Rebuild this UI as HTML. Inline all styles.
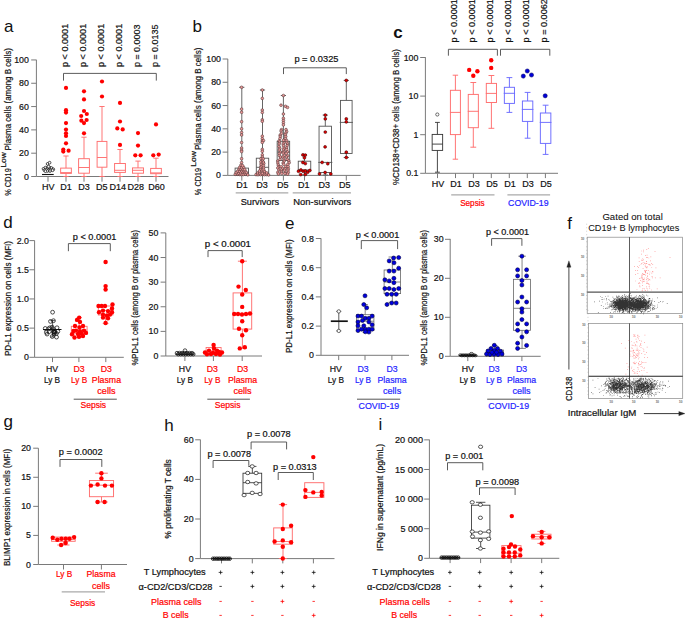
<!DOCTYPE html>
<html><head><meta charset="utf-8"><title>Figure</title>
<style>html,body{margin:0;padding:0;background:#fff;}svg{display:block;}</style></head>
<body><svg width="685" height="619" viewBox="0 0 685 619" font-family='"Liberation Sans", sans-serif' fill="#111">
<rect width="685" height="619" fill="#fff"/>
<text x="4" y="32.1" font-size="17">a</text>
<line x1="36.4" y1="59.8" x2="36.4" y2="176.5" stroke="#7a7a7a" stroke-width="1"/>
<line x1="31.2" y1="176.5" x2="36.4" y2="176.5" stroke="#7a7a7a" stroke-width="1"/>
<text x="28.9" y="179.54" font-size="8.8" stroke="#111" stroke-width="0.2" text-anchor="end">0</text>
<line x1="31.2" y1="153.19" x2="36.4" y2="153.19" stroke="#7a7a7a" stroke-width="1"/>
<text x="28.9" y="156.23" font-size="8.8" stroke="#111" stroke-width="0.2" text-anchor="end">20</text>
<line x1="31.2" y1="129.88" x2="36.4" y2="129.88" stroke="#7a7a7a" stroke-width="1"/>
<text x="28.9" y="132.92" font-size="8.8" stroke="#111" stroke-width="0.2" text-anchor="end">40</text>
<line x1="31.2" y1="106.57" x2="36.4" y2="106.57" stroke="#7a7a7a" stroke-width="1"/>
<text x="28.9" y="109.61" font-size="8.8" stroke="#111" stroke-width="0.2" text-anchor="end">60</text>
<line x1="31.2" y1="83.26" x2="36.4" y2="83.26" stroke="#7a7a7a" stroke-width="1"/>
<text x="28.9" y="86.3" font-size="8.8" stroke="#111" stroke-width="0.2" text-anchor="end">80</text>
<line x1="31.2" y1="59.95" x2="36.4" y2="59.95" stroke="#7a7a7a" stroke-width="1"/>
<text x="28.9" y="62.99" font-size="8.8" stroke="#111" stroke-width="0.2" text-anchor="end">100</text>
<line x1="36.4" y1="176.5" x2="168.5" y2="176.5" stroke="#7a7a7a" stroke-width="1"/>
<line x1="48" y1="176.5" x2="48" y2="181.7" stroke="#7a7a7a" stroke-width="1"/>
<line x1="66" y1="176.5" x2="66" y2="181.7" stroke="#7a7a7a" stroke-width="1"/>
<line x1="84" y1="176.5" x2="84" y2="181.7" stroke="#7a7a7a" stroke-width="1"/>
<line x1="102" y1="176.5" x2="102" y2="181.7" stroke="#7a7a7a" stroke-width="1"/>
<line x1="120" y1="176.5" x2="120" y2="181.7" stroke="#7a7a7a" stroke-width="1"/>
<line x1="138" y1="176.5" x2="138" y2="181.7" stroke="#7a7a7a" stroke-width="1"/>
<line x1="156" y1="176.5" x2="156" y2="181.7" stroke="#7a7a7a" stroke-width="1"/>
<text x="48.2" y="189.6" font-size="9" stroke="#111" stroke-width="0.2" text-anchor="middle">HV</text>
<text x="66" y="189.6" font-size="9" stroke="#111" stroke-width="0.2" text-anchor="middle">D1</text>
<text x="84" y="189.6" font-size="9" stroke="#111" stroke-width="0.2" text-anchor="middle">D3</text>
<text x="101.8" y="189.6" font-size="9" stroke="#111" stroke-width="0.2" text-anchor="middle">D5</text>
<text x="117.8" y="189.6" font-size="9" stroke="#111" stroke-width="0.2" text-anchor="middle">D14</text>
<text x="135.7" y="189.6" font-size="9" stroke="#111" stroke-width="0.2" text-anchor="middle">D28</text>
<text x="156.4" y="189.6" font-size="9" stroke="#111" stroke-width="0.2" text-anchor="middle">D60</text>
<text transform="translate(11.2,195.8) rotate(-90)" font-size="9" stroke="#111" stroke-width="0.2" textLength="27.6" lengthAdjust="spacingAndGlyphs">% CD19</text>
<text transform="translate(6.4,167.6) rotate(-90)" font-size="7.6" stroke="#111" stroke-width="0.2" textLength="15.3" lengthAdjust="spacingAndGlyphs">Low</text>
<text transform="translate(11.2,150.4) rotate(-90)" font-size="8.8" stroke="#111" stroke-width="0.2" textLength="102.2" lengthAdjust="spacingAndGlyphs">Plasma cells (among B cells)</text>
<text transform="translate(68.3,67) rotate(-90)" font-size="9" stroke="#111" stroke-width="0.2" textLength="43.2" lengthAdjust="spacingAndGlyphs">p &lt; 0.0001</text>
<text transform="translate(86.3,67) rotate(-90)" font-size="9" stroke="#111" stroke-width="0.2" textLength="43.2" lengthAdjust="spacingAndGlyphs">p &lt; 0.0001</text>
<text transform="translate(104.3,67) rotate(-90)" font-size="9" stroke="#111" stroke-width="0.2" textLength="43.2" lengthAdjust="spacingAndGlyphs">p &lt; 0.0001</text>
<text transform="translate(122.3,67) rotate(-90)" font-size="9" stroke="#111" stroke-width="0.2" textLength="43.2" lengthAdjust="spacingAndGlyphs">p &lt; 0.0001</text>
<text transform="translate(140.3,67) rotate(-90)" font-size="9" stroke="#111" stroke-width="0.2" textLength="42.4" lengthAdjust="spacingAndGlyphs">p = 0.0003</text>
<text transform="translate(158.3,67) rotate(-90)" font-size="9" stroke="#111" stroke-width="0.2" textLength="42.4" lengthAdjust="spacingAndGlyphs">p = 0.0135</text>
<path d="M63.5 80.6V73.4H156.3V80.6" stroke="#4a4a4a" stroke-width="0.9" fill="none"/>
<line x1="42" y1="174.5" x2="53.7" y2="174.5" stroke="#111" stroke-width="1.1"/>
<g fill="#fff" stroke="#111" stroke-width="0.75"><circle cx="47.6" cy="163.9" r="1.35"/><circle cx="49.6" cy="162.7" r="1.35"/><circle cx="43.5" cy="168.8" r="1.35"/><circle cx="45.5" cy="167.6" r="1.35"/><circle cx="47.5" cy="168" r="1.35"/><circle cx="49.5" cy="167.5" r="1.35"/><circle cx="51.5" cy="168" r="1.35"/><circle cx="53.3" cy="169.3" r="1.35"/><circle cx="44.5" cy="170.3" r="1.35"/><circle cx="46.5" cy="169.8" r="1.35"/><circle cx="48.5" cy="170.2" r="1.35"/><circle cx="50.5" cy="169.8" r="1.35"/><circle cx="52.5" cy="170.3" r="1.35"/><circle cx="47.5" cy="171" r="1.35"/><circle cx="50" cy="171" r="1.35"/><circle cx="45.5" cy="171.2" r="1.35"/><circle cx="48.5" cy="166.6" r="1.35"/></g>
<line x1="66" y1="156" x2="66" y2="168.1" stroke="#ff6e6e" stroke-width="0.95"/>
<line x1="63.4" y1="156" x2="68.6" y2="156" stroke="#ff6e6e" stroke-width="0.95"/>
<line x1="66" y1="173.4" x2="66" y2="176.5" stroke="#ff6e6e" stroke-width="0.95"/>
<line x1="63.4" y1="176.5" x2="68.6" y2="176.5" stroke="#ff6e6e" stroke-width="0.95"/>
<rect x="60.65" y="168.1" width="10.7" height="5.3" stroke="#ff6e6e" stroke-width="0.95" fill="none"/>
<line x1="60.65" y1="172.6" x2="71.35" y2="172.6" stroke="#ff6e6e" stroke-width="0.95"/>
<line x1="84" y1="137.2" x2="84" y2="158.7" stroke="#ff6e6e" stroke-width="0.95"/>
<line x1="81.4" y1="137.2" x2="86.6" y2="137.2" stroke="#ff6e6e" stroke-width="0.95"/>
<line x1="84" y1="173.2" x2="84" y2="176.5" stroke="#ff6e6e" stroke-width="0.95"/>
<line x1="81.4" y1="176.5" x2="86.6" y2="176.5" stroke="#ff6e6e" stroke-width="0.95"/>
<rect x="78.6" y="158.7" width="10.8" height="14.5" stroke="#ff6e6e" stroke-width="0.95" fill="none"/>
<line x1="78.6" y1="167.5" x2="89.4" y2="167.5" stroke="#ff6e6e" stroke-width="0.95"/>
<line x1="102" y1="106.5" x2="102" y2="141.4" stroke="#ff6e6e" stroke-width="0.95"/>
<line x1="99.4" y1="106.5" x2="104.6" y2="106.5" stroke="#ff6e6e" stroke-width="0.95"/>
<line x1="102" y1="167.2" x2="102" y2="176.5" stroke="#ff6e6e" stroke-width="0.95"/>
<line x1="99.4" y1="176.5" x2="104.6" y2="176.5" stroke="#ff6e6e" stroke-width="0.95"/>
<rect x="97.1" y="141.4" width="9.8" height="25.8" stroke="#ff6e6e" stroke-width="0.95" fill="none"/>
<line x1="97.1" y1="157.5" x2="106.9" y2="157.5" stroke="#ff6e6e" stroke-width="0.95"/>
<line x1="120" y1="149.5" x2="120" y2="163.5" stroke="#ff6e6e" stroke-width="0.95"/>
<line x1="117.4" y1="149.5" x2="122.6" y2="149.5" stroke="#ff6e6e" stroke-width="0.95"/>
<line x1="120" y1="172.4" x2="120" y2="176.5" stroke="#ff6e6e" stroke-width="0.95"/>
<line x1="117.4" y1="176.5" x2="122.6" y2="176.5" stroke="#ff6e6e" stroke-width="0.95"/>
<rect x="114.6" y="163.5" width="10.8" height="8.9" stroke="#ff6e6e" stroke-width="0.95" fill="none"/>
<line x1="114.6" y1="170.3" x2="125.4" y2="170.3" stroke="#ff6e6e" stroke-width="0.95"/>
<line x1="138" y1="161.1" x2="138" y2="167.9" stroke="#ff6e6e" stroke-width="0.95"/>
<line x1="135.4" y1="161.1" x2="140.6" y2="161.1" stroke="#ff6e6e" stroke-width="0.95"/>
<line x1="138" y1="173.2" x2="138" y2="176.5" stroke="#ff6e6e" stroke-width="0.95"/>
<line x1="135.4" y1="176.5" x2="140.6" y2="176.5" stroke="#ff6e6e" stroke-width="0.95"/>
<rect x="132.5" y="167.9" width="11" height="5.3" stroke="#ff6e6e" stroke-width="0.95" fill="none"/>
<line x1="132.5" y1="170.3" x2="143.5" y2="170.3" stroke="#ff6e6e" stroke-width="0.95"/>
<line x1="156" y1="158.2" x2="156" y2="168.4" stroke="#ff6e6e" stroke-width="0.95"/>
<line x1="153.4" y1="158.2" x2="158.6" y2="158.2" stroke="#ff6e6e" stroke-width="0.95"/>
<line x1="156" y1="173.7" x2="156" y2="176.5" stroke="#ff6e6e" stroke-width="0.95"/>
<line x1="153.4" y1="176.5" x2="158.6" y2="176.5" stroke="#ff6e6e" stroke-width="0.95"/>
<rect x="150.65" y="168.4" width="10.7" height="5.3" stroke="#ff6e6e" stroke-width="0.95" fill="none"/>
<line x1="150.65" y1="172.9" x2="161.35" y2="172.9" stroke="#ff6e6e" stroke-width="0.95"/>
<g fill="#ff0000"><circle cx="66" cy="87.9" r="2.1"/><circle cx="66" cy="110.2" r="2.1"/><circle cx="66" cy="112.6" r="2.1"/><circle cx="66" cy="123.1" r="2.1"/><circle cx="66" cy="129.6" r="2.1"/><circle cx="66" cy="133.3" r="2.1"/><circle cx="66" cy="136" r="2.1"/><circle cx="66" cy="143.3" r="2.1"/><circle cx="63.3" cy="149.5" r="2.1"/><circle cx="63.3" cy="151.6" r="2.1"/><circle cx="68.6" cy="150.7" r="2.1"/><circle cx="84" cy="91.3" r="2.1"/><circle cx="84" cy="99.4" r="2.1"/><circle cx="84" cy="111" r="2.1"/><circle cx="86.8" cy="114" r="2.1"/><circle cx="81.2" cy="116" r="2.1"/><circle cx="86.6" cy="120" r="2.1"/><circle cx="81.4" cy="120.7" r="2.1"/><circle cx="84" cy="123.1" r="2.1"/><circle cx="84" cy="133.3" r="2.1"/><circle cx="102" cy="81.5" r="2.1"/><circle cx="102" cy="96.5" r="2.1"/><circle cx="120" cy="102.9" r="2.1"/><circle cx="120" cy="121.5" r="2.1"/><circle cx="117.3" cy="128.4" r="2.1"/><circle cx="122.7" cy="129.4" r="2.1"/><circle cx="120" cy="144.9" r="2.1"/><circle cx="138" cy="133.1" r="2.1"/><circle cx="138" cy="145.6" r="2.1"/><circle cx="135.3" cy="155.3" r="2.1"/><circle cx="140.6" cy="155.3" r="2.1"/><circle cx="156" cy="124.4" r="2.1"/><circle cx="153.3" cy="155.3" r="2.1"/><circle cx="158.7" cy="154.6" r="2.1"/></g>
<text x="192.5" y="32.3" font-size="17">b</text>
<line x1="227.8" y1="58.9" x2="227.8" y2="175.4" stroke="#7a7a7a" stroke-width="1"/>
<line x1="222.6" y1="175.4" x2="227.8" y2="175.4" stroke="#7a7a7a" stroke-width="1"/>
<text x="221" y="178.44" font-size="8.8" stroke="#111" stroke-width="0.2" text-anchor="end">0</text>
<line x1="222.6" y1="152.12" x2="227.8" y2="152.12" stroke="#7a7a7a" stroke-width="1"/>
<text x="221" y="155.16" font-size="8.8" stroke="#111" stroke-width="0.2" text-anchor="end">20</text>
<line x1="222.6" y1="128.84" x2="227.8" y2="128.84" stroke="#7a7a7a" stroke-width="1"/>
<text x="221" y="131.88" font-size="8.8" stroke="#111" stroke-width="0.2" text-anchor="end">40</text>
<line x1="222.6" y1="105.56" x2="227.8" y2="105.56" stroke="#7a7a7a" stroke-width="1"/>
<text x="221" y="108.6" font-size="8.8" stroke="#111" stroke-width="0.2" text-anchor="end">60</text>
<line x1="222.6" y1="82.28" x2="227.8" y2="82.28" stroke="#7a7a7a" stroke-width="1"/>
<text x="221" y="85.32" font-size="8.8" stroke="#111" stroke-width="0.2" text-anchor="end">80</text>
<line x1="222.6" y1="59" x2="227.8" y2="59" stroke="#7a7a7a" stroke-width="1"/>
<text x="221" y="62.04" font-size="8.8" stroke="#111" stroke-width="0.2" text-anchor="end">100</text>
<line x1="227.8" y1="175.4" x2="360.6" y2="175.4" stroke="#7a7a7a" stroke-width="1"/>
<line x1="241.8" y1="175.4" x2="241.8" y2="180.6" stroke="#7a7a7a" stroke-width="1"/>
<line x1="262.5" y1="175.4" x2="262.5" y2="180.6" stroke="#7a7a7a" stroke-width="1"/>
<line x1="283.4" y1="175.4" x2="283.4" y2="180.6" stroke="#7a7a7a" stroke-width="1"/>
<line x1="304.5" y1="175.4" x2="304.5" y2="180.6" stroke="#7a7a7a" stroke-width="1"/>
<line x1="325.3" y1="175.4" x2="325.3" y2="180.6" stroke="#7a7a7a" stroke-width="1"/>
<line x1="346.3" y1="175.4" x2="346.3" y2="180.6" stroke="#7a7a7a" stroke-width="1"/>
<text x="242" y="188" font-size="9" stroke="#111" stroke-width="0.2" text-anchor="middle">D1</text>
<text x="262" y="188" font-size="9" stroke="#111" stroke-width="0.2" text-anchor="middle">D3</text>
<text x="282.7" y="188" font-size="9" stroke="#111" stroke-width="0.2" text-anchor="middle">D5</text>
<text x="303.8" y="188" font-size="9" stroke="#111" stroke-width="0.2" text-anchor="middle">D1</text>
<text x="324.3" y="188" font-size="9" stroke="#111" stroke-width="0.2" text-anchor="middle">D3</text>
<text x="344.7" y="188" font-size="9" stroke="#111" stroke-width="0.2" text-anchor="middle">D5</text>
<line x1="235.7" y1="192.9" x2="288.3" y2="192.9" stroke="#aaa" stroke-width="1.2"/>
<line x1="292.7" y1="192.9" x2="351" y2="192.9" stroke="#aaa" stroke-width="1.2"/>
<text x="240.7" y="204.9" font-size="8.8" stroke="#111" stroke-width="0.2" textLength="38.4" lengthAdjust="spacingAndGlyphs">Survivors</text>
<text x="293.3" y="204.9" font-size="8.8" stroke="#111" stroke-width="0.2" textLength="58" lengthAdjust="spacingAndGlyphs">Non-survivors</text>
<text transform="translate(201,195.2) rotate(-90)" font-size="9" stroke="#111" stroke-width="0.2" textLength="27.4" lengthAdjust="spacingAndGlyphs">% CD19</text>
<text transform="translate(196.4,166.8) rotate(-90)" font-size="7.6" stroke="#111" stroke-width="0.2" textLength="15.6" lengthAdjust="spacingAndGlyphs">Low</text>
<text transform="translate(201,150) rotate(-90)" font-size="8.8" stroke="#111" stroke-width="0.2" textLength="102.4" lengthAdjust="spacingAndGlyphs">Plasma cells (among B cells)</text>
<text x="294.4" y="62" font-size="9" stroke="#111" stroke-width="0.2" textLength="44.1" lengthAdjust="spacingAndGlyphs">p = 0.0325</text>
<path d="M283.5 74.1V67.8H346.3V74.1" stroke="#4a4a4a" stroke-width="0.9" fill="none"/>
<line x1="241.8" y1="87.3" x2="241.8" y2="168.1" stroke="#555" stroke-width="0.9"/>
<line x1="239.2" y1="87.3" x2="244.4" y2="87.3" stroke="#555" stroke-width="0.9"/>
<rect x="235.1" y="168.1" width="13.4" height="7.3" stroke="#555" stroke-width="0.9" fill="none"/>
<line x1="235.1" y1="172.5" x2="248.5" y2="172.5" stroke="#555" stroke-width="0.9"/>
<line x1="262.5" y1="90" x2="262.5" y2="158.2" stroke="#555" stroke-width="0.9"/>
<line x1="259.9" y1="90" x2="265.1" y2="90" stroke="#555" stroke-width="0.9"/>
<rect x="256.3" y="158.2" width="12.4" height="17.2" stroke="#555" stroke-width="0.9" fill="none"/>
<line x1="256.3" y1="167.3" x2="268.7" y2="167.3" stroke="#555" stroke-width="0.9"/>
<line x1="283.4" y1="95.5" x2="283.4" y2="141.3" stroke="#555" stroke-width="0.9"/>
<line x1="280.8" y1="95.5" x2="286" y2="95.5" stroke="#555" stroke-width="0.9"/>
<rect x="277.15" y="141.3" width="12.5" height="19.2" stroke="#555" stroke-width="0.9" fill="none"/>
<line x1="277.15" y1="152" x2="289.65" y2="152" stroke="#555" stroke-width="0.9"/>
<line x1="304.5" y1="154.9" x2="304.5" y2="161.2" stroke="#555" stroke-width="0.9"/>
<line x1="302.3" y1="154.9" x2="306.7" y2="154.9" stroke="#555" stroke-width="0.9"/>
<line x1="304.5" y1="170.8" x2="304.5" y2="175" stroke="#555" stroke-width="0.9"/>
<line x1="302.3" y1="175" x2="306.7" y2="175" stroke="#555" stroke-width="0.9"/>
<rect x="298.25" y="161.2" width="12.5" height="9.6" stroke="#555" stroke-width="0.9" fill="none"/>
<line x1="298.25" y1="170" x2="310.75" y2="170" stroke="#555" stroke-width="0.9"/>
<line x1="325.3" y1="115.1" x2="325.3" y2="126.2" stroke="#555" stroke-width="0.9"/>
<line x1="322.7" y1="115.1" x2="327.9" y2="115.1" stroke="#555" stroke-width="0.9"/>
<line x1="325.3" y1="172.5" x2="325.3" y2="175" stroke="#555" stroke-width="0.9"/>
<line x1="322.7" y1="175" x2="327.9" y2="175" stroke="#555" stroke-width="0.9"/>
<rect x="319.05" y="126.2" width="12.5" height="46.3" stroke="#555" stroke-width="0.9" fill="none"/>
<line x1="318.25" y1="162.4" x2="332.35" y2="162.4" stroke="#555" stroke-width="0.9"/>
<line x1="346.3" y1="80.4" x2="346.3" y2="100.4" stroke="#555" stroke-width="0.9"/>
<line x1="343.7" y1="80.4" x2="348.9" y2="80.4" stroke="#555" stroke-width="0.9"/>
<line x1="346.3" y1="153.5" x2="346.3" y2="157.5" stroke="#555" stroke-width="0.9"/>
<line x1="343.7" y1="157.5" x2="348.9" y2="157.5" stroke="#555" stroke-width="0.9"/>
<rect x="340.5" y="100.4" width="11.6" height="53.1" stroke="#555" stroke-width="0.9" fill="none"/>
<line x1="339.7" y1="122.4" x2="352.9" y2="122.4" stroke="#555" stroke-width="0.9"/>
<g fill="#ee9a9a" stroke="#4a3030" stroke-width="0.55"><circle cx="241.6" cy="87.3" r="1.35"/><circle cx="241.6" cy="109.1" r="1.35"/><circle cx="241.6" cy="112.3" r="1.35"/><circle cx="241.6" cy="121.7" r="1.35"/><circle cx="241.6" cy="128.8" r="1.35"/><circle cx="241.6" cy="132.5" r="1.35"/><circle cx="241.6" cy="135" r="1.35"/><circle cx="241.6" cy="142.5" r="1.35"/><circle cx="241.6" cy="148.1" r="1.35"/><circle cx="241.6" cy="150.3" r="1.35"/><circle cx="241.6" cy="151.6" r="1.35"/><circle cx="241.6" cy="158.7" r="1.35"/><circle cx="241.6" cy="162.6" r="1.35"/><circle cx="235.28" cy="174.32" r="1.35"/><circle cx="237.57" cy="174.26" r="1.35"/><circle cx="239.56" cy="174.49" r="1.35"/><circle cx="241.29" cy="174.61" r="1.35"/><circle cx="243.34" cy="174.55" r="1.35"/><circle cx="245.43" cy="174.27" r="1.35"/><circle cx="247.75" cy="174.86" r="1.35"/><circle cx="236.34" cy="172.58" r="1.35"/><circle cx="238.69" cy="173.16" r="1.35"/><circle cx="240.65" cy="172.72" r="1.35"/><circle cx="242.93" cy="172.44" r="1.35"/><circle cx="244.85" cy="172.63" r="1.35"/><circle cx="246.35" cy="172.49" r="1.35"/><circle cx="237.67" cy="171.25" r="1.35"/><circle cx="239.48" cy="171.07" r="1.35"/><circle cx="241.7" cy="170.9" r="1.35"/><circle cx="243.53" cy="170.65" r="1.35"/><circle cx="245.09" cy="170.76" r="1.35"/><circle cx="238.93" cy="169.14" r="1.35"/><circle cx="240.54" cy="169.27" r="1.35"/><circle cx="242.5" cy="169.04" r="1.35"/><circle cx="244.61" cy="169.36" r="1.35"/><circle cx="239.62" cy="167.46" r="1.35"/><circle cx="241.62" cy="167.7" r="1.35"/><circle cx="243.56" cy="167.23" r="1.35"/><circle cx="240.94" cy="165.19" r="1.35"/><circle cx="242.54" cy="165.71" r="1.35"/><circle cx="262.3" cy="90" r="1.35"/><circle cx="262.3" cy="98.4" r="1.35"/><circle cx="262.3" cy="110.1" r="1.35"/><circle cx="262.3" cy="112.5" r="1.35"/><circle cx="262.3" cy="119.8" r="1.35"/><circle cx="262.3" cy="121.3" r="1.35"/><circle cx="262.3" cy="136.2" r="1.35"/><circle cx="262.3" cy="138.7" r="1.35"/><circle cx="262.3" cy="140.9" r="1.35"/><circle cx="263.5" cy="140.6" r="1.35"/><circle cx="262.3" cy="142.5" r="1.35"/><circle cx="262.3" cy="149.4" r="1.35"/><circle cx="262.3" cy="151.3" r="1.35"/><circle cx="262.3" cy="154.9" r="1.35"/><circle cx="262.3" cy="157.1" r="1.35"/><circle cx="256.06" cy="174.59" r="1.35"/><circle cx="257.98" cy="174.73" r="1.35"/><circle cx="260.49" cy="174.66" r="1.35"/><circle cx="262.56" cy="174.45" r="1.35"/><circle cx="264.44" cy="174.68" r="1.35"/><circle cx="266.36" cy="174.56" r="1.35"/><circle cx="268.54" cy="174.96" r="1.35"/><circle cx="257.78" cy="172.93" r="1.35"/><circle cx="259.74" cy="172.96" r="1.35"/><circle cx="262.4" cy="173.19" r="1.35"/><circle cx="264.78" cy="172.63" r="1.35"/><circle cx="266.72" cy="172.93" r="1.35"/><circle cx="259.57" cy="170.97" r="1.35"/><circle cx="262.07" cy="170.69" r="1.35"/><circle cx="264.39" cy="171.21" r="1.35"/><circle cx="260.74" cy="169" r="1.35"/><circle cx="263.52" cy="169.5" r="1.35"/><circle cx="260.71" cy="167.36" r="1.35"/><circle cx="263.63" cy="167.71" r="1.35"/><circle cx="261.22" cy="165.89" r="1.35"/><circle cx="263.44" cy="165.53" r="1.35"/><circle cx="261" cy="164.11" r="1.35"/><circle cx="263.82" cy="163.52" r="1.35"/><circle cx="260.87" cy="161.79" r="1.35"/><circle cx="263.31" cy="161.99" r="1.35"/><circle cx="262.36" cy="160.01" r="1.35"/><circle cx="260.95" cy="158.74" r="1.35"/><circle cx="263.21" cy="158.85" r="1.35"/><circle cx="283.4" cy="95.5" r="1.35"/><circle cx="281" cy="105.2" r="1.35"/><circle cx="285.5" cy="106.3" r="1.35"/><circle cx="287.5" cy="107.4" r="1.35"/><circle cx="283.4" cy="114" r="1.35"/><circle cx="283.4" cy="118.3" r="1.35"/><circle cx="283.4" cy="120.5" r="1.35"/><circle cx="283.4" cy="122.7" r="1.35"/><circle cx="283.4" cy="124.9" r="1.35"/><circle cx="281.52" cy="129.65" r="1.35"/><circle cx="286.02" cy="129.59" r="1.35"/><circle cx="281.08" cy="130.99" r="1.35"/><circle cx="286.64" cy="131.57" r="1.35"/><circle cx="281.4" cy="133.44" r="1.35"/><circle cx="285.83" cy="133.12" r="1.35"/><circle cx="280.17" cy="135.16" r="1.35"/><circle cx="285.3" cy="134.7" r="1.35"/><circle cx="280.33" cy="136.63" r="1.35"/><circle cx="285.74" cy="136.54" r="1.35"/><circle cx="280" cy="138.47" r="1.35"/><circle cx="285.36" cy="138.64" r="1.35"/><circle cx="279.04" cy="140.9" r="1.35"/><circle cx="283.58" cy="140.32" r="1.35"/><circle cx="286.6" cy="140.48" r="1.35"/><circle cx="279.58" cy="142.15" r="1.35"/><circle cx="283.96" cy="142.84" r="1.35"/><circle cx="286.95" cy="142.44" r="1.35"/><circle cx="279.14" cy="143.98" r="1.35"/><circle cx="283.15" cy="144.11" r="1.35"/><circle cx="287.53" cy="144.03" r="1.35"/><circle cx="279.04" cy="146.51" r="1.35"/><circle cx="283.45" cy="145.87" r="1.35"/><circle cx="287.07" cy="145.77" r="1.35"/><circle cx="279.84" cy="148.38" r="1.35"/><circle cx="283.98" cy="148.16" r="1.35"/><circle cx="286.62" cy="147.89" r="1.35"/><circle cx="279.27" cy="150.07" r="1.35"/><circle cx="283.45" cy="150.07" r="1.35"/><circle cx="286.73" cy="149.63" r="1.35"/><circle cx="280.3" cy="152.09" r="1.35"/><circle cx="283.96" cy="151.94" r="1.35"/><circle cx="287.51" cy="151.89" r="1.35"/><circle cx="279.36" cy="153.56" r="1.35"/><circle cx="283.17" cy="153.17" r="1.35"/><circle cx="286.24" cy="153.37" r="1.35"/><circle cx="279.41" cy="155.55" r="1.35"/><circle cx="284.13" cy="155.36" r="1.35"/><circle cx="287.7" cy="155.79" r="1.35"/><circle cx="280.53" cy="157.14" r="1.35"/><circle cx="282.95" cy="157.03" r="1.35"/><circle cx="286.51" cy="157.01" r="1.35"/><circle cx="280" cy="159.42" r="1.35"/><circle cx="283.94" cy="159.08" r="1.35"/><circle cx="287.24" cy="159.34" r="1.35"/><circle cx="277.74" cy="161.08" r="1.35"/><circle cx="284.06" cy="161.18" r="1.35"/><circle cx="288.8" cy="160.93" r="1.35"/><circle cx="277.89" cy="163.03" r="1.35"/><circle cx="283.13" cy="163.04" r="1.35"/><circle cx="289.15" cy="162.72" r="1.35"/><circle cx="278.24" cy="165.01" r="1.35"/><circle cx="283.76" cy="164.39" r="1.35"/><circle cx="287.8" cy="164.37" r="1.35"/><circle cx="279.05" cy="166.75" r="1.35"/><circle cx="281.17" cy="166.76" r="1.35"/><circle cx="285.84" cy="166.63" r="1.35"/><circle cx="288.16" cy="166.54" r="1.35"/><circle cx="277.81" cy="167.96" r="1.35"/><circle cx="282.49" cy="168.47" r="1.35"/><circle cx="285.11" cy="168.7" r="1.35"/><circle cx="288.29" cy="168.65" r="1.35"/><circle cx="278.92" cy="169.97" r="1.35"/><circle cx="281.34" cy="170.03" r="1.35"/><circle cx="284.65" cy="170.27" r="1.35"/><circle cx="288.01" cy="170.14" r="1.35"/><circle cx="277.81" cy="172.38" r="1.35"/><circle cx="281.5" cy="172.02" r="1.35"/><circle cx="285.2" cy="172.37" r="1.35"/><circle cx="288.27" cy="172.38" r="1.35"/><circle cx="278.4" cy="173.93" r="1.35"/><circle cx="281.77" cy="173.51" r="1.35"/><circle cx="284.97" cy="173.65" r="1.35"/><circle cx="287.61" cy="174.14" r="1.35"/></g>
<g fill="#e00000" stroke="#3a0000" stroke-width="0.55"><circle cx="302.9" cy="154.9" r="1.45"/><circle cx="305.3" cy="155.1" r="1.45"/><circle cx="304.4" cy="157.8" r="1.45"/><circle cx="302.9" cy="162.5" r="1.45"/><circle cx="305.3" cy="163.6" r="1.45"/><circle cx="298.5" cy="171.3" r="1.45"/><circle cx="300.9" cy="170" r="1.45"/><circle cx="303.2" cy="171.3" r="1.45"/><circle cx="305.3" cy="170.9" r="1.45"/><circle cx="307.6" cy="172.3" r="1.45"/><circle cx="309.8" cy="170.5" r="1.45"/><circle cx="300.7" cy="174.6" r="1.45"/><circle cx="305.3" cy="174.4" r="1.45"/><circle cx="325.3" cy="115.1" r="1.45"/><circle cx="325.3" cy="118.9" r="1.45"/><circle cx="325.3" cy="132.1" r="1.45"/><circle cx="325.1" cy="146.9" r="1.45"/><circle cx="322.1" cy="162.4" r="1.45"/><circle cx="327.8" cy="163.7" r="1.45"/><circle cx="325.1" cy="172.5" r="1.45"/><circle cx="319.5" cy="173.9" r="1.45"/><circle cx="330.8" cy="173.9" r="1.45"/><circle cx="346.3" cy="80.4" r="1.45"/><circle cx="346.3" cy="118.9" r="1.45"/><circle cx="346.3" cy="121.9" r="1.45"/><circle cx="346.3" cy="152.2" r="1.45"/><circle cx="346.3" cy="157.5" r="1.45"/></g>
<text x="393.2" y="38.4" font-size="17" font-weight="bold">c</text>
<line x1="425.4" y1="57.2" x2="425.4" y2="173.3" stroke="#7a7a7a" stroke-width="1"/>
<line x1="420.2" y1="173.3" x2="425.4" y2="173.3" stroke="#7a7a7a" stroke-width="1"/>
<text x="418.4" y="176.34" font-size="8.8" stroke="#111" stroke-width="0.2" text-anchor="end">0.1</text>
<line x1="420.2" y1="134.7" x2="425.4" y2="134.7" stroke="#7a7a7a" stroke-width="1"/>
<text x="418.4" y="137.74" font-size="8.8" stroke="#111" stroke-width="0.2" text-anchor="end">1</text>
<line x1="420.2" y1="96.1" x2="425.4" y2="96.1" stroke="#7a7a7a" stroke-width="1"/>
<text x="418.4" y="99.14" font-size="8.8" stroke="#111" stroke-width="0.2" text-anchor="end">10</text>
<line x1="420.2" y1="57.5" x2="425.4" y2="57.5" stroke="#7a7a7a" stroke-width="1"/>
<text x="418.4" y="60.54" font-size="8.8" stroke="#111" stroke-width="0.2" text-anchor="end">100</text>
<line x1="425.4" y1="173.3" x2="558" y2="173.3" stroke="#7a7a7a" stroke-width="1"/>
<line x1="437.5" y1="173.3" x2="437.5" y2="178.1" stroke="#7a7a7a" stroke-width="1"/>
<line x1="455.5" y1="173.3" x2="455.5" y2="178.1" stroke="#7a7a7a" stroke-width="1"/>
<line x1="473.4" y1="173.3" x2="473.4" y2="178.1" stroke="#7a7a7a" stroke-width="1"/>
<line x1="491.3" y1="173.3" x2="491.3" y2="178.1" stroke="#7a7a7a" stroke-width="1"/>
<line x1="509.3" y1="173.3" x2="509.3" y2="178.1" stroke="#7a7a7a" stroke-width="1"/>
<line x1="527.3" y1="173.3" x2="527.3" y2="178.1" stroke="#7a7a7a" stroke-width="1"/>
<line x1="545.4" y1="173.3" x2="545.4" y2="178.1" stroke="#7a7a7a" stroke-width="1"/>
<text x="438.1" y="187.2" font-size="9" stroke="#111" stroke-width="0.2" text-anchor="middle">HV</text>
<text x="456.1" y="187.2" font-size="9" stroke="#111" stroke-width="0.2" text-anchor="middle">D1</text>
<text x="474" y="187.2" font-size="9" stroke="#111" stroke-width="0.2" text-anchor="middle">D3</text>
<text x="491.9" y="187.2" font-size="9" stroke="#111" stroke-width="0.2" text-anchor="middle">D5</text>
<text x="509.9" y="187.2" font-size="9" stroke="#111" stroke-width="0.2" text-anchor="middle">D1</text>
<text x="527.9" y="187.2" font-size="9" stroke="#111" stroke-width="0.2" text-anchor="middle">D3</text>
<text x="546" y="187.2" font-size="9" stroke="#111" stroke-width="0.2" text-anchor="middle">D5</text>
<line x1="451.2" y1="194.9" x2="494.5" y2="194.9" stroke="#aaa" stroke-width="1.3"/>
<line x1="507.4" y1="194.9" x2="550.1" y2="194.9" stroke="#aaa" stroke-width="1.3"/>
<text x="472.4" y="205.9" font-size="8.7" stroke="#ff0000" stroke-width="0.2" text-anchor="middle" fill="#ff0000" textLength="24.5" lengthAdjust="spacingAndGlyphs">Sepsis</text>
<text x="528.3" y="205.9" font-size="8.7" stroke="#1f1fff" stroke-width="0.2" text-anchor="middle" fill="#1f1fff" textLength="40.5" lengthAdjust="spacingAndGlyphs">COVID-19</text>
<text transform="translate(398.6,184.9) rotate(-90)" font-size="9" stroke="#111" stroke-width="0.2" textLength="135.8" lengthAdjust="spacingAndGlyphs">%CD138+CD38+ cells (among B cells)</text>
<text transform="translate(457,42.4) rotate(-90)" font-size="9" stroke="#111" stroke-width="0.2" textLength="43.2" lengthAdjust="spacingAndGlyphs">p &lt; 0.0001</text>
<text transform="translate(474.9,42.4) rotate(-90)" font-size="9" stroke="#111" stroke-width="0.2" textLength="43.2" lengthAdjust="spacingAndGlyphs">p &lt; 0.0001</text>
<text transform="translate(492.8,42.4) rotate(-90)" font-size="9" stroke="#111" stroke-width="0.2" textLength="43.2" lengthAdjust="spacingAndGlyphs">p &lt; 0.0001</text>
<text transform="translate(511.1,42.4) rotate(-90)" font-size="9" stroke="#111" stroke-width="0.2" textLength="43.2" lengthAdjust="spacingAndGlyphs">p &lt; 0.0001</text>
<text transform="translate(528.5,42.4) rotate(-90)" font-size="9" stroke="#111" stroke-width="0.2" textLength="43.2" lengthAdjust="spacingAndGlyphs">p &lt; 0.0001</text>
<text transform="translate(546.9,42.4) rotate(-90)" font-size="9" stroke="#111" stroke-width="0.2" textLength="43.2" lengthAdjust="spacingAndGlyphs">p = 0.0062</text>
<path d="M448.4 55.7V49.3H497.4V55.7" stroke="#4a4a4a" stroke-width="0.9" fill="none"/>
<path d="M500.5 55.7V49.3H549.8V55.7" stroke="#4a4a4a" stroke-width="0.9" fill="none"/>
<line x1="437.4" y1="122.4" x2="437.4" y2="134.4" stroke="#333" stroke-width="0.9"/>
<line x1="435" y1="122.4" x2="439.8" y2="122.4" stroke="#333" stroke-width="0.9"/>
<line x1="437.4" y1="150.4" x2="437.4" y2="172.2" stroke="#333" stroke-width="0.9"/>
<line x1="435" y1="172.2" x2="439.8" y2="172.2" stroke="#333" stroke-width="0.9"/>
<rect x="432.15" y="134.4" width="10.5" height="16" stroke="#333" stroke-width="0.9" fill="none"/>
<line x1="432.15" y1="144.1" x2="442.65" y2="144.1" stroke="#333" stroke-width="0.9"/>
<g fill="#fff" stroke="#333" stroke-width="0.7"><circle cx="437.3" cy="114.5" r="1.6"/></g>
<line x1="455.4" y1="75.2" x2="455.4" y2="90.3" stroke="#ff6e6e" stroke-width="0.95"/>
<line x1="452.7" y1="75.2" x2="458.1" y2="75.2" stroke="#ff6e6e" stroke-width="0.95"/>
<line x1="455.4" y1="134.6" x2="455.4" y2="159.2" stroke="#ff6e6e" stroke-width="0.95"/>
<line x1="452.7" y1="159.2" x2="458.1" y2="159.2" stroke="#ff6e6e" stroke-width="0.95"/>
<rect x="450.4" y="90.3" width="10" height="44.3" stroke="#ff6e6e" stroke-width="0.95" fill="none"/>
<line x1="449.9" y1="112.4" x2="460.9" y2="112.4" stroke="#ff6e6e" stroke-width="0.95"/>
<line x1="473.3" y1="82.5" x2="473.3" y2="94.4" stroke="#ff6e6e" stroke-width="0.95"/>
<line x1="470.4" y1="82.5" x2="476.2" y2="82.5" stroke="#ff6e6e" stroke-width="0.95"/>
<line x1="473.3" y1="127.7" x2="473.3" y2="147.2" stroke="#ff6e6e" stroke-width="0.95"/>
<line x1="470.4" y1="147.2" x2="476.2" y2="147.2" stroke="#ff6e6e" stroke-width="0.95"/>
<rect x="468.25" y="94.4" width="10.1" height="33.3" stroke="#ff6e6e" stroke-width="0.95" fill="none"/>
<line x1="467.75" y1="111.3" x2="478.85" y2="111.3" stroke="#ff6e6e" stroke-width="0.95"/>
<line x1="491.4" y1="75.5" x2="491.4" y2="83.4" stroke="#ff6e6e" stroke-width="0.95"/>
<line x1="488.5" y1="75.5" x2="494.3" y2="75.5" stroke="#ff6e6e" stroke-width="0.95"/>
<line x1="491.4" y1="102.5" x2="491.4" y2="128.3" stroke="#ff6e6e" stroke-width="0.95"/>
<line x1="488.5" y1="128.3" x2="494.3" y2="128.3" stroke="#ff6e6e" stroke-width="0.95"/>
<rect x="486.3" y="83.4" width="10.2" height="19.1" stroke="#ff6e6e" stroke-width="0.95" fill="none"/>
<line x1="485.8" y1="93.4" x2="497" y2="93.4" stroke="#ff6e6e" stroke-width="0.95"/>
<g fill="#ff0000"><circle cx="469.2" cy="69.9" r="2.2"/><circle cx="477.4" cy="71.3" r="2.2"/><circle cx="473.3" cy="75.7" r="2.2"/><circle cx="491.2" cy="60.3" r="2.2"/><circle cx="491.2" cy="67.9" r="2.2"/></g>
<line x1="509.4" y1="77.6" x2="509.4" y2="87.3" stroke="#6a6aff" stroke-width="0.95"/>
<line x1="506.5" y1="77.6" x2="512.3" y2="77.6" stroke="#6a6aff" stroke-width="0.95"/>
<line x1="509.4" y1="103.4" x2="509.4" y2="112.4" stroke="#6a6aff" stroke-width="0.95"/>
<line x1="506.5" y1="112.4" x2="512.3" y2="112.4" stroke="#6a6aff" stroke-width="0.95"/>
<rect x="504.35" y="87.3" width="10.1" height="16.1" stroke="#6a6aff" stroke-width="0.95" fill="none"/>
<line x1="503.75" y1="93.3" x2="515.05" y2="93.3" stroke="#6a6aff" stroke-width="0.95"/>
<line x1="527.6" y1="92.4" x2="527.6" y2="101" stroke="#6a6aff" stroke-width="0.95"/>
<line x1="524.7" y1="92.4" x2="530.5" y2="92.4" stroke="#6a6aff" stroke-width="0.95"/>
<line x1="527.6" y1="121.4" x2="527.6" y2="138.2" stroke="#6a6aff" stroke-width="0.95"/>
<line x1="524.7" y1="138.2" x2="530.5" y2="138.2" stroke="#6a6aff" stroke-width="0.95"/>
<rect x="522.4" y="101" width="10.4" height="20.4" stroke="#6a6aff" stroke-width="0.95" fill="none"/>
<line x1="521.8" y1="109.4" x2="533.4" y2="109.4" stroke="#6a6aff" stroke-width="0.95"/>
<line x1="545.6" y1="105.2" x2="545.6" y2="113" stroke="#6a6aff" stroke-width="0.95"/>
<line x1="542.7" y1="105.2" x2="548.5" y2="105.2" stroke="#6a6aff" stroke-width="0.95"/>
<line x1="545.6" y1="143.4" x2="545.6" y2="154.4" stroke="#6a6aff" stroke-width="0.95"/>
<line x1="542.7" y1="154.4" x2="548.5" y2="154.4" stroke="#6a6aff" stroke-width="0.95"/>
<rect x="540.35" y="113" width="10.5" height="30.4" stroke="#6a6aff" stroke-width="0.95" fill="none"/>
<line x1="539.75" y1="122.4" x2="551.45" y2="122.4" stroke="#6a6aff" stroke-width="0.95"/>
<g fill="#0000d8" stroke="#00005a" stroke-width="0.5"><circle cx="523.3" cy="76.1" r="2.1"/><circle cx="527.3" cy="71" r="2.1"/><circle cx="531.5" cy="75" r="2.1"/><circle cx="545.2" cy="95.8" r="2.1"/></g>
<text x="3.3" y="228.2" font-size="17">d</text>
<line x1="34.6" y1="240.5" x2="34.6" y2="357.3" stroke="#7a7a7a" stroke-width="1"/>
<line x1="29.4" y1="357.3" x2="34.6" y2="357.3" stroke="#7a7a7a" stroke-width="1"/>
<text x="28.9" y="360.34" font-size="8.8" stroke="#111" stroke-width="0.2" text-anchor="end">0</text>
<line x1="29.4" y1="328.12" x2="34.6" y2="328.12" stroke="#7a7a7a" stroke-width="1"/>
<text x="28.9" y="331.16" font-size="8.8" stroke="#111" stroke-width="0.2" text-anchor="end">0.5</text>
<line x1="29.4" y1="298.95" x2="34.6" y2="298.95" stroke="#7a7a7a" stroke-width="1"/>
<text x="28.9" y="301.99" font-size="8.8" stroke="#111" stroke-width="0.2" text-anchor="end">1.0</text>
<line x1="29.4" y1="269.77" x2="34.6" y2="269.77" stroke="#7a7a7a" stroke-width="1"/>
<text x="28.9" y="272.81" font-size="8.8" stroke="#111" stroke-width="0.2" text-anchor="end">1.5</text>
<line x1="29.4" y1="240.6" x2="34.6" y2="240.6" stroke="#7a7a7a" stroke-width="1"/>
<text x="28.9" y="243.64" font-size="8.8" stroke="#111" stroke-width="0.2" text-anchor="end">2.0</text>
<line x1="34.6" y1="357.3" x2="123.8" y2="357.3" stroke="#7a7a7a" stroke-width="1"/>
<line x1="52.5" y1="357.3" x2="52.5" y2="362.1" stroke="#7a7a7a" stroke-width="1"/>
<line x1="78.9" y1="357.3" x2="78.9" y2="362.1" stroke="#7a7a7a" stroke-width="1"/>
<line x1="105.8" y1="357.3" x2="105.8" y2="362.1" stroke="#7a7a7a" stroke-width="1"/>
<text x="52" y="371.8" font-size="8.7" stroke="#111" stroke-width="0.2" text-anchor="middle" textLength="12.1" lengthAdjust="spacingAndGlyphs">HV</text>
<text x="52" y="383" font-size="8.7" stroke="#111" stroke-width="0.2" text-anchor="middle" textLength="16.2" lengthAdjust="spacingAndGlyphs">Ly B</text>
<text x="79.1" y="371.8" font-size="8.7" stroke="#ff0000" stroke-width="0.2" text-anchor="middle" fill="#ff0000" textLength="11.2" lengthAdjust="spacingAndGlyphs">D3</text>
<text x="79.1" y="383" font-size="8.7" stroke="#ff0000" stroke-width="0.2" text-anchor="middle" fill="#ff0000" textLength="16.2" lengthAdjust="spacingAndGlyphs">Ly B</text>
<text x="106.4" y="371.8" font-size="8.7" stroke="#ff0000" stroke-width="0.2" text-anchor="middle" fill="#ff0000" textLength="11.2" lengthAdjust="spacingAndGlyphs">D3</text>
<text x="106.4" y="383" font-size="8.7" stroke="#ff0000" stroke-width="0.2" text-anchor="middle" fill="#ff0000" textLength="29.2" lengthAdjust="spacingAndGlyphs">Plasma</text>
<text x="106.4" y="394.2" font-size="8.7" stroke="#ff0000" stroke-width="0.2" text-anchor="middle" fill="#ff0000" textLength="18.2" lengthAdjust="spacingAndGlyphs">cells</text>
<line x1="73.7" y1="399.2" x2="116.8" y2="399.2" stroke="#555" stroke-width="1"/>
<text x="93.3" y="407.9" font-size="8.7" stroke="#ff0000" stroke-width="0.2" text-anchor="middle" fill="#ff0000" textLength="25.7" lengthAdjust="spacingAndGlyphs">Sepsis</text>
<text transform="translate(10.8,356) rotate(-90)" font-size="9" stroke="#111" stroke-width="0.2" textLength="115" lengthAdjust="spacingAndGlyphs">PD-L1 expression on cells (MFI)</text>
<text x="72.8" y="239.7" font-size="9" stroke="#111" stroke-width="0.2" textLength="43.6" lengthAdjust="spacingAndGlyphs">p &lt; 0.0001</text>
<path d="M68.4 251.2V243.6H110.3V251.2" stroke="#4a4a4a" stroke-width="0.9" fill="none"/>
<line x1="43" y1="329.5" x2="61.5" y2="329.5" stroke="#111" stroke-width="1"/>
<line x1="52.6" y1="320.6" x2="52.6" y2="336.9" stroke="#333" stroke-width="0.8"/>
<line x1="50.2" y1="320.6" x2="55" y2="320.6" stroke="#333" stroke-width="0.8"/>
<line x1="50.2" y1="336.9" x2="55" y2="336.9" stroke="#333" stroke-width="0.8"/>
<g fill="none" stroke="#111" stroke-width="0.75"><circle cx="52.6" cy="312.2" r="1.9"/><circle cx="50.5" cy="321.4" r="1.9"/><circle cx="53.5" cy="320.7" r="1.9"/><circle cx="53.5" cy="331.55" r="1.9"/><circle cx="52.28" cy="336.5" r="1.9"/><circle cx="53.86" cy="332.13" r="1.9"/><circle cx="52.78" cy="328.74" r="1.9"/><circle cx="56.38" cy="333.41" r="1.9"/><circle cx="49.78" cy="327.79" r="1.9"/><circle cx="57.03" cy="327.75" r="1.9"/><circle cx="47.06" cy="334.08" r="1.9"/><circle cx="56.53" cy="337.11" r="1.9"/><circle cx="54.06" cy="333.67" r="1.9"/><circle cx="45.25" cy="328.45" r="1.9"/><circle cx="46.35" cy="332.35" r="1.9"/><circle cx="48.59" cy="328.8" r="1.9"/><circle cx="52.11" cy="327.12" r="1.9"/><circle cx="57.84" cy="331.43" r="1.9"/><circle cx="54.61" cy="332.25" r="1.9"/><circle cx="54.96" cy="332.05" r="1.9"/><circle cx="49.26" cy="331.6" r="1.9"/></g>
<line x1="79.2" y1="317.6" x2="79.2" y2="326.3" stroke="#ff6e6e" stroke-width="0.9"/>
<line x1="76.6" y1="317.6" x2="81.8" y2="317.6" stroke="#ff6e6e" stroke-width="0.9"/>
<line x1="79.2" y1="333.7" x2="79.2" y2="337.5" stroke="#ff6e6e" stroke-width="0.9"/>
<line x1="76.6" y1="337.5" x2="81.8" y2="337.5" stroke="#ff6e6e" stroke-width="0.9"/>
<rect x="71.3" y="326.3" width="15.8" height="7.4" stroke="#ff6e6e" stroke-width="0.9" fill="none"/>
<line x1="71.3" y1="330" x2="87.1" y2="330" stroke="#ff6e6e" stroke-width="0.9"/>
<g fill="#ff0000"><circle cx="79.2" cy="317.6" r="2.2"/><circle cx="77" cy="319.9" r="2.2"/><circle cx="80" cy="321.9" r="2.2"/><circle cx="75" cy="326" r="2.2"/><circle cx="83" cy="326" r="2.2"/><circle cx="72" cy="334.2" r="2.2"/><circle cx="74.5" cy="337.5" r="2.2"/><circle cx="79" cy="336.8" r="2.2"/><circle cx="83" cy="336" r="2.2"/><circle cx="86" cy="332.9" r="2.2"/><circle cx="76" cy="330.6" r="2.2"/><circle cx="80" cy="331.4" r="2.2"/><circle cx="84" cy="330.6" r="2.2"/><circle cx="78" cy="334" r="2.2"/><circle cx="81.5" cy="333.5" r="2.2"/><circle cx="73.5" cy="331" r="2.2"/><circle cx="79.5" cy="327.5" r="2.2"/></g>
<line x1="105.6" y1="315" x2="105.6" y2="323.4" stroke="#ff6e6e" stroke-width="0.9"/>
<line x1="102.7" y1="323.4" x2="108.5" y2="323.4" stroke="#ff6e6e" stroke-width="0.9"/>
<rect x="98.3" y="306" width="14.6" height="9" stroke="#ff6e6e" stroke-width="0.9" fill="none"/>
<line x1="98.3" y1="310.6" x2="112.9" y2="310.6" stroke="#ff6e6e" stroke-width="0.9"/>
<g fill="#ff0000"><circle cx="105.6" cy="262" r="2.2"/><circle cx="105.6" cy="286.1" r="2.2"/><circle cx="105.6" cy="289.6" r="2.2"/><circle cx="98.5" cy="306" r="2.2"/><circle cx="101.7" cy="306" r="2.2"/><circle cx="105" cy="306" r="2.2"/><circle cx="112.5" cy="304.5" r="2.2"/><circle cx="112" cy="308.4" r="2.2"/><circle cx="99" cy="312.2" r="2.2"/><circle cx="103" cy="310.6" r="2.2"/><circle cx="108" cy="311.1" r="2.2"/><circle cx="112" cy="312.2" r="2.2"/><circle cx="103" cy="314.6" r="2.2"/><circle cx="107" cy="315.4" r="2.2"/><circle cx="110" cy="314.6" r="2.2"/><circle cx="103" cy="317.6" r="2.2"/><circle cx="108" cy="318.3" r="2.2"/><circle cx="105.6" cy="323" r="2.2"/></g>
<line x1="165.8" y1="232.9" x2="165.8" y2="356" stroke="#7a7a7a" stroke-width="1"/>
<line x1="160.6" y1="356" x2="165.8" y2="356" stroke="#7a7a7a" stroke-width="1"/>
<text x="158.3" y="359.04" font-size="8.8" stroke="#111" stroke-width="0.2" text-anchor="end">0</text>
<line x1="160.6" y1="331.38" x2="165.8" y2="331.38" stroke="#7a7a7a" stroke-width="1"/>
<text x="158.3" y="334.42" font-size="8.8" stroke="#111" stroke-width="0.2" text-anchor="end">10</text>
<line x1="160.6" y1="306.76" x2="165.8" y2="306.76" stroke="#7a7a7a" stroke-width="1"/>
<text x="158.3" y="309.8" font-size="8.8" stroke="#111" stroke-width="0.2" text-anchor="end">20</text>
<line x1="160.6" y1="282.14" x2="165.8" y2="282.14" stroke="#7a7a7a" stroke-width="1"/>
<text x="158.3" y="285.18" font-size="8.8" stroke="#111" stroke-width="0.2" text-anchor="end">30</text>
<line x1="160.6" y1="257.52" x2="165.8" y2="257.52" stroke="#7a7a7a" stroke-width="1"/>
<text x="158.3" y="260.56" font-size="8.8" stroke="#111" stroke-width="0.2" text-anchor="end">40</text>
<line x1="160.6" y1="232.9" x2="165.8" y2="232.9" stroke="#7a7a7a" stroke-width="1"/>
<text x="158.3" y="235.94" font-size="8.8" stroke="#111" stroke-width="0.2" text-anchor="end">50</text>
<line x1="165.8" y1="356" x2="262" y2="356" stroke="#7a7a7a" stroke-width="1"/>
<line x1="184.9" y1="356" x2="184.9" y2="361" stroke="#7a7a7a" stroke-width="1"/>
<line x1="213.4" y1="356" x2="213.4" y2="361" stroke="#7a7a7a" stroke-width="1"/>
<line x1="242.2" y1="356" x2="242.2" y2="361" stroke="#7a7a7a" stroke-width="1"/>
<text x="184.9" y="371.8" font-size="8.7" stroke="#111" stroke-width="0.2" text-anchor="middle" textLength="12.1" lengthAdjust="spacingAndGlyphs">HV</text>
<text x="184.9" y="383" font-size="8.7" stroke="#111" stroke-width="0.2" text-anchor="middle" textLength="16.2" lengthAdjust="spacingAndGlyphs">Ly B</text>
<text x="212.4" y="371.8" font-size="8.7" stroke="#ff0000" stroke-width="0.2" text-anchor="middle" fill="#ff0000" textLength="11.2" lengthAdjust="spacingAndGlyphs">D3</text>
<text x="212.4" y="383" font-size="8.7" stroke="#ff0000" stroke-width="0.2" text-anchor="middle" fill="#ff0000" textLength="16.2" lengthAdjust="spacingAndGlyphs">Ly B</text>
<text x="242.5" y="371.8" font-size="8.7" stroke="#ff0000" stroke-width="0.2" text-anchor="middle" fill="#ff0000" textLength="11.2" lengthAdjust="spacingAndGlyphs">D3</text>
<text x="242.5" y="383" font-size="8.7" stroke="#ff0000" stroke-width="0.2" text-anchor="middle" fill="#ff0000" textLength="29.2" lengthAdjust="spacingAndGlyphs">Plasma</text>
<text x="242.5" y="394.2" font-size="8.7" stroke="#ff0000" stroke-width="0.2" text-anchor="middle" fill="#ff0000" textLength="18.2" lengthAdjust="spacingAndGlyphs">cells</text>
<line x1="207.3" y1="399.2" x2="249.9" y2="399.2" stroke="#555" stroke-width="1"/>
<text x="227.6" y="407.9" font-size="8.7" stroke="#ff0000" stroke-width="0.2" text-anchor="middle" fill="#ff0000" textLength="25.7" lengthAdjust="spacingAndGlyphs">Sepsis</text>
<text transform="translate(138,365.4) rotate(-90)" font-size="9" stroke="#111" stroke-width="0.2" textLength="135.5" lengthAdjust="spacingAndGlyphs">%PD-L1 cells (among B or plasma cells)</text>
<text x="204.8" y="247" font-size="9" stroke="#111" stroke-width="0.2" textLength="46.2" lengthAdjust="spacingAndGlyphs">p &lt; 0.0001</text>
<path d="M208 257.1V250.6H242.2V257.1" stroke="#4a4a4a" stroke-width="0.9" fill="none"/>
<line x1="175.5" y1="354.2" x2="194.5" y2="354.2" stroke="#111" stroke-width="1"/>
<g fill="none" stroke="#111" stroke-width="0.75"><circle cx="185" cy="350.6" r="1.8"/><circle cx="177" cy="353.1" r="1.8"/><circle cx="178.25" cy="354.2" r="1.8"/><circle cx="179.5" cy="353.1" r="1.8"/><circle cx="180.75" cy="354.2" r="1.8"/><circle cx="182" cy="353.1" r="1.8"/><circle cx="183.25" cy="354.2" r="1.8"/><circle cx="184.5" cy="353.1" r="1.8"/><circle cx="185.75" cy="354.2" r="1.8"/><circle cx="187" cy="353.1" r="1.8"/><circle cx="188.25" cy="354.2" r="1.8"/><circle cx="189.5" cy="353.1" r="1.8"/><circle cx="190.75" cy="354.2" r="1.8"/><circle cx="192" cy="353.1" r="1.8"/><circle cx="193.25" cy="354.2" r="1.8"/></g>
<rect x="206.1" y="347.5" width="15" height="6.5" stroke="#ff6e6e" stroke-width="0.9" fill="none"/>
<line x1="206.1" y1="351" x2="221.1" y2="351" stroke="#ff6e6e" stroke-width="0.9"/>
<g fill="#ff0000"><circle cx="213.6" cy="345" r="2.2"/><circle cx="209" cy="350.6" r="2.2"/><circle cx="217" cy="350.6" r="2.2"/><circle cx="205" cy="352.5" r="2.2"/><circle cx="222" cy="352.5" r="2.2"/><circle cx="211" cy="354" r="2.2"/><circle cx="216" cy="354" r="2.2"/><circle cx="219" cy="352" r="2.2"/><circle cx="207" cy="354.2" r="2.2"/><circle cx="213" cy="352.8" r="2.2"/><circle cx="220" cy="354.5" r="2.2"/><circle cx="214" cy="348.5" r="2.2"/></g>
<line x1="242.4" y1="261.2" x2="242.4" y2="292.9" stroke="#ff6e6e" stroke-width="0.95"/>
<line x1="237.9" y1="261.2" x2="246.9" y2="261.2" stroke="#ff6e6e" stroke-width="0.95"/>
<line x1="242.4" y1="329.1" x2="242.4" y2="348.4" stroke="#ff6e6e" stroke-width="0.95"/>
<line x1="237.9" y1="348.4" x2="246.9" y2="348.4" stroke="#ff6e6e" stroke-width="0.95"/>
<rect x="233.1" y="292.9" width="18.6" height="36.2" stroke="#ff6e6e" stroke-width="0.95" fill="none"/>
<line x1="232.5" y1="314" x2="252.3" y2="314" stroke="#ff6e6e" stroke-width="0.95"/>
<g fill="#ff0000"><circle cx="242.2" cy="261.2" r="2.2"/><circle cx="238.5" cy="286.6" r="2.2"/><circle cx="245.8" cy="290" r="2.2"/><circle cx="242.2" cy="294.5" r="2.2"/><circle cx="242.2" cy="306.9" r="2.2"/><circle cx="234.2" cy="314" r="2.2"/><circle cx="238" cy="314" r="2.2"/><circle cx="242" cy="314.5" r="2.2"/><circle cx="246" cy="314" r="2.2"/><circle cx="250" cy="313.5" r="2.2"/><circle cx="242.2" cy="321.2" r="2.2"/><circle cx="239" cy="328.7" r="2.2"/><circle cx="246" cy="330.3" r="2.2"/><circle cx="242.2" cy="335.2" r="2.2"/><circle cx="239.8" cy="348.4" r="2.2"/><circle cx="244.8" cy="347.2" r="2.2"/></g>
<text x="284.9" y="228.7" font-size="17">e</text>
<line x1="321" y1="238.3" x2="321" y2="355.3" stroke="#7a7a7a" stroke-width="1"/>
<line x1="315.8" y1="355.3" x2="321" y2="355.3" stroke="#7a7a7a" stroke-width="1"/>
<text x="313.8" y="358.34" font-size="8.8" stroke="#111" stroke-width="0.2" text-anchor="end">0</text>
<line x1="315.8" y1="326.1" x2="321" y2="326.1" stroke="#7a7a7a" stroke-width="1"/>
<text x="313.8" y="329.14" font-size="8.8" stroke="#111" stroke-width="0.2" text-anchor="end">0.2</text>
<line x1="315.8" y1="296.9" x2="321" y2="296.9" stroke="#7a7a7a" stroke-width="1"/>
<text x="313.8" y="299.94" font-size="8.8" stroke="#111" stroke-width="0.2" text-anchor="end">0.4</text>
<line x1="315.8" y1="267.7" x2="321" y2="267.7" stroke="#7a7a7a" stroke-width="1"/>
<text x="313.8" y="270.74" font-size="8.8" stroke="#111" stroke-width="0.2" text-anchor="end">0.6</text>
<line x1="315.8" y1="238.5" x2="321" y2="238.5" stroke="#7a7a7a" stroke-width="1"/>
<text x="313.8" y="241.54" font-size="8.8" stroke="#111" stroke-width="0.2" text-anchor="end">0.8</text>
<line x1="321" y1="355.3" x2="409" y2="355.3" stroke="#7a7a7a" stroke-width="1"/>
<line x1="338.7" y1="355.3" x2="338.7" y2="360.1" stroke="#7a7a7a" stroke-width="1"/>
<line x1="365" y1="355.3" x2="365" y2="360.1" stroke="#7a7a7a" stroke-width="1"/>
<line x1="391.9" y1="355.3" x2="391.9" y2="360.1" stroke="#7a7a7a" stroke-width="1"/>
<text x="335.8" y="371.8" font-size="8.7" stroke="#111" stroke-width="0.2" text-anchor="middle" textLength="12.1" lengthAdjust="spacingAndGlyphs">HV</text>
<text x="335.8" y="383" font-size="8.7" stroke="#111" stroke-width="0.2" text-anchor="middle" textLength="16.2" lengthAdjust="spacingAndGlyphs">Ly B</text>
<text x="363" y="371.8" font-size="8.7" stroke="#1f1fff" stroke-width="0.2" text-anchor="middle" fill="#1f1fff" textLength="11.2" lengthAdjust="spacingAndGlyphs">D3</text>
<text x="363" y="383" font-size="8.7" stroke="#1f1fff" stroke-width="0.2" text-anchor="middle" fill="#1f1fff" textLength="16.2" lengthAdjust="spacingAndGlyphs">Ly B</text>
<text x="392.1" y="371.8" font-size="8.7" stroke="#1f1fff" stroke-width="0.2" text-anchor="middle" fill="#1f1fff" textLength="11.2" lengthAdjust="spacingAndGlyphs">D3</text>
<text x="392.1" y="383" font-size="8.7" stroke="#1f1fff" stroke-width="0.2" text-anchor="middle" fill="#1f1fff" textLength="29.2" lengthAdjust="spacingAndGlyphs">Plasma</text>
<text x="392.1" y="394.2" font-size="8.7" stroke="#1f1fff" stroke-width="0.2" text-anchor="middle" fill="#1f1fff" textLength="18.2" lengthAdjust="spacingAndGlyphs">cells</text>
<line x1="357" y1="399.2" x2="400.1" y2="399.2" stroke="#555" stroke-width="1"/>
<text x="378.9" y="409.4" font-size="8.7" stroke="#1f1fff" stroke-width="0.2" text-anchor="middle" fill="#1f1fff" textLength="40.7" lengthAdjust="spacingAndGlyphs">COVID-19</text>
<text transform="translate(292.4,353) rotate(-90)" font-size="9" stroke="#111" stroke-width="0.2" textLength="113.7" lengthAdjust="spacingAndGlyphs">PD-L1 expression on cells (MFI)</text>
<text x="355.8" y="237.8" font-size="9" stroke="#111" stroke-width="0.2" textLength="43.5" lengthAdjust="spacingAndGlyphs">p &lt; 0.0001</text>
<path d="M361.3 249.1V240.6H397.6V249.1" stroke="#4a4a4a" stroke-width="0.9" fill="none"/>
<line x1="338.8" y1="311.4" x2="338.8" y2="330.9" stroke="#333" stroke-width="0.8"/>
<line x1="336.3" y1="311.4" x2="341.3" y2="311.4" stroke="#333" stroke-width="0.8"/>
<line x1="336.3" y1="330.9" x2="341.3" y2="330.9" stroke="#333" stroke-width="0.8"/>
<line x1="330.8" y1="321.2" x2="347.8" y2="321.2" stroke="#111" stroke-width="1.7"/>
<g fill="#fff" stroke="#333" stroke-width="0.7"><circle cx="338.8" cy="311.4" r="1.7"/><circle cx="338.8" cy="330.9" r="1.7"/></g>
<line x1="365.2" y1="304.5" x2="365.2" y2="314.7" stroke="#666" stroke-width="0.8"/>
<line x1="362.6" y1="304.5" x2="367.8" y2="304.5" stroke="#666" stroke-width="0.8"/>
<line x1="365.2" y1="330.6" x2="365.2" y2="332.5" stroke="#666" stroke-width="0.8"/>
<line x1="362.6" y1="332.5" x2="367.8" y2="332.5" stroke="#666" stroke-width="0.8"/>
<rect x="356.5" y="314.7" width="17.4" height="15.9" stroke="#666" stroke-width="0.8" fill="none"/>
<line x1="356.5" y1="321.2" x2="373.9" y2="321.2" stroke="#666" stroke-width="0.8"/>
<line x1="392.35" y1="257" x2="392.35" y2="270" stroke="#666" stroke-width="0.8"/>
<line x1="388.55" y1="257" x2="396.15" y2="257" stroke="#666" stroke-width="0.8"/>
<line x1="392.35" y1="293.6" x2="392.35" y2="302.3" stroke="#666" stroke-width="0.8"/>
<line x1="388.55" y1="302.3" x2="396.15" y2="302.3" stroke="#666" stroke-width="0.8"/>
<rect x="384.1" y="270" width="16.5" height="23.6" stroke="#666" stroke-width="0.8" fill="none"/>
<line x1="384.1" y1="282" x2="400.6" y2="282" stroke="#666" stroke-width="0.8"/>
<g fill="#0000e0" stroke="#000040" stroke-width="0.6"><circle cx="365" cy="295.8" r="2"/><circle cx="363.8" cy="304.5" r="2"/><circle cx="366.7" cy="307.8" r="2"/><circle cx="358" cy="316.1" r="2"/><circle cx="361.6" cy="316.1" r="2"/><circle cx="365.3" cy="318.3" r="2"/><circle cx="368.9" cy="318.3" r="2"/><circle cx="372.1" cy="316.1" r="2"/><circle cx="358" cy="321.9" r="2"/><circle cx="368.9" cy="321.9" r="2"/><circle cx="362.5" cy="320.5" r="2"/><circle cx="358" cy="325.8" r="2"/><circle cx="363.8" cy="325.8" r="2"/><circle cx="372.1" cy="324.8" r="2"/><circle cx="358" cy="330.6" r="2"/><circle cx="361.6" cy="329.2" r="2"/><circle cx="365.3" cy="329.2" r="2"/><circle cx="368.9" cy="329.2" r="2"/><circle cx="372.1" cy="329.2" r="2"/><circle cx="368.9" cy="332.1" r="2"/><circle cx="365.3" cy="331.8" r="2"/><circle cx="389.2" cy="260.9" r="2"/><circle cx="393.6" cy="258" r="2"/><circle cx="398.7" cy="257.6" r="2"/><circle cx="394" cy="262.8" r="2"/><circle cx="398.7" cy="268.2" r="2"/><circle cx="389.2" cy="271.1" r="2"/><circle cx="393.9" cy="271.1" r="2"/><circle cx="393.9" cy="278.3" r="2"/><circle cx="384.9" cy="279.8" r="2"/><circle cx="389.2" cy="280.9" r="2"/><circle cx="393.9" cy="282.7" r="2"/><circle cx="384.9" cy="288.5" r="2"/><circle cx="389.2" cy="288.5" r="2"/><circle cx="393.9" cy="289.5" r="2"/><circle cx="398.7" cy="288.5" r="2"/><circle cx="387" cy="294.3" r="2"/><circle cx="391.7" cy="294.3" r="2"/><circle cx="396.2" cy="294.3" r="2"/><circle cx="387" cy="304.5" r="2"/><circle cx="391.7" cy="303" r="2"/><circle cx="396.2" cy="303" r="2"/></g>
<line x1="450.2" y1="238.9" x2="450.2" y2="356.3" stroke="#7a7a7a" stroke-width="1"/>
<line x1="445" y1="356.3" x2="450.2" y2="356.3" stroke="#7a7a7a" stroke-width="1"/>
<text x="443.6" y="359.34" font-size="8.8" stroke="#111" stroke-width="0.2" text-anchor="end">0</text>
<line x1="445" y1="317.3" x2="450.2" y2="317.3" stroke="#7a7a7a" stroke-width="1"/>
<text x="443.6" y="320.34" font-size="8.8" stroke="#111" stroke-width="0.2" text-anchor="end">10</text>
<line x1="445" y1="278.3" x2="450.2" y2="278.3" stroke="#7a7a7a" stroke-width="1"/>
<text x="443.6" y="281.34" font-size="8.8" stroke="#111" stroke-width="0.2" text-anchor="end">20</text>
<line x1="445" y1="239.3" x2="450.2" y2="239.3" stroke="#7a7a7a" stroke-width="1"/>
<text x="443.6" y="242.34" font-size="8.8" stroke="#111" stroke-width="0.2" text-anchor="end">30</text>
<line x1="450.2" y1="356.3" x2="540.7" y2="356.3" stroke="#7a7a7a" stroke-width="1"/>
<line x1="467.8" y1="356.3" x2="467.8" y2="361.1" stroke="#7a7a7a" stroke-width="1"/>
<line x1="494.3" y1="356.3" x2="494.3" y2="361.1" stroke="#7a7a7a" stroke-width="1"/>
<line x1="521.9" y1="356.3" x2="521.9" y2="361.1" stroke="#7a7a7a" stroke-width="1"/>
<text x="467.7" y="371.8" font-size="8.7" stroke="#111" stroke-width="0.2" text-anchor="middle" textLength="12.1" lengthAdjust="spacingAndGlyphs">HV</text>
<text x="467.7" y="383" font-size="8.7" stroke="#111" stroke-width="0.2" text-anchor="middle" textLength="16.2" lengthAdjust="spacingAndGlyphs">Ly B</text>
<text x="494" y="371.8" font-size="8.7" stroke="#1f1fff" stroke-width="0.2" text-anchor="middle" fill="#1f1fff" textLength="11.2" lengthAdjust="spacingAndGlyphs">D3</text>
<text x="494" y="383" font-size="8.7" stroke="#1f1fff" stroke-width="0.2" text-anchor="middle" fill="#1f1fff" textLength="16.2" lengthAdjust="spacingAndGlyphs">Ly B</text>
<text x="521.5" y="371.8" font-size="8.7" stroke="#1f1fff" stroke-width="0.2" text-anchor="middle" fill="#1f1fff" textLength="11.2" lengthAdjust="spacingAndGlyphs">D3</text>
<text x="521.5" y="383" font-size="8.7" stroke="#1f1fff" stroke-width="0.2" text-anchor="middle" fill="#1f1fff" textLength="29.2" lengthAdjust="spacingAndGlyphs">Plasma</text>
<text x="521.5" y="394.2" font-size="8.7" stroke="#1f1fff" stroke-width="0.2" text-anchor="middle" fill="#1f1fff" textLength="18.2" lengthAdjust="spacingAndGlyphs">cells</text>
<line x1="487.2" y1="399.2" x2="530.9" y2="399.2" stroke="#555" stroke-width="1"/>
<text x="508.7" y="409.4" font-size="8.7" stroke="#1f1fff" stroke-width="0.2" text-anchor="middle" fill="#1f1fff" textLength="40.7" lengthAdjust="spacingAndGlyphs">COVID-19</text>
<text transform="translate(426.8,365.4) rotate(-90)" font-size="9" stroke="#111" stroke-width="0.2" textLength="135.5" lengthAdjust="spacingAndGlyphs">%PD-L1 cells (among B or plasma cells)</text>
<text x="486" y="234.5" font-size="9" stroke="#111" stroke-width="0.2" textLength="43" lengthAdjust="spacingAndGlyphs">p &lt; 0.0001</text>
<path d="M491.6 245.8V238.6H521.9V245.8" stroke="#4a4a4a" stroke-width="0.9" fill="none"/>
<line x1="459" y1="355.4" x2="476.7" y2="355.4" stroke="#111" stroke-width="1"/>
<g fill="none" stroke="#111" stroke-width="0.7"><ellipse cx="471.5" cy="353.6" rx="1.9" ry="1.2"/><ellipse cx="460.5" cy="355" rx="1.9" ry="1.2"/><ellipse cx="461.85" cy="355.6" rx="1.9" ry="1.2"/><ellipse cx="463.2" cy="355" rx="1.9" ry="1.2"/><ellipse cx="464.55" cy="355.6" rx="1.9" ry="1.2"/><ellipse cx="465.9" cy="355" rx="1.9" ry="1.2"/><ellipse cx="467.25" cy="355.6" rx="1.9" ry="1.2"/><ellipse cx="468.6" cy="355" rx="1.9" ry="1.2"/><ellipse cx="469.95" cy="355.6" rx="1.9" ry="1.2"/><ellipse cx="471.3" cy="355" rx="1.9" ry="1.2"/><ellipse cx="472.65" cy="355.6" rx="1.9" ry="1.2"/><ellipse cx="474" cy="355" rx="1.9" ry="1.2"/><ellipse cx="475.35" cy="355.6" rx="1.9" ry="1.2"/></g>
<line x1="494.9" y1="345.5" x2="494.9" y2="350" stroke="#666" stroke-width="0.8"/>
<line x1="492.3" y1="345.5" x2="497.5" y2="345.5" stroke="#666" stroke-width="0.8"/>
<rect x="486.4" y="350" width="17" height="6" stroke="#666" stroke-width="0.8" fill="none"/>
<line x1="486.4" y1="352.5" x2="503.4" y2="352.5" stroke="#666" stroke-width="0.8"/>
<line x1="522.05" y1="256.2" x2="522.05" y2="279.3" stroke="#666" stroke-width="0.8"/>
<line x1="518.25" y1="256.2" x2="525.85" y2="256.2" stroke="#666" stroke-width="0.8"/>
<line x1="522.05" y1="330.3" x2="522.05" y2="348.4" stroke="#666" stroke-width="0.8"/>
<line x1="518.25" y1="348.4" x2="525.85" y2="348.4" stroke="#666" stroke-width="0.8"/>
<rect x="513.6" y="279.3" width="16.9" height="51" stroke="#666" stroke-width="0.8" fill="none"/>
<line x1="513.6" y1="308.3" x2="530.5" y2="308.3" stroke="#666" stroke-width="0.8"/>
<g fill="#0000e0" stroke="#000040" stroke-width="0.6"><circle cx="494.3" cy="345.3" r="2"/><circle cx="491" cy="348.5" r="2"/><circle cx="497.5" cy="348.5" r="2"/><circle cx="488" cy="351" r="2"/><circle cx="494.3" cy="350.5" r="2"/><circle cx="500.5" cy="351.3" r="2"/><circle cx="486.5" cy="354" r="2"/><circle cx="490" cy="354.5" r="2"/><circle cx="494" cy="354.3" r="2"/><circle cx="498" cy="354.5" r="2"/><circle cx="502" cy="354" r="2"/><circle cx="492" cy="352.3" r="2"/><circle cx="496.5" cy="352.3" r="2"/><circle cx="521.9" cy="256.2" r="2"/><circle cx="517.6" cy="269.8" r="2"/><circle cx="526.6" cy="269.8" r="2"/><circle cx="517.6" cy="275.9" r="2"/><circle cx="526.6" cy="275.9" r="2"/><circle cx="521.9" cy="280.5" r="2"/><circle cx="521.9" cy="285" r="2"/><circle cx="521.9" cy="297" r="2"/><circle cx="517.6" cy="302" r="2"/><circle cx="526.6" cy="302" r="2"/><circle cx="521.9" cy="308.7" r="2"/><circle cx="521.9" cy="312.1" r="2"/><circle cx="521.9" cy="319.6" r="2"/><circle cx="517.6" cy="323.9" r="2"/><circle cx="526.6" cy="323.9" r="2"/><circle cx="517.6" cy="330.3" r="2"/><circle cx="526.6" cy="331.8" r="2"/><circle cx="521.9" cy="337" r="2"/><circle cx="517.6" cy="343.2" r="2"/><circle cx="526.6" cy="345.4" r="2"/><circle cx="517.6" cy="348.4" r="2"/></g>
<text x="567.3" y="228.5" font-size="17">f</text>
<text x="602.4" y="219.5" font-size="8.8" stroke="#111" stroke-width="0.05" textLength="60.4" lengthAdjust="spacingAndGlyphs">Gated on total</text>
<text x="588.2" y="230.7" font-size="8.8" stroke="#111" stroke-width="0.05" textLength="91.1" lengthAdjust="spacingAndGlyphs">CD19+ B lymphocytes</text>
<line x1="568.9" y1="369.5" x2="568.9" y2="265.5" stroke="#333" stroke-width="0.9"/>
<path d="M566.8 267.2L568.9 260.8L571 267.2Z" stroke="#222" stroke-width="0.3" fill="#222"/>
<line x1="643.9" y1="413.6" x2="680" y2="413.6" stroke="#222" stroke-width="0.9"/>
<path d="M678.8 411.5L685 413.6L678.8 415.7Z" stroke="#222" stroke-width="0.3" fill="#222"/>
<text transform="translate(572.4,401) rotate(-90)" font-size="9" stroke="#111" stroke-width="0.2" textLength="24.2" lengthAdjust="spacingAndGlyphs">CD138</text>
<text x="567.8" y="416" font-size="9.2" stroke="#111" stroke-width="0.2" textLength="68.6" lengthAdjust="spacingAndGlyphs">Intracellular IgM</text>
<path d="M643.73 288.19h0.7v0.7h-0.7zM646.71 254.73h0.7v0.7h-0.7zM651.08 263.27h0.7v0.7h-0.7zM649.25 273.77h0.7v0.7h-0.7zM641.07 253.71h0.7v0.7h-0.7zM642.08 274.76h0.7v0.7h-0.7zM647.14 276.07h0.7v0.7h-0.7zM648.13 279.76h0.7v0.7h-0.7zM649.39 287.68h0.7v0.7h-0.7zM648 283.91h0.7v0.7h-0.7zM644.04 280.91h0.7v0.7h-0.7zM646.4 282.76h0.7v0.7h-0.7zM645.97 260.93h0.7v0.7h-0.7zM642.48 273.56h0.7v0.7h-0.7zM642.19 290.54h0.7v0.7h-0.7zM649.63 279.63h0.7v0.7h-0.7zM646.25 261.06h0.7v0.7h-0.7zM643.65 279.2h0.7v0.7h-0.7zM643.04 259.58h0.7v0.7h-0.7zM646.65 280.69h0.7v0.7h-0.7zM645.45 270.01h0.7v0.7h-0.7zM648.83 264.24h0.7v0.7h-0.7zM642.27 285.11h0.7v0.7h-0.7zM643.09 274.03h0.7v0.7h-0.7zM643.84 277.68h0.7v0.7h-0.7zM643.1 249.76h0.7v0.7h-0.7zM647.25 275.42h0.7v0.7h-0.7zM640.64 277.77h0.7v0.7h-0.7zM640.29 280.21h0.7v0.7h-0.7zM646.87 272.7h0.7v0.7h-0.7zM647.16 282.78h0.7v0.7h-0.7zM641.28 259.75h0.7v0.7h-0.7zM637.54 273.05h0.7v0.7h-0.7zM652.61 271.48h0.7v0.7h-0.7zM639.32 264.89h0.7v0.7h-0.7zM645.28 271.24h0.7v0.7h-0.7zM651.48 272.8h0.7v0.7h-0.7zM641.93 260.09h0.7v0.7h-0.7zM641.96 282.52h0.7v0.7h-0.7zM642.98 279.19h0.7v0.7h-0.7zM641.88 278.2h0.7v0.7h-0.7zM646.46 263.07h0.7v0.7h-0.7zM648.82 286.21h0.7v0.7h-0.7zM642.93 251.6h0.7v0.7h-0.7zM644.88 272.46h0.7v0.7h-0.7zM651.19 289.65h0.7v0.7h-0.7zM643.07 263.91h0.7v0.7h-0.7zM646.13 270.24h0.7v0.7h-0.7zM646.12 266.82h0.7v0.7h-0.7zM651.78 276.12h0.7v0.7h-0.7zM645.27 271.99h0.7v0.7h-0.7zM641.26 250.66h0.7v0.7h-0.7zM648.3 263.92h0.7v0.7h-0.7zM648.47 257.64h0.7v0.7h-0.7zM637.24 269.97h0.7v0.7h-0.7zM646.05 278.97h0.7v0.7h-0.7zM639.6 286.44h0.7v0.7h-0.7zM647.46 278.23h0.7v0.7h-0.7zM635.03 274.11h0.7v0.7h-0.7zM634.96 270.3h0.7v0.7h-0.7zM647.84 278.46h0.7v0.7h-0.7zM646.47 277.61h0.7v0.7h-0.7zM647.32 266.54h0.7v0.7h-0.7zM641.05 276.59h0.7v0.7h-0.7zM654.9 277.58h0.7v0.7h-0.7zM638.72 257.57h0.7v0.7h-0.7zM648.35 283.27h0.7v0.7h-0.7zM646.23 257.03h0.7v0.7h-0.7zM639.5 282.99h0.7v0.7h-0.7zM649.56 264.54h0.7v0.7h-0.7zM645.02 266.54h0.7v0.7h-0.7zM640.62 264.38h0.7v0.7h-0.7zM646.65 288.05h0.7v0.7h-0.7zM649.4 284.46h0.7v0.7h-0.7zM644.53 274.09h0.7v0.7h-0.7zM642.35 288.5h0.7v0.7h-0.7zM641.73 280.84h0.7v0.7h-0.7zM643.76 273.93h0.7v0.7h-0.7zM641.13 274.75h0.7v0.7h-0.7zM644.82 265.59h0.7v0.7h-0.7zM651.62 275.88h0.7v0.7h-0.7zM644.86 271h0.7v0.7h-0.7zM647.39 289.83h0.7v0.7h-0.7zM643.63 280.67h0.7v0.7h-0.7zM638.83 260.94h0.7v0.7h-0.7zM644.57 270.92h0.7v0.7h-0.7zM636.6 289.16h0.7v0.7h-0.7zM641.9 262.66h0.7v0.7h-0.7zM642.39 258.49h0.7v0.7h-0.7zM651.94 277.54h0.7v0.7h-0.7zM646.57 283.18h0.7v0.7h-0.7zM645.07 275.17h0.7v0.7h-0.7zM647.21 282.63h0.7v0.7h-0.7zM644.35 263.11h0.7v0.7h-0.7zM638.88 282.1h0.7v0.7h-0.7zM640.97 263.37h0.7v0.7h-0.7zM642.7 268.34h0.7v0.7h-0.7zM647.88 270.23h0.7v0.7h-0.7zM639.32 278.19h0.7v0.7h-0.7zM642.44 273.06h0.7v0.7h-0.7zM642.51 279.23h0.7v0.7h-0.7zM641.64 277.08h0.7v0.7h-0.7zM647.39 273.39h0.7v0.7h-0.7zM643.59 262h0.7v0.7h-0.7zM645.19 290.11h0.7v0.7h-0.7zM649.59 271.64h0.7v0.7h-0.7zM638.31 282.96h0.7v0.7h-0.7zM644.18 270.24h0.7v0.7h-0.7zM638.31 267.37h0.7v0.7h-0.7zM645.13 255.37h0.7v0.7h-0.7zM645.18 263.51h0.7v0.7h-0.7zM646.06 262.99h0.7v0.7h-0.7zM646 286.43h0.7v0.7h-0.7zM647.19 257.05h0.7v0.7h-0.7zM647.94 247.97h0.7v0.7h-0.7zM646.42 248.99h0.7v0.7h-0.7zM642.24 276.64h0.7v0.7h-0.7zM643.23 281.03h0.7v0.7h-0.7zM642.02 280.79h0.7v0.7h-0.7zM648.99 279.36h0.7v0.7h-0.7zM637.12 266.08h0.7v0.7h-0.7zM654.66 251.08h0.7v0.7h-0.7zM646.46 267.45h0.7v0.7h-0.7zM641.7 290.46h0.7v0.7h-0.7zM649.81 264.81h0.7v0.7h-0.7zM651.39 266.92h0.7v0.7h-0.7zM650.5 256.49h0.7v0.7h-0.7zM652.21 271.01h0.7v0.7h-0.7zM652.4 264.04h0.7v0.7h-0.7zM634.13 266.11h0.7v0.7h-0.7zM635.33 280.66h0.7v0.7h-0.7zM659.78 277.58h0.7v0.7h-0.7zM669.66 256.95h0.7v0.7h-0.7zM656.82 288.47h0.7v0.7h-0.7zM655.59 267.43h0.7v0.7h-0.7zM639.4 285.45h0.7v0.7h-0.7zM644.41 289.66h0.7v0.7h-0.7zM650 260.43h0.7v0.7h-0.7z" fill="#ff7a7a"/>
<path d="M622.44 307.63h0.65v0.65h-0.65zM617.72 306.88h0.65v0.65h-0.65zM620.81 303.24h0.65v0.65h-0.65zM630.74 304.46h0.65v0.65h-0.65zM621.8 306.12h0.65v0.65h-0.65zM627.18 303.91h0.65v0.65h-0.65zM624.7 301.18h0.65v0.65h-0.65zM620.31 302.73h0.65v0.65h-0.65zM615.87 299.63h0.65v0.65h-0.65zM614.52 303.31h0.65v0.65h-0.65zM621.21 303.07h0.65v0.65h-0.65zM622.32 300.13h0.65v0.65h-0.65zM621.63 304.69h0.65v0.65h-0.65zM625.45 301.55h0.65v0.65h-0.65zM620.16 298.16h0.65v0.65h-0.65zM619.68 297.63h0.65v0.65h-0.65zM615.47 307.19h0.65v0.65h-0.65zM611.87 306.32h0.65v0.65h-0.65zM623.51 303.09h0.65v0.65h-0.65zM624.11 305.53h0.65v0.65h-0.65zM626.81 303.33h0.65v0.65h-0.65zM619.28 302.25h0.65v0.65h-0.65zM617.46 303.87h0.65v0.65h-0.65zM618.39 307.1h0.65v0.65h-0.65zM613.4 300.83h0.65v0.65h-0.65zM617.62 297.93h0.65v0.65h-0.65zM630.75 297.02h0.65v0.65h-0.65zM620.7 302.48h0.65v0.65h-0.65zM629.62 298.24h0.65v0.65h-0.65zM626.93 301.88h0.65v0.65h-0.65zM621.29 302.05h0.65v0.65h-0.65zM624.95 300.7h0.65v0.65h-0.65zM621.64 305.02h0.65v0.65h-0.65zM630.47 297.02h0.65v0.65h-0.65zM629.02 306.75h0.65v0.65h-0.65zM619.78 304.88h0.65v0.65h-0.65zM619.86 308.78h0.65v0.65h-0.65zM622.96 303.37h0.65v0.65h-0.65zM620.95 303.42h0.65v0.65h-0.65zM621.19 301.45h0.65v0.65h-0.65zM631.47 298.46h0.65v0.65h-0.65zM605.41 303.64h0.65v0.65h-0.65zM621.33 305.08h0.65v0.65h-0.65zM621.06 303.57h0.65v0.65h-0.65zM623.53 306.81h0.65v0.65h-0.65zM619.94 302.92h0.65v0.65h-0.65zM630.93 305.54h0.65v0.65h-0.65zM617.47 310.74h0.65v0.65h-0.65zM625.57 302.29h0.65v0.65h-0.65zM616.6 304.87h0.65v0.65h-0.65zM618.17 300.93h0.65v0.65h-0.65zM616.04 302.53h0.65v0.65h-0.65zM627.09 302.74h0.65v0.65h-0.65zM615.33 305.94h0.65v0.65h-0.65zM622.3 306.45h0.65v0.65h-0.65zM627.53 303.51h0.65v0.65h-0.65zM621.33 303.87h0.65v0.65h-0.65zM616.78 305.94h0.65v0.65h-0.65zM628.31 304.5h0.65v0.65h-0.65zM620.91 303.25h0.65v0.65h-0.65zM618.41 301.67h0.65v0.65h-0.65zM620.16 301.56h0.65v0.65h-0.65zM619.99 299.43h0.65v0.65h-0.65zM623.61 304.14h0.65v0.65h-0.65zM616.7 297.34h0.65v0.65h-0.65zM621.96 307.2h0.65v0.65h-0.65zM618.63 302.6h0.65v0.65h-0.65zM619.39 305.89h0.65v0.65h-0.65zM617.79 306.86h0.65v0.65h-0.65zM620.61 306.68h0.65v0.65h-0.65zM622.15 303.33h0.65v0.65h-0.65zM615.2 302.01h0.65v0.65h-0.65zM620.8 305.91h0.65v0.65h-0.65zM623.13 301.98h0.65v0.65h-0.65zM623.88 306.86h0.65v0.65h-0.65zM621.32 302.73h0.65v0.65h-0.65zM620.19 306.35h0.65v0.65h-0.65zM624.48 301.3h0.65v0.65h-0.65zM623.72 302.61h0.65v0.65h-0.65zM618.54 307.59h0.65v0.65h-0.65zM625.78 301.9h0.65v0.65h-0.65zM622.36 305.45h0.65v0.65h-0.65zM619.06 303.65h0.65v0.65h-0.65zM625.07 298.81h0.65v0.65h-0.65zM623.51 306.14h0.65v0.65h-0.65zM624.32 300.11h0.65v0.65h-0.65zM623.47 301.5h0.65v0.65h-0.65zM624.62 305.75h0.65v0.65h-0.65zM623 301.78h0.65v0.65h-0.65zM619.28 306.48h0.65v0.65h-0.65zM617.87 305.44h0.65v0.65h-0.65zM624.35 303.19h0.65v0.65h-0.65zM633.01 304.2h0.65v0.65h-0.65zM631.87 298.15h0.65v0.65h-0.65zM611.68 306.85h0.65v0.65h-0.65zM624.93 303.09h0.65v0.65h-0.65zM621.75 298.48h0.65v0.65h-0.65zM619.11 301h0.65v0.65h-0.65zM620.98 306.57h0.65v0.65h-0.65zM622.24 305.08h0.65v0.65h-0.65zM618.79 302.74h0.65v0.65h-0.65zM622.52 303.18h0.65v0.65h-0.65zM627.82 301.46h0.65v0.65h-0.65zM630.7 301.16h0.65v0.65h-0.65zM626.87 301.76h0.65v0.65h-0.65zM629.58 304.4h0.65v0.65h-0.65zM623.83 306.16h0.65v0.65h-0.65zM619.08 300.98h0.65v0.65h-0.65zM612.68 307.54h0.65v0.65h-0.65zM618.8 302.28h0.65v0.65h-0.65zM621.86 309.77h0.65v0.65h-0.65zM614.05 304.72h0.65v0.65h-0.65zM620.18 305.54h0.65v0.65h-0.65zM613.72 302.85h0.65v0.65h-0.65zM625.87 308.52h0.65v0.65h-0.65zM629.34 301.52h0.65v0.65h-0.65zM622.25 303.68h0.65v0.65h-0.65zM615.67 299.82h0.65v0.65h-0.65zM625.48 304.71h0.65v0.65h-0.65zM621.34 307.53h0.65v0.65h-0.65zM617.39 305.53h0.65v0.65h-0.65zM622.05 303.83h0.65v0.65h-0.65zM624.26 304.51h0.65v0.65h-0.65zM623.23 304.77h0.65v0.65h-0.65zM630.92 303.1h0.65v0.65h-0.65zM626.66 305.76h0.65v0.65h-0.65zM620.39 306.31h0.65v0.65h-0.65zM618.06 307.37h0.65v0.65h-0.65zM618.28 302.58h0.65v0.65h-0.65zM623.49 306.41h0.65v0.65h-0.65zM626.17 306.59h0.65v0.65h-0.65zM621.05 301.23h0.65v0.65h-0.65zM624.53 304.88h0.65v0.65h-0.65zM617.62 306.82h0.65v0.65h-0.65zM622.92 301.22h0.65v0.65h-0.65zM624.03 300.16h0.65v0.65h-0.65zM617.96 305.17h0.65v0.65h-0.65zM614.84 304.11h0.65v0.65h-0.65zM615.78 306.14h0.65v0.65h-0.65zM618.65 304.53h0.65v0.65h-0.65zM615.09 303h0.65v0.65h-0.65zM626.36 305.33h0.65v0.65h-0.65zM613.54 306.68h0.65v0.65h-0.65zM626.1 302.91h0.65v0.65h-0.65zM628.52 300.93h0.65v0.65h-0.65zM621.61 307.23h0.65v0.65h-0.65zM628.03 307.71h0.65v0.65h-0.65zM616.97 298.84h0.65v0.65h-0.65zM623.8 299.85h0.65v0.65h-0.65zM621.4 300.28h0.65v0.65h-0.65zM626.88 306.33h0.65v0.65h-0.65zM624.56 304.05h0.65v0.65h-0.65zM622.21 303.14h0.65v0.65h-0.65zM623.76 304.72h0.65v0.65h-0.65zM624.11 302.76h0.65v0.65h-0.65zM630.73 304.82h0.65v0.65h-0.65zM628.41 307.86h0.65v0.65h-0.65zM617.96 299.11h0.65v0.65h-0.65zM627.78 302.88h0.65v0.65h-0.65zM622.38 303.25h0.65v0.65h-0.65zM622.6 300.55h0.65v0.65h-0.65zM621.53 302.65h0.65v0.65h-0.65zM621.93 297.23h0.65v0.65h-0.65zM625.78 304.96h0.65v0.65h-0.65zM614.06 301.87h0.65v0.65h-0.65zM622.14 305.82h0.65v0.65h-0.65zM622 308.01h0.65v0.65h-0.65zM622.1 301.1h0.65v0.65h-0.65zM618.89 306.16h0.65v0.65h-0.65zM619.18 306.44h0.65v0.65h-0.65zM626.69 305.71h0.65v0.65h-0.65zM626.68 303.5h0.65v0.65h-0.65zM621.96 302.28h0.65v0.65h-0.65zM619.19 299.46h0.65v0.65h-0.65zM619.44 300.89h0.65v0.65h-0.65zM615.43 304.42h0.65v0.65h-0.65zM624.09 303.01h0.65v0.65h-0.65zM628.29 306.73h0.65v0.65h-0.65zM626.81 302.25h0.65v0.65h-0.65zM615.14 305.62h0.65v0.65h-0.65zM623.42 306.11h0.65v0.65h-0.65zM623.92 307.65h0.65v0.65h-0.65zM620.67 305.94h0.65v0.65h-0.65zM617.88 297.3h0.65v0.65h-0.65zM619.96 308.35h0.65v0.65h-0.65zM614.29 306.95h0.65v0.65h-0.65zM618.87 302.84h0.65v0.65h-0.65zM622.2 304.61h0.65v0.65h-0.65zM617.52 304.37h0.65v0.65h-0.65zM624.04 306.42h0.65v0.65h-0.65zM618.53 308.5h0.65v0.65h-0.65zM630.77 311h0.65v0.65h-0.65zM615.83 304.5h0.65v0.65h-0.65zM613.45 305.1h0.65v0.65h-0.65zM624.55 300.67h0.65v0.65h-0.65zM614.7 304.54h0.65v0.65h-0.65zM624.89 301.7h0.65v0.65h-0.65zM620.8 296.67h0.65v0.65h-0.65zM618.75 304.43h0.65v0.65h-0.65zM622.7 308.59h0.65v0.65h-0.65zM616.75 297.47h0.65v0.65h-0.65zM624.08 302.28h0.65v0.65h-0.65zM623.32 306.08h0.65v0.65h-0.65zM624.76 308.18h0.65v0.65h-0.65zM628.22 299.17h0.65v0.65h-0.65zM621.71 309.8h0.65v0.65h-0.65zM620.13 306.8h0.65v0.65h-0.65zM621.74 302.78h0.65v0.65h-0.65zM629.28 307.02h0.65v0.65h-0.65zM620.88 306.63h0.65v0.65h-0.65zM615.96 301.9h0.65v0.65h-0.65zM626.15 304.11h0.65v0.65h-0.65zM617.11 305.3h0.65v0.65h-0.65zM623.51 307.73h0.65v0.65h-0.65zM626.4 303.2h0.65v0.65h-0.65zM619.77 303.6h0.65v0.65h-0.65zM620.95 308.24h0.65v0.65h-0.65zM629.31 307.94h0.65v0.65h-0.65zM623.74 303.29h0.65v0.65h-0.65zM626.15 302.99h0.65v0.65h-0.65zM623.09 299.17h0.65v0.65h-0.65zM620.05 308.18h0.65v0.65h-0.65zM617.28 299.67h0.65v0.65h-0.65zM621.25 308.83h0.65v0.65h-0.65zM628.67 302.96h0.65v0.65h-0.65zM619.8 303.68h0.65v0.65h-0.65zM617.72 304.1h0.65v0.65h-0.65zM620.62 299.72h0.65v0.65h-0.65zM619.33 303.26h0.65v0.65h-0.65zM618.04 300.75h0.65v0.65h-0.65zM626.16 309.5h0.65v0.65h-0.65zM620.68 302.77h0.65v0.65h-0.65zM624.31 303.34h0.65v0.65h-0.65zM618.4 308.04h0.65v0.65h-0.65zM617.21 301.88h0.65v0.65h-0.65zM618.94 301.43h0.65v0.65h-0.65zM620.9 305.67h0.65v0.65h-0.65zM628.63 305.92h0.65v0.65h-0.65zM622.16 300.37h0.65v0.65h-0.65zM621.72 301.27h0.65v0.65h-0.65zM621.55 306.84h0.65v0.65h-0.65zM622.94 303.39h0.65v0.65h-0.65zM618.53 303.94h0.65v0.65h-0.65zM622.51 301.31h0.65v0.65h-0.65zM619.67 306.56h0.65v0.65h-0.65zM614.36 302.72h0.65v0.65h-0.65zM616.63 308.48h0.65v0.65h-0.65zM624.78 305.49h0.65v0.65h-0.65zM623.82 304.83h0.65v0.65h-0.65zM623.34 299.4h0.65v0.65h-0.65zM623.19 305.72h0.65v0.65h-0.65zM615.43 306.39h0.65v0.65h-0.65zM625.07 299.59h0.65v0.65h-0.65zM619.83 303.11h0.65v0.65h-0.65zM619.58 305.13h0.65v0.65h-0.65zM616.13 303.35h0.65v0.65h-0.65zM623.04 306.1h0.65v0.65h-0.65zM622.22 303.3h0.65v0.65h-0.65zM625.18 298.23h0.65v0.65h-0.65zM626.29 303.11h0.65v0.65h-0.65zM616.24 302.76h0.65v0.65h-0.65zM613.56 298.07h0.65v0.65h-0.65zM620.5 301.74h0.65v0.65h-0.65zM625.37 301.43h0.65v0.65h-0.65zM616.04 301.22h0.65v0.65h-0.65zM629.89 304.07h0.65v0.65h-0.65zM619.19 301.13h0.65v0.65h-0.65zM616.95 303.52h0.65v0.65h-0.65zM623.97 307.34h0.65v0.65h-0.65zM627.27 304.79h0.65v0.65h-0.65zM618.97 301.5h0.65v0.65h-0.65zM611.36 301.05h0.65v0.65h-0.65zM623.93 303.02h0.65v0.65h-0.65zM623.69 300.09h0.65v0.65h-0.65zM626.13 304.86h0.65v0.65h-0.65zM622.19 305.16h0.65v0.65h-0.65zM611.71 302.38h0.65v0.65h-0.65zM617.88 309.26h0.65v0.65h-0.65zM621.16 302.54h0.65v0.65h-0.65zM625.92 300.94h0.65v0.65h-0.65zM628.54 301.96h0.65v0.65h-0.65zM621.73 301.34h0.65v0.65h-0.65zM625.72 297.7h0.65v0.65h-0.65zM625.18 301.62h0.65v0.65h-0.65zM622.23 300.66h0.65v0.65h-0.65zM623.05 304.54h0.65v0.65h-0.65zM624.71 304.91h0.65v0.65h-0.65zM624.87 306.88h0.65v0.65h-0.65zM620.21 300.58h0.65v0.65h-0.65zM616.12 305.97h0.65v0.65h-0.65zM620.27 307.05h0.65v0.65h-0.65zM622.21 301.06h0.65v0.65h-0.65zM626.16 309.63h0.65v0.65h-0.65zM621.17 301.28h0.65v0.65h-0.65zM618.11 306.58h0.65v0.65h-0.65zM619.31 302.82h0.65v0.65h-0.65zM625.15 304.03h0.65v0.65h-0.65zM622.53 302.42h0.65v0.65h-0.65zM619.06 304.48h0.65v0.65h-0.65zM622.71 305.72h0.65v0.65h-0.65zM619.7 305h0.65v0.65h-0.65zM624.19 304.24h0.65v0.65h-0.65zM624.62 306.93h0.65v0.65h-0.65zM622.91 304.23h0.65v0.65h-0.65zM617.54 304.95h0.65v0.65h-0.65zM621.57 303.1h0.65v0.65h-0.65zM618.2 305.66h0.65v0.65h-0.65zM633.77 305.25h0.65v0.65h-0.65zM622.4 305.27h0.65v0.65h-0.65zM619.27 304.28h0.65v0.65h-0.65zM618.95 302.14h0.65v0.65h-0.65zM623.07 304.66h0.65v0.65h-0.65zM621.48 301.7h0.65v0.65h-0.65zM623.21 300.85h0.65v0.65h-0.65zM625.55 303h0.65v0.65h-0.65zM622 306.28h0.65v0.65h-0.65zM624.56 300.25h0.65v0.65h-0.65zM620.86 305.07h0.65v0.65h-0.65zM617 297.03h0.65v0.65h-0.65zM621.67 303.86h0.65v0.65h-0.65zM623.97 304.24h0.65v0.65h-0.65zM622.6 304.69h0.65v0.65h-0.65zM628.32 305.41h0.65v0.65h-0.65zM624.49 302.86h0.65v0.65h-0.65zM627.17 303.46h0.65v0.65h-0.65zM625.39 297.89h0.65v0.65h-0.65zM623.13 303.72h0.65v0.65h-0.65zM619.88 307.73h0.65v0.65h-0.65zM623.86 303.59h0.65v0.65h-0.65zM619.59 309.44h0.65v0.65h-0.65zM625.44 305.9h0.65v0.65h-0.65zM618.5 307.78h0.65v0.65h-0.65zM624.57 303.22h0.65v0.65h-0.65zM621.52 299.29h0.65v0.65h-0.65zM624.99 300.84h0.65v0.65h-0.65zM625.87 302.73h0.65v0.65h-0.65zM619.14 305.07h0.65v0.65h-0.65zM622.97 300.74h0.65v0.65h-0.65zM621.66 305.76h0.65v0.65h-0.65zM620.85 300.11h0.65v0.65h-0.65zM620.89 301.22h0.65v0.65h-0.65zM619.35 304.14h0.65v0.65h-0.65zM621.76 303.39h0.65v0.65h-0.65zM614.41 305.01h0.65v0.65h-0.65zM621.08 302.82h0.65v0.65h-0.65zM622.71 309.57h0.65v0.65h-0.65zM616.09 299.36h0.65v0.65h-0.65zM625.49 301.72h0.65v0.65h-0.65zM627.96 301.16h0.65v0.65h-0.65zM619.78 306.41h0.65v0.65h-0.65zM626.18 305.28h0.65v0.65h-0.65zM624.08 303.62h0.65v0.65h-0.65zM619.98 303.41h0.65v0.65h-0.65zM627.82 306.04h0.65v0.65h-0.65zM622.09 304.92h0.65v0.65h-0.65zM625.8 307.42h0.65v0.65h-0.65zM621.39 303.77h0.65v0.65h-0.65zM623.51 311.52h0.65v0.65h-0.65zM623.11 307.66h0.65v0.65h-0.65zM614.98 306.45h0.65v0.65h-0.65zM615.57 300.88h0.65v0.65h-0.65zM619.1 303.59h0.65v0.65h-0.65zM622.82 305.06h0.65v0.65h-0.65zM623.03 302.74h0.65v0.65h-0.65zM633.85 305.13h0.65v0.65h-0.65zM625.05 309.83h0.65v0.65h-0.65zM626.42 305.67h0.65v0.65h-0.65zM623.47 309.37h0.65v0.65h-0.65zM617.07 301.24h0.65v0.65h-0.65zM622.67 298.14h0.65v0.65h-0.65zM618.45 307.25h0.65v0.65h-0.65zM619.9 304.47h0.65v0.65h-0.65zM625.16 300.65h0.65v0.65h-0.65zM623.24 302.19h0.65v0.65h-0.65zM617.02 303.21h0.65v0.65h-0.65zM621.75 302.85h0.65v0.65h-0.65zM618.99 306.75h0.65v0.65h-0.65zM627.26 305.6h0.65v0.65h-0.65zM621.56 300.97h0.65v0.65h-0.65zM618.26 300.82h0.65v0.65h-0.65zM622.95 306.63h0.65v0.65h-0.65zM626.16 303.93h0.65v0.65h-0.65zM620.25 304.51h0.65v0.65h-0.65zM622.55 305.71h0.65v0.65h-0.65zM628.72 302.04h0.65v0.65h-0.65zM631.53 297.97h0.65v0.65h-0.65zM613.89 299.65h0.65v0.65h-0.65zM617.33 303.33h0.65v0.65h-0.65zM631.41 301.99h0.65v0.65h-0.65zM627.03 302.96h0.65v0.65h-0.65zM622.69 301.07h0.65v0.65h-0.65zM632.35 303.89h0.65v0.65h-0.65zM619.2 310.53h0.65v0.65h-0.65zM622.83 305.19h0.65v0.65h-0.65zM621.34 301.62h0.65v0.65h-0.65zM615.48 303.5h0.65v0.65h-0.65zM629.36 305.21h0.65v0.65h-0.65zM621.2 307.05h0.65v0.65h-0.65zM617.75 307.95h0.65v0.65h-0.65zM621.92 301.61h0.65v0.65h-0.65zM625.09 305.48h0.65v0.65h-0.65zM620.43 304.62h0.65v0.65h-0.65zM626.46 308.04h0.65v0.65h-0.65zM618.14 296.44h0.65v0.65h-0.65zM631.32 303.24h0.65v0.65h-0.65zM620.1 305.23h0.65v0.65h-0.65zM620.05 306.99h0.65v0.65h-0.65zM616.33 303.41h0.65v0.65h-0.65zM616.27 308.38h0.65v0.65h-0.65zM620.87 307.16h0.65v0.65h-0.65zM628.32 300.57h0.65v0.65h-0.65zM620.99 306.07h0.65v0.65h-0.65zM622.23 303.61h0.65v0.65h-0.65zM625.84 306.62h0.65v0.65h-0.65zM619.3 303.61h0.65v0.65h-0.65zM624.95 304.61h0.65v0.65h-0.65zM622.65 300.78h0.65v0.65h-0.65zM630 303.34h0.65v0.65h-0.65zM623.22 303.9h0.65v0.65h-0.65zM622.3 304.43h0.65v0.65h-0.65zM618.19 305.09h0.65v0.65h-0.65zM627.48 305.15h0.65v0.65h-0.65zM625.3 305.39h0.65v0.65h-0.65zM622.14 309.22h0.65v0.65h-0.65zM618.89 305.11h0.65v0.65h-0.65zM626.69 304.84h0.65v0.65h-0.65zM617.2 300.88h0.65v0.65h-0.65zM629.13 301.25h0.65v0.65h-0.65zM622.04 305.57h0.65v0.65h-0.65zM622.42 298.89h0.65v0.65h-0.65zM613.34 303.7h0.65v0.65h-0.65zM618.47 303.25h0.65v0.65h-0.65zM622.42 304.47h0.65v0.65h-0.65zM615.9 299.16h0.65v0.65h-0.65zM626.29 302.19h0.65v0.65h-0.65zM616.65 298.25h0.65v0.65h-0.65zM624.45 300.37h0.65v0.65h-0.65zM617.22 305.8h0.65v0.65h-0.65zM623.4 305.62h0.65v0.65h-0.65zM616.21 295.74h0.65v0.65h-0.65zM617.49 303.13h0.65v0.65h-0.65zM618.97 306.56h0.65v0.65h-0.65zM623.65 300.99h0.65v0.65h-0.65zM624.59 303.57h0.65v0.65h-0.65zM619.78 307.23h0.65v0.65h-0.65zM614.36 306.98h0.65v0.65h-0.65zM626.99 298.07h0.65v0.65h-0.65zM621.13 303.53h0.65v0.65h-0.65zM616.81 302.35h0.65v0.65h-0.65zM618.28 304.18h0.65v0.65h-0.65zM619.44 297.82h0.65v0.65h-0.65zM627.47 306.59h0.65v0.65h-0.65zM618.18 306.52h0.65v0.65h-0.65zM631.27 299.51h0.65v0.65h-0.65zM620.12 302.5h0.65v0.65h-0.65zM624.55 303.12h0.65v0.65h-0.65zM615.59 307.64h0.65v0.65h-0.65zM620.52 306.11h0.65v0.65h-0.65zM632.5 301.85h0.65v0.65h-0.65zM620.11 306.64h0.65v0.65h-0.65zM621.51 305.51h0.65v0.65h-0.65zM621.98 312.12h0.65v0.65h-0.65zM624.92 305h0.65v0.65h-0.65zM622.58 305.12h0.65v0.65h-0.65zM614.52 303.22h0.65v0.65h-0.65zM625.42 300.52h0.65v0.65h-0.65zM622.2 303.73h0.65v0.65h-0.65zM619.64 311.24h0.65v0.65h-0.65zM625.29 304.97h0.65v0.65h-0.65zM618.39 304.25h0.65v0.65h-0.65zM620.63 303.74h0.65v0.65h-0.65zM623.02 311.26h0.65v0.65h-0.65zM628.16 308.96h0.65v0.65h-0.65zM628.32 312.19h0.65v0.65h-0.65zM618.97 300.28h0.65v0.65h-0.65zM622.97 304.76h0.65v0.65h-0.65zM622.17 302.2h0.65v0.65h-0.65zM625.17 309.01h0.65v0.65h-0.65zM623.03 303.35h0.65v0.65h-0.65zM627.52 303.12h0.65v0.65h-0.65zM620.38 304.93h0.65v0.65h-0.65zM611.51 309.48h0.65v0.65h-0.65zM621.53 305.51h0.65v0.65h-0.65zM623.47 305.2h0.65v0.65h-0.65zM615.87 309.15h0.65v0.65h-0.65zM624.66 304.88h0.65v0.65h-0.65zM636.51 300.33h0.65v0.65h-0.65zM625.43 303.73h0.65v0.65h-0.65zM615.11 309.64h0.65v0.65h-0.65zM614.86 304.42h0.65v0.65h-0.65zM621.63 304.56h0.65v0.65h-0.65zM617.69 307.98h0.65v0.65h-0.65zM623.19 300.31h0.65v0.65h-0.65zM616.43 304.81h0.65v0.65h-0.65zM616.68 305.27h0.65v0.65h-0.65zM623.53 302.32h0.65v0.65h-0.65zM613.13 300.24h0.65v0.65h-0.65zM623.68 302.51h0.65v0.65h-0.65zM630.58 302.74h0.65v0.65h-0.65zM623.78 305.98h0.65v0.65h-0.65zM622.45 304.92h0.65v0.65h-0.65zM626.68 303.6h0.65v0.65h-0.65zM623.58 302.97h0.65v0.65h-0.65zM631.25 304.51h0.65v0.65h-0.65zM625.88 295.38h0.65v0.65h-0.65zM619.79 300.75h0.65v0.65h-0.65zM622.2 302.73h0.65v0.65h-0.65zM617.2 303.21h0.65v0.65h-0.65zM625.78 307.12h0.65v0.65h-0.65zM619.57 307.09h0.65v0.65h-0.65zM619.18 305.81h0.65v0.65h-0.65zM618.07 307.05h0.65v0.65h-0.65zM632.71 303.17h0.65v0.65h-0.65zM627.66 299.81h0.65v0.65h-0.65zM619.11 311.74h0.65v0.65h-0.65zM621.71 305.48h0.65v0.65h-0.65zM614.53 303.98h0.65v0.65h-0.65zM618.42 307.51h0.65v0.65h-0.65zM619.57 311.42h0.65v0.65h-0.65zM616.98 304.96h0.65v0.65h-0.65zM612.8 302.84h0.65v0.65h-0.65zM627.62 303.7h0.65v0.65h-0.65zM616.05 305.44h0.65v0.65h-0.65zM626.39 305.29h0.65v0.65h-0.65zM626.58 299.89h0.65v0.65h-0.65zM630.41 306.07h0.65v0.65h-0.65zM612.32 309.45h0.65v0.65h-0.65zM619.86 305.5h0.65v0.65h-0.65zM612.9 302.19h0.65v0.65h-0.65zM613.61 306.45h0.65v0.65h-0.65zM620.95 301.33h0.65v0.65h-0.65zM620.29 307.27h0.65v0.65h-0.65zM618.42 305.66h0.65v0.65h-0.65zM616.57 299.18h0.65v0.65h-0.65zM619.77 303.18h0.65v0.65h-0.65zM622.83 306.74h0.65v0.65h-0.65zM620.11 302.95h0.65v0.65h-0.65zM625.53 305.25h0.65v0.65h-0.65zM621.77 304.69h0.65v0.65h-0.65zM611.93 302.42h0.65v0.65h-0.65zM614.65 302.98h0.65v0.65h-0.65zM626.15 299.13h0.65v0.65h-0.65zM626.24 302.37h0.65v0.65h-0.65zM621.04 302.66h0.65v0.65h-0.65zM625.27 302.06h0.65v0.65h-0.65zM612.44 304.94h0.65v0.65h-0.65zM621.32 305.83h0.65v0.65h-0.65zM624.77 300.49h0.65v0.65h-0.65zM622.95 304.35h0.65v0.65h-0.65zM621.66 304.29h0.65v0.65h-0.65zM623.45 302.39h0.65v0.65h-0.65zM621.31 306.84h0.65v0.65h-0.65zM617.12 303.77h0.65v0.65h-0.65zM617.33 300.92h0.65v0.65h-0.65zM620.09 304.51h0.65v0.65h-0.65zM628.99 303.42h0.65v0.65h-0.65zM626.3 305.57h0.65v0.65h-0.65zM622.32 295.02h0.65v0.65h-0.65zM622.58 304.16h0.65v0.65h-0.65zM617.22 304.38h0.65v0.65h-0.65zM628.78 300.66h0.65v0.65h-0.65zM619.65 306.63h0.65v0.65h-0.65zM613.71 301h0.65v0.65h-0.65zM623.36 306.76h0.65v0.65h-0.65zM627.6 306.19h0.65v0.65h-0.65zM632.61 305.13h0.65v0.65h-0.65zM616.06 303.44h0.65v0.65h-0.65zM624.88 305.08h0.65v0.65h-0.65zM613.1 305.12h0.65v0.65h-0.65zM618.35 303.42h0.65v0.65h-0.65zM628.73 303.52h0.65v0.65h-0.65zM618.96 303.65h0.65v0.65h-0.65zM619.04 309.93h0.65v0.65h-0.65zM625.8 306.65h0.65v0.65h-0.65zM618.86 302.14h0.65v0.65h-0.65zM623.18 297.68h0.65v0.65h-0.65zM626.71 300.3h0.65v0.65h-0.65zM622.46 304.98h0.65v0.65h-0.65zM618.37 305.03h0.65v0.65h-0.65zM625.22 309.51h0.65v0.65h-0.65zM623.81 309.27h0.65v0.65h-0.65zM624.15 303.44h0.65v0.65h-0.65zM625.96 302.49h0.65v0.65h-0.65zM622.7 305.81h0.65v0.65h-0.65zM627.26 304.8h0.65v0.65h-0.65zM615.29 307.76h0.65v0.65h-0.65zM622.79 303.14h0.65v0.65h-0.65zM618.28 305.67h0.65v0.65h-0.65zM623.53 305.98h0.65v0.65h-0.65zM621.41 308.45h0.65v0.65h-0.65zM620.8 305.19h0.65v0.65h-0.65zM622.92 307.08h0.65v0.65h-0.65zM618.83 303.14h0.65v0.65h-0.65zM621 302.08h0.65v0.65h-0.65zM618.99 300.51h0.65v0.65h-0.65zM625.45 308.32h0.65v0.65h-0.65zM617.49 306.23h0.65v0.65h-0.65zM616.71 301.65h0.65v0.65h-0.65zM620.54 304.35h0.65v0.65h-0.65zM624.08 298.41h0.65v0.65h-0.65zM615.96 304.24h0.65v0.65h-0.65zM620.86 310.16h0.65v0.65h-0.65zM620.72 302.11h0.65v0.65h-0.65zM627.53 296.27h0.65v0.65h-0.65zM613.42 311.86h0.65v0.65h-0.65zM619.13 304.19h0.65v0.65h-0.65zM621.14 301.42h0.65v0.65h-0.65zM621.33 300.19h0.65v0.65h-0.65zM626.4 306.22h0.65v0.65h-0.65zM625.1 301.34h0.65v0.65h-0.65zM613.1 302.59h0.65v0.65h-0.65zM616.94 305.11h0.65v0.65h-0.65zM614.56 301.31h0.65v0.65h-0.65zM622.59 305.23h0.65v0.65h-0.65zM622.41 300.33h0.65v0.65h-0.65zM618.84 309.79h0.65v0.65h-0.65zM626.3 301.6h0.65v0.65h-0.65zM630.72 303.6h0.65v0.65h-0.65zM621.95 301.59h0.65v0.65h-0.65zM628.91 304.3h0.65v0.65h-0.65zM621.6 301.32h0.65v0.65h-0.65zM616.1 304.5h0.65v0.65h-0.65zM622.01 308.49h0.65v0.65h-0.65zM617.81 302.9h0.65v0.65h-0.65zM626.51 306.34h0.65v0.65h-0.65zM618.87 308.22h0.65v0.65h-0.65zM624.15 306.57h0.65v0.65h-0.65zM623.56 306.8h0.65v0.65h-0.65zM620.06 303.36h0.65v0.65h-0.65zM626.97 305.12h0.65v0.65h-0.65zM623.64 307.28h0.65v0.65h-0.65zM623.05 305.16h0.65v0.65h-0.65zM611.87 302.47h0.65v0.65h-0.65zM625.75 301.43h0.65v0.65h-0.65zM620.64 304.64h0.65v0.65h-0.65zM621.34 306.48h0.65v0.65h-0.65zM624.14 303.48h0.65v0.65h-0.65zM626.96 302.94h0.65v0.65h-0.65zM618.72 304.91h0.65v0.65h-0.65zM624.87 303.57h0.65v0.65h-0.65zM617.04 302.5h0.65v0.65h-0.65zM623.02 305.96h0.65v0.65h-0.65zM630.1 303.53h0.65v0.65h-0.65zM620.97 297.77h0.65v0.65h-0.65zM627.84 306.62h0.65v0.65h-0.65zM622.01 301.93h0.65v0.65h-0.65zM610 306.09h0.65v0.65h-0.65zM618.38 308.36h0.65v0.65h-0.65zM625.46 307.71h0.65v0.65h-0.65zM621.33 307.43h0.65v0.65h-0.65zM615.53 308.21h0.65v0.65h-0.65zM621.82 300.57h0.65v0.65h-0.65zM620.13 301.17h0.65v0.65h-0.65zM623.19 301.89h0.65v0.65h-0.65zM616.13 302.95h0.65v0.65h-0.65zM620.92 304.58h0.65v0.65h-0.65zM625.17 307.63h0.65v0.65h-0.65zM623.86 308.74h0.65v0.65h-0.65zM610.62 303.78h0.65v0.65h-0.65zM626.28 300.18h0.65v0.65h-0.65zM621.05 304.62h0.65v0.65h-0.65zM614.87 302.33h0.65v0.65h-0.65zM624.72 303.07h0.65v0.65h-0.65zM629.02 310.83h0.65v0.65h-0.65zM621.65 300.67h0.65v0.65h-0.65zM621.81 302.35h0.65v0.65h-0.65zM615.42 302.82h0.65v0.65h-0.65zM619.83 302.96h0.65v0.65h-0.65zM626.21 307.08h0.65v0.65h-0.65zM623.87 302.95h0.65v0.65h-0.65zM623.91 304.05h0.65v0.65h-0.65zM623 301.18h0.65v0.65h-0.65zM607.84 306.55h0.65v0.65h-0.65zM619.25 302.54h0.65v0.65h-0.65zM621.91 303.83h0.65v0.65h-0.65zM620.6 308.4h0.65v0.65h-0.65zM622.57 304.66h0.65v0.65h-0.65zM617.93 303.7h0.65v0.65h-0.65zM624.09 303.76h0.65v0.65h-0.65zM623.47 301.28h0.65v0.65h-0.65zM623.7 301.04h0.65v0.65h-0.65zM619.97 301.76h0.65v0.65h-0.65zM622.8 307.14h0.65v0.65h-0.65zM623.31 301.46h0.65v0.65h-0.65zM622.6 306.98h0.65v0.65h-0.65zM625.3 305.43h0.65v0.65h-0.65zM616.82 302.39h0.65v0.65h-0.65zM618.88 302.62h0.65v0.65h-0.65zM623.05 304.1h0.65v0.65h-0.65zM620.39 305.63h0.65v0.65h-0.65zM618.72 303.04h0.65v0.65h-0.65zM622.47 300.08h0.65v0.65h-0.65zM618.07 299.97h0.65v0.65h-0.65zM617.19 303.59h0.65v0.65h-0.65zM621.4 304.98h0.65v0.65h-0.65zM623.49 300.72h0.65v0.65h-0.65zM630.52 307.89h0.65v0.65h-0.65zM616.4 302h0.65v0.65h-0.65zM619.79 304.57h0.65v0.65h-0.65zM624.79 303.99h0.65v0.65h-0.65zM610.26 312.26h0.65v0.65h-0.65zM625.9 306.37h0.65v0.65h-0.65zM618.56 304.28h0.65v0.65h-0.65zM626.23 302.63h0.65v0.65h-0.65zM627.2 304.24h0.65v0.65h-0.65zM629.22 304.13h0.65v0.65h-0.65zM628.8 299.38h0.65v0.65h-0.65zM628.59 305.29h0.65v0.65h-0.65zM620.25 307.09h0.65v0.65h-0.65zM620.78 306.35h0.65v0.65h-0.65zM626.33 307.01h0.65v0.65h-0.65zM632.08 307.95h0.65v0.65h-0.65zM633.42 306.03h0.65v0.65h-0.65zM622.69 305.13h0.65v0.65h-0.65zM621.82 300.43h0.65v0.65h-0.65zM622.65 300.57h0.65v0.65h-0.65zM620.7 303.12h0.65v0.65h-0.65zM619.46 300.91h0.65v0.65h-0.65zM622.5 303.92h0.65v0.65h-0.65zM628.28 305.81h0.65v0.65h-0.65zM626.31 302.64h0.65v0.65h-0.65zM620.57 300.39h0.65v0.65h-0.65zM618.01 306.05h0.65v0.65h-0.65zM621.11 303.58h0.65v0.65h-0.65zM619.42 308.46h0.65v0.65h-0.65zM621.73 307.28h0.65v0.65h-0.65zM621.82 306.73h0.65v0.65h-0.65zM617.56 300.12h0.65v0.65h-0.65zM627.04 303.12h0.65v0.65h-0.65zM623.22 306.51h0.65v0.65h-0.65zM625.18 304.77h0.65v0.65h-0.65zM616.55 301.98h0.65v0.65h-0.65zM622.16 305.83h0.65v0.65h-0.65zM624.36 305.05h0.65v0.65h-0.65zM618.47 303.98h0.65v0.65h-0.65zM626.42 301.5h0.65v0.65h-0.65zM619.38 306.6h0.65v0.65h-0.65zM629.24 305.17h0.65v0.65h-0.65zM622.03 301.24h0.65v0.65h-0.65zM621.44 301.71h0.65v0.65h-0.65zM622.63 306.05h0.65v0.65h-0.65zM624.06 307.74h0.65v0.65h-0.65zM617.35 300.36h0.65v0.65h-0.65zM628.23 307h0.65v0.65h-0.65zM617.56 304.38h0.65v0.65h-0.65zM617.1 303.94h0.65v0.65h-0.65zM623.42 306.77h0.65v0.65h-0.65zM617.57 300.35h0.65v0.65h-0.65zM624.6 303.03h0.65v0.65h-0.65zM628.4 300.71h0.65v0.65h-0.65zM619.04 296.13h0.65v0.65h-0.65zM627.16 307.83h0.65v0.65h-0.65zM623.89 303.13h0.65v0.65h-0.65zM612.77 300.06h0.65v0.65h-0.65zM619.59 309.49h0.65v0.65h-0.65zM626.09 302.28h0.65v0.65h-0.65zM623.96 305.6h0.65v0.65h-0.65zM624.32 301.34h0.65v0.65h-0.65zM620 306.87h0.65v0.65h-0.65zM625.17 303.03h0.65v0.65h-0.65zM633.16 304.81h0.65v0.65h-0.65zM620.15 306.61h0.65v0.65h-0.65zM625.7 303.64h0.65v0.65h-0.65zM630.26 307.11h0.65v0.65h-0.65zM622.13 306.05h0.65v0.65h-0.65zM625.07 303.2h0.65v0.65h-0.65zM625.37 302.48h0.65v0.65h-0.65zM620.95 305.91h0.65v0.65h-0.65zM616.31 303.02h0.65v0.65h-0.65zM617.6 306.06h0.65v0.65h-0.65zM619.39 309.28h0.65v0.65h-0.65zM629.04 302.04h0.65v0.65h-0.65zM622.75 302.99h0.65v0.65h-0.65zM621.99 305.96h0.65v0.65h-0.65zM628.81 310.3h0.65v0.65h-0.65zM630.44 300.4h0.65v0.65h-0.65zM619.86 303.49h0.65v0.65h-0.65zM620.6 304.44h0.65v0.65h-0.65zM624.98 302.72h0.65v0.65h-0.65zM619.36 310.8h0.65v0.65h-0.65zM625.18 310.25h0.65v0.65h-0.65zM619.45 307.98h0.65v0.65h-0.65zM629.71 307.85h0.65v0.65h-0.65zM618.6 305.59h0.65v0.65h-0.65zM618.51 300.79h0.65v0.65h-0.65zM621.99 305.49h0.65v0.65h-0.65zM621.09 303.7h0.65v0.65h-0.65zM624.92 302.08h0.65v0.65h-0.65zM623.98 306.26h0.65v0.65h-0.65zM625.03 305.66h0.65v0.65h-0.65zM617.47 303.2h0.65v0.65h-0.65zM620.08 306.08h0.65v0.65h-0.65zM614.04 304.43h0.65v0.65h-0.65zM614.73 305.89h0.65v0.65h-0.65zM619.68 304.16h0.65v0.65h-0.65zM626.29 308.93h0.65v0.65h-0.65zM617.52 304.37h0.65v0.65h-0.65zM613.14 303.45h0.65v0.65h-0.65zM618.91 305.94h0.65v0.65h-0.65zM621.55 304.32h0.65v0.65h-0.65zM616.95 303.08h0.65v0.65h-0.65zM616.96 304.08h0.65v0.65h-0.65zM614.82 304.79h0.65v0.65h-0.65zM627.07 311.54h0.65v0.65h-0.65zM628.94 307.84h0.65v0.65h-0.65zM625.72 308.6h0.65v0.65h-0.65zM621.88 305.17h0.65v0.65h-0.65zM613.49 302.6h0.65v0.65h-0.65zM627.32 299.1h0.65v0.65h-0.65zM623.51 303.88h0.65v0.65h-0.65zM620.41 304.95h0.65v0.65h-0.65zM622.16 300.82h0.65v0.65h-0.65zM621.69 298.83h0.65v0.65h-0.65zM628.91 303.97h0.65v0.65h-0.65zM626.11 301.42h0.65v0.65h-0.65zM630.47 306.96h0.65v0.65h-0.65zM623.64 304.66h0.65v0.65h-0.65zM623.81 301.94h0.65v0.65h-0.65zM621.42 303.4h0.65v0.65h-0.65zM623.78 308.46h0.65v0.65h-0.65zM627.35 304.81h0.65v0.65h-0.65zM624.95 303.23h0.65v0.65h-0.65zM619.87 299.41h0.65v0.65h-0.65zM616.28 300.62h0.65v0.65h-0.65zM621.75 303.53h0.65v0.65h-0.65zM624.04 307.36h0.65v0.65h-0.65zM625.16 303.62h0.65v0.65h-0.65zM619.94 303.21h0.65v0.65h-0.65zM624.85 301.42h0.65v0.65h-0.65zM615.22 303.41h0.65v0.65h-0.65zM626.86 307.54h0.65v0.65h-0.65zM624.81 298.53h0.65v0.65h-0.65zM621.34 306.08h0.65v0.65h-0.65zM627.02 309.35h0.65v0.65h-0.65zM617.77 305.09h0.65v0.65h-0.65zM614.94 303.42h0.65v0.65h-0.65zM620.27 306.39h0.65v0.65h-0.65zM622.81 299h0.65v0.65h-0.65zM621.49 305.09h0.65v0.65h-0.65zM628.69 301.95h0.65v0.65h-0.65zM618.11 302.35h0.65v0.65h-0.65zM626.72 303.21h0.65v0.65h-0.65zM622.44 305.3h0.65v0.65h-0.65zM618.3 307.16h0.65v0.65h-0.65zM614.65 309.29h0.65v0.65h-0.65zM619 301.4h0.65v0.65h-0.65zM618.67 300.67h0.65v0.65h-0.65zM618.02 301.72h0.65v0.65h-0.65zM616.71 303.51h0.65v0.65h-0.65zM623.47 302.35h0.65v0.65h-0.65zM622.86 301.62h0.65v0.65h-0.65zM623.04 303.08h0.65v0.65h-0.65zM617.05 304.3h0.65v0.65h-0.65zM621.26 302.11h0.65v0.65h-0.65zM621.81 305.54h0.65v0.65h-0.65zM616.41 302.57h0.65v0.65h-0.65zM624.88 304.01h0.65v0.65h-0.65zM625.59 310.92h0.65v0.65h-0.65zM616.3 305.04h0.65v0.65h-0.65zM620.33 308.13h0.65v0.65h-0.65zM624.64 300.01h0.65v0.65h-0.65zM626.95 304.03h0.65v0.65h-0.65zM620.61 304.06h0.65v0.65h-0.65zM623 301.54h0.65v0.65h-0.65zM620.27 307.91h0.65v0.65h-0.65zM617.36 302.27h0.65v0.65h-0.65zM625.53 301.29h0.65v0.65h-0.65zM621.07 304.88h0.65v0.65h-0.65zM617.87 303.1h0.65v0.65h-0.65zM617.86 303.39h0.65v0.65h-0.65zM623.28 304.03h0.65v0.65h-0.65zM623.12 305.08h0.65v0.65h-0.65zM625.61 300.93h0.65v0.65h-0.65zM622.52 308.56h0.65v0.65h-0.65zM620.91 303.22h0.65v0.65h-0.65zM622.03 301.91h0.65v0.65h-0.65zM624.54 303.97h0.65v0.65h-0.65zM621.22 306.14h0.65v0.65h-0.65zM627.51 299.92h0.65v0.65h-0.65zM619.71 303.21h0.65v0.65h-0.65zM615.55 305.96h0.65v0.65h-0.65zM631.68 306.32h0.65v0.65h-0.65zM627.79 298.36h0.65v0.65h-0.65zM619.98 300.19h0.65v0.65h-0.65zM625.58 303.64h0.65v0.65h-0.65zM621.19 305.4h0.65v0.65h-0.65zM625.49 308.7h0.65v0.65h-0.65zM628.28 306.7h0.65v0.65h-0.65zM614.5 307.61h0.65v0.65h-0.65zM622.42 299.59h0.65v0.65h-0.65zM622.76 303.29h0.65v0.65h-0.65zM621.57 306.77h0.65v0.65h-0.65zM615.81 305.86h0.65v0.65h-0.65zM627.48 300.72h0.65v0.65h-0.65zM628.4 302.06h0.65v0.65h-0.65zM618.6 306.71h0.65v0.65h-0.65zM621.92 298.67h0.65v0.65h-0.65zM619.05 305.98h0.65v0.65h-0.65zM619.51 302.62h0.65v0.65h-0.65zM622.04 303.98h0.65v0.65h-0.65zM618.85 301.31h0.65v0.65h-0.65zM624.02 307.55h0.65v0.65h-0.65zM610.39 305.2h0.65v0.65h-0.65zM626.58 301.44h0.65v0.65h-0.65zM628.59 299.65h0.65v0.65h-0.65zM626.38 308.68h0.65v0.65h-0.65zM629.05 296.31h0.65v0.65h-0.65zM622.28 301.11h0.65v0.65h-0.65zM623.81 308.06h0.65v0.65h-0.65zM623.89 308.73h0.65v0.65h-0.65zM614.32 301.56h0.65v0.65h-0.65zM619.58 305.93h0.65v0.65h-0.65zM627.59 301.58h0.65v0.65h-0.65zM617.74 306.58h0.65v0.65h-0.65zM615.93 305.64h0.65v0.65h-0.65zM618.25 303.75h0.65v0.65h-0.65zM631.49 303.23h0.65v0.65h-0.65zM622.2 301.66h0.65v0.65h-0.65zM624.56 308.41h0.65v0.65h-0.65zM624.94 300.21h0.65v0.65h-0.65zM623.67 308.51h0.65v0.65h-0.65zM617.6 303.59h0.65v0.65h-0.65zM617.74 302.32h0.65v0.65h-0.65zM617.44 300.11h0.65v0.65h-0.65zM624.22 303.85h0.65v0.65h-0.65zM612 300.98h0.65v0.65h-0.65zM618.66 300.82h0.65v0.65h-0.65zM622.7 303.42h0.65v0.65h-0.65zM623.7 300.09h0.65v0.65h-0.65zM618.57 302.74h0.65v0.65h-0.65zM620.26 302.98h0.65v0.65h-0.65zM618.49 303.64h0.65v0.65h-0.65zM629.56 301.82h0.65v0.65h-0.65zM614.4 304.83h0.65v0.65h-0.65zM617.8 306.34h0.65v0.65h-0.65zM626.8 308.87h0.65v0.65h-0.65zM622.69 299.12h0.65v0.65h-0.65zM629.37 306.68h0.65v0.65h-0.65zM627.92 304.28h0.65v0.65h-0.65zM620.4 304.08h0.65v0.65h-0.65zM613.53 306.86h0.65v0.65h-0.65zM619.16 302.23h0.65v0.65h-0.65zM623.7 301.5h0.65v0.65h-0.65zM625.72 302.23h0.65v0.65h-0.65zM632.85 307.63h0.65v0.65h-0.65zM625.17 304.96h0.65v0.65h-0.65zM622.3 302.58h0.65v0.65h-0.65zM613.24 302.43h0.65v0.65h-0.65zM618.41 302.56h0.65v0.65h-0.65zM622.43 298.59h0.65v0.65h-0.65zM616.33 302.05h0.65v0.65h-0.65zM619.93 306.67h0.65v0.65h-0.65zM634.27 303.6h0.65v0.65h-0.65zM625.04 304.02h0.65v0.65h-0.65zM623.26 309.08h0.65v0.65h-0.65zM622.86 305.68h0.65v0.65h-0.65zM622.28 302.24h0.65v0.65h-0.65zM627.02 303.55h0.65v0.65h-0.65zM628.84 300.81h0.65v0.65h-0.65zM624.15 308.91h0.65v0.65h-0.65zM619.19 305.05h0.65v0.65h-0.65zM628.87 305.29h0.65v0.65h-0.65zM618.37 303.08h0.65v0.65h-0.65zM623.51 302.33h0.65v0.65h-0.65zM620.15 304.42h0.65v0.65h-0.65zM616.36 308.87h0.65v0.65h-0.65zM619.34 304h0.65v0.65h-0.65zM622.56 308.16h0.65v0.65h-0.65zM620.33 309.97h0.65v0.65h-0.65zM630.61 306.17h0.65v0.65h-0.65zM615.84 300.26h0.65v0.65h-0.65zM620.94 304.87h0.65v0.65h-0.65zM625.03 307.59h0.65v0.65h-0.65zM624.19 304.23h0.65v0.65h-0.65zM623.9 298.17h0.65v0.65h-0.65zM627.42 299.66h0.65v0.65h-0.65zM613.17 301.99h0.65v0.65h-0.65zM620.1 300.5h0.65v0.65h-0.65zM621.09 304.29h0.65v0.65h-0.65zM624.95 305.17h0.65v0.65h-0.65zM619.73 304.36h0.65v0.65h-0.65zM627.93 303.3h0.65v0.65h-0.65zM621.41 297.88h0.65v0.65h-0.65zM623.43 309.98h0.65v0.65h-0.65zM625.5 303.4h0.65v0.65h-0.65zM627.82 307.69h0.65v0.65h-0.65zM628.34 300.69h0.65v0.65h-0.65zM616.76 306.14h0.65v0.65h-0.65zM624.54 305.39h0.65v0.65h-0.65zM615.36 306.34h0.65v0.65h-0.65zM630.96 307.52h0.65v0.65h-0.65zM633.95 305.43h0.65v0.65h-0.65zM622.7 309.34h0.65v0.65h-0.65zM626.74 297.44h0.65v0.65h-0.65zM615 304.84h0.65v0.65h-0.65zM619.73 309.3h0.65v0.65h-0.65zM629.4 307.8h0.65v0.65h-0.65zM620.62 303.43h0.65v0.65h-0.65zM625.74 303.09h0.65v0.65h-0.65zM625.24 304.93h0.65v0.65h-0.65zM625.68 304.4h0.65v0.65h-0.65zM618.58 295.61h0.65v0.65h-0.65zM615.88 299.82h0.65v0.65h-0.65zM625.2 299.87h0.65v0.65h-0.65zM619.38 305.47h0.65v0.65h-0.65zM625.22 307.03h0.65v0.65h-0.65zM624.14 308.56h0.65v0.65h-0.65zM619.41 307.45h0.65v0.65h-0.65zM615.81 302.83h0.65v0.65h-0.65zM623.98 305.85h0.65v0.65h-0.65zM620.8 302.14h0.65v0.65h-0.65zM616.36 297.38h0.65v0.65h-0.65zM612.99 308.75h0.65v0.65h-0.65zM613.67 299.41h0.65v0.65h-0.65zM614.41 303.2h0.65v0.65h-0.65zM620.75 302.26h0.65v0.65h-0.65zM615.97 303.57h0.65v0.65h-0.65zM615.42 304.96h0.65v0.65h-0.65zM628.89 301.21h0.65v0.65h-0.65zM622.98 302.51h0.65v0.65h-0.65zM620.12 300.1h0.65v0.65h-0.65zM622.3 303.92h0.65v0.65h-0.65zM627.87 310.98h0.65v0.65h-0.65zM616.99 307.26h0.65v0.65h-0.65zM618.11 302.41h0.65v0.65h-0.65zM616.52 305.4h0.65v0.65h-0.65zM627.66 303.67h0.65v0.65h-0.65zM622.98 301.61h0.65v0.65h-0.65zM620.51 300.16h0.65v0.65h-0.65zM621.61 298.04h0.65v0.65h-0.65zM632.54 307.64h0.65v0.65h-0.65zM619.25 302.56h0.65v0.65h-0.65zM619.98 304.29h0.65v0.65h-0.65zM623.04 309.49h0.65v0.65h-0.65zM619.77 298.35h0.65v0.65h-0.65zM623.15 305.18h0.65v0.65h-0.65zM618.09 306.33h0.65v0.65h-0.65zM621.06 301.63h0.65v0.65h-0.65zM621.51 300.17h0.65v0.65h-0.65zM620.05 308.96h0.65v0.65h-0.65zM627.51 305.73h0.65v0.65h-0.65zM622.52 304.79h0.65v0.65h-0.65zM616.48 304.48h0.65v0.65h-0.65zM618.61 302.17h0.65v0.65h-0.65zM629.28 301.82h0.65v0.65h-0.65zM622.26 304.23h0.65v0.65h-0.65zM626.59 303.27h0.65v0.65h-0.65zM624.27 305.11h0.65v0.65h-0.65zM621.12 302.28h0.65v0.65h-0.65zM617.17 307.12h0.65v0.65h-0.65zM617.99 307.38h0.65v0.65h-0.65zM629.74 302.36h0.65v0.65h-0.65zM617.53 301.07h0.65v0.65h-0.65zM619.59 307.86h0.65v0.65h-0.65zM618.38 300.89h0.65v0.65h-0.65zM614.34 304.28h0.65v0.65h-0.65zM624.05 308.4h0.65v0.65h-0.65zM623.23 303.89h0.65v0.65h-0.65zM621.82 312.46h0.65v0.65h-0.65zM629.37 306.65h0.65v0.65h-0.65zM620.47 303.46h0.65v0.65h-0.65zM621.61 303.74h0.65v0.65h-0.65zM624.28 302h0.65v0.65h-0.65zM630.72 301.15h0.65v0.65h-0.65zM625.06 306.23h0.65v0.65h-0.65zM626.45 308h0.65v0.65h-0.65zM623.49 304.64h0.65v0.65h-0.65zM628.78 307.82h0.65v0.65h-0.65zM622.07 306.56h0.65v0.65h-0.65zM616.5 305.22h0.65v0.65h-0.65zM612.46 307.65h0.65v0.65h-0.65zM619.18 306.78h0.65v0.65h-0.65zM624.23 302.35h0.65v0.65h-0.65zM626.02 308.9h0.65v0.65h-0.65zM618.09 309.6h0.65v0.65h-0.65zM623.95 301.48h0.65v0.65h-0.65zM620.94 305.16h0.65v0.65h-0.65zM625.48 301.76h0.65v0.65h-0.65zM620.43 305.51h0.65v0.65h-0.65zM623.41 309.83h0.65v0.65h-0.65zM625.99 306.7h0.65v0.65h-0.65zM618.05 301.52h0.65v0.65h-0.65zM617.37 303.96h0.65v0.65h-0.65zM625.06 309.02h0.65v0.65h-0.65zM626.72 301.74h0.65v0.65h-0.65zM621.89 310.4h0.65v0.65h-0.65zM622.84 305.69h0.65v0.65h-0.65zM615.9 300.11h0.65v0.65h-0.65zM620.01 303.39h0.65v0.65h-0.65zM624.66 303.78h0.65v0.65h-0.65zM614.39 311.19h0.65v0.65h-0.65zM624.02 299.3h0.65v0.65h-0.65zM629.99 306.6h0.65v0.65h-0.65zM621.45 304.25h0.65v0.65h-0.65zM624.58 297.51h0.65v0.65h-0.65zM626.84 304.94h0.65v0.65h-0.65zM625.37 302.49h0.65v0.65h-0.65zM619.39 308.76h0.65v0.65h-0.65zM606.83 307.7h0.65v0.65h-0.65zM627.62 299.49h0.65v0.65h-0.65zM621.19 302.16h0.65v0.65h-0.65zM619.67 300.48h0.65v0.65h-0.65zM616.09 304.4h0.65v0.65h-0.65zM620.96 305.81h0.65v0.65h-0.65zM625.75 302.55h0.65v0.65h-0.65zM631.91 308.9h0.65v0.65h-0.65zM615.11 303.71h0.65v0.65h-0.65zM620.61 305.39h0.65v0.65h-0.65zM617.69 308.77h0.65v0.65h-0.65zM620.48 310.33h0.65v0.65h-0.65zM618.71 309.83h0.65v0.65h-0.65zM624.15 306.83h0.65v0.65h-0.65zM623.8 305.19h0.65v0.65h-0.65zM617.66 303.61h0.65v0.65h-0.65zM618.88 303.53h0.65v0.65h-0.65zM620.5 306.37h0.65v0.65h-0.65zM623.52 303.29h0.65v0.65h-0.65zM614.19 306.86h0.65v0.65h-0.65zM618.82 303.02h0.65v0.65h-0.65zM624.2 303.98h0.65v0.65h-0.65zM622.56 304.41h0.65v0.65h-0.65zM613.56 306.14h0.65v0.65h-0.65zM621.24 306.33h0.65v0.65h-0.65zM622.55 302.89h0.65v0.65h-0.65zM628.75 304.47h0.65v0.65h-0.65zM626.79 305.87h0.65v0.65h-0.65zM625.83 307.11h0.65v0.65h-0.65zM625 301.44h0.65v0.65h-0.65zM621.06 308.01h0.65v0.65h-0.65zM621.51 303.06h0.65v0.65h-0.65zM622.28 306.81h0.65v0.65h-0.65zM618.32 303.92h0.65v0.65h-0.65zM620.07 302.13h0.65v0.65h-0.65zM625.54 302.48h0.65v0.65h-0.65zM622.33 305.15h0.65v0.65h-0.65zM624.24 305.44h0.65v0.65h-0.65zM625.54 301.98h0.65v0.65h-0.65zM611.08 306.58h0.65v0.65h-0.65zM629.66 302.97h0.65v0.65h-0.65zM622.25 306.58h0.65v0.65h-0.65zM618.45 303.93h0.65v0.65h-0.65zM620.18 305.64h0.65v0.65h-0.65zM622.42 308.82h0.65v0.65h-0.65zM618.02 302.1h0.65v0.65h-0.65zM615.76 304.71h0.65v0.65h-0.65zM621.61 303.43h0.65v0.65h-0.65zM624.84 301.31h0.65v0.65h-0.65zM615.66 310.13h0.65v0.65h-0.65zM622.18 301.31h0.65v0.65h-0.65zM626.87 304.48h0.65v0.65h-0.65zM617.86 305.04h0.65v0.65h-0.65zM626.93 306.19h0.65v0.65h-0.65zM621.77 308.91h0.65v0.65h-0.65zM618.23 303.57h0.65v0.65h-0.65zM624.31 301.19h0.65v0.65h-0.65zM625.22 305.19h0.65v0.65h-0.65zM626.61 305h0.65v0.65h-0.65zM631.18 300.26h0.65v0.65h-0.65zM620.46 302.63h0.65v0.65h-0.65zM622.2 305.95h0.65v0.65h-0.65zM617.43 306.96h0.65v0.65h-0.65zM627.28 304.47h0.65v0.65h-0.65zM615.96 305.92h0.65v0.65h-0.65zM624.14 301.41h0.65v0.65h-0.65zM619.07 302.61h0.65v0.65h-0.65zM615.74 305.16h0.65v0.65h-0.65zM627.23 305.12h0.65v0.65h-0.65zM619.07 303.97h0.65v0.65h-0.65zM622.07 309.41h0.65v0.65h-0.65zM620.24 305.54h0.65v0.65h-0.65zM620.8 307.44h0.65v0.65h-0.65zM618.56 305.6h0.65v0.65h-0.65zM620.58 305.82h0.65v0.65h-0.65zM615.78 303.89h0.65v0.65h-0.65zM627.21 306.06h0.65v0.65h-0.65zM617.48 311.52h0.65v0.65h-0.65zM624.26 303.42h0.65v0.65h-0.65zM620.6 301.48h0.65v0.65h-0.65zM629.19 307.81h0.65v0.65h-0.65zM628.78 301.22h0.65v0.65h-0.65zM613.69 297.94h0.65v0.65h-0.65zM615.51 302.51h0.65v0.65h-0.65zM616.77 299.3h0.65v0.65h-0.65zM624.42 302.06h0.65v0.65h-0.65zM623.51 307.52h0.65v0.65h-0.65zM618.37 302.55h0.65v0.65h-0.65zM627.73 299.67h0.65v0.65h-0.65zM619.8 300.69h0.65v0.65h-0.65zM620.98 302.2h0.65v0.65h-0.65zM622.85 302.59h0.65v0.65h-0.65zM627.3 301.68h0.65v0.65h-0.65zM621.49 305.86h0.65v0.65h-0.65zM617.84 302.1h0.65v0.65h-0.65zM621.31 302.76h0.65v0.65h-0.65zM625.45 301.83h0.65v0.65h-0.65zM615 305.75h0.65v0.65h-0.65zM618.08 302.05h0.65v0.65h-0.65zM620.63 307.13h0.65v0.65h-0.65zM625.47 304.44h0.65v0.65h-0.65zM623.07 302.7h0.65v0.65h-0.65zM629.66 306.9h0.65v0.65h-0.65zM618.03 306.54h0.65v0.65h-0.65zM615.76 301.59h0.65v0.65h-0.65zM618.7 308.52h0.65v0.65h-0.65zM630.92 304.02h0.65v0.65h-0.65zM619.63 307.78h0.65v0.65h-0.65zM619.47 308.55h0.65v0.65h-0.65zM617.55 306.76h0.65v0.65h-0.65zM618.26 308.95h0.65v0.65h-0.65zM622.52 302.08h0.65v0.65h-0.65zM622.44 297.08h0.65v0.65h-0.65zM622.24 305.88h0.65v0.65h-0.65zM632.72 300.88h0.65v0.65h-0.65zM627.45 307.65h0.65v0.65h-0.65zM625.26 303.04h0.65v0.65h-0.65zM622.74 301.61h0.65v0.65h-0.65zM623.27 300.64h0.65v0.65h-0.65zM619.66 304.26h0.65v0.65h-0.65zM617.89 300.32h0.65v0.65h-0.65zM621.65 304.85h0.65v0.65h-0.65zM625 305.21h0.65v0.65h-0.65zM629.59 303.9h0.65v0.65h-0.65zM628.08 301.07h0.65v0.65h-0.65zM625.03 306.13h0.65v0.65h-0.65zM630.54 302.25h0.65v0.65h-0.65zM630.5 303.71h0.65v0.65h-0.65zM620.1 299.22h0.65v0.65h-0.65zM626.19 302.44h0.65v0.65h-0.65zM625.89 304.52h0.65v0.65h-0.65zM625.66 304.19h0.65v0.65h-0.65zM618.88 302.75h0.65v0.65h-0.65zM622.02 305.29h0.65v0.65h-0.65zM618.52 306.72h0.65v0.65h-0.65zM612.74 300.25h0.65v0.65h-0.65zM625.19 304.95h0.65v0.65h-0.65zM631.4 307.11h0.65v0.65h-0.65zM617.46 300.87h0.65v0.65h-0.65zM622.13 303.81h0.65v0.65h-0.65zM625.4 302.51h0.65v0.65h-0.65zM618.77 301.87h0.65v0.65h-0.65zM621.89 301.54h0.65v0.65h-0.65zM621.4 306.17h0.65v0.65h-0.65zM621.2 300.84h0.65v0.65h-0.65zM624.42 306.25h0.65v0.65h-0.65zM617.96 302.84h0.65v0.65h-0.65zM614.6 300.94h0.65v0.65h-0.65zM616.74 299.98h0.65v0.65h-0.65zM618.95 309.53h0.65v0.65h-0.65zM627.26 302.7h0.65v0.65h-0.65zM623.93 304.18h0.65v0.65h-0.65zM622.42 298.18h0.65v0.65h-0.65zM621.12 300.59h0.65v0.65h-0.65zM619.79 303.64h0.65v0.65h-0.65zM605.11 296.42h0.65v0.65h-0.65zM623.74 307.83h0.65v0.65h-0.65zM625.94 300.61h0.65v0.65h-0.65zM620 305.72h0.65v0.65h-0.65zM620.86 297.4h0.65v0.65h-0.65zM625.35 301.96h0.65v0.65h-0.65zM621.72 298.71h0.65v0.65h-0.65zM616.53 307.43h0.65v0.65h-0.65zM619.68 305.27h0.65v0.65h-0.65zM629.39 304.01h0.65v0.65h-0.65zM622.02 303.14h0.65v0.65h-0.65zM625.73 304.97h0.65v0.65h-0.65zM623.93 308.54h0.65v0.65h-0.65zM624.25 307.58h0.65v0.65h-0.65zM617.96 303.16h0.65v0.65h-0.65zM625.02 301.54h0.65v0.65h-0.65zM615.21 303.68h0.65v0.65h-0.65zM619.57 305.05h0.65v0.65h-0.65zM629.35 302.59h0.65v0.65h-0.65zM616.83 303.04h0.65v0.65h-0.65zM619.15 302.37h0.65v0.65h-0.65zM627.18 305.61h0.65v0.65h-0.65zM623.7 303.22h0.65v0.65h-0.65zM626.42 303.67h0.65v0.65h-0.65zM629.88 303.95h0.65v0.65h-0.65zM621.56 305.99h0.65v0.65h-0.65zM631.8 298.78h0.65v0.65h-0.65zM624.07 300.39h0.65v0.65h-0.65zM614.26 302.64h0.65v0.65h-0.65zM625.84 299.06h0.65v0.65h-0.65zM619.94 309.28h0.65v0.65h-0.65zM627.76 302.91h0.65v0.65h-0.65zM624.97 304.11h0.65v0.65h-0.65zM619.18 301.52h0.65v0.65h-0.65zM627.73 301.95h0.65v0.65h-0.65zM621.18 302.42h0.65v0.65h-0.65zM614.85 303.29h0.65v0.65h-0.65zM630.58 300.88h0.65v0.65h-0.65zM621.53 307.41h0.65v0.65h-0.65zM623.98 303.83h0.65v0.65h-0.65zM624.63 304.79h0.65v0.65h-0.65zM621.53 301.45h0.65v0.65h-0.65zM619.73 298.76h0.65v0.65h-0.65zM622.47 303.23h0.65v0.65h-0.65zM618.9 299.19h0.65v0.65h-0.65zM619.31 298.46h0.65v0.65h-0.65zM624.62 300.36h0.65v0.65h-0.65zM625.84 301.29h0.65v0.65h-0.65zM624.93 305.49h0.65v0.65h-0.65zM625.8 302.92h0.65v0.65h-0.65zM612.8 305.05h0.65v0.65h-0.65zM618.79 299.29h0.65v0.65h-0.65zM616.62 304.64h0.65v0.65h-0.65zM624.72 304.9h0.65v0.65h-0.65zM625.11 307.02h0.65v0.65h-0.65zM620.24 303.82h0.65v0.65h-0.65zM620.59 302.99h0.65v0.65h-0.65zM621.2 304.44h0.65v0.65h-0.65zM619.46 304.25h0.65v0.65h-0.65zM626.06 303h0.65v0.65h-0.65zM624.37 301.25h0.65v0.65h-0.65zM617.9 308.91h0.65v0.65h-0.65zM621.14 307.45h0.65v0.65h-0.65zM612.57 296.87h0.65v0.65h-0.65zM621.57 303.1h0.65v0.65h-0.65zM611.09 305.96h0.65v0.65h-0.65zM624.7 301.8h0.65v0.65h-0.65zM624.52 305.66h0.65v0.65h-0.65zM622.13 302.17h0.65v0.65h-0.65zM624.81 302.57h0.65v0.65h-0.65zM619.37 299.86h0.65v0.65h-0.65zM622.27 307.5h0.65v0.65h-0.65zM619.48 302.34h0.65v0.65h-0.65zM615.67 303.18h0.65v0.65h-0.65zM625.63 303.37h0.65v0.65h-0.65zM624.52 307.06h0.65v0.65h-0.65zM617.64 302.09h0.65v0.65h-0.65zM624.64 302.99h0.65v0.65h-0.65zM616.81 303.83h0.65v0.65h-0.65zM623.62 307.03h0.65v0.65h-0.65zM617.73 304.83h0.65v0.65h-0.65zM623.96 295.59h0.65v0.65h-0.65zM625.17 303.61h0.65v0.65h-0.65zM614.21 309.1h0.65v0.65h-0.65zM623.73 304.63h0.65v0.65h-0.65zM632.72 306.91h0.65v0.65h-0.65zM617.1 303.89h0.65v0.65h-0.65zM629.78 307.49h0.65v0.65h-0.65zM629.01 303.8h0.65v0.65h-0.65zM627.08 302.03h0.65v0.65h-0.65zM620.92 305.69h0.65v0.65h-0.65zM621.13 305.56h0.65v0.65h-0.65zM621.03 304.66h0.65v0.65h-0.65zM631.5 305.57h0.65v0.65h-0.65zM626.88 299.65h0.65v0.65h-0.65zM618.99 306.55h0.65v0.65h-0.65zM614.2 302.64h0.65v0.65h-0.65zM620.18 307.28h0.65v0.65h-0.65zM613.6 302.31h0.65v0.65h-0.65zM621.78 304.19h0.65v0.65h-0.65zM614.14 307.42h0.65v0.65h-0.65zM624.93 307.62h0.65v0.65h-0.65zM624.46 305.71h0.65v0.65h-0.65zM620.48 303.05h0.65v0.65h-0.65zM616.14 305.1h0.65v0.65h-0.65zM616.11 307.15h0.65v0.65h-0.65zM624.12 302.07h0.65v0.65h-0.65zM622.52 299.14h0.65v0.65h-0.65zM616.93 301.8h0.65v0.65h-0.65zM615.13 302.03h0.65v0.65h-0.65zM620.67 301.85h0.65v0.65h-0.65zM617.74 300.3h0.65v0.65h-0.65zM612.49 305.45h0.65v0.65h-0.65zM619.7 307.37h0.65v0.65h-0.65zM616.32 302.35h0.65v0.65h-0.65zM624.75 307.94h0.65v0.65h-0.65zM626.23 306.39h0.65v0.65h-0.65zM615.24 305.35h0.65v0.65h-0.65zM630.31 297.48h0.65v0.65h-0.65zM623.29 310.31h0.65v0.65h-0.65zM616.63 304.6h0.65v0.65h-0.65zM630.82 305.46h0.65v0.65h-0.65zM622.5 306.32h0.65v0.65h-0.65zM620.86 305.99h0.65v0.65h-0.65zM621.08 306.32h0.65v0.65h-0.65zM617.75 303.44h0.65v0.65h-0.65zM622.43 297.27h0.65v0.65h-0.65zM626.06 302.83h0.65v0.65h-0.65zM618.94 299.7h0.65v0.65h-0.65zM621.27 301.11h0.65v0.65h-0.65zM624.74 308.57h0.65v0.65h-0.65zM619.62 301.76h0.65v0.65h-0.65zM621.14 303.06h0.65v0.65h-0.65zM624.07 297.94h0.65v0.65h-0.65zM624.23 303.74h0.65v0.65h-0.65zM619.1 299.28h0.65v0.65h-0.65zM625.99 307.09h0.65v0.65h-0.65zM623.2 305.89h0.65v0.65h-0.65zM625.68 304.41h0.65v0.65h-0.65zM625.58 300.87h0.65v0.65h-0.65zM625.56 296.64h0.65v0.65h-0.65zM627.17 308.58h0.65v0.65h-0.65zM627.28 301.45h0.65v0.65h-0.65zM620.56 305.56h0.65v0.65h-0.65zM617.88 305.04h0.65v0.65h-0.65zM621.55 308.33h0.65v0.65h-0.65zM619.65 302.32h0.65v0.65h-0.65zM624.53 307.01h0.65v0.65h-0.65zM620.34 299.84h0.65v0.65h-0.65zM615.79 299.21h0.65v0.65h-0.65zM622.24 300.87h0.65v0.65h-0.65zM621.82 299.71h0.65v0.65h-0.65zM620.49 305.48h0.65v0.65h-0.65zM616.75 307.21h0.65v0.65h-0.65zM622.02 301.53h0.65v0.65h-0.65zM620.25 303.7h0.65v0.65h-0.65zM617.9 302.17h0.65v0.65h-0.65zM623.02 298.28h0.65v0.65h-0.65zM633.27 306.44h0.65v0.65h-0.65zM627.61 310.59h0.65v0.65h-0.65zM625.24 303.81h0.65v0.65h-0.65zM621.33 305.57h0.65v0.65h-0.65zM628.54 301.4h0.65v0.65h-0.65zM630.16 302.89h0.65v0.65h-0.65zM616.95 307.86h0.65v0.65h-0.65zM619.45 306.04h0.65v0.65h-0.65zM615.62 306.02h0.65v0.65h-0.65zM619.61 307.4h0.65v0.65h-0.65zM614.54 301.88h0.65v0.65h-0.65zM617.28 304.57h0.65v0.65h-0.65zM617.19 302.9h0.65v0.65h-0.65zM621.75 302.63h0.65v0.65h-0.65zM622.56 304.73h0.65v0.65h-0.65zM614.36 306.93h0.65v0.65h-0.65zM616.7 301.58h0.65v0.65h-0.65zM629.85 301.88h0.65v0.65h-0.65zM621.13 305.98h0.65v0.65h-0.65zM618.77 303.51h0.65v0.65h-0.65zM620.46 303.33h0.65v0.65h-0.65zM616.3 306.94h0.65v0.65h-0.65zM621.92 305.65h0.65v0.65h-0.65zM621.97 302.1h0.65v0.65h-0.65zM627.16 301.68h0.65v0.65h-0.65zM626.34 301.7h0.65v0.65h-0.65zM618.46 304.16h0.65v0.65h-0.65zM632.64 306.56h0.65v0.65h-0.65zM622.37 305.17h0.65v0.65h-0.65zM627.2 302.52h0.65v0.65h-0.65zM613 300.83h0.65v0.65h-0.65zM621.6 301.77h0.65v0.65h-0.65zM620.61 308.15h0.65v0.65h-0.65zM620.61 302.12h0.65v0.65h-0.65zM622.01 307.46h0.65v0.65h-0.65zM629.74 305.91h0.65v0.65h-0.65zM620.56 302.61h0.65v0.65h-0.65zM616.59 302.14h0.65v0.65h-0.65zM626.13 305.63h0.65v0.65h-0.65zM623.32 300.92h0.65v0.65h-0.65zM621.52 301.91h0.65v0.65h-0.65zM628.83 303.95h0.65v0.65h-0.65zM621.36 303.84h0.65v0.65h-0.65zM621.82 304.15h0.65v0.65h-0.65zM619.34 304.68h0.65v0.65h-0.65zM622.14 306.48h0.65v0.65h-0.65zM624.31 305.87h0.65v0.65h-0.65zM619.53 303.96h0.65v0.65h-0.65zM611.57 301.38h0.65v0.65h-0.65zM619.95 296.92h0.65v0.65h-0.65zM627.25 306.69h0.65v0.65h-0.65zM622.61 310.77h0.65v0.65h-0.65zM614.64 304.12h0.65v0.65h-0.65zM622.4 302.47h0.65v0.65h-0.65zM628.77 307.12h0.65v0.65h-0.65zM624.06 301.19h0.65v0.65h-0.65zM623.01 304.1h0.65v0.65h-0.65zM624.23 299.76h0.65v0.65h-0.65zM617.15 307.11h0.65v0.65h-0.65zM622.2 303.68h0.65v0.65h-0.65zM621.64 295.99h0.65v0.65h-0.65zM628.5 299.59h0.65v0.65h-0.65zM616.16 305.46h0.65v0.65h-0.65zM628.15 307.38h0.65v0.65h-0.65zM619.49 301.51h0.65v0.65h-0.65zM624.75 304.56h0.65v0.65h-0.65zM613.55 307.78h0.65v0.65h-0.65zM612.93 305.03h0.65v0.65h-0.65zM623.35 306.05h0.65v0.65h-0.65zM622.32 306.38h0.65v0.65h-0.65zM623.24 301.33h0.65v0.65h-0.65zM619.04 307.97h0.65v0.65h-0.65zM613.08 305.96h0.65v0.65h-0.65zM619.1 298.84h0.65v0.65h-0.65zM617.86 305.28h0.65v0.65h-0.65zM608.97 306.54h0.65v0.65h-0.65zM627.59 302.71h0.65v0.65h-0.65zM620.22 304.05h0.65v0.65h-0.65zM625.96 300.9h0.65v0.65h-0.65zM619.63 304.92h0.65v0.65h-0.65zM614.9 304.83h0.65v0.65h-0.65zM621.58 306.26h0.65v0.65h-0.65zM616.63 303.76h0.65v0.65h-0.65zM623.66 304.05h0.65v0.65h-0.65zM616.91 307.24h0.65v0.65h-0.65zM621.39 304.35h0.65v0.65h-0.65zM622.12 305.91h0.65v0.65h-0.65zM622.3 301.92h0.65v0.65h-0.65zM625.77 303.71h0.65v0.65h-0.65zM638.97 304.53h0.65v0.65h-0.65zM631.77 304.19h0.65v0.65h-0.65zM640.11 299.63h0.65v0.65h-0.65zM636.72 303.74h0.65v0.65h-0.65zM642.29 303h0.65v0.65h-0.65zM638.84 305.84h0.65v0.65h-0.65zM631.54 301.7h0.65v0.65h-0.65zM636.77 306.12h0.65v0.65h-0.65zM646 304.28h0.65v0.65h-0.65zM637.83 302.53h0.65v0.65h-0.65zM639.03 309h0.65v0.65h-0.65zM637.75 302.42h0.65v0.65h-0.65zM647.37 303.64h0.65v0.65h-0.65zM637.44 301.42h0.65v0.65h-0.65zM644.41 303.32h0.65v0.65h-0.65zM628.1 297.53h0.65v0.65h-0.65zM640.27 302.39h0.65v0.65h-0.65zM641.13 305.5h0.65v0.65h-0.65zM647.02 308.26h0.65v0.65h-0.65zM632.36 303.09h0.65v0.65h-0.65zM634.04 306.58h0.65v0.65h-0.65zM630.19 305.86h0.65v0.65h-0.65zM628.8 307.05h0.65v0.65h-0.65zM644.89 299.03h0.65v0.65h-0.65zM638.5 302.15h0.65v0.65h-0.65zM629.05 306.72h0.65v0.65h-0.65zM633.98 307.07h0.65v0.65h-0.65zM641.01 309.43h0.65v0.65h-0.65zM635.84 306.46h0.65v0.65h-0.65zM639.49 302.82h0.65v0.65h-0.65zM644.38 304.13h0.65v0.65h-0.65zM635.92 304.5h0.65v0.65h-0.65zM631.02 307.22h0.65v0.65h-0.65zM647.9 299.47h0.65v0.65h-0.65zM639.11 302.87h0.65v0.65h-0.65zM634.45 306.45h0.65v0.65h-0.65zM648.1 304.92h0.65v0.65h-0.65zM636.78 309.14h0.65v0.65h-0.65zM636.51 301.89h0.65v0.65h-0.65zM635.15 306.75h0.65v0.65h-0.65zM638.79 304.43h0.65v0.65h-0.65zM634.95 305.02h0.65v0.65h-0.65zM638.22 309.27h0.65v0.65h-0.65zM638.23 300.92h0.65v0.65h-0.65zM647.89 304.79h0.65v0.65h-0.65zM638.29 305.38h0.65v0.65h-0.65zM638.69 297.49h0.65v0.65h-0.65zM638.24 307.76h0.65v0.65h-0.65zM643.66 301.64h0.65v0.65h-0.65zM636.6 305.42h0.65v0.65h-0.65zM650.13 305.09h0.65v0.65h-0.65zM639.84 302.24h0.65v0.65h-0.65zM636.27 302.45h0.65v0.65h-0.65zM638.4 301.08h0.65v0.65h-0.65zM636.2 300.5h0.65v0.65h-0.65zM644.82 305.93h0.65v0.65h-0.65zM637.52 303.24h0.65v0.65h-0.65zM642.82 304.54h0.65v0.65h-0.65zM635.8 295.89h0.65v0.65h-0.65zM628.03 305.95h0.65v0.65h-0.65zM637.4 301.68h0.65v0.65h-0.65zM628.3 305.93h0.65v0.65h-0.65zM631.89 304.39h0.65v0.65h-0.65zM637.94 302.33h0.65v0.65h-0.65zM631.93 304.91h0.65v0.65h-0.65zM630.66 302.1h0.65v0.65h-0.65zM637.66 307.37h0.65v0.65h-0.65zM635.96 304.34h0.65v0.65h-0.65zM641.75 296.61h0.65v0.65h-0.65zM633.14 302.87h0.65v0.65h-0.65zM634.3 306.41h0.65v0.65h-0.65zM635.44 305.74h0.65v0.65h-0.65zM643.57 303.09h0.65v0.65h-0.65zM640.39 308.28h0.65v0.65h-0.65zM643.73 304.09h0.65v0.65h-0.65zM628.89 301.93h0.65v0.65h-0.65zM637.9 304.93h0.65v0.65h-0.65zM639.34 303.91h0.65v0.65h-0.65zM632.66 305.76h0.65v0.65h-0.65zM643.74 303.78h0.65v0.65h-0.65zM638.74 306.45h0.65v0.65h-0.65zM636.28 305.19h0.65v0.65h-0.65zM643.93 301.88h0.65v0.65h-0.65zM638.05 301.6h0.65v0.65h-0.65zM632.31 298.27h0.65v0.65h-0.65zM640.21 311.44h0.65v0.65h-0.65zM636.56 308.66h0.65v0.65h-0.65zM644.34 302.8h0.65v0.65h-0.65zM643.6 302.74h0.65v0.65h-0.65zM626.76 306.63h0.65v0.65h-0.65zM637.02 303.41h0.65v0.65h-0.65zM642.58 307h0.65v0.65h-0.65zM637.47 304.87h0.65v0.65h-0.65zM640.46 301.55h0.65v0.65h-0.65zM642.9 302.37h0.65v0.65h-0.65zM640.88 306.88h0.65v0.65h-0.65zM644.11 298.23h0.65v0.65h-0.65zM634.56 303.12h0.65v0.65h-0.65zM634.2 303.59h0.65v0.65h-0.65zM638.06 304.28h0.65v0.65h-0.65zM651.42 304.8h0.65v0.65h-0.65zM638.95 301.77h0.65v0.65h-0.65zM637.29 303.42h0.65v0.65h-0.65zM642.15 300.36h0.65v0.65h-0.65zM637.4 300.88h0.65v0.65h-0.65zM629.06 306.2h0.65v0.65h-0.65zM637.57 305.1h0.65v0.65h-0.65zM647.87 308.44h0.65v0.65h-0.65zM638.15 305.07h0.65v0.65h-0.65zM635.8 303.37h0.65v0.65h-0.65zM629.86 306.3h0.65v0.65h-0.65zM639.11 307.12h0.65v0.65h-0.65zM648.78 301.49h0.65v0.65h-0.65zM639.54 303.4h0.65v0.65h-0.65zM645.57 303.35h0.65v0.65h-0.65zM648.1 311.08h0.65v0.65h-0.65zM650.11 310.06h0.65v0.65h-0.65zM640.72 304.23h0.65v0.65h-0.65zM630.94 304.7h0.65v0.65h-0.65zM629.62 301.17h0.65v0.65h-0.65zM645.5 307.03h0.65v0.65h-0.65zM632.5 310.73h0.65v0.65h-0.65zM632.47 300.74h0.65v0.65h-0.65zM646.86 308.91h0.65v0.65h-0.65zM637.56 305.99h0.65v0.65h-0.65zM629.92 306.51h0.65v0.65h-0.65zM635.71 307.04h0.65v0.65h-0.65zM635.16 302.62h0.65v0.65h-0.65zM642.7 306.08h0.65v0.65h-0.65zM636.54 299.61h0.65v0.65h-0.65zM640.43 308.27h0.65v0.65h-0.65zM643 299.99h0.65v0.65h-0.65zM639.17 304.81h0.65v0.65h-0.65zM647.27 303.58h0.65v0.65h-0.65zM637.15 308.88h0.65v0.65h-0.65zM631.59 301.96h0.65v0.65h-0.65zM633.24 307.45h0.65v0.65h-0.65zM634.42 305.99h0.65v0.65h-0.65zM634.38 308.37h0.65v0.65h-0.65zM641.47 302.08h0.65v0.65h-0.65zM642.31 305.03h0.65v0.65h-0.65zM638.7 301.19h0.65v0.65h-0.65zM649.26 304.38h0.65v0.65h-0.65zM636.58 304.45h0.65v0.65h-0.65zM638.38 300.43h0.65v0.65h-0.65zM644.62 299.35h0.65v0.65h-0.65zM643.67 298.45h0.65v0.65h-0.65zM630.9 307.63h0.65v0.65h-0.65zM630.37 304.13h0.65v0.65h-0.65zM640.11 308.11h0.65v0.65h-0.65zM648.44 306.66h0.65v0.65h-0.65zM641.66 307.51h0.65v0.65h-0.65zM644.24 299.29h0.65v0.65h-0.65zM642.13 301.51h0.65v0.65h-0.65zM653.2 307.72h0.65v0.65h-0.65zM634.69 309.64h0.65v0.65h-0.65zM633.4 305.74h0.65v0.65h-0.65zM631.71 303.02h0.65v0.65h-0.65zM639.89 300.08h0.65v0.65h-0.65zM641.92 307.21h0.65v0.65h-0.65zM647.61 307.28h0.65v0.65h-0.65zM640.89 306.55h0.65v0.65h-0.65zM634.18 302.52h0.65v0.65h-0.65zM646.33 300.73h0.65v0.65h-0.65zM635.56 306.76h0.65v0.65h-0.65zM638 300.42h0.65v0.65h-0.65zM635.18 301.95h0.65v0.65h-0.65zM631.7 302.31h0.65v0.65h-0.65zM642.71 302.35h0.65v0.65h-0.65zM639.71 302.02h0.65v0.65h-0.65zM637.48 306.11h0.65v0.65h-0.65zM640.76 303.42h0.65v0.65h-0.65zM637.03 307.28h0.65v0.65h-0.65zM636.46 299.72h0.65v0.65h-0.65zM642.52 306.07h0.65v0.65h-0.65zM637.92 302.36h0.65v0.65h-0.65zM646.02 307.88h0.65v0.65h-0.65zM640.78 304h0.65v0.65h-0.65zM642.56 309.26h0.65v0.65h-0.65zM635.06 306.59h0.65v0.65h-0.65zM627.09 302.4h0.65v0.65h-0.65zM642.05 304.5h0.65v0.65h-0.65zM631.95 306.48h0.65v0.65h-0.65zM642.51 306.38h0.65v0.65h-0.65zM636.64 303.54h0.65v0.65h-0.65zM637.53 304.93h0.65v0.65h-0.65zM639.21 303.76h0.65v0.65h-0.65zM642.66 307.48h0.65v0.65h-0.65zM639.42 307.89h0.65v0.65h-0.65zM629.23 311.69h0.65v0.65h-0.65zM633.75 302.83h0.65v0.65h-0.65zM641.21 307.11h0.65v0.65h-0.65zM639.8 299.29h0.65v0.65h-0.65zM636.63 300.53h0.65v0.65h-0.65zM643.69 302.79h0.65v0.65h-0.65zM625.14 301.82h0.65v0.65h-0.65zM640.08 300.71h0.65v0.65h-0.65zM641.2 299.06h0.65v0.65h-0.65zM636.97 306.92h0.65v0.65h-0.65zM638.75 301.1h0.65v0.65h-0.65zM634.39 307h0.65v0.65h-0.65zM642.37 305.08h0.65v0.65h-0.65zM642.72 303.81h0.65v0.65h-0.65zM638.71 303.7h0.65v0.65h-0.65zM636.12 307.38h0.65v0.65h-0.65zM633.33 310.64h0.65v0.65h-0.65zM643.04 303.34h0.65v0.65h-0.65zM646.69 309.13h0.65v0.65h-0.65zM640.38 300.51h0.65v0.65h-0.65zM639.23 304.15h0.65v0.65h-0.65zM635.3 299.77h0.65v0.65h-0.65zM633.57 304.57h0.65v0.65h-0.65zM637.63 306.85h0.65v0.65h-0.65zM631.79 306.03h0.65v0.65h-0.65zM634.13 305.4h0.65v0.65h-0.65zM639.79 308.36h0.65v0.65h-0.65zM641.79 303.26h0.65v0.65h-0.65zM639.61 299.72h0.65v0.65h-0.65zM638.85 305.61h0.65v0.65h-0.65zM640.14 302.54h0.65v0.65h-0.65zM640.29 304.89h0.65v0.65h-0.65zM640.65 301.31h0.65v0.65h-0.65zM643.05 304.02h0.65v0.65h-0.65zM632.19 303.6h0.65v0.65h-0.65zM645.04 308.66h0.65v0.65h-0.65zM637.01 301.74h0.65v0.65h-0.65zM636.71 306.09h0.65v0.65h-0.65zM646.11 304.55h0.65v0.65h-0.65zM637.26 308.36h0.65v0.65h-0.65zM641.08 301.76h0.65v0.65h-0.65zM637.31 306.79h0.65v0.65h-0.65zM636.78 304.14h0.65v0.65h-0.65zM634.77 305.66h0.65v0.65h-0.65zM646.63 307.65h0.65v0.65h-0.65zM636.35 300.72h0.65v0.65h-0.65zM646.59 306.15h0.65v0.65h-0.65zM630.09 308.26h0.65v0.65h-0.65zM636 302.23h0.65v0.65h-0.65zM638.6 299.99h0.65v0.65h-0.65zM632.42 308.23h0.65v0.65h-0.65zM637 305.46h0.65v0.65h-0.65zM645.93 305.11h0.65v0.65h-0.65zM638.02 305.74h0.65v0.65h-0.65zM647.72 305.53h0.65v0.65h-0.65zM636.48 309.84h0.65v0.65h-0.65zM646.6 300.56h0.65v0.65h-0.65zM640.66 311.09h0.65v0.65h-0.65zM630.74 299.94h0.65v0.65h-0.65zM642.6 302.57h0.65v0.65h-0.65zM630.05 308.52h0.65v0.65h-0.65zM637.86 305.33h0.65v0.65h-0.65zM645.43 304.91h0.65v0.65h-0.65zM633.75 310.8h0.65v0.65h-0.65zM644.13 304.2h0.65v0.65h-0.65zM636.68 300.01h0.65v0.65h-0.65zM642.55 300.23h0.65v0.65h-0.65zM648.72 298.35h0.65v0.65h-0.65zM643.43 300.9h0.65v0.65h-0.65zM632.96 306.19h0.65v0.65h-0.65zM639.3 306.26h0.65v0.65h-0.65zM632.53 303.61h0.65v0.65h-0.65zM636.7 304.82h0.65v0.65h-0.65zM643.5 303.68h0.65v0.65h-0.65zM633.36 304.35h0.65v0.65h-0.65zM629.34 302.21h0.65v0.65h-0.65zM645.55 302.45h0.65v0.65h-0.65zM643.45 302.9h0.65v0.65h-0.65zM633.49 304.46h0.65v0.65h-0.65zM641.37 303.66h0.65v0.65h-0.65zM640 309.06h0.65v0.65h-0.65zM638.65 305.1h0.65v0.65h-0.65zM634.26 306.46h0.65v0.65h-0.65zM634.59 304.61h0.65v0.65h-0.65zM635.84 306.02h0.65v0.65h-0.65zM641.51 307.18h0.65v0.65h-0.65zM639.01 305.94h0.65v0.65h-0.65zM649.05 301.31h0.65v0.65h-0.65zM633.49 306.53h0.65v0.65h-0.65zM639.4 304.34h0.65v0.65h-0.65zM625.06 303.4h0.65v0.65h-0.65zM643.93 305.56h0.65v0.65h-0.65zM638.72 303.58h0.65v0.65h-0.65zM634.77 302.79h0.65v0.65h-0.65zM638.77 298.42h0.65v0.65h-0.65zM645.73 300.49h0.65v0.65h-0.65zM645.49 306.29h0.65v0.65h-0.65zM634.09 303.07h0.65v0.65h-0.65zM640.42 307.23h0.65v0.65h-0.65zM633.44 305.44h0.65v0.65h-0.65zM642.38 303.37h0.65v0.65h-0.65zM640.44 302.68h0.65v0.65h-0.65zM636.27 300.98h0.65v0.65h-0.65zM633.48 306.11h0.65v0.65h-0.65zM641.15 305.57h0.65v0.65h-0.65zM635.39 305.03h0.65v0.65h-0.65zM643.34 300.2h0.65v0.65h-0.65zM632.56 300.64h0.65v0.65h-0.65zM638.92 304.37h0.65v0.65h-0.65zM648.7 306.98h0.65v0.65h-0.65zM623.46 304.63h0.65v0.65h-0.65zM636.02 306.64h0.65v0.65h-0.65zM632.06 299.32h0.65v0.65h-0.65zM632.72 305.51h0.65v0.65h-0.65zM635.96 305.74h0.65v0.65h-0.65zM648.59 300.38h0.65v0.65h-0.65zM635.68 304.64h0.65v0.65h-0.65zM642.8 301.56h0.65v0.65h-0.65zM638.39 300.88h0.65v0.65h-0.65zM646.61 306.41h0.65v0.65h-0.65zM648.87 308.36h0.65v0.65h-0.65zM640.99 306.4h0.65v0.65h-0.65zM642.44 304.05h0.65v0.65h-0.65zM637.05 302.93h0.65v0.65h-0.65zM640 304.69h0.65v0.65h-0.65zM645.21 304.31h0.65v0.65h-0.65zM639.94 308.96h0.65v0.65h-0.65zM635.62 300.79h0.65v0.65h-0.65zM651.84 300.54h0.65v0.65h-0.65zM635.08 308.85h0.65v0.65h-0.65zM637.26 302.19h0.65v0.65h-0.65zM638.82 303.21h0.65v0.65h-0.65zM632.85 298.23h0.65v0.65h-0.65zM633.46 300.23h0.65v0.65h-0.65zM635.38 301.41h0.65v0.65h-0.65zM642.69 305.87h0.65v0.65h-0.65zM634.65 309.09h0.65v0.65h-0.65zM649.25 298.56h0.65v0.65h-0.65zM632.6 309.51h0.65v0.65h-0.65zM639.43 303.65h0.65v0.65h-0.65zM636.1 303.61h0.65v0.65h-0.65zM643.81 305.56h0.65v0.65h-0.65zM637.53 302.19h0.65v0.65h-0.65zM635.71 307.11h0.65v0.65h-0.65zM635.74 303.57h0.65v0.65h-0.65zM638.93 304.44h0.65v0.65h-0.65zM631.27 312.02h0.65v0.65h-0.65zM642.17 308.63h0.65v0.65h-0.65zM631.88 299.22h0.65v0.65h-0.65zM639.16 302.99h0.65v0.65h-0.65zM633.41 308.98h0.65v0.65h-0.65zM631.8 299.32h0.65v0.65h-0.65zM648.98 305.15h0.65v0.65h-0.65zM630.67 307.21h0.65v0.65h-0.65zM633.95 302.6h0.65v0.65h-0.65zM637.24 303.89h0.65v0.65h-0.65zM648.97 301.59h0.65v0.65h-0.65zM633.7 300.52h0.65v0.65h-0.65zM637.98 300.78h0.65v0.65h-0.65zM638.86 308.34h0.65v0.65h-0.65zM649.72 303.39h0.65v0.65h-0.65zM639.5 302.28h0.65v0.65h-0.65zM636.79 306.26h0.65v0.65h-0.65zM627.43 301.46h0.65v0.65h-0.65zM633.12 301.27h0.65v0.65h-0.65zM635.38 304.82h0.65v0.65h-0.65zM637 312.48h0.65v0.65h-0.65zM645.31 301.62h0.65v0.65h-0.65zM636.95 302.02h0.65v0.65h-0.65zM639.74 304.1h0.65v0.65h-0.65zM642.25 304.23h0.65v0.65h-0.65zM645.8 303.53h0.65v0.65h-0.65zM638.96 305.29h0.65v0.65h-0.65zM639.41 304.05h0.65v0.65h-0.65zM641.84 306.04h0.65v0.65h-0.65zM640.75 305.79h0.65v0.65h-0.65zM636.43 302.89h0.65v0.65h-0.65zM644.83 307.89h0.65v0.65h-0.65zM636.99 308.15h0.65v0.65h-0.65zM636.62 308.52h0.65v0.65h-0.65zM642.94 304.15h0.65v0.65h-0.65zM641.57 302.12h0.65v0.65h-0.65zM635.98 302.44h0.65v0.65h-0.65zM643.11 305.96h0.65v0.65h-0.65zM637.06 304.21h0.65v0.65h-0.65zM632.72 303.45h0.65v0.65h-0.65zM632.52 307.91h0.65v0.65h-0.65zM642.88 302.02h0.65v0.65h-0.65zM635.27 308.85h0.65v0.65h-0.65zM638.86 300.41h0.65v0.65h-0.65zM634.64 302.2h0.65v0.65h-0.65zM637.34 300.11h0.65v0.65h-0.65zM641.49 302.04h0.65v0.65h-0.65zM648.75 306.45h0.65v0.65h-0.65zM629.86 301.23h0.65v0.65h-0.65zM638.28 298.85h0.65v0.65h-0.65zM631.33 308.61h0.65v0.65h-0.65zM634.25 301.94h0.65v0.65h-0.65zM639.74 305.17h0.65v0.65h-0.65zM639.11 306.62h0.65v0.65h-0.65zM634.71 307.65h0.65v0.65h-0.65zM645.48 303.04h0.65v0.65h-0.65zM638.09 303.63h0.65v0.65h-0.65zM636.2 300.5h0.65v0.65h-0.65zM639.4 301.26h0.65v0.65h-0.65zM634.36 301.18h0.65v0.65h-0.65zM639.67 300.86h0.65v0.65h-0.65zM643.62 298.61h0.65v0.65h-0.65zM632 303.35h0.65v0.65h-0.65zM636.64 300.51h0.65v0.65h-0.65zM651.33 302.69h0.65v0.65h-0.65zM629.96 304.07h0.65v0.65h-0.65zM648.05 308.01h0.65v0.65h-0.65zM637.56 303.53h0.65v0.65h-0.65zM649.3 304.37h0.65v0.65h-0.65zM640.03 299.92h0.65v0.65h-0.65zM635.05 305.26h0.65v0.65h-0.65zM626.35 304.67h0.65v0.65h-0.65zM637.35 303.34h0.65v0.65h-0.65zM639.13 305.22h0.65v0.65h-0.65zM645.69 299.65h0.65v0.65h-0.65zM643.81 302.57h0.65v0.65h-0.65zM637.7 304.98h0.65v0.65h-0.65zM638.34 306.75h0.65v0.65h-0.65zM634.59 305.75h0.65v0.65h-0.65zM636.98 298.12h0.65v0.65h-0.65zM631.01 307.81h0.65v0.65h-0.65zM637.35 306.28h0.65v0.65h-0.65zM639.2 302.76h0.65v0.65h-0.65zM654.11 308.28h0.65v0.65h-0.65zM632.85 304.56h0.65v0.65h-0.65zM640.12 297.75h0.65v0.65h-0.65zM631.52 307.94h0.65v0.65h-0.65zM646.58 308.55h0.65v0.65h-0.65zM633.76 305.53h0.65v0.65h-0.65zM640.6 304.11h0.65v0.65h-0.65zM636.36 304.94h0.65v0.65h-0.65zM628.44 295.43h0.65v0.65h-0.65zM636.23 308.87h0.65v0.65h-0.65zM631.8 301.89h0.65v0.65h-0.65zM639.59 300.6h0.65v0.65h-0.65zM640.07 302.45h0.65v0.65h-0.65zM635.65 300.65h0.65v0.65h-0.65zM639.8 306.05h0.65v0.65h-0.65zM646.04 302.63h0.65v0.65h-0.65zM631.9 304.07h0.65v0.65h-0.65zM643.12 300.55h0.65v0.65h-0.65zM640.83 310.97h0.65v0.65h-0.65zM644.2 299.76h0.65v0.65h-0.65zM636.39 299.66h0.65v0.65h-0.65zM631.63 311.39h0.65v0.65h-0.65zM637.72 302.26h0.65v0.65h-0.65zM640.67 301.05h0.65v0.65h-0.65zM649.25 306.32h0.65v0.65h-0.65zM639.4 307.1h0.65v0.65h-0.65zM644.14 306.04h0.65v0.65h-0.65zM628.4 302.67h0.65v0.65h-0.65zM649.67 302.2h0.65v0.65h-0.65zM635.74 301.35h0.65v0.65h-0.65zM642.24 303.19h0.65v0.65h-0.65zM635.59 307.54h0.65v0.65h-0.65zM633.61 306.87h0.65v0.65h-0.65zM641.62 305.51h0.65v0.65h-0.65zM644.39 304.41h0.65v0.65h-0.65zM639.14 309.5h0.65v0.65h-0.65zM638.37 305.96h0.65v0.65h-0.65zM637.74 302.07h0.65v0.65h-0.65zM642.14 300.87h0.65v0.65h-0.65zM643.89 307.66h0.65v0.65h-0.65zM643.3 303.96h0.65v0.65h-0.65zM631.88 302.72h0.65v0.65h-0.65zM654.28 301.28h0.65v0.65h-0.65zM643.59 305.11h0.65v0.65h-0.65zM640.56 301.08h0.65v0.65h-0.65zM631.27 303.77h0.65v0.65h-0.65zM640.06 304.06h0.65v0.65h-0.65zM642.99 302.19h0.65v0.65h-0.65zM631.77 305.32h0.65v0.65h-0.65zM638.61 297.67h0.65v0.65h-0.65zM645.35 306.13h0.65v0.65h-0.65zM645.53 304.09h0.65v0.65h-0.65zM641.07 300.87h0.65v0.65h-0.65zM631.02 308.34h0.65v0.65h-0.65zM634.13 297.77h0.65v0.65h-0.65zM633.85 303.34h0.65v0.65h-0.65zM636.23 300.75h0.65v0.65h-0.65zM641.45 304.01h0.65v0.65h-0.65zM646.3 302.9h0.65v0.65h-0.65zM647.66 305.03h0.65v0.65h-0.65zM638.57 303.07h0.65v0.65h-0.65zM641.95 303.88h0.65v0.65h-0.65zM629.68 303.79h0.65v0.65h-0.65zM633.33 304.2h0.65v0.65h-0.65zM630.67 304.59h0.65v0.65h-0.65zM649.54 302.18h0.65v0.65h-0.65zM648.6 303.63h0.65v0.65h-0.65zM633.31 304.4h0.65v0.65h-0.65zM649.17 300.37h0.65v0.65h-0.65zM635.38 308.99h0.65v0.65h-0.65zM637.41 304.82h0.65v0.65h-0.65zM626.69 305.11h0.65v0.65h-0.65zM628.45 302.83h0.65v0.65h-0.65zM643.94 299.5h0.65v0.65h-0.65zM634.83 310.3h0.65v0.65h-0.65zM644.22 305.81h0.65v0.65h-0.65zM643.26 305.48h0.65v0.65h-0.65zM646.24 300.4h0.65v0.65h-0.65zM645.67 303.82h0.65v0.65h-0.65zM635.16 303.77h0.65v0.65h-0.65zM626.35 304.61h0.65v0.65h-0.65zM632.61 308.97h0.65v0.65h-0.65zM635.16 309.09h0.65v0.65h-0.65zM643.73 311.19h0.65v0.65h-0.65zM640.2 304.83h0.65v0.65h-0.65zM629.8 301.69h0.65v0.65h-0.65zM637.11 301.03h0.65v0.65h-0.65zM637.65 302.03h0.65v0.65h-0.65zM636.33 306.19h0.65v0.65h-0.65zM638.75 304.88h0.65v0.65h-0.65zM640.09 307.65h0.65v0.65h-0.65zM634.56 302.31h0.65v0.65h-0.65zM634.65 302.27h0.65v0.65h-0.65zM638.83 303.54h0.65v0.65h-0.65zM640.16 297.63h0.65v0.65h-0.65zM631.5 301.96h0.65v0.65h-0.65zM641.61 303.81h0.65v0.65h-0.65zM644.01 306.01h0.65v0.65h-0.65zM637.35 300.33h0.65v0.65h-0.65zM632.57 304.3h0.65v0.65h-0.65zM627.4 305.52h0.65v0.65h-0.65zM645.92 305.84h0.65v0.65h-0.65zM647.51 307.17h0.65v0.65h-0.65zM637.73 309.36h0.65v0.65h-0.65zM635.14 307.85h0.65v0.65h-0.65zM624.53 303.57h0.65v0.65h-0.65zM631.89 304.62h0.65v0.65h-0.65zM634.25 303.97h0.65v0.65h-0.65zM643.28 303.01h0.65v0.65h-0.65zM640.73 305.67h0.65v0.65h-0.65zM636.17 297.64h0.65v0.65h-0.65zM626.79 299.88h0.65v0.65h-0.65zM640.38 310.17h0.65v0.65h-0.65zM638.94 301.93h0.65v0.65h-0.65zM643.41 305.72h0.65v0.65h-0.65zM632.84 305.7h0.65v0.65h-0.65zM637.78 301.87h0.65v0.65h-0.65zM638.35 306.7h0.65v0.65h-0.65zM641.7 306.75h0.65v0.65h-0.65zM634.88 302.6h0.65v0.65h-0.65zM644.43 307.67h0.65v0.65h-0.65zM647.96 307.08h0.65v0.65h-0.65zM635.48 302.58h0.65v0.65h-0.65zM649.29 304.33h0.65v0.65h-0.65zM647.79 304.7h0.65v0.65h-0.65zM630.12 303.03h0.65v0.65h-0.65zM641.26 308.63h0.65v0.65h-0.65zM638.24 308h0.65v0.65h-0.65zM645.86 303.11h0.65v0.65h-0.65zM640.74 305.89h0.65v0.65h-0.65zM629.67 307.09h0.65v0.65h-0.65zM640.15 301.14h0.65v0.65h-0.65zM634.02 302.54h0.65v0.65h-0.65zM633.62 304.15h0.65v0.65h-0.65zM643.59 303.02h0.65v0.65h-0.65zM635.31 307.82h0.65v0.65h-0.65zM639.02 305.44h0.65v0.65h-0.65zM628.63 305.9h0.65v0.65h-0.65zM635.44 305.81h0.65v0.65h-0.65zM636.6 307.95h0.65v0.65h-0.65zM637.66 307.68h0.65v0.65h-0.65zM636.92 303.94h0.65v0.65h-0.65zM633.95 309h0.65v0.65h-0.65zM640.78 308.84h0.65v0.65h-0.65zM644.27 305.59h0.65v0.65h-0.65zM631.32 306.03h0.65v0.65h-0.65zM641.36 304.04h0.65v0.65h-0.65zM628.19 307.82h0.65v0.65h-0.65zM627.37 303.93h0.65v0.65h-0.65zM622.4 302.26h0.65v0.65h-0.65zM648.47 306.84h0.65v0.65h-0.65zM638.35 306.11h0.65v0.65h-0.65zM632.75 303.48h0.65v0.65h-0.65zM651.61 303.79h0.65v0.65h-0.65zM637.81 301.77h0.65v0.65h-0.65zM639.13 307.22h0.65v0.65h-0.65zM636.8 305.9h0.65v0.65h-0.65zM639.71 306.26h0.65v0.65h-0.65zM637.69 305.38h0.65v0.65h-0.65zM633.48 310.88h0.65v0.65h-0.65zM642.54 300.45h0.65v0.65h-0.65zM651.25 302.11h0.65v0.65h-0.65zM639.95 304.51h0.65v0.65h-0.65zM635.05 307.2h0.65v0.65h-0.65zM639.81 303.99h0.65v0.65h-0.65zM635.42 298.94h0.65v0.65h-0.65zM637.75 309.11h0.65v0.65h-0.65zM640.17 303.02h0.65v0.65h-0.65zM635.04 301.16h0.65v0.65h-0.65zM638.92 302.31h0.65v0.65h-0.65zM638.05 303.61h0.65v0.65h-0.65zM644.33 304.66h0.65v0.65h-0.65zM635.1 306.62h0.65v0.65h-0.65zM643.04 313.49h0.65v0.65h-0.65zM632.85 305.8h0.65v0.65h-0.65zM631.25 308.82h0.65v0.65h-0.65zM645.06 309.99h0.65v0.65h-0.65zM642.61 309.72h0.65v0.65h-0.65zM631.7 305.79h0.65v0.65h-0.65zM639.42 309.52h0.65v0.65h-0.65zM640.27 309.18h0.65v0.65h-0.65zM632.01 298.61h0.65v0.65h-0.65zM648.55 303.62h0.65v0.65h-0.65zM643.3 308.88h0.65v0.65h-0.65zM646.69 307.27h0.65v0.65h-0.65zM641.19 303.23h0.65v0.65h-0.65zM648.39 305.36h0.65v0.65h-0.65zM633.53 307.65h0.65v0.65h-0.65zM644.1 297.51h0.65v0.65h-0.65zM627.81 303.33h0.65v0.65h-0.65zM646.66 301.27h0.65v0.65h-0.65zM629.97 308.88h0.65v0.65h-0.65zM627.91 307.08h0.65v0.65h-0.65zM633.7 306.31h0.65v0.65h-0.65zM641.08 304.31h0.65v0.65h-0.65zM644.06 302.56h0.65v0.65h-0.65zM637.7 300.63h0.65v0.65h-0.65zM637.47 300.39h0.65v0.65h-0.65zM641.52 306.05h0.65v0.65h-0.65zM636.33 302.69h0.65v0.65h-0.65zM640.35 303.62h0.65v0.65h-0.65zM628.07 301.62h0.65v0.65h-0.65zM638.13 302.33h0.65v0.65h-0.65zM645.4 306.9h0.65v0.65h-0.65zM636.36 304.74h0.65v0.65h-0.65zM644.34 307.15h0.65v0.65h-0.65zM643.07 304.39h0.65v0.65h-0.65zM642.48 303.17h0.65v0.65h-0.65zM639.26 303.45h0.65v0.65h-0.65zM639.05 304.91h0.65v0.65h-0.65zM637.63 300.15h0.65v0.65h-0.65zM639.65 298.53h0.65v0.65h-0.65zM638.04 302.59h0.65v0.65h-0.65zM637.09 304.2h0.65v0.65h-0.65zM640.09 301.21h0.65v0.65h-0.65zM627 305.45h0.65v0.65h-0.65zM646.12 303.77h0.65v0.65h-0.65zM629.88 307.97h0.65v0.65h-0.65zM640.68 302.27h0.65v0.65h-0.65zM625.45 306.08h0.65v0.65h-0.65zM650.85 303.34h0.65v0.65h-0.65zM635.17 304.15h0.65v0.65h-0.65zM641.44 302.71h0.65v0.65h-0.65zM634.06 302.21h0.65v0.65h-0.65zM641.57 301.65h0.65v0.65h-0.65zM630.7 308.06h0.65v0.65h-0.65zM640.67 305.09h0.65v0.65h-0.65zM635.58 300.85h0.65v0.65h-0.65zM643.41 301.92h0.65v0.65h-0.65zM644.59 305h0.65v0.65h-0.65zM638.59 309.38h0.65v0.65h-0.65zM642.52 298.41h0.65v0.65h-0.65zM644.08 306.44h0.65v0.65h-0.65zM643.43 311.86h0.65v0.65h-0.65zM643.3 307.51h0.65v0.65h-0.65zM637.74 302.03h0.65v0.65h-0.65zM636.03 303.24h0.65v0.65h-0.65zM642.82 304.8h0.65v0.65h-0.65zM643.82 305.52h0.65v0.65h-0.65zM632.98 297.84h0.65v0.65h-0.65zM638.05 307.4h0.65v0.65h-0.65zM636.69 301.58h0.65v0.65h-0.65zM636.53 306.68h0.65v0.65h-0.65zM641.18 301.54h0.65v0.65h-0.65zM638.87 302.32h0.65v0.65h-0.65zM636.83 306.32h0.65v0.65h-0.65zM638.95 305.74h0.65v0.65h-0.65zM630.36 307.36h0.65v0.65h-0.65zM629.09 296.07h0.65v0.65h-0.65zM636.58 306.34h0.65v0.65h-0.65zM638.83 307.49h0.65v0.65h-0.65zM645.7 307.8h0.65v0.65h-0.65zM637.05 304.41h0.65v0.65h-0.65zM632.57 303.89h0.65v0.65h-0.65zM640.15 306.39h0.65v0.65h-0.65zM628.8 294.57h0.65v0.65h-0.65zM635.07 302.59h0.65v0.65h-0.65zM643.36 304.54h0.65v0.65h-0.65zM638.86 307.14h0.65v0.65h-0.65zM634.18 304.76h0.65v0.65h-0.65zM645.14 309.94h0.65v0.65h-0.65zM647.02 302.46h0.65v0.65h-0.65zM645.03 302.31h0.65v0.65h-0.65zM638.17 300.77h0.65v0.65h-0.65zM632.83 299.04h0.65v0.65h-0.65zM635.81 298.84h0.65v0.65h-0.65zM634.58 302.21h0.65v0.65h-0.65zM642.37 297.95h0.65v0.65h-0.65zM638.83 305.8h0.65v0.65h-0.65zM642.69 304.11h0.65v0.65h-0.65zM640.09 305.82h0.65v0.65h-0.65zM640.96 306.26h0.65v0.65h-0.65zM645.45 310.67h0.65v0.65h-0.65zM639.32 304.21h0.65v0.65h-0.65zM643.34 302.61h0.65v0.65h-0.65zM638.44 301.37h0.65v0.65h-0.65zM640.05 304.07h0.65v0.65h-0.65zM640.08 303.55h0.65v0.65h-0.65zM634.39 304.8h0.65v0.65h-0.65zM635.14 301.7h0.65v0.65h-0.65zM639.89 302.05h0.65v0.65h-0.65zM623.31 301.98h0.65v0.65h-0.65zM624.91 302.53h0.65v0.65h-0.65zM649.5 305.88h0.65v0.65h-0.65zM623.76 310.48h0.65v0.65h-0.65zM637.18 301.8h0.65v0.65h-0.65zM638.9 302.2h0.65v0.65h-0.65zM629.44 303.15h0.65v0.65h-0.65zM639.46 304.9h0.65v0.65h-0.65zM640.45 302.37h0.65v0.65h-0.65zM638.91 300.62h0.65v0.65h-0.65zM642.31 309.59h0.65v0.65h-0.65zM635.46 305.68h0.65v0.65h-0.65zM651.97 298.63h0.65v0.65h-0.65zM631.09 311.1h0.65v0.65h-0.65zM646.2 307.36h0.65v0.65h-0.65zM634.89 302.86h0.65v0.65h-0.65zM634.57 305.58h0.65v0.65h-0.65zM635.81 301.21h0.65v0.65h-0.65zM631.03 305.94h0.65v0.65h-0.65zM637.16 305.02h0.65v0.65h-0.65zM627.29 304.25h0.65v0.65h-0.65zM638.8 306.37h0.65v0.65h-0.65zM641.36 303.08h0.65v0.65h-0.65zM643.11 303.36h0.65v0.65h-0.65zM640.79 308.65h0.65v0.65h-0.65zM643.35 301.86h0.65v0.65h-0.65zM638.12 305.56h0.65v0.65h-0.65zM647.23 304.22h0.65v0.65h-0.65zM638.21 301.4h0.65v0.65h-0.65zM629.1 304.84h0.65v0.65h-0.65zM635.74 299.71h0.65v0.65h-0.65zM642.14 302.9h0.65v0.65h-0.65zM646.25 303.29h0.65v0.65h-0.65zM634.94 308.12h0.65v0.65h-0.65zM636.55 306.9h0.65v0.65h-0.65zM642.99 299.12h0.65v0.65h-0.65zM630.2 300.87h0.65v0.65h-0.65zM642.2 301.77h0.65v0.65h-0.65zM650.33 307.26h0.65v0.65h-0.65zM644.15 305.2h0.65v0.65h-0.65zM644.08 306.23h0.65v0.65h-0.65zM638.78 303.21h0.65v0.65h-0.65zM632.81 304.07h0.65v0.65h-0.65zM632.69 298.39h0.65v0.65h-0.65zM637.58 303.06h0.65v0.65h-0.65zM634.73 306.68h0.65v0.65h-0.65zM644.31 309.06h0.65v0.65h-0.65zM635.14 306.18h0.65v0.65h-0.65zM640.09 307.62h0.65v0.65h-0.65zM639.45 302.64h0.65v0.65h-0.65zM633.8 304.01h0.65v0.65h-0.65zM643.71 305.15h0.65v0.65h-0.65zM633.46 300.86h0.65v0.65h-0.65zM647.22 303.87h0.65v0.65h-0.65zM646.66 301.94h0.65v0.65h-0.65zM633.72 298.11h0.65v0.65h-0.65zM644.71 300.23h0.65v0.65h-0.65zM636.38 306.16h0.65v0.65h-0.65zM639.34 303.49h0.65v0.65h-0.65zM630.28 307.65h0.65v0.65h-0.65zM636.73 307.39h0.65v0.65h-0.65zM633.9 307.51h0.65v0.65h-0.65zM639.44 303.08h0.65v0.65h-0.65zM629.21 307.17h0.65v0.65h-0.65zM625.38 308.29h0.65v0.65h-0.65zM637.62 307.52h0.65v0.65h-0.65zM643.73 309.35h0.65v0.65h-0.65zM628.13 304.71h0.65v0.65h-0.65zM636.85 301.83h0.65v0.65h-0.65zM639.77 303.1h0.65v0.65h-0.65zM647.26 301.63h0.65v0.65h-0.65zM638.72 307.92h0.65v0.65h-0.65zM634.84 306.74h0.65v0.65h-0.65zM644.33 302.94h0.65v0.65h-0.65zM637.02 303.56h0.65v0.65h-0.65zM644.47 305.19h0.65v0.65h-0.65zM627.01 307.32h0.65v0.65h-0.65zM627.9 301.31h0.65v0.65h-0.65zM626.92 300.88h0.65v0.65h-0.65zM637.95 304.62h0.65v0.65h-0.65zM638.59 299.62h0.65v0.65h-0.65zM639.8 305.97h0.65v0.65h-0.65zM626.69 305.14h0.65v0.65h-0.65zM635.61 301.21h0.65v0.65h-0.65zM633.85 302.78h0.65v0.65h-0.65zM635.7 305.18h0.65v0.65h-0.65zM638.09 303.38h0.65v0.65h-0.65zM636.12 303.8h0.65v0.65h-0.65zM644.42 307.95h0.65v0.65h-0.65zM642.86 301.28h0.65v0.65h-0.65zM647.06 302.9h0.65v0.65h-0.65zM631.08 303.01h0.65v0.65h-0.65zM641.02 304.07h0.65v0.65h-0.65zM638.47 301.09h0.65v0.65h-0.65zM642.72 303.5h0.65v0.65h-0.65zM637.71 306.03h0.65v0.65h-0.65zM644.88 302.41h0.65v0.65h-0.65zM638.42 305.1h0.65v0.65h-0.65zM637.64 303.74h0.65v0.65h-0.65zM640.63 302.66h0.65v0.65h-0.65zM639.36 298.04h0.65v0.65h-0.65zM636.68 307.86h0.65v0.65h-0.65zM636.13 300.94h0.65v0.65h-0.65zM628.61 307.26h0.65v0.65h-0.65zM638.21 307.87h0.65v0.65h-0.65zM645.76 304.18h0.65v0.65h-0.65zM644.02 303.44h0.65v0.65h-0.65zM638.04 301.34h0.65v0.65h-0.65zM634.49 306.09h0.65v0.65h-0.65zM642.13 302.18h0.65v0.65h-0.65zM645.26 305.05h0.65v0.65h-0.65zM631.87 301.96h0.65v0.65h-0.65zM633.89 304.49h0.65v0.65h-0.65zM637.6 301.78h0.65v0.65h-0.65zM638.25 305.88h0.65v0.65h-0.65zM642.06 304.73h0.65v0.65h-0.65zM635.95 301.31h0.65v0.65h-0.65zM634.59 304.58h0.65v0.65h-0.65zM638.08 308.56h0.65v0.65h-0.65zM641.35 303.38h0.65v0.65h-0.65zM633.26 296.92h0.65v0.65h-0.65zM627.1 302.22h0.65v0.65h-0.65zM642.63 308.77h0.65v0.65h-0.65zM641.52 305.33h0.65v0.65h-0.65zM638.87 304.14h0.65v0.65h-0.65zM638.77 301.22h0.65v0.65h-0.65zM632.57 307.69h0.65v0.65h-0.65zM638.34 309.93h0.65v0.65h-0.65zM644.56 311.51h0.65v0.65h-0.65zM643.08 301.46h0.65v0.65h-0.65zM648.45 301.73h0.65v0.65h-0.65zM642.97 303.25h0.65v0.65h-0.65zM634.42 305.31h0.65v0.65h-0.65zM631.8 305.3h0.65v0.65h-0.65zM641.65 301.92h0.65v0.65h-0.65zM634.27 303.17h0.65v0.65h-0.65zM636.79 304.33h0.65v0.65h-0.65zM631.02 302.92h0.65v0.65h-0.65zM629.04 300.71h0.65v0.65h-0.65zM634.04 303.69h0.65v0.65h-0.65zM643.91 303.06h0.65v0.65h-0.65zM640.78 307.36h0.65v0.65h-0.65zM637.17 301.75h0.65v0.65h-0.65zM638.75 305.25h0.65v0.65h-0.65zM633.41 302.99h0.65v0.65h-0.65zM639.44 302.3h0.65v0.65h-0.65zM636.06 302.9h0.65v0.65h-0.65zM639.38 305.39h0.65v0.65h-0.65zM632.95 300.15h0.65v0.65h-0.65zM628.9 306.22h0.65v0.65h-0.65zM642.08 298.3h0.65v0.65h-0.65zM634.73 301.43h0.65v0.65h-0.65zM629.87 306.69h0.65v0.65h-0.65zM637.34 306.15h0.65v0.65h-0.65zM651.6 303.91h0.65v0.65h-0.65zM632.5 299.33h0.65v0.65h-0.65zM647.6 305.71h0.65v0.65h-0.65zM634.59 302.62h0.65v0.65h-0.65zM637.01 308.44h0.65v0.65h-0.65zM646.43 301.43h0.65v0.65h-0.65zM645.65 305.08h0.65v0.65h-0.65zM636.43 305.84h0.65v0.65h-0.65zM645.42 305.35h0.65v0.65h-0.65zM637.9 306.69h0.65v0.65h-0.65zM626.56 303.99h0.65v0.65h-0.65zM637.32 307.88h0.65v0.65h-0.65zM632.83 300h0.65v0.65h-0.65zM640.82 302.24h0.65v0.65h-0.65zM639.95 303.11h0.65v0.65h-0.65zM629.67 305.25h0.65v0.65h-0.65zM642.67 302.36h0.65v0.65h-0.65zM634.73 299.81h0.65v0.65h-0.65zM647.42 305.47h0.65v0.65h-0.65zM640.1 302.59h0.65v0.65h-0.65zM635.95 306.89h0.65v0.65h-0.65zM651.49 301.12h0.65v0.65h-0.65zM640.79 306.75h0.65v0.65h-0.65zM639.83 304.69h0.65v0.65h-0.65zM641.44 310.85h0.65v0.65h-0.65zM641.59 302.88h0.65v0.65h-0.65zM632.8 301.01h0.65v0.65h-0.65zM628.24 305.88h0.65v0.65h-0.65zM642.27 305.28h0.65v0.65h-0.65zM647.72 308.36h0.65v0.65h-0.65zM640.33 300.87h0.65v0.65h-0.65zM647.81 307.11h0.65v0.65h-0.65zM640.63 298.06h0.65v0.65h-0.65zM646.24 302.43h0.65v0.65h-0.65zM628.44 304.31h0.65v0.65h-0.65zM645.42 308.37h0.65v0.65h-0.65zM636.39 307.02h0.65v0.65h-0.65zM638.95 303.75h0.65v0.65h-0.65zM633.13 308.69h0.65v0.65h-0.65zM628.62 307.75h0.65v0.65h-0.65zM637.66 301.89h0.65v0.65h-0.65zM633.26 304.13h0.65v0.65h-0.65zM633.84 299.97h0.65v0.65h-0.65zM636.28 303.98h0.65v0.65h-0.65zM640.76 302.56h0.65v0.65h-0.65zM631.5 299.85h0.65v0.65h-0.65zM636.77 304.25h0.65v0.65h-0.65zM636.07 303.58h0.65v0.65h-0.65zM640.3 305.81h0.65v0.65h-0.65zM641.97 307.47h0.65v0.65h-0.65zM638.5 300.76h0.65v0.65h-0.65zM640.58 303.66h0.65v0.65h-0.65zM636.13 306.32h0.65v0.65h-0.65zM630.4 302.95h0.65v0.65h-0.65zM637.54 307.12h0.65v0.65h-0.65zM634.74 305.85h0.65v0.65h-0.65zM647.22 305.73h0.65v0.65h-0.65zM644.27 304.55h0.65v0.65h-0.65zM639.38 307.09h0.65v0.65h-0.65zM635.66 298.86h0.65v0.65h-0.65zM643.83 300.92h0.65v0.65h-0.65zM638.33 304.41h0.65v0.65h-0.65zM645.4 309.02h0.65v0.65h-0.65zM634.5 305.99h0.65v0.65h-0.65zM635.44 306.16h0.65v0.65h-0.65zM640.1 306.28h0.65v0.65h-0.65zM632.42 304.61h0.65v0.65h-0.65zM641.03 304.54h0.65v0.65h-0.65zM644.71 304.55h0.65v0.65h-0.65zM631.51 299.08h0.65v0.65h-0.65zM632.33 306.41h0.65v0.65h-0.65zM640.04 300.38h0.65v0.65h-0.65zM635.42 303.58h0.65v0.65h-0.65zM634.75 299.6h0.65v0.65h-0.65zM635.81 308.17h0.65v0.65h-0.65zM639.19 305.39h0.65v0.65h-0.65zM635.08 307.3h0.65v0.65h-0.65zM635.25 305.47h0.65v0.65h-0.65zM646.97 302.96h0.65v0.65h-0.65zM638.09 305.13h0.65v0.65h-0.65zM635.76 297.38h0.65v0.65h-0.65zM636.88 299.52h0.65v0.65h-0.65zM646.95 303.06h0.65v0.65h-0.65zM643.02 306.37h0.65v0.65h-0.65zM632.68 306.41h0.65v0.65h-0.65zM642.82 307.52h0.65v0.65h-0.65zM637.26 301.7h0.65v0.65h-0.65zM634.84 302.06h0.65v0.65h-0.65zM635.59 301.01h0.65v0.65h-0.65zM644.57 303.17h0.65v0.65h-0.65zM640.53 304.3h0.65v0.65h-0.65zM637.59 302.76h0.65v0.65h-0.65zM639.08 300.51h0.65v0.65h-0.65zM635.26 306.54h0.65v0.65h-0.65zM642.37 300.89h0.65v0.65h-0.65zM633.02 305.69h0.65v0.65h-0.65zM633.07 302.43h0.65v0.65h-0.65zM637.07 301.02h0.65v0.65h-0.65zM637.9 305.48h0.65v0.65h-0.65zM635.1 304.54h0.65v0.65h-0.65zM639.66 305.75h0.65v0.65h-0.65zM630.87 309.16h0.65v0.65h-0.65zM634 303.82h0.65v0.65h-0.65zM632.38 304.54h0.65v0.65h-0.65zM648.14 305.75h0.65v0.65h-0.65zM621.36 303.57h0.65v0.65h-0.65zM635.7 302.33h0.65v0.65h-0.65zM641.2 303.84h0.65v0.65h-0.65zM640.08 305.45h0.65v0.65h-0.65zM640.18 305.33h0.65v0.65h-0.65zM641.03 303.02h0.65v0.65h-0.65zM635.39 304.13h0.65v0.65h-0.65zM637.58 305.21h0.65v0.65h-0.65zM635.41 305.79h0.65v0.65h-0.65zM635.95 294.97h0.65v0.65h-0.65zM640.78 307.13h0.65v0.65h-0.65zM626.3 298.07h0.65v0.65h-0.65zM646 305.75h0.65v0.65h-0.65zM633.06 306.02h0.65v0.65h-0.65zM635.88 299.6h0.65v0.65h-0.65zM630.74 307.61h0.65v0.65h-0.65zM634.95 302.95h0.65v0.65h-0.65zM639.78 305.88h0.65v0.65h-0.65zM642.73 298.47h0.65v0.65h-0.65zM642.43 307.41h0.65v0.65h-0.65zM640.29 304.49h0.65v0.65h-0.65zM635.49 300.53h0.65v0.65h-0.65zM633.09 305.37h0.65v0.65h-0.65zM633.28 304.83h0.65v0.65h-0.65zM635.67 310.84h0.65v0.65h-0.65zM645.27 305.71h0.65v0.65h-0.65zM640.86 306.56h0.65v0.65h-0.65zM641.51 304.44h0.65v0.65h-0.65zM637.41 303.51h0.65v0.65h-0.65zM631.85 306.08h0.65v0.65h-0.65zM636.15 303.4h0.65v0.65h-0.65zM634.11 305.26h0.65v0.65h-0.65zM642.19 298.33h0.65v0.65h-0.65zM630.3 301.12h0.65v0.65h-0.65zM625.23 308.26h0.65v0.65h-0.65zM636.06 297.83h0.65v0.65h-0.65zM642.93 307.96h0.65v0.65h-0.65zM634.31 299.96h0.65v0.65h-0.65zM641.66 302.66h0.65v0.65h-0.65zM643.76 306.62h0.65v0.65h-0.65zM641.1 311.77h0.65v0.65h-0.65zM643.96 302.2h0.65v0.65h-0.65zM641.22 300.13h0.65v0.65h-0.65zM644.56 302.04h0.65v0.65h-0.65zM643.42 312.94h0.65v0.65h-0.65zM638.22 305.46h0.65v0.65h-0.65zM639.98 299.71h0.65v0.65h-0.65zM641.11 302.41h0.65v0.65h-0.65zM647.84 301.38h0.65v0.65h-0.65zM637.88 303.58h0.65v0.65h-0.65zM639 301.12h0.65v0.65h-0.65zM641.76 306.02h0.65v0.65h-0.65zM643.11 303.15h0.65v0.65h-0.65zM626.75 305.46h0.65v0.65h-0.65zM637.21 301.19h0.65v0.65h-0.65zM634.97 307.27h0.65v0.65h-0.65zM629.75 302.88h0.65v0.65h-0.65zM636.32 302.5h0.65v0.65h-0.65zM645.56 300.16h0.65v0.65h-0.65zM635.36 303.99h0.65v0.65h-0.65zM627.83 305.74h0.65v0.65h-0.65zM637.85 306.61h0.65v0.65h-0.65zM635.21 299.4h0.65v0.65h-0.65zM641.26 301.38h0.65v0.65h-0.65zM638.06 301.85h0.65v0.65h-0.65zM646.65 305.41h0.65v0.65h-0.65zM639.47 310.12h0.65v0.65h-0.65zM636.18 306.44h0.65v0.65h-0.65zM639.25 303.41h0.65v0.65h-0.65zM643.41 303.5h0.65v0.65h-0.65zM643.41 304.68h0.65v0.65h-0.65zM641.53 305.61h0.65v0.65h-0.65zM631.32 303.96h0.65v0.65h-0.65zM640.13 305.13h0.65v0.65h-0.65zM638.49 304.03h0.65v0.65h-0.65zM640.84 302.79h0.65v0.65h-0.65zM646.25 304.42h0.65v0.65h-0.65zM636.99 305.28h0.65v0.65h-0.65zM635 304.37h0.65v0.65h-0.65zM644.38 305.68h0.65v0.65h-0.65zM638.86 306.76h0.65v0.65h-0.65zM620.87 304.37h0.65v0.65h-0.65zM632.84 301.56h0.65v0.65h-0.65zM636.5 307.16h0.65v0.65h-0.65zM637.43 309.78h0.65v0.65h-0.65zM648.14 301.57h0.65v0.65h-0.65zM630.93 306.53h0.65v0.65h-0.65zM635.71 309.1h0.65v0.65h-0.65zM641.79 303.44h0.65v0.65h-0.65zM653.8 308.84h0.65v0.65h-0.65zM629.67 301.7h0.65v0.65h-0.65zM644.31 299.57h0.65v0.65h-0.65zM641.89 305.38h0.65v0.65h-0.65zM630.74 308.44h0.65v0.65h-0.65zM638.04 301.91h0.65v0.65h-0.65zM644.91 308.11h0.65v0.65h-0.65zM639.35 303.55h0.65v0.65h-0.65zM637.19 305.28h0.65v0.65h-0.65zM637.57 304.23h0.65v0.65h-0.65zM635.91 305.19h0.65v0.65h-0.65zM652.42 306.73h0.65v0.65h-0.65zM645.94 309.59h0.65v0.65h-0.65zM637.72 301.26h0.65v0.65h-0.65zM634.63 306.03h0.65v0.65h-0.65zM637.35 307.87h0.65v0.65h-0.65zM643.49 306.98h0.65v0.65h-0.65zM634.89 304.09h0.65v0.65h-0.65zM642.95 303.34h0.65v0.65h-0.65zM632.3 300.56h0.65v0.65h-0.65zM637.94 300.06h0.65v0.65h-0.65zM632.8 304.8h0.65v0.65h-0.65zM638.35 302.92h0.65v0.65h-0.65zM628.64 301.77h0.65v0.65h-0.65zM632.35 305.01h0.65v0.65h-0.65zM634.93 299.11h0.65v0.65h-0.65zM635.02 307.62h0.65v0.65h-0.65zM641.58 300.19h0.65v0.65h-0.65zM634.02 307.62h0.65v0.65h-0.65zM646.49 305.49h0.65v0.65h-0.65zM627 301.8h0.65v0.65h-0.65zM638.64 304.62h0.65v0.65h-0.65zM635.64 306.79h0.65v0.65h-0.65zM636.57 301.64h0.65v0.65h-0.65zM639.92 298.19h0.65v0.65h-0.65zM654.52 305.78h0.65v0.65h-0.65zM642.49 304.93h0.65v0.65h-0.65zM647.24 306.66h0.65v0.65h-0.65zM642.73 303.3h0.65v0.65h-0.65zM625.33 300.77h0.65v0.65h-0.65zM639.04 301.7h0.65v0.65h-0.65zM626.38 305.6h0.65v0.65h-0.65zM642.97 301.52h0.65v0.65h-0.65zM636.62 303.44h0.65v0.65h-0.65zM630.46 307.31h0.65v0.65h-0.65zM642.1 304.49h0.65v0.65h-0.65zM637.5 303.77h0.65v0.65h-0.65zM642.51 308.54h0.65v0.65h-0.65zM641.06 307.23h0.65v0.65h-0.65zM644.81 302.58h0.65v0.65h-0.65zM637.72 302.98h0.65v0.65h-0.65zM631.71 303.37h0.65v0.65h-0.65zM632.14 304.37h0.65v0.65h-0.65zM645.58 305.68h0.65v0.65h-0.65zM633.42 307.8h0.65v0.65h-0.65zM638.1 310.61h0.65v0.65h-0.65zM628.2 305.32h0.65v0.65h-0.65zM633.98 303.67h0.65v0.65h-0.65zM634.32 304.96h0.65v0.65h-0.65zM633.28 303.46h0.65v0.65h-0.65zM645.07 303.3h0.65v0.65h-0.65zM628.97 301.79h0.65v0.65h-0.65zM634.59 301.71h0.65v0.65h-0.65zM628.44 303.89h0.65v0.65h-0.65zM643.79 305.22h0.65v0.65h-0.65zM644.75 305.93h0.65v0.65h-0.65zM644.44 304.54h0.65v0.65h-0.65zM641.94 306.02h0.65v0.65h-0.65zM642.54 303.65h0.65v0.65h-0.65zM631.46 307.88h0.65v0.65h-0.65zM639.58 306.07h0.65v0.65h-0.65zM631.74 306h0.65v0.65h-0.65zM639.67 306.22h0.65v0.65h-0.65zM642.59 304.9h0.65v0.65h-0.65zM632.7 306.56h0.65v0.65h-0.65zM636.58 307.52h0.65v0.65h-0.65zM639.49 301.62h0.65v0.65h-0.65zM636.61 299.04h0.65v0.65h-0.65zM646.69 301.76h0.65v0.65h-0.65zM633.32 300.75h0.65v0.65h-0.65zM629.79 308.32h0.65v0.65h-0.65zM640.47 306.64h0.65v0.65h-0.65zM643.2 306.55h0.65v0.65h-0.65zM645.08 301.53h0.65v0.65h-0.65zM650 304.63h0.65v0.65h-0.65zM641.96 304.68h0.65v0.65h-0.65zM637.32 304.08h0.65v0.65h-0.65zM640.76 299.6h0.65v0.65h-0.65zM646.37 303.04h0.65v0.65h-0.65zM634.84 304.93h0.65v0.65h-0.65zM635.25 307.84h0.65v0.65h-0.65zM640.29 302.32h0.65v0.65h-0.65zM630.5 303.29h0.65v0.65h-0.65zM639.54 308.68h0.65v0.65h-0.65zM637.52 306.72h0.65v0.65h-0.65zM642.28 311.07h0.65v0.65h-0.65zM643.15 304.64h0.65v0.65h-0.65zM633.44 301.68h0.65v0.65h-0.65zM639.62 307.51h0.65v0.65h-0.65zM631.57 304.66h0.65v0.65h-0.65zM635.33 304.62h0.65v0.65h-0.65zM636.89 301.46h0.65v0.65h-0.65zM640.25 301.46h0.65v0.65h-0.65zM641.33 302.32h0.65v0.65h-0.65zM629.49 297.61h0.65v0.65h-0.65zM635.38 309.16h0.65v0.65h-0.65zM638.05 303.92h0.65v0.65h-0.65zM633.92 302.43h0.65v0.65h-0.65zM647.65 306.29h0.65v0.65h-0.65zM634.19 297.33h0.65v0.65h-0.65zM642.09 306.1h0.65v0.65h-0.65zM633.91 302.75h0.65v0.65h-0.65zM642.29 306.04h0.65v0.65h-0.65zM632.55 305.44h0.65v0.65h-0.65zM633.04 305.13h0.65v0.65h-0.65zM629.99 303.99h0.65v0.65h-0.65zM638.56 307.43h0.65v0.65h-0.65zM643.89 299.66h0.65v0.65h-0.65zM641.29 297.3h0.65v0.65h-0.65zM627.86 304.45h0.65v0.65h-0.65zM639.82 301.28h0.65v0.65h-0.65zM639.12 300.56h0.65v0.65h-0.65zM635.47 303.29h0.65v0.65h-0.65zM638.07 301.31h0.65v0.65h-0.65zM632.31 305.56h0.65v0.65h-0.65zM639.55 295.79h0.65v0.65h-0.65zM644.11 300.72h0.65v0.65h-0.65zM636.68 307.62h0.65v0.65h-0.65zM634.8 302.03h0.65v0.65h-0.65zM642.55 302.59h0.65v0.65h-0.65zM623.62 302.7h0.65v0.65h-0.65zM639.88 307.06h0.65v0.65h-0.65zM649.96 300.62h0.65v0.65h-0.65zM630.35 305.59h0.65v0.65h-0.65zM636.34 303.45h0.65v0.65h-0.65zM648.33 300.87h0.65v0.65h-0.65zM641.86 302.95h0.65v0.65h-0.65zM628.56 302.42h0.65v0.65h-0.65zM645.46 299.41h0.65v0.65h-0.65zM646.52 305.48h0.65v0.65h-0.65zM636.78 305.37h0.65v0.65h-0.65zM636.22 303.96h0.65v0.65h-0.65zM636.53 307.01h0.65v0.65h-0.65zM634.5 305.56h0.65v0.65h-0.65zM631.86 304.33h0.65v0.65h-0.65zM640.87 305.77h0.65v0.65h-0.65zM637.93 304.53h0.65v0.65h-0.65zM626.54 303.07h0.65v0.65h-0.65zM638.76 310.22h0.65v0.65h-0.65zM634.34 306.41h0.65v0.65h-0.65zM639.67 300.82h0.65v0.65h-0.65zM625.94 304.1h0.65v0.65h-0.65zM643.97 305.37h0.65v0.65h-0.65zM636.41 307.33h0.65v0.65h-0.65zM630.36 302.57h0.65v0.65h-0.65zM634.97 310.61h0.65v0.65h-0.65zM647.78 302.46h0.65v0.65h-0.65zM630.68 300.68h0.65v0.65h-0.65zM645.84 305.4h0.65v0.65h-0.65zM633.79 304.84h0.65v0.65h-0.65zM636.26 301.36h0.65v0.65h-0.65zM640.59 303.13h0.65v0.65h-0.65zM637.96 307.38h0.65v0.65h-0.65zM640.3 305.14h0.65v0.65h-0.65zM636.56 301.9h0.65v0.65h-0.65zM644.35 307.46h0.65v0.65h-0.65zM643.34 300.78h0.65v0.65h-0.65zM635.24 302.29h0.65v0.65h-0.65zM646.8 301.2h0.65v0.65h-0.65zM640.92 300.5h0.65v0.65h-0.65zM639.3 307.36h0.65v0.65h-0.65zM632.64 306.78h0.65v0.65h-0.65zM640.87 305.56h0.65v0.65h-0.65zM635.61 303.47h0.65v0.65h-0.65zM642.19 307.19h0.65v0.65h-0.65zM628.69 305.86h0.65v0.65h-0.65zM645.59 303.57h0.65v0.65h-0.65zM634.86 301.52h0.65v0.65h-0.65zM634.23 302.2h0.65v0.65h-0.65zM643.1 301.4h0.65v0.65h-0.65zM638.76 307.12h0.65v0.65h-0.65zM639.29 303.37h0.65v0.65h-0.65zM647.81 303.78h0.65v0.65h-0.65zM633.96 303.95h0.65v0.65h-0.65zM638.48 306.76h0.65v0.65h-0.65zM637.31 299.81h0.65v0.65h-0.65zM633.02 304.02h0.65v0.65h-0.65zM635.77 304.8h0.65v0.65h-0.65zM632.38 307.21h0.65v0.65h-0.65zM651.88 304.79h0.65v0.65h-0.65zM644.56 304.36h0.65v0.65h-0.65zM636.64 307.58h0.65v0.65h-0.65zM637.93 308.07h0.65v0.65h-0.65zM650.04 305.68h0.65v0.65h-0.65zM648.46 301.1h0.65v0.65h-0.65zM637.51 302.46h0.65v0.65h-0.65zM633.3 301.22h0.65v0.65h-0.65zM640.34 300.81h0.65v0.65h-0.65zM639.58 301.49h0.65v0.65h-0.65zM641.69 304.34h0.65v0.65h-0.65zM643.48 303.88h0.65v0.65h-0.65zM640.72 305.36h0.65v0.65h-0.65zM648.25 302.42h0.65v0.65h-0.65zM636.81 304.38h0.65v0.65h-0.65zM638.64 303.77h0.65v0.65h-0.65zM638.49 300.85h0.65v0.65h-0.65zM637.87 304.42h0.65v0.65h-0.65zM632.45 298.82h0.65v0.65h-0.65zM627.62 305.9h0.65v0.65h-0.65zM640.47 306.44h0.65v0.65h-0.65zM635.26 304.83h0.65v0.65h-0.65zM645.23 303.76h0.65v0.65h-0.65zM646.47 304.02h0.65v0.65h-0.65zM641.61 306.25h0.65v0.65h-0.65zM640.58 301.51h0.65v0.65h-0.65zM637.32 309.93h0.65v0.65h-0.65zM637.38 311.3h0.65v0.65h-0.65zM640.55 304.23h0.65v0.65h-0.65zM646.25 303.84h0.65v0.65h-0.65zM629.13 302.21h0.65v0.65h-0.65zM635.25 309.8h0.65v0.65h-0.65zM636.39 309.88h0.65v0.65h-0.65zM626.52 304.12h0.65v0.65h-0.65zM648.26 302.73h0.65v0.65h-0.65zM642.34 306.62h0.65v0.65h-0.65zM643.66 302.3h0.65v0.65h-0.65zM640.09 307.25h0.65v0.65h-0.65zM640 304.89h0.65v0.65h-0.65zM637.83 303.78h0.65v0.65h-0.65zM634.46 305.47h0.65v0.65h-0.65zM640.05 301.28h0.65v0.65h-0.65zM631.08 305.56h0.65v0.65h-0.65zM641.65 306.98h0.65v0.65h-0.65zM640.44 306.85h0.65v0.65h-0.65zM643.26 297.28h0.65v0.65h-0.65zM648.08 302.4h0.65v0.65h-0.65zM644.2 304.82h0.65v0.65h-0.65zM634.88 306.18h0.65v0.65h-0.65zM630.29 305.03h0.65v0.65h-0.65zM645.99 304.13h0.65v0.65h-0.65zM647.24 305.72h0.65v0.65h-0.65zM646.1 302.2h0.65v0.65h-0.65zM640.92 295.68h0.65v0.65h-0.65zM642.48 302.74h0.65v0.65h-0.65zM633.6 301.78h0.65v0.65h-0.65zM632.66 303.62h0.65v0.65h-0.65zM643.5 304.29h0.65v0.65h-0.65zM649.98 305.12h0.65v0.65h-0.65zM638.96 303h0.65v0.65h-0.65zM631.2 299.22h0.65v0.65h-0.65zM632.89 300.79h0.65v0.65h-0.65zM632.98 304.31h0.65v0.65h-0.65zM637.29 305.11h0.65v0.65h-0.65zM637.17 305.93h0.65v0.65h-0.65zM633.63 305.26h0.65v0.65h-0.65zM632.3 312.75h0.65v0.65h-0.65zM639.23 306.95h0.65v0.65h-0.65zM640.84 301.43h0.65v0.65h-0.65zM645.36 305.17h0.65v0.65h-0.65zM633 308.47h0.65v0.65h-0.65zM636.03 306.35h0.65v0.65h-0.65zM630.66 303.69h0.65v0.65h-0.65zM639.91 304.78h0.65v0.65h-0.65zM638.87 301.73h0.65v0.65h-0.65zM647.89 301.84h0.65v0.65h-0.65zM636.28 303.75h0.65v0.65h-0.65zM638.44 304.58h0.65v0.65h-0.65zM632.28 302.07h0.65v0.65h-0.65zM637.71 301.2h0.65v0.65h-0.65zM647.95 300.56h0.65v0.65h-0.65zM636 300.71h0.65v0.65h-0.65zM644.46 302.43h0.65v0.65h-0.65zM650.27 304.12h0.65v0.65h-0.65zM643.03 305.52h0.65v0.65h-0.65zM631.07 308.37h0.65v0.65h-0.65zM632.82 301.76h0.65v0.65h-0.65zM650.18 303.57h0.65v0.65h-0.65zM634.82 301.49h0.65v0.65h-0.65zM640.02 310.14h0.65v0.65h-0.65zM635.04 297.69h0.65v0.65h-0.65zM626.79 308.06h0.65v0.65h-0.65zM642.61 305.13h0.65v0.65h-0.65zM647.56 302.23h0.65v0.65h-0.65zM640.79 306.51h0.65v0.65h-0.65zM639.94 308.17h0.65v0.65h-0.65zM635.76 300.19h0.65v0.65h-0.65zM636.87 304.64h0.65v0.65h-0.65zM632.21 309.98h0.65v0.65h-0.65zM637.85 299.98h0.65v0.65h-0.65zM633.7 302.44h0.65v0.65h-0.65zM642.26 304.25h0.65v0.65h-0.65zM638.14 304.47h0.65v0.65h-0.65zM635.53 306.09h0.65v0.65h-0.65zM633.62 305.67h0.65v0.65h-0.65zM639.76 300.41h0.65v0.65h-0.65zM644.27 301.67h0.65v0.65h-0.65zM635.78 306.93h0.65v0.65h-0.65zM637.19 302.44h0.65v0.65h-0.65zM634.76 296.52h0.65v0.65h-0.65zM637.36 299.46h0.65v0.65h-0.65zM638.94 303.59h0.65v0.65h-0.65zM633.35 302.93h0.65v0.65h-0.65zM640.82 306.71h0.65v0.65h-0.65zM646.78 305.27h0.65v0.65h-0.65zM642.93 305.69h0.65v0.65h-0.65zM653.46 309.38h0.65v0.65h-0.65zM639.19 307.75h0.65v0.65h-0.65zM643.11 304.31h0.65v0.65h-0.65zM637.56 304.31h0.65v0.65h-0.65zM644.44 301.07h0.65v0.65h-0.65zM644.46 304.71h0.65v0.65h-0.65zM642.72 306.19h0.65v0.65h-0.65zM639.02 301.98h0.65v0.65h-0.65zM641.64 300.97h0.65v0.65h-0.65zM627.55 298.18h0.65v0.65h-0.65zM642.69 308.29h0.65v0.65h-0.65zM644.19 302.23h0.65v0.65h-0.65zM639.7 309.15h0.65v0.65h-0.65zM637.06 304.21h0.65v0.65h-0.65zM641.05 303.06h0.65v0.65h-0.65zM638.37 302.14h0.65v0.65h-0.65zM631.99 305.04h0.65v0.65h-0.65zM637.5 307.86h0.65v0.65h-0.65zM643.39 303.82h0.65v0.65h-0.65zM628.36 299.4h0.65v0.65h-0.65zM645.48 308.95h0.65v0.65h-0.65zM645.43 301.99h0.65v0.65h-0.65zM642.74 304.66h0.65v0.65h-0.65zM639.44 307.56h0.65v0.65h-0.65zM642.22 310.72h0.65v0.65h-0.65zM640.74 303.77h0.65v0.65h-0.65zM640.99 301.14h0.65v0.65h-0.65zM632.41 303.62h0.65v0.65h-0.65zM634.29 306.75h0.65v0.65h-0.65zM634.32 302.66h0.65v0.65h-0.65zM639.22 306.86h0.65v0.65h-0.65zM641.56 307.9h0.65v0.65h-0.65zM629.82 302.47h0.65v0.65h-0.65zM633.52 300.77h0.65v0.65h-0.65zM639.26 307.09h0.65v0.65h-0.65zM646.45 307.25h0.65v0.65h-0.65zM645.67 301.8h0.65v0.65h-0.65zM633.62 303.91h0.65v0.65h-0.65zM629.22 302.64h0.65v0.65h-0.65zM631.05 304.05h0.65v0.65h-0.65zM641.96 305h0.65v0.65h-0.65zM627.67 302.03h0.65v0.65h-0.65zM637.19 307.49h0.65v0.65h-0.65zM637.22 305.3h0.65v0.65h-0.65zM636.33 308.39h0.65v0.65h-0.65zM634.28 306.38h0.65v0.65h-0.65zM631.01 303.36h0.65v0.65h-0.65zM632.15 300.92h0.65v0.65h-0.65zM643.26 299.36h0.65v0.65h-0.65zM606.05 299.59h0.65v0.65h-0.65zM616.13 305.41h0.65v0.65h-0.65zM644.82 306.63h0.65v0.65h-0.65zM606.22 298.24h0.65v0.65h-0.65zM638.06 304.93h0.65v0.65h-0.65zM631.18 295.62h0.65v0.65h-0.65zM625.87 300.59h0.65v0.65h-0.65zM643.53 300.84h0.65v0.65h-0.65zM642.36 296.47h0.65v0.65h-0.65zM622.62 298.91h0.65v0.65h-0.65zM626.68 301.55h0.65v0.65h-0.65zM630.02 293.1h0.65v0.65h-0.65zM616.76 299.33h0.65v0.65h-0.65zM629.27 296.85h0.65v0.65h-0.65zM644.63 310.08h0.65v0.65h-0.65zM632.26 300.29h0.65v0.65h-0.65zM624.66 302.79h0.65v0.65h-0.65zM630.24 307.83h0.65v0.65h-0.65zM609.08 303.85h0.65v0.65h-0.65zM648.89 300.84h0.65v0.65h-0.65zM625.64 307.13h0.65v0.65h-0.65zM642.53 306.67h0.65v0.65h-0.65zM618.67 307.44h0.65v0.65h-0.65zM614.58 306.72h0.65v0.65h-0.65zM630.7 298.82h0.65v0.65h-0.65zM612 303.74h0.65v0.65h-0.65zM635.51 309.5h0.65v0.65h-0.65zM637.96 305.92h0.65v0.65h-0.65zM616.88 305.36h0.65v0.65h-0.65zM611.46 309.38h0.65v0.65h-0.65zM626.96 311.58h0.65v0.65h-0.65zM628.79 300.46h0.65v0.65h-0.65zM626.18 310.5h0.65v0.65h-0.65zM615.16 300.91h0.65v0.65h-0.65zM634.48 301.49h0.65v0.65h-0.65zM623.98 309.28h0.65v0.65h-0.65zM628.75 305.79h0.65v0.65h-0.65zM637.92 296.57h0.65v0.65h-0.65zM628.61 305.43h0.65v0.65h-0.65zM631.12 299.91h0.65v0.65h-0.65zM630.72 300.12h0.65v0.65h-0.65zM636.51 303.34h0.65v0.65h-0.65zM625.7 306.26h0.65v0.65h-0.65zM615.04 297.97h0.65v0.65h-0.65zM640.6 307.5h0.65v0.65h-0.65zM640.92 301.61h0.65v0.65h-0.65zM626.69 296.49h0.65v0.65h-0.65zM622.91 312.57h0.65v0.65h-0.65zM634.25 298.73h0.65v0.65h-0.65zM631.55 305.66h0.65v0.65h-0.65zM639.95 299h0.65v0.65h-0.65zM617.65 302.92h0.65v0.65h-0.65zM637.57 303.67h0.65v0.65h-0.65zM653.25 307.23h0.65v0.65h-0.65zM641.47 301.69h0.65v0.65h-0.65zM618.51 299.28h0.65v0.65h-0.65zM662.85 301.44h0.65v0.65h-0.65zM648.87 311.32h0.65v0.65h-0.65zM621.54 300.68h0.65v0.65h-0.65zM630.81 302.28h0.65v0.65h-0.65zM639.28 295h0.65v0.65h-0.65zM638.13 305.32h0.65v0.65h-0.65zM658.58 302.37h0.65v0.65h-0.65zM607.71 295.86h0.65v0.65h-0.65zM640.72 305.81h0.65v0.65h-0.65zM632.27 302.35h0.65v0.65h-0.65zM626.74 305.72h0.65v0.65h-0.65zM600 296.38h0.65v0.65h-0.65zM607.5 303.9h0.65v0.65h-0.65zM641.5 305.38h0.65v0.65h-0.65zM660.19 301.05h0.65v0.65h-0.65zM630.1 306.17h0.65v0.65h-0.65zM636.81 305.89h0.65v0.65h-0.65zM624.86 308.01h0.65v0.65h-0.65zM632.99 298.2h0.65v0.65h-0.65zM633.75 298.57h0.65v0.65h-0.65zM635.1 299.76h0.65v0.65h-0.65zM620.74 300.87h0.65v0.65h-0.65zM623.56 304.98h0.65v0.65h-0.65zM637.01 300.26h0.65v0.65h-0.65zM646.28 301.11h0.65v0.65h-0.65zM649.94 309.39h0.65v0.65h-0.65zM639.21 298.52h0.65v0.65h-0.65zM627.46 312.2h0.65v0.65h-0.65zM623.93 313.06h0.65v0.65h-0.65zM633.37 302.25h0.65v0.65h-0.65zM632.78 300.39h0.65v0.65h-0.65zM607.47 308.13h0.65v0.65h-0.65zM636.81 303.73h0.65v0.65h-0.65zM626.98 299.19h0.65v0.65h-0.65zM622.49 299.78h0.65v0.65h-0.65zM612.31 303.5h0.65v0.65h-0.65zM629.44 301.3h0.65v0.65h-0.65zM601.73 297.23h0.65v0.65h-0.65zM634.92 303.01h0.65v0.65h-0.65zM622.05 303.04h0.65v0.65h-0.65zM639.4 303.29h0.65v0.65h-0.65zM640.07 300.93h0.65v0.65h-0.65zM634.41 302.6h0.65v0.65h-0.65zM614.05 302.47h0.65v0.65h-0.65zM621.47 305.44h0.65v0.65h-0.65zM632.38 301.72h0.65v0.65h-0.65zM642.87 295.47h0.65v0.65h-0.65zM637.67 297.74h0.65v0.65h-0.65zM618.57 306.22h0.65v0.65h-0.65zM630.31 307.02h0.65v0.65h-0.65zM626.07 303.28h0.65v0.65h-0.65zM647.84 303.52h0.65v0.65h-0.65zM648.33 301.9h0.65v0.65h-0.65zM635.08 304.6h0.65v0.65h-0.65zM644.89 305.78h0.65v0.65h-0.65zM630.1 298.52h0.65v0.65h-0.65zM657.13 306.82h0.65v0.65h-0.65zM631.41 300.76h0.65v0.65h-0.65zM647.56 295.7h0.65v0.65h-0.65zM625.36 308.99h0.65v0.65h-0.65zM641.13 303.66h0.65v0.65h-0.65zM628.92 300.11h0.65v0.65h-0.65zM629.67 301.19h0.65v0.65h-0.65zM641.4 305.32h0.65v0.65h-0.65zM642.45 294.37h0.65v0.65h-0.65zM626.94 306.99h0.65v0.65h-0.65zM618.86 305.12h0.65v0.65h-0.65zM625.27 298.73h0.65v0.65h-0.65zM630.37 307.12h0.65v0.65h-0.65zM625.55 302.87h0.65v0.65h-0.65zM633.54 306.1h0.65v0.65h-0.65zM631.14 304.74h0.65v0.65h-0.65zM613.36 302.44h0.65v0.65h-0.65zM625.42 308.49h0.65v0.65h-0.65zM619.41 298.46h0.65v0.65h-0.65zM633.38 302.94h0.65v0.65h-0.65zM633.92 304.34h0.65v0.65h-0.65zM639.21 306.13h0.65v0.65h-0.65zM610.31 301.32h0.65v0.65h-0.65zM640.14 298.81h0.65v0.65h-0.65zM617.2 302.48h0.65v0.65h-0.65zM631.86 306.56h0.65v0.65h-0.65zM626.27 305.28h0.65v0.65h-0.65zM623.62 301.1h0.65v0.65h-0.65zM640.51 302.63h0.65v0.65h-0.65zM630.48 299.99h0.65v0.65h-0.65zM631.8 308.28h0.65v0.65h-0.65zM599.23 300.85h0.65v0.65h-0.65zM631.34 304.42h0.65v0.65h-0.65zM650.45 307.95h0.65v0.65h-0.65zM655.74 307.96h0.65v0.65h-0.65zM640.92 312.53h0.65v0.65h-0.65zM615.04 311.57h0.65v0.65h-0.65zM618.94 304.69h0.65v0.65h-0.65zM642.08 303.8h0.65v0.65h-0.65zM603.33 306.47h0.65v0.65h-0.65zM606.91 302.55h0.65v0.65h-0.65zM614.02 305.49h0.65v0.65h-0.65zM625.19 302.07h0.65v0.65h-0.65zM613.93 299.74h0.65v0.65h-0.65zM623.4 304.93h0.65v0.65h-0.65zM636.4 307.53h0.65v0.65h-0.65zM642.85 302.1h0.65v0.65h-0.65zM630.91 308.67h0.65v0.65h-0.65zM629.05 294.73h0.65v0.65h-0.65zM639.58 307.02h0.65v0.65h-0.65zM639.79 304.74h0.65v0.65h-0.65zM622.59 304.23h0.65v0.65h-0.65zM644.65 309.33h0.65v0.65h-0.65zM634.5 310.89h0.65v0.65h-0.65zM634.62 305.57h0.65v0.65h-0.65zM637.68 311.19h0.65v0.65h-0.65zM637.06 305.16h0.65v0.65h-0.65zM620.05 300.37h0.65v0.65h-0.65zM637.34 300.98h0.65v0.65h-0.65zM647.99 305.54h0.65v0.65h-0.65zM617.8 306.55h0.65v0.65h-0.65zM640.31 313.29h0.65v0.65h-0.65zM631.69 300.17h0.65v0.65h-0.65zM625.97 305.25h0.65v0.65h-0.65zM636.35 303.11h0.65v0.65h-0.65zM623.21 305.23h0.65v0.65h-0.65zM613.71 304.19h0.65v0.65h-0.65zM629.41 309.44h0.65v0.65h-0.65zM625.75 300.64h0.65v0.65h-0.65zM641.72 302.95h0.65v0.65h-0.65zM602.54 298.94h0.65v0.65h-0.65zM629.73 303.76h0.65v0.65h-0.65zM630.15 305.55h0.65v0.65h-0.65zM652.38 308.61h0.65v0.65h-0.65zM625.41 301.34h0.65v0.65h-0.65zM621.28 306.36h0.65v0.65h-0.65zM637.02 305.84h0.65v0.65h-0.65zM657.22 304.69h0.65v0.65h-0.65zM615.97 305.1h0.65v0.65h-0.65zM637.61 298.46h0.65v0.65h-0.65zM611.11 304.78h0.65v0.65h-0.65zM619.45 302.79h0.65v0.65h-0.65zM630.39 301.54h0.65v0.65h-0.65zM623.76 302.21h0.65v0.65h-0.65zM622.46 303.32h0.65v0.65h-0.65zM619.01 302.87h0.65v0.65h-0.65zM625.9 299.86h0.65v0.65h-0.65zM642.92 307.24h0.65v0.65h-0.65zM613.71 307.43h0.65v0.65h-0.65zM628.6 302.89h0.65v0.65h-0.65zM628.01 303.03h0.65v0.65h-0.65zM643.12 300.31h0.65v0.65h-0.65zM619.99 301.48h0.65v0.65h-0.65zM639.75 304.69h0.65v0.65h-0.65zM627.89 306.17h0.65v0.65h-0.65zM639.16 302.97h0.65v0.65h-0.65zM621.19 303.32h0.65v0.65h-0.65zM633.12 301.75h0.65v0.65h-0.65zM637.12 303.05h0.65v0.65h-0.65zM629.35 308.36h0.65v0.65h-0.65zM628.05 305.27h0.65v0.65h-0.65zM631.03 302.06h0.65v0.65h-0.65zM629.55 304.21h0.65v0.65h-0.65zM641.07 304.86h0.65v0.65h-0.65zM629.22 303.38h0.65v0.65h-0.65zM619.52 304.88h0.65v0.65h-0.65zM662.05 301.69h0.65v0.65h-0.65zM614.31 299.55h0.65v0.65h-0.65zM644.5 304.91h0.65v0.65h-0.65zM649.42 298.09h0.65v0.65h-0.65zM625.23 296.05h0.65v0.65h-0.65zM645.02 301.34h0.65v0.65h-0.65zM638.32 309.55h0.65v0.65h-0.65zM631.3 312.94h0.65v0.65h-0.65zM636.21 312.15h0.65v0.65h-0.65zM620.04 298.13h0.65v0.65h-0.65zM633.04 308.43h0.65v0.65h-0.65zM594.28 301.61h0.65v0.65h-0.65zM623.68 296.44h0.65v0.65h-0.65zM642.75 303.23h0.65v0.65h-0.65zM619.45 299.37h0.65v0.65h-0.65zM620.45 305.14h0.65v0.65h-0.65zM626.95 305.03h0.65v0.65h-0.65zM638.53 302.29h0.65v0.65h-0.65zM636.25 300.05h0.65v0.65h-0.65zM628.4 304.65h0.65v0.65h-0.65zM621.77 303.6h0.65v0.65h-0.65zM615.91 309.11h0.65v0.65h-0.65zM633.92 302.9h0.65v0.65h-0.65zM624.43 294.23h0.65v0.65h-0.65zM643.17 296.86h0.65v0.65h-0.65zM632.32 298.3h0.65v0.65h-0.65zM637.63 304.4h0.65v0.65h-0.65zM633.57 299.22h0.65v0.65h-0.65zM611.73 304.59h0.65v0.65h-0.65zM622.24 305.48h0.65v0.65h-0.65zM623.73 313.43h0.65v0.65h-0.65zM610.87 305.52h0.65v0.65h-0.65zM625.49 299.7h0.65v0.65h-0.65zM618.38 306.54h0.65v0.65h-0.65zM613.99 302.8h0.65v0.65h-0.65zM633.16 308.21h0.65v0.65h-0.65zM629.7 299.88h0.65v0.65h-0.65zM611.25 306.66h0.65v0.65h-0.65zM620.99 298.63h0.65v0.65h-0.65zM644.79 307.35h0.65v0.65h-0.65zM629.83 301.26h0.65v0.65h-0.65zM641.02 312.11h0.65v0.65h-0.65zM609.2 305.52h0.65v0.65h-0.65zM653.47 307.24h0.65v0.65h-0.65zM622.82 301.73h0.65v0.65h-0.65zM624.78 298.39h0.65v0.65h-0.65zM640.46 304.28h0.65v0.65h-0.65zM643.92 295.79h0.65v0.65h-0.65zM639.19 305.91h0.65v0.65h-0.65zM631.84 301.09h0.65v0.65h-0.65zM623 307.25h0.65v0.65h-0.65zM618.34 303.32h0.65v0.65h-0.65zM629.72 308.47h0.65v0.65h-0.65zM613.51 305.5h0.65v0.65h-0.65zM632.5 304.32h0.65v0.65h-0.65zM632.32 297.21h0.65v0.65h-0.65zM625.52 297.26h0.65v0.65h-0.65zM636.11 304.41h0.65v0.65h-0.65zM642.64 300.84h0.65v0.65h-0.65zM617.88 309.49h0.65v0.65h-0.65zM627.15 300.39h0.65v0.65h-0.65zM630.42 298.13h0.65v0.65h-0.65zM628.87 305.92h0.65v0.65h-0.65zM637.56 308.15h0.65v0.65h-0.65zM605.83 307.77h0.65v0.65h-0.65zM621.69 308.52h0.65v0.65h-0.65zM642.49 297.38h0.65v0.65h-0.65zM616.06 295.81h0.65v0.65h-0.65zM616.86 296.6h0.65v0.65h-0.65zM626.23 300.77h0.65v0.65h-0.65zM614.59 298.84h0.65v0.65h-0.65zM625.34 299.08h0.65v0.65h-0.65zM645.67 304.46h0.65v0.65h-0.65zM639.7 294.88h0.65v0.65h-0.65zM618.87 300.38h0.65v0.65h-0.65zM631.48 306.4h0.65v0.65h-0.65zM631.11 302.53h0.65v0.65h-0.65zM620.87 304.92h0.65v0.65h-0.65zM597.93 312.01h0.65v0.65h-0.65zM647.86 306.49h0.65v0.65h-0.65zM629.4 301.98h0.65v0.65h-0.65zM633.04 306.99h0.65v0.65h-0.65zM635.5 307.44h0.65v0.65h-0.65zM617.95 301.56h0.65v0.65h-0.65zM621.41 301.35h0.65v0.65h-0.65zM620.38 302.21h0.65v0.65h-0.65zM617.16 303.6h0.65v0.65h-0.65zM615.37 301.52h0.65v0.65h-0.65zM620.36 300.61h0.65v0.65h-0.65zM622.67 307.07h0.65v0.65h-0.65zM626.21 303.28h0.65v0.65h-0.65zM619 298.47h0.65v0.65h-0.65zM635.81 312.95h0.65v0.65h-0.65zM618.68 295.96h0.65v0.65h-0.65zM603.08 308.39h0.65v0.65h-0.65zM629.6 309.05h0.65v0.65h-0.65zM620.04 302.68h0.65v0.65h-0.65zM600.91 305.1h0.65v0.65h-0.65zM649.56 304.38h0.65v0.65h-0.65zM638.33 308.14h0.65v0.65h-0.65zM625.56 298.34h0.65v0.65h-0.65zM640.26 296.43h0.65v0.65h-0.65zM638.75 304.01h0.65v0.65h-0.65zM628.05 296.5h0.65v0.65h-0.65zM626.25 303.4h0.65v0.65h-0.65zM634.44 307.07h0.65v0.65h-0.65zM610.76 302.74h0.65v0.65h-0.65zM629.93 309.98h0.65v0.65h-0.65zM622.79 300.11h0.65v0.65h-0.65zM635.27 300.94h0.65v0.65h-0.65zM631.29 300.24h0.65v0.65h-0.65zM631.03 298.6h0.65v0.65h-0.65zM619.42 311.04h0.65v0.65h-0.65zM615.08 309.04h0.65v0.65h-0.65zM625.62 303.54h0.65v0.65h-0.65zM627.26 306.51h0.65v0.65h-0.65zM631.46 304.11h0.65v0.65h-0.65zM617.79 300.84h0.65v0.65h-0.65zM625.73 299.54h0.65v0.65h-0.65zM653.32 305.14h0.65v0.65h-0.65zM629.72 294.9h0.65v0.65h-0.65zM621.61 304.97h0.65v0.65h-0.65zM634.48 302.74h0.65v0.65h-0.65zM624.27 302.83h0.65v0.65h-0.65zM621.02 313.46h0.65v0.65h-0.65zM640.52 299.89h0.65v0.65h-0.65zM642.6 306.11h0.65v0.65h-0.65zM649.61 298.52h0.65v0.65h-0.65zM638.61 304.83h0.65v0.65h-0.65zM625.98 303.61h0.65v0.65h-0.65zM618.88 307.55h0.65v0.65h-0.65zM628.27 311.09h0.65v0.65h-0.65zM638.98 302.42h0.65v0.65h-0.65zM611.04 302.84h0.65v0.65h-0.65zM637.47 308.19h0.65v0.65h-0.65zM609.43 299.81h0.65v0.65h-0.65zM608.29 298.95h0.65v0.65h-0.65zM628.65 301.11h0.65v0.65h-0.65zM630.73 298.26h0.65v0.65h-0.65zM617.07 301.67h0.65v0.65h-0.65zM619.12 301.25h0.65v0.65h-0.65zM608.73 307.61h0.65v0.65h-0.65zM633.34 307.62h0.65v0.65h-0.65zM629.35 303.76h0.65v0.65h-0.65zM641.27 306.24h0.65v0.65h-0.65zM645.41 303.13h0.65v0.65h-0.65zM630.07 304.79h0.65v0.65h-0.65zM622.38 311.7h0.65v0.65h-0.65zM625.77 302.25h0.65v0.65h-0.65zM640.99 300.88h0.65v0.65h-0.65zM654.45 305.58h0.65v0.65h-0.65zM626.13 302.17h0.65v0.65h-0.65zM619.58 306.19h0.65v0.65h-0.65zM633.4 309.64h0.65v0.65h-0.65zM640.74 298.25h0.65v0.65h-0.65zM624.83 301.73h0.65v0.65h-0.65zM646.42 294.83h0.65v0.65h-0.65zM625.95 303.18h0.65v0.65h-0.65zM645.2 299.87h0.65v0.65h-0.65zM666.86 303.01h0.65v0.65h-0.65zM627.18 301.68h0.65v0.65h-0.65zM633.95 302.32h0.65v0.65h-0.65zM619.17 305.92h0.65v0.65h-0.65zM635.42 306.91h0.65v0.65h-0.65zM628.82 300.97h0.65v0.65h-0.65zM626.43 300.82h0.65v0.65h-0.65zM647.19 311.55h0.65v0.65h-0.65zM630.03 303.97h0.65v0.65h-0.65zM619.34 299.82h0.65v0.65h-0.65zM601.6 299.03h0.65v0.65h-0.65zM626.14 309.09h0.65v0.65h-0.65zM633.14 300.67h0.65v0.65h-0.65zM622.27 300.98h0.65v0.65h-0.65zM633.42 303.06h0.65v0.65h-0.65zM636.81 310.38h0.65v0.65h-0.65zM644.87 307h0.65v0.65h-0.65zM620.39 308.93h0.65v0.65h-0.65zM618.24 298.06h0.65v0.65h-0.65zM636.67 302.38h0.65v0.65h-0.65zM639.64 304.86h0.65v0.65h-0.65zM641.09 304.78h0.65v0.65h-0.65zM638.36 303.07h0.65v0.65h-0.65zM627.67 304.36h0.65v0.65h-0.65zM627.38 298.92h0.65v0.65h-0.65zM602.42 301.68h0.65v0.65h-0.65zM627.4 309.74h0.65v0.65h-0.65zM641.44 303.16h0.65v0.65h-0.65zM636.82 302.4h0.65v0.65h-0.65zM641.64 304.66h0.65v0.65h-0.65zM626.92 306.28h0.65v0.65h-0.65zM626.7 306.42h0.65v0.65h-0.65zM619.72 309.42h0.65v0.65h-0.65zM632.13 309.35h0.65v0.65h-0.65zM638.16 299.1h0.65v0.65h-0.65zM637.39 305.46h0.65v0.65h-0.65zM636.96 306.11h0.65v0.65h-0.65zM626.77 296.67h0.65v0.65h-0.65zM626.45 303.9h0.65v0.65h-0.65zM603.85 298.63h0.65v0.65h-0.65zM615.64 305.31h0.65v0.65h-0.65zM617.32 301.93h0.65v0.65h-0.65zM634.31 302.94h0.65v0.65h-0.65zM605.01 308.36h0.65v0.65h-0.65zM652.09 309.57h0.65v0.65h-0.65zM617.77 301.76h0.65v0.65h-0.65zM657.32 297.61h0.65v0.65h-0.65zM635.42 306.04h0.65v0.65h-0.65zM640.17 305.04h0.65v0.65h-0.65zM619.31 302.39h0.65v0.65h-0.65zM628.37 302.66h0.65v0.65h-0.65zM642.76 304.47h0.65v0.65h-0.65zM625.31 307.82h0.65v0.65h-0.65zM619.92 299.07h0.65v0.65h-0.65zM634.6 304.02h0.65v0.65h-0.65zM649.83 304.55h0.65v0.65h-0.65zM651.31 300.39h0.65v0.65h-0.65zM610.46 305.91h0.65v0.65h-0.65zM625.81 302.66h0.65v0.65h-0.65zM647.83 307.08h0.65v0.65h-0.65zM612.82 302.78h0.65v0.65h-0.65zM622.82 305.91h0.65v0.65h-0.65zM632.8 308.71h0.65v0.65h-0.65zM615.27 304.69h0.65v0.65h-0.65zM610.58 304.73h0.65v0.65h-0.65zM651.96 308.37h0.65v0.65h-0.65zM634.15 307.86h0.65v0.65h-0.65zM629.82 304.14h0.65v0.65h-0.65zM630.51 303.58h0.65v0.65h-0.65zM623.54 303.5h0.65v0.65h-0.65zM620.22 298.95h0.65v0.65h-0.65zM636.43 301.2h0.65v0.65h-0.65z" fill="#000" opacity="0.8"/>
<rect x="587.2" y="237.2" width="95.2" height="76.3" stroke="#888" stroke-width="0.7" fill="none"/>
<line x1="629.5" y1="237.2" x2="629.5" y2="313.5" stroke="#333" stroke-width="0.8"/>
<line x1="587.2" y1="292.1" x2="682.4" y2="292.1" stroke="#555" stroke-width="1.2"/>
<line x1="586" y1="309.5" x2="587.2" y2="309.5" stroke="#999" stroke-width="0.4"/>
<line x1="586" y1="306" x2="587.2" y2="306" stroke="#999" stroke-width="0.4"/>
<line x1="586" y1="302.5" x2="587.2" y2="302.5" stroke="#999" stroke-width="0.4"/>
<line x1="586" y1="299" x2="587.2" y2="299" stroke="#999" stroke-width="0.4"/>
<line x1="586" y1="295.5" x2="587.2" y2="295.5" stroke="#999" stroke-width="0.4"/>
<line x1="586" y1="292" x2="587.2" y2="292" stroke="#999" stroke-width="0.4"/>
<line x1="586" y1="286.91" x2="587.2" y2="286.91" stroke="#999" stroke-width="0.4"/>
<line x1="586" y1="283.41" x2="587.2" y2="283.41" stroke="#999" stroke-width="0.4"/>
<line x1="586" y1="279.91" x2="587.2" y2="279.91" stroke="#999" stroke-width="0.4"/>
<line x1="586" y1="276.41" x2="587.2" y2="276.41" stroke="#999" stroke-width="0.4"/>
<line x1="586" y1="272.91" x2="587.2" y2="272.91" stroke="#999" stroke-width="0.4"/>
<line x1="586" y1="269.41" x2="587.2" y2="269.41" stroke="#999" stroke-width="0.4"/>
<line x1="586" y1="264.31" x2="587.2" y2="264.31" stroke="#999" stroke-width="0.4"/>
<line x1="586" y1="260.81" x2="587.2" y2="260.81" stroke="#999" stroke-width="0.4"/>
<line x1="586" y1="257.31" x2="587.2" y2="257.31" stroke="#999" stroke-width="0.4"/>
<line x1="586" y1="253.81" x2="587.2" y2="253.81" stroke="#999" stroke-width="0.4"/>
<line x1="586" y1="250.31" x2="587.2" y2="250.31" stroke="#999" stroke-width="0.4"/>
<line x1="586" y1="246.81" x2="587.2" y2="246.81" stroke="#999" stroke-width="0.4"/>
<line x1="586" y1="241.72" x2="587.2" y2="241.72" stroke="#999" stroke-width="0.4"/>
<line x1="586" y1="238.22" x2="587.2" y2="238.22" stroke="#999" stroke-width="0.4"/>
<line x1="586" y1="234.72" x2="587.2" y2="234.72" stroke="#999" stroke-width="0.4"/>
<line x1="586" y1="231.22" x2="587.2" y2="231.22" stroke="#999" stroke-width="0.4"/>
<line x1="586" y1="227.72" x2="587.2" y2="227.72" stroke="#999" stroke-width="0.4"/>
<line x1="586" y1="224.22" x2="587.2" y2="224.22" stroke="#999" stroke-width="0.4"/>
<text x="580.9" y="239.7" font-size="2.8" stroke="#888" stroke-width="0.2" fill="#888">10</text>
<text x="580.9" y="258.2" font-size="2.8" stroke="#888" stroke-width="0.2" fill="#888">10</text>
<text x="580.9" y="276.7" font-size="2.8" stroke="#888" stroke-width="0.2" fill="#888">10</text>
<text x="580.9" y="296.2" font-size="2.8" stroke="#888" stroke-width="0.2" fill="#888">10</text>
<text x="609.6" y="317.7" font-size="2.8" stroke="#888" stroke-width="0.2" fill="#888">10</text>
<text x="632.1" y="317.7" font-size="2.8" stroke="#888" stroke-width="0.2" fill="#888">10</text>
<text x="655.8" y="317.7" font-size="2.8" stroke="#888" stroke-width="0.2" fill="#888">10</text>
<text x="679.1" y="317.7" font-size="2.8" stroke="#888" stroke-width="0.2" fill="#888">10</text>
<path d="M640.05 364.09h0.7v0.7h-0.7zM638.7 336.24h0.7v0.7h-0.7zM633.59 336.28h0.7v0.7h-0.7zM632.84 350.1h0.7v0.7h-0.7zM637.51 334.76h0.7v0.7h-0.7zM638.22 362.71h0.7v0.7h-0.7zM634.32 335.4h0.7v0.7h-0.7zM643.61 362.23h0.7v0.7h-0.7zM632.98 357.66h0.7v0.7h-0.7zM638.25 338.6h0.7v0.7h-0.7zM638.72 352.55h0.7v0.7h-0.7zM629.01 347.66h0.7v0.7h-0.7zM627.34 369.18h0.7v0.7h-0.7zM634.42 371.79h0.7v0.7h-0.7zM637.12 353.39h0.7v0.7h-0.7zM643.47 349.5h0.7v0.7h-0.7zM631.09 341.4h0.7v0.7h-0.7zM636.04 357.06h0.7v0.7h-0.7zM638.29 351.41h0.7v0.7h-0.7zM629.63 353.81h0.7v0.7h-0.7zM641.14 340.85h0.7v0.7h-0.7zM640.46 343.12h0.7v0.7h-0.7zM637.6 349.61h0.7v0.7h-0.7zM640.73 365.95h0.7v0.7h-0.7zM636.79 347.83h0.7v0.7h-0.7zM631.75 344.76h0.7v0.7h-0.7zM638.18 358.59h0.7v0.7h-0.7zM629.18 363.8h0.7v0.7h-0.7zM634.76 357.42h0.7v0.7h-0.7zM637.3 372.93h0.7v0.7h-0.7zM636.42 354.55h0.7v0.7h-0.7zM632.9 362.32h0.7v0.7h-0.7zM636.69 349.87h0.7v0.7h-0.7zM636.89 355.53h0.7v0.7h-0.7zM640.19 344.37h0.7v0.7h-0.7zM638.4 352.65h0.7v0.7h-0.7zM633.3 355.49h0.7v0.7h-0.7zM644.58 334.74h0.7v0.7h-0.7zM634.71 345.44h0.7v0.7h-0.7zM646.8 346.69h0.7v0.7h-0.7zM633.47 349.68h0.7v0.7h-0.7zM644.26 341.96h0.7v0.7h-0.7zM638.81 357.14h0.7v0.7h-0.7zM636.6 341.72h0.7v0.7h-0.7zM632.47 352.67h0.7v0.7h-0.7zM631.5 347.54h0.7v0.7h-0.7zM630.36 350.74h0.7v0.7h-0.7zM637.51 350.38h0.7v0.7h-0.7zM639.06 345.8h0.7v0.7h-0.7zM634.88 362.99h0.7v0.7h-0.7zM632.89 350.78h0.7v0.7h-0.7zM638.96 360.93h0.7v0.7h-0.7zM639.46 350.11h0.7v0.7h-0.7zM634.6 358.03h0.7v0.7h-0.7zM643.53 351.32h0.7v0.7h-0.7zM631.81 347.93h0.7v0.7h-0.7zM633.4 334.51h0.7v0.7h-0.7zM640.66 347.11h0.7v0.7h-0.7zM630.97 367.77h0.7v0.7h-0.7zM633.49 352.6h0.7v0.7h-0.7zM634.2 352.1h0.7v0.7h-0.7zM640.56 345.2h0.7v0.7h-0.7zM637.43 335.49h0.7v0.7h-0.7zM641.08 363.51h0.7v0.7h-0.7zM628.29 340.17h0.7v0.7h-0.7zM641.38 353.04h0.7v0.7h-0.7zM632.76 345.07h0.7v0.7h-0.7zM638.27 352.7h0.7v0.7h-0.7zM633.88 363h0.7v0.7h-0.7zM634.76 336.2h0.7v0.7h-0.7zM635.6 372.83h0.7v0.7h-0.7zM631.54 350.77h0.7v0.7h-0.7zM637.61 367.03h0.7v0.7h-0.7zM641.17 361.61h0.7v0.7h-0.7zM635.92 355.4h0.7v0.7h-0.7zM635.73 356.92h0.7v0.7h-0.7zM633.81 342.57h0.7v0.7h-0.7zM633.58 363.17h0.7v0.7h-0.7zM637.43 366.94h0.7v0.7h-0.7zM629.39 342.43h0.7v0.7h-0.7zM632.82 371.19h0.7v0.7h-0.7zM633.86 373.21h0.7v0.7h-0.7zM635.82 349.85h0.7v0.7h-0.7zM633.6 369.21h0.7v0.7h-0.7zM637.69 355.9h0.7v0.7h-0.7zM639.3 371.19h0.7v0.7h-0.7zM636.37 341.29h0.7v0.7h-0.7zM636.7 345.65h0.7v0.7h-0.7zM633.08 354.47h0.7v0.7h-0.7zM628.75 366.54h0.7v0.7h-0.7zM637.5 354.85h0.7v0.7h-0.7zM634.27 355.25h0.7v0.7h-0.7zM638.75 352.86h0.7v0.7h-0.7zM639.4 340.01h0.7v0.7h-0.7zM635.54 344.88h0.7v0.7h-0.7zM638.48 354.59h0.7v0.7h-0.7zM635.32 344.32h0.7v0.7h-0.7zM631.48 366.63h0.7v0.7h-0.7zM637.49 336.9h0.7v0.7h-0.7zM635.69 338.84h0.7v0.7h-0.7zM634.52 334.5h0.7v0.7h-0.7zM634.44 361.79h0.7v0.7h-0.7zM637.46 337.12h0.7v0.7h-0.7zM642.65 348.15h0.7v0.7h-0.7zM632.16 356.38h0.7v0.7h-0.7zM643.68 368.01h0.7v0.7h-0.7zM638.63 364.69h0.7v0.7h-0.7zM635.27 356.24h0.7v0.7h-0.7zM638.05 363.5h0.7v0.7h-0.7zM635.52 353.45h0.7v0.7h-0.7zM637.86 368.8h0.7v0.7h-0.7zM644.24 366.92h0.7v0.7h-0.7zM641.92 362.36h0.7v0.7h-0.7zM646.23 352.1h0.7v0.7h-0.7zM647.01 357.28h0.7v0.7h-0.7zM621.01 343.27h0.7v0.7h-0.7zM632.27 370.27h0.7v0.7h-0.7zM630.5 355.76h0.7v0.7h-0.7zM644.59 354.23h0.7v0.7h-0.7zM646.67 372.1h0.7v0.7h-0.7zM645.57 362.35h0.7v0.7h-0.7zM641.95 366.78h0.7v0.7h-0.7zM639.15 364.41h0.7v0.7h-0.7zM625.56 373.84h0.7v0.7h-0.7zM644.32 357.36h0.7v0.7h-0.7zM636.15 362.38h0.7v0.7h-0.7zM641.8 374.75h0.7v0.7h-0.7zM643.7 370.17h0.7v0.7h-0.7zM626.62 363.02h0.7v0.7h-0.7zM634.65 363.54h0.7v0.7h-0.7zM627.67 366.64h0.7v0.7h-0.7zM641.43 370.22h0.7v0.7h-0.7zM638.27 375.4h0.7v0.7h-0.7zM624.87 347.69h0.7v0.7h-0.7zM636.89 371.34h0.7v0.7h-0.7z" fill="#ff7a7a"/>
<path d="M618.97 390.21h0.65v0.65h-0.65zM622.43 388.78h0.65v0.65h-0.65zM621.2 386.33h0.65v0.65h-0.65zM616.99 380.35h0.65v0.65h-0.65zM614.8 386.48h0.65v0.65h-0.65zM619.12 381.17h0.65v0.65h-0.65zM619.07 391.79h0.65v0.65h-0.65zM616.17 380.24h0.65v0.65h-0.65zM610.21 387.74h0.65v0.65h-0.65zM619.3 387.06h0.65v0.65h-0.65zM614.64 382.11h0.65v0.65h-0.65zM616.82 385.75h0.65v0.65h-0.65zM619.37 390.81h0.65v0.65h-0.65zM623.1 386.71h0.65v0.65h-0.65zM613.39 387.45h0.65v0.65h-0.65zM610.14 391.62h0.65v0.65h-0.65zM622.16 384.46h0.65v0.65h-0.65zM618.96 381.48h0.65v0.65h-0.65zM622.36 377.51h0.65v0.65h-0.65zM614.27 389.35h0.65v0.65h-0.65zM615.17 390.57h0.65v0.65h-0.65zM617.11 391.86h0.65v0.65h-0.65zM619.49 384.54h0.65v0.65h-0.65zM616.31 384.4h0.65v0.65h-0.65zM618.93 385.52h0.65v0.65h-0.65zM608.12 386h0.65v0.65h-0.65zM625.54 388.99h0.65v0.65h-0.65zM614.12 386.18h0.65v0.65h-0.65zM612.51 380.17h0.65v0.65h-0.65zM612.03 386.14h0.65v0.65h-0.65zM623.04 379.48h0.65v0.65h-0.65zM621.23 388.84h0.65v0.65h-0.65zM626.33 383.33h0.65v0.65h-0.65zM625.03 391.79h0.65v0.65h-0.65zM611.66 378.94h0.65v0.65h-0.65zM605.77 392.83h0.65v0.65h-0.65zM617.2 382.87h0.65v0.65h-0.65zM615.73 385.1h0.65v0.65h-0.65zM615.8 380.9h0.65v0.65h-0.65zM615.71 389.58h0.65v0.65h-0.65zM619.71 383.84h0.65v0.65h-0.65zM613.29 386.28h0.65v0.65h-0.65zM618.39 383.34h0.65v0.65h-0.65zM623.63 384.54h0.65v0.65h-0.65zM620.61 385.25h0.65v0.65h-0.65zM614.83 387.28h0.65v0.65h-0.65zM616.96 383.88h0.65v0.65h-0.65zM624.42 388.87h0.65v0.65h-0.65zM620.26 378.84h0.65v0.65h-0.65zM614.63 383.42h0.65v0.65h-0.65zM616.63 391.51h0.65v0.65h-0.65zM618.26 387.49h0.65v0.65h-0.65zM620.29 379.09h0.65v0.65h-0.65zM617.17 387.64h0.65v0.65h-0.65zM620.29 384.85h0.65v0.65h-0.65zM611.58 378.39h0.65v0.65h-0.65zM619.41 386.31h0.65v0.65h-0.65zM614.08 384.54h0.65v0.65h-0.65zM622.39 385.08h0.65v0.65h-0.65zM623.33 382.89h0.65v0.65h-0.65zM616.58 387.78h0.65v0.65h-0.65zM612 384.68h0.65v0.65h-0.65zM620.32 384.28h0.65v0.65h-0.65zM615.51 388.11h0.65v0.65h-0.65zM617.27 380.05h0.65v0.65h-0.65zM614.55 384.13h0.65v0.65h-0.65zM612.85 382.23h0.65v0.65h-0.65zM618.44 382.34h0.65v0.65h-0.65zM613.67 391.27h0.65v0.65h-0.65zM627.36 385.73h0.65v0.65h-0.65zM618.06 379.44h0.65v0.65h-0.65zM613.49 386.22h0.65v0.65h-0.65zM614.67 389.58h0.65v0.65h-0.65zM623.37 391.62h0.65v0.65h-0.65zM620.16 383.01h0.65v0.65h-0.65zM620.38 379.07h0.65v0.65h-0.65zM625.3 379.47h0.65v0.65h-0.65zM625.7 385.44h0.65v0.65h-0.65zM623.23 378.62h0.65v0.65h-0.65zM615.95 383.26h0.65v0.65h-0.65zM612.73 382.04h0.65v0.65h-0.65zM617.23 387.37h0.65v0.65h-0.65zM619.56 380.61h0.65v0.65h-0.65zM619.59 388.24h0.65v0.65h-0.65zM609.85 394.1h0.65v0.65h-0.65zM614.97 383.06h0.65v0.65h-0.65zM615.42 392.47h0.65v0.65h-0.65zM611.59 383.55h0.65v0.65h-0.65zM614.06 384.77h0.65v0.65h-0.65zM622.51 385.92h0.65v0.65h-0.65zM618.85 392.3h0.65v0.65h-0.65zM612.7 385.71h0.65v0.65h-0.65zM622.98 383.02h0.65v0.65h-0.65zM619.55 379.85h0.65v0.65h-0.65zM614.24 379.5h0.65v0.65h-0.65zM613.28 388.46h0.65v0.65h-0.65zM615.08 391.69h0.65v0.65h-0.65zM613.14 387.12h0.65v0.65h-0.65zM616.35 384.33h0.65v0.65h-0.65zM626.31 386.29h0.65v0.65h-0.65zM620.08 389.29h0.65v0.65h-0.65zM612.89 387.56h0.65v0.65h-0.65zM617.45 390.13h0.65v0.65h-0.65zM620.29 385.92h0.65v0.65h-0.65zM619.58 380.24h0.65v0.65h-0.65zM613.69 384.32h0.65v0.65h-0.65zM619.41 385.38h0.65v0.65h-0.65zM628.49 382.38h0.65v0.65h-0.65zM612.59 389.16h0.65v0.65h-0.65zM609.07 387.86h0.65v0.65h-0.65zM608.79 388.39h0.65v0.65h-0.65zM624.9 386.47h0.65v0.65h-0.65zM607.54 391.51h0.65v0.65h-0.65zM617.64 387.03h0.65v0.65h-0.65zM612.75 383.02h0.65v0.65h-0.65zM618.11 387.07h0.65v0.65h-0.65zM610.61 388.86h0.65v0.65h-0.65zM610.65 383.25h0.65v0.65h-0.65zM619.35 389.58h0.65v0.65h-0.65zM617.38 385.32h0.65v0.65h-0.65zM619.15 385.79h0.65v0.65h-0.65zM624.52 379.68h0.65v0.65h-0.65zM613.17 384.54h0.65v0.65h-0.65zM611.03 389.15h0.65v0.65h-0.65zM613 382.87h0.65v0.65h-0.65zM613.59 382h0.65v0.65h-0.65zM619.74 384.59h0.65v0.65h-0.65zM617.05 384.08h0.65v0.65h-0.65zM624.42 382.16h0.65v0.65h-0.65zM619.56 384.34h0.65v0.65h-0.65zM616.02 382.46h0.65v0.65h-0.65zM610.29 386.87h0.65v0.65h-0.65zM607.2 390.61h0.65v0.65h-0.65zM620.78 387.02h0.65v0.65h-0.65zM623.37 391.3h0.65v0.65h-0.65zM611.77 382.35h0.65v0.65h-0.65zM613 385.78h0.65v0.65h-0.65zM621.7 385.5h0.65v0.65h-0.65zM613.62 387.96h0.65v0.65h-0.65zM615.23 383.16h0.65v0.65h-0.65zM617.66 386.98h0.65v0.65h-0.65zM618.49 387.64h0.65v0.65h-0.65zM618.9 388.38h0.65v0.65h-0.65zM607.27 383.49h0.65v0.65h-0.65zM618.41 387.87h0.65v0.65h-0.65zM618.95 384.28h0.65v0.65h-0.65zM627.01 381.08h0.65v0.65h-0.65zM617.83 383.17h0.65v0.65h-0.65zM609.28 383.7h0.65v0.65h-0.65zM613.48 385.24h0.65v0.65h-0.65zM611.77 381.24h0.65v0.65h-0.65zM615.52 383.42h0.65v0.65h-0.65zM620.59 386.54h0.65v0.65h-0.65zM615.7 381.44h0.65v0.65h-0.65zM620.65 385.08h0.65v0.65h-0.65zM617.71 384.35h0.65v0.65h-0.65zM617.28 386.47h0.65v0.65h-0.65zM614.69 387.52h0.65v0.65h-0.65zM619.47 386.86h0.65v0.65h-0.65zM615.59 386.81h0.65v0.65h-0.65zM612.84 383.63h0.65v0.65h-0.65zM623.55 387.53h0.65v0.65h-0.65zM612.85 386.79h0.65v0.65h-0.65zM619.68 383.18h0.65v0.65h-0.65zM617.91 383.55h0.65v0.65h-0.65zM618.97 384.8h0.65v0.65h-0.65zM626.62 377.78h0.65v0.65h-0.65zM613.56 388.92h0.65v0.65h-0.65zM611.47 380.18h0.65v0.65h-0.65zM615.59 390.48h0.65v0.65h-0.65zM616.21 385.59h0.65v0.65h-0.65zM612.7 378.54h0.65v0.65h-0.65zM612.54 386.36h0.65v0.65h-0.65zM605.13 382.75h0.65v0.65h-0.65zM611.5 380.62h0.65v0.65h-0.65zM617.13 384.63h0.65v0.65h-0.65zM609.31 377.63h0.65v0.65h-0.65zM614.97 383.48h0.65v0.65h-0.65zM605.72 381.35h0.65v0.65h-0.65zM613.89 386.76h0.65v0.65h-0.65zM624.09 383.65h0.65v0.65h-0.65zM614.09 388.03h0.65v0.65h-0.65zM619.01 385.89h0.65v0.65h-0.65zM620.91 380.23h0.65v0.65h-0.65zM610.84 392.36h0.65v0.65h-0.65zM616.81 384.71h0.65v0.65h-0.65zM609.34 385.93h0.65v0.65h-0.65zM613.23 384.79h0.65v0.65h-0.65zM621.92 384.47h0.65v0.65h-0.65zM613.49 388.73h0.65v0.65h-0.65zM615.51 388.21h0.65v0.65h-0.65zM616.6 384.69h0.65v0.65h-0.65zM618.82 386.97h0.65v0.65h-0.65zM615.05 388.78h0.65v0.65h-0.65zM624.66 389.73h0.65v0.65h-0.65zM618.68 386.04h0.65v0.65h-0.65zM616.3 382.15h0.65v0.65h-0.65zM616.96 389.74h0.65v0.65h-0.65zM620.34 385.48h0.65v0.65h-0.65zM604.66 386.02h0.65v0.65h-0.65zM610.53 388.12h0.65v0.65h-0.65zM615.85 384.34h0.65v0.65h-0.65zM610.43 381.6h0.65v0.65h-0.65zM622.28 383.11h0.65v0.65h-0.65zM610.59 384.46h0.65v0.65h-0.65zM622.56 380.39h0.65v0.65h-0.65zM626.41 379.06h0.65v0.65h-0.65zM608.86 390.12h0.65v0.65h-0.65zM609.82 379.43h0.65v0.65h-0.65zM614.29 380.74h0.65v0.65h-0.65zM616.83 381.44h0.65v0.65h-0.65zM614.36 377.51h0.65v0.65h-0.65zM619.82 389.46h0.65v0.65h-0.65zM611.83 382.13h0.65v0.65h-0.65zM618.43 382.22h0.65v0.65h-0.65zM620.64 386.42h0.65v0.65h-0.65zM624.04 382.87h0.65v0.65h-0.65zM622.88 384.08h0.65v0.65h-0.65zM621.03 383.87h0.65v0.65h-0.65zM609.93 383.08h0.65v0.65h-0.65zM615.23 386.84h0.65v0.65h-0.65zM620.42 388.75h0.65v0.65h-0.65zM616.02 388.61h0.65v0.65h-0.65zM623.06 381.19h0.65v0.65h-0.65zM622.45 386.98h0.65v0.65h-0.65zM613.52 385.18h0.65v0.65h-0.65zM617.67 387.14h0.65v0.65h-0.65zM618.45 377.85h0.65v0.65h-0.65zM608.8 388.29h0.65v0.65h-0.65zM616.22 386.42h0.65v0.65h-0.65zM619.56 382.48h0.65v0.65h-0.65zM614.11 388.03h0.65v0.65h-0.65zM619.77 385.02h0.65v0.65h-0.65zM621.74 387.66h0.65v0.65h-0.65zM617.2 384.7h0.65v0.65h-0.65zM605.47 385.26h0.65v0.65h-0.65zM614.14 385.51h0.65v0.65h-0.65zM613.24 390.56h0.65v0.65h-0.65zM612.35 387.62h0.65v0.65h-0.65zM616.32 392.54h0.65v0.65h-0.65zM609.86 383.52h0.65v0.65h-0.65zM616 389.67h0.65v0.65h-0.65zM623.01 385.73h0.65v0.65h-0.65zM613.41 385.5h0.65v0.65h-0.65zM620.2 389.65h0.65v0.65h-0.65zM613.38 378.93h0.65v0.65h-0.65zM616.61 385.57h0.65v0.65h-0.65zM612.88 384.92h0.65v0.65h-0.65zM612.51 382.85h0.65v0.65h-0.65zM631.79 383.36h0.65v0.65h-0.65zM616.65 382.21h0.65v0.65h-0.65zM615.42 387.48h0.65v0.65h-0.65zM619.65 388.75h0.65v0.65h-0.65zM614.92 381.87h0.65v0.65h-0.65zM612.81 385.45h0.65v0.65h-0.65zM610.64 391.32h0.65v0.65h-0.65zM616.32 385.79h0.65v0.65h-0.65zM612.33 382.59h0.65v0.65h-0.65zM622.03 387.03h0.65v0.65h-0.65zM618.02 382.74h0.65v0.65h-0.65zM613.48 389.48h0.65v0.65h-0.65zM609.23 380.82h0.65v0.65h-0.65zM616.38 388.86h0.65v0.65h-0.65zM624.11 395.35h0.65v0.65h-0.65zM611.25 389.66h0.65v0.65h-0.65zM615.04 384.83h0.65v0.65h-0.65zM619.72 383.88h0.65v0.65h-0.65zM627.75 386.47h0.65v0.65h-0.65zM616.79 386.39h0.65v0.65h-0.65zM621.75 388.97h0.65v0.65h-0.65zM615.6 381.6h0.65v0.65h-0.65zM613.41 385.9h0.65v0.65h-0.65zM618.63 384.49h0.65v0.65h-0.65zM624.45 388.84h0.65v0.65h-0.65zM622.22 381.31h0.65v0.65h-0.65zM627.06 385.1h0.65v0.65h-0.65zM615.66 386.86h0.65v0.65h-0.65zM615.76 384.63h0.65v0.65h-0.65zM615.29 385.63h0.65v0.65h-0.65zM617.38 384.46h0.65v0.65h-0.65zM620.85 378.15h0.65v0.65h-0.65zM620.77 388.04h0.65v0.65h-0.65zM620.08 386.48h0.65v0.65h-0.65zM621.2 387.09h0.65v0.65h-0.65zM620.11 388.54h0.65v0.65h-0.65zM618.45 381.11h0.65v0.65h-0.65zM625.36 384.63h0.65v0.65h-0.65zM620.39 383.78h0.65v0.65h-0.65zM616.06 378.79h0.65v0.65h-0.65zM626.47 385.24h0.65v0.65h-0.65zM608.07 391.6h0.65v0.65h-0.65zM608.02 384.84h0.65v0.65h-0.65zM622.74 386.93h0.65v0.65h-0.65zM613.86 377.64h0.65v0.65h-0.65zM616.2 382.24h0.65v0.65h-0.65zM610.74 386.41h0.65v0.65h-0.65zM619.78 387.53h0.65v0.65h-0.65zM620.36 385.27h0.65v0.65h-0.65zM616.79 384.16h0.65v0.65h-0.65zM617.2 386.73h0.65v0.65h-0.65zM614.5 386.46h0.65v0.65h-0.65zM627.95 385.54h0.65v0.65h-0.65zM614.93 387.08h0.65v0.65h-0.65zM618.64 386.79h0.65v0.65h-0.65zM614.57 388.66h0.65v0.65h-0.65zM622.41 387.8h0.65v0.65h-0.65zM621.77 389.2h0.65v0.65h-0.65zM617.91 389.82h0.65v0.65h-0.65zM615.97 383.21h0.65v0.65h-0.65zM621.75 381.91h0.65v0.65h-0.65zM615.02 388.37h0.65v0.65h-0.65zM603.84 389.46h0.65v0.65h-0.65zM617.27 384.32h0.65v0.65h-0.65zM620.05 381.73h0.65v0.65h-0.65zM618.05 383.51h0.65v0.65h-0.65zM611.86 393.06h0.65v0.65h-0.65zM621.24 381.83h0.65v0.65h-0.65zM613.53 385.18h0.65v0.65h-0.65zM613.24 388.24h0.65v0.65h-0.65zM612.02 386.75h0.65v0.65h-0.65zM612.44 378.48h0.65v0.65h-0.65zM614.06 379.55h0.65v0.65h-0.65zM620.89 388.42h0.65v0.65h-0.65zM615.47 386.63h0.65v0.65h-0.65zM614.7 391.95h0.65v0.65h-0.65zM621.98 385.29h0.65v0.65h-0.65zM621.89 387.57h0.65v0.65h-0.65zM619.77 388.26h0.65v0.65h-0.65zM621.83 388.18h0.65v0.65h-0.65zM616.07 388.09h0.65v0.65h-0.65zM617.77 387.82h0.65v0.65h-0.65zM617.41 378.57h0.65v0.65h-0.65zM617.46 386.94h0.65v0.65h-0.65zM613.39 384.18h0.65v0.65h-0.65zM622.34 389.33h0.65v0.65h-0.65zM613.77 383.02h0.65v0.65h-0.65zM621.81 383.22h0.65v0.65h-0.65zM612.59 382.58h0.65v0.65h-0.65zM619.64 389.02h0.65v0.65h-0.65zM613.95 379.25h0.65v0.65h-0.65zM617.58 384.3h0.65v0.65h-0.65zM622.07 390.22h0.65v0.65h-0.65zM613.3 392.17h0.65v0.65h-0.65zM611.4 384.78h0.65v0.65h-0.65zM616.28 386.04h0.65v0.65h-0.65zM611.3 387.54h0.65v0.65h-0.65zM618.45 387.65h0.65v0.65h-0.65zM611.39 383.54h0.65v0.65h-0.65zM615.13 384.05h0.65v0.65h-0.65zM618.27 381.76h0.65v0.65h-0.65zM619.64 385.08h0.65v0.65h-0.65zM625.18 387.29h0.65v0.65h-0.65zM620.19 384.14h0.65v0.65h-0.65zM611.14 387.34h0.65v0.65h-0.65zM611.88 382.06h0.65v0.65h-0.65zM630.76 384.58h0.65v0.65h-0.65zM619 385.39h0.65v0.65h-0.65zM612.89 384.71h0.65v0.65h-0.65zM619.54 389.03h0.65v0.65h-0.65zM609.15 392.77h0.65v0.65h-0.65zM627.21 384.69h0.65v0.65h-0.65zM609.96 389.41h0.65v0.65h-0.65zM615.85 385.34h0.65v0.65h-0.65zM615.21 379.43h0.65v0.65h-0.65zM619.44 389.89h0.65v0.65h-0.65zM617.47 382.87h0.65v0.65h-0.65zM611.42 390.28h0.65v0.65h-0.65zM619.67 384.45h0.65v0.65h-0.65zM612.89 385.37h0.65v0.65h-0.65zM622.06 379.85h0.65v0.65h-0.65zM616.26 389.41h0.65v0.65h-0.65zM613.76 387.33h0.65v0.65h-0.65zM617.47 383.7h0.65v0.65h-0.65zM618.41 390.53h0.65v0.65h-0.65zM611.93 385.18h0.65v0.65h-0.65zM617.42 388.41h0.65v0.65h-0.65zM607.28 385.05h0.65v0.65h-0.65zM622.37 381.3h0.65v0.65h-0.65zM610.39 383.95h0.65v0.65h-0.65zM608 380.82h0.65v0.65h-0.65zM619.13 379.04h0.65v0.65h-0.65zM617.58 380.95h0.65v0.65h-0.65zM612.41 386.81h0.65v0.65h-0.65zM624.67 381.75h0.65v0.65h-0.65zM622.13 392h0.65v0.65h-0.65zM620.43 387.7h0.65v0.65h-0.65zM617.97 385.53h0.65v0.65h-0.65zM608.87 387.22h0.65v0.65h-0.65zM617.71 387.2h0.65v0.65h-0.65zM619.18 379.53h0.65v0.65h-0.65zM625.18 383.23h0.65v0.65h-0.65zM616.63 387.81h0.65v0.65h-0.65zM614.25 390.62h0.65v0.65h-0.65zM620.62 383.24h0.65v0.65h-0.65zM625.27 385h0.65v0.65h-0.65zM613.52 390.29h0.65v0.65h-0.65zM610.38 390.44h0.65v0.65h-0.65zM613.22 381.2h0.65v0.65h-0.65zM613.02 383.79h0.65v0.65h-0.65zM610.03 380.34h0.65v0.65h-0.65zM619.2 390.47h0.65v0.65h-0.65zM614.86 381.41h0.65v0.65h-0.65zM613.76 387.66h0.65v0.65h-0.65zM614.35 392.84h0.65v0.65h-0.65zM618.7 386.7h0.65v0.65h-0.65zM613.57 379.56h0.65v0.65h-0.65zM620.69 386.33h0.65v0.65h-0.65zM625.27 379.8h0.65v0.65h-0.65zM614.53 381.88h0.65v0.65h-0.65zM608.54 386.4h0.65v0.65h-0.65zM622.61 384.6h0.65v0.65h-0.65zM613.62 379.6h0.65v0.65h-0.65zM619.29 381.99h0.65v0.65h-0.65zM628.37 387.92h0.65v0.65h-0.65zM610.67 387.49h0.65v0.65h-0.65zM615.46 384.15h0.65v0.65h-0.65zM622.13 386.25h0.65v0.65h-0.65zM622.31 383.29h0.65v0.65h-0.65zM618.98 382.62h0.65v0.65h-0.65zM609.28 383.19h0.65v0.65h-0.65zM615.71 388.57h0.65v0.65h-0.65zM619.95 384.14h0.65v0.65h-0.65zM619.77 388.26h0.65v0.65h-0.65zM614.01 390.03h0.65v0.65h-0.65zM611.5 388.11h0.65v0.65h-0.65zM619.33 390.78h0.65v0.65h-0.65zM620.22 383.88h0.65v0.65h-0.65zM605.94 385.19h0.65v0.65h-0.65zM619.27 385.95h0.65v0.65h-0.65zM615.61 388.75h0.65v0.65h-0.65zM616.4 385.55h0.65v0.65h-0.65zM616.7 386.05h0.65v0.65h-0.65zM613.98 387.26h0.65v0.65h-0.65zM611.66 387.66h0.65v0.65h-0.65zM624.48 385.54h0.65v0.65h-0.65zM615.69 384.52h0.65v0.65h-0.65zM605.7 385.94h0.65v0.65h-0.65zM626.5 383.06h0.65v0.65h-0.65zM620.13 391.19h0.65v0.65h-0.65zM609.95 383.86h0.65v0.65h-0.65zM612.81 380.29h0.65v0.65h-0.65zM614.27 385.76h0.65v0.65h-0.65zM617.72 384.15h0.65v0.65h-0.65zM614.47 391.48h0.65v0.65h-0.65zM614.84 388.76h0.65v0.65h-0.65zM625.3 383.31h0.65v0.65h-0.65zM611.58 381.53h0.65v0.65h-0.65zM614.43 389.71h0.65v0.65h-0.65zM618.61 383.69h0.65v0.65h-0.65zM612.92 388.08h0.65v0.65h-0.65zM620.58 392.65h0.65v0.65h-0.65zM617.79 384.48h0.65v0.65h-0.65zM611.85 386.57h0.65v0.65h-0.65zM625.45 386h0.65v0.65h-0.65zM614.22 386.6h0.65v0.65h-0.65zM616.04 387.11h0.65v0.65h-0.65zM606.52 379.38h0.65v0.65h-0.65zM615.48 385.63h0.65v0.65h-0.65zM621.87 380.34h0.65v0.65h-0.65zM610.44 387.06h0.65v0.65h-0.65zM618.95 391.28h0.65v0.65h-0.65zM619.89 385.16h0.65v0.65h-0.65zM613.63 387.03h0.65v0.65h-0.65zM618.52 386.4h0.65v0.65h-0.65zM616.62 385.66h0.65v0.65h-0.65zM614.28 384.32h0.65v0.65h-0.65zM606.44 384.51h0.65v0.65h-0.65zM617.73 383.09h0.65v0.65h-0.65zM623.04 387.16h0.65v0.65h-0.65zM622.14 385.55h0.65v0.65h-0.65zM621.84 388.16h0.65v0.65h-0.65zM611.59 386.12h0.65v0.65h-0.65zM616.17 382.19h0.65v0.65h-0.65zM614.43 387.74h0.65v0.65h-0.65zM619.37 386.61h0.65v0.65h-0.65zM617.27 388.85h0.65v0.65h-0.65zM626.08 386.28h0.65v0.65h-0.65zM617.56 384.76h0.65v0.65h-0.65zM614.65 378.87h0.65v0.65h-0.65zM623.27 381.65h0.65v0.65h-0.65zM622.43 383.02h0.65v0.65h-0.65zM614.41 388.25h0.65v0.65h-0.65zM613.64 381.37h0.65v0.65h-0.65zM616.54 384.08h0.65v0.65h-0.65zM612.37 390.2h0.65v0.65h-0.65zM614.56 382.26h0.65v0.65h-0.65zM614.01 385.23h0.65v0.65h-0.65zM614.55 379.72h0.65v0.65h-0.65zM616.83 388.22h0.65v0.65h-0.65zM610.37 388.31h0.65v0.65h-0.65zM627.75 386.49h0.65v0.65h-0.65zM625.31 384.63h0.65v0.65h-0.65zM613.87 382.8h0.65v0.65h-0.65zM617.45 384.82h0.65v0.65h-0.65zM622 388.39h0.65v0.65h-0.65zM616.98 387.8h0.65v0.65h-0.65zM623.84 388.28h0.65v0.65h-0.65zM620.53 381.85h0.65v0.65h-0.65zM624.23 386.71h0.65v0.65h-0.65zM616.43 382.16h0.65v0.65h-0.65zM618.99 388h0.65v0.65h-0.65zM616.62 387.29h0.65v0.65h-0.65zM624.41 383.62h0.65v0.65h-0.65zM612.9 385.48h0.65v0.65h-0.65zM621.42 388.23h0.65v0.65h-0.65zM612.52 389.86h0.65v0.65h-0.65zM620.04 388.17h0.65v0.65h-0.65zM610.9 384.44h0.65v0.65h-0.65zM615.5 388h0.65v0.65h-0.65zM619.09 380.37h0.65v0.65h-0.65zM611.64 383.9h0.65v0.65h-0.65zM617.11 394.76h0.65v0.65h-0.65zM621.7 387.3h0.65v0.65h-0.65zM618.18 385.56h0.65v0.65h-0.65zM617.83 380.96h0.65v0.65h-0.65zM611.35 389.96h0.65v0.65h-0.65zM621.21 385.82h0.65v0.65h-0.65zM625.26 384.11h0.65v0.65h-0.65zM609.38 385.11h0.65v0.65h-0.65zM621.12 383.9h0.65v0.65h-0.65zM624.27 388.74h0.65v0.65h-0.65zM607.73 384.08h0.65v0.65h-0.65zM615.11 383.09h0.65v0.65h-0.65zM623 385.96h0.65v0.65h-0.65zM612.91 386.19h0.65v0.65h-0.65zM615.42 382.17h0.65v0.65h-0.65zM617.64 384.17h0.65v0.65h-0.65zM621.38 385.72h0.65v0.65h-0.65zM621.8 391.71h0.65v0.65h-0.65zM609.41 378.6h0.65v0.65h-0.65zM614.61 391.67h0.65v0.65h-0.65zM626.13 384.38h0.65v0.65h-0.65zM617.23 383.51h0.65v0.65h-0.65zM618.64 384.4h0.65v0.65h-0.65zM615.24 387h0.65v0.65h-0.65zM625.57 391.48h0.65v0.65h-0.65zM609.87 380.45h0.65v0.65h-0.65zM613.84 387.69h0.65v0.65h-0.65zM618.02 378.39h0.65v0.65h-0.65zM621.52 380.6h0.65v0.65h-0.65zM623.64 382.21h0.65v0.65h-0.65zM619.96 385.38h0.65v0.65h-0.65zM615.24 387.45h0.65v0.65h-0.65zM626.01 383.73h0.65v0.65h-0.65zM613.71 384.66h0.65v0.65h-0.65zM618.17 385.97h0.65v0.65h-0.65zM618.35 387.73h0.65v0.65h-0.65zM619.43 383h0.65v0.65h-0.65zM610.78 385.57h0.65v0.65h-0.65zM624.11 384.49h0.65v0.65h-0.65zM616.31 389.09h0.65v0.65h-0.65zM615.37 387.4h0.65v0.65h-0.65zM617.39 380.91h0.65v0.65h-0.65zM613.1 389.22h0.65v0.65h-0.65zM621.47 388.46h0.65v0.65h-0.65zM621.18 378.19h0.65v0.65h-0.65zM613.64 384.75h0.65v0.65h-0.65zM614.99 387.92h0.65v0.65h-0.65zM618.88 388.05h0.65v0.65h-0.65zM617.57 380.95h0.65v0.65h-0.65zM618.14 387.5h0.65v0.65h-0.65zM620.06 389.56h0.65v0.65h-0.65zM619.45 386.95h0.65v0.65h-0.65zM610.72 389.16h0.65v0.65h-0.65zM620.68 383.08h0.65v0.65h-0.65zM618.07 383.17h0.65v0.65h-0.65zM617.14 388.6h0.65v0.65h-0.65zM611.32 382.24h0.65v0.65h-0.65zM616.7 382.86h0.65v0.65h-0.65zM619.32 386.65h0.65v0.65h-0.65zM620.66 388.94h0.65v0.65h-0.65zM625.03 382.56h0.65v0.65h-0.65zM617.7 381.01h0.65v0.65h-0.65zM616.65 393.02h0.65v0.65h-0.65zM614.52 384.21h0.65v0.65h-0.65zM620.67 391.66h0.65v0.65h-0.65zM619.87 388.34h0.65v0.65h-0.65zM612.92 386.35h0.65v0.65h-0.65zM626.63 383.72h0.65v0.65h-0.65zM626.01 391.55h0.65v0.65h-0.65zM614.62 384.64h0.65v0.65h-0.65zM619.77 382.72h0.65v0.65h-0.65zM613.64 385.98h0.65v0.65h-0.65zM613.28 385.11h0.65v0.65h-0.65zM619.23 385.01h0.65v0.65h-0.65zM613.57 387.86h0.65v0.65h-0.65zM619.49 381.76h0.65v0.65h-0.65zM616.12 383.03h0.65v0.65h-0.65zM617.06 380.92h0.65v0.65h-0.65zM624.03 380.31h0.65v0.65h-0.65zM612.37 388.23h0.65v0.65h-0.65zM613.87 377.95h0.65v0.65h-0.65zM620.1 388.71h0.65v0.65h-0.65zM618.18 383.57h0.65v0.65h-0.65zM623.23 385.03h0.65v0.65h-0.65zM616.32 384.59h0.65v0.65h-0.65zM611.84 386.52h0.65v0.65h-0.65zM619.69 396.23h0.65v0.65h-0.65zM612.78 383.98h0.65v0.65h-0.65zM621.47 378.44h0.65v0.65h-0.65zM616.79 386.11h0.65v0.65h-0.65zM615.82 387.73h0.65v0.65h-0.65zM599.4 392.36h0.65v0.65h-0.65zM621.17 386.93h0.65v0.65h-0.65zM620.85 386.67h0.65v0.65h-0.65zM620.03 381.58h0.65v0.65h-0.65zM619.55 383.23h0.65v0.65h-0.65zM615.65 383.83h0.65v0.65h-0.65zM614.89 385.18h0.65v0.65h-0.65zM615.64 381.53h0.65v0.65h-0.65zM610.95 383.37h0.65v0.65h-0.65zM615.06 385.19h0.65v0.65h-0.65zM608.36 388.11h0.65v0.65h-0.65zM613.58 381.53h0.65v0.65h-0.65zM622.22 382.27h0.65v0.65h-0.65zM616.96 390.34h0.65v0.65h-0.65zM618.56 383.16h0.65v0.65h-0.65zM617.2 387.64h0.65v0.65h-0.65zM620.7 384.63h0.65v0.65h-0.65zM617.18 384.08h0.65v0.65h-0.65zM624.24 386.52h0.65v0.65h-0.65zM618.73 388.9h0.65v0.65h-0.65zM614.51 383.3h0.65v0.65h-0.65zM615.39 384.29h0.65v0.65h-0.65zM618.18 386.03h0.65v0.65h-0.65zM613.5 380.62h0.65v0.65h-0.65zM612.56 385.79h0.65v0.65h-0.65zM620.88 384.72h0.65v0.65h-0.65zM623.28 377.73h0.65v0.65h-0.65zM618.75 378.14h0.65v0.65h-0.65zM611.17 387.6h0.65v0.65h-0.65zM619.17 384.33h0.65v0.65h-0.65zM610.22 383.72h0.65v0.65h-0.65zM618.49 381h0.65v0.65h-0.65zM625.29 383.92h0.65v0.65h-0.65zM627.26 385.1h0.65v0.65h-0.65zM604.1 383.14h0.65v0.65h-0.65zM615.24 384.28h0.65v0.65h-0.65zM612.55 382h0.65v0.65h-0.65zM616.11 391.16h0.65v0.65h-0.65zM613.6 377.65h0.65v0.65h-0.65zM611.54 386.18h0.65v0.65h-0.65zM610.58 382.05h0.65v0.65h-0.65zM616.6 384h0.65v0.65h-0.65zM617.36 383.4h0.65v0.65h-0.65zM616.37 386.86h0.65v0.65h-0.65zM616.99 384.57h0.65v0.65h-0.65zM620.81 384.19h0.65v0.65h-0.65zM619.26 389.92h0.65v0.65h-0.65zM624.04 383.83h0.65v0.65h-0.65zM637.77 388.71h0.65v0.65h-0.65zM639.85 384h0.65v0.65h-0.65zM641.72 392.35h0.65v0.65h-0.65zM650.51 390.12h0.65v0.65h-0.65zM644.98 378.4h0.65v0.65h-0.65zM634.97 389.93h0.65v0.65h-0.65zM634.16 388.76h0.65v0.65h-0.65zM637.41 389.12h0.65v0.65h-0.65zM644.69 383.45h0.65v0.65h-0.65zM651.01 385.17h0.65v0.65h-0.65zM643.8 390.03h0.65v0.65h-0.65zM648.04 392.3h0.65v0.65h-0.65zM641.39 387.74h0.65v0.65h-0.65zM632.58 390.71h0.65v0.65h-0.65zM642.44 386.76h0.65v0.65h-0.65zM635.89 389.23h0.65v0.65h-0.65zM641.65 383.74h0.65v0.65h-0.65zM642.69 391.12h0.65v0.65h-0.65zM639.21 386.46h0.65v0.65h-0.65zM640.55 386.9h0.65v0.65h-0.65zM632.49 385.69h0.65v0.65h-0.65zM645.52 389.71h0.65v0.65h-0.65zM640.55 385.51h0.65v0.65h-0.65zM638.81 389.86h0.65v0.65h-0.65zM645.26 380.83h0.65v0.65h-0.65zM650.12 386.82h0.65v0.65h-0.65zM635.79 384.81h0.65v0.65h-0.65zM639.99 390.38h0.65v0.65h-0.65zM651.25 385.68h0.65v0.65h-0.65zM647.25 383.9h0.65v0.65h-0.65zM632 388.7h0.65v0.65h-0.65zM627.94 390.67h0.65v0.65h-0.65zM633.89 391.94h0.65v0.65h-0.65zM645.43 385.71h0.65v0.65h-0.65zM640.82 389.12h0.65v0.65h-0.65zM625.39 385.58h0.65v0.65h-0.65zM637.15 382.91h0.65v0.65h-0.65zM642.87 390.16h0.65v0.65h-0.65zM656.88 386.8h0.65v0.65h-0.65zM653.55 387.81h0.65v0.65h-0.65zM650.15 389.31h0.65v0.65h-0.65zM647.21 381.98h0.65v0.65h-0.65zM646.73 385.24h0.65v0.65h-0.65zM662.51 382.58h0.65v0.65h-0.65zM649.16 386.05h0.65v0.65h-0.65zM623.72 386.55h0.65v0.65h-0.65zM636.54 381.71h0.65v0.65h-0.65zM648.22 387.24h0.65v0.65h-0.65zM644.3 389.42h0.65v0.65h-0.65zM639.96 384.31h0.65v0.65h-0.65zM640.15 386.59h0.65v0.65h-0.65zM638.13 396.37h0.65v0.65h-0.65zM650.35 384.35h0.65v0.65h-0.65zM639.38 391.02h0.65v0.65h-0.65zM639.67 384.18h0.65v0.65h-0.65zM652.33 384.17h0.65v0.65h-0.65zM643.79 390.85h0.65v0.65h-0.65zM634.16 390.72h0.65v0.65h-0.65zM645.61 386.48h0.65v0.65h-0.65zM647.07 388.15h0.65v0.65h-0.65zM631.73 383.23h0.65v0.65h-0.65zM652.35 384.87h0.65v0.65h-0.65zM635.37 390.13h0.65v0.65h-0.65zM641.59 387.13h0.65v0.65h-0.65zM646.36 390.44h0.65v0.65h-0.65zM634.88 382.3h0.65v0.65h-0.65zM642.93 385.18h0.65v0.65h-0.65zM643.61 388.78h0.65v0.65h-0.65zM630.95 388.47h0.65v0.65h-0.65zM640.16 381.85h0.65v0.65h-0.65zM649.31 388.41h0.65v0.65h-0.65zM640.9 384.43h0.65v0.65h-0.65zM636.17 387.96h0.65v0.65h-0.65zM641.61 390.62h0.65v0.65h-0.65zM628.08 384.77h0.65v0.65h-0.65zM647.31 382.49h0.65v0.65h-0.65zM651.4 383.77h0.65v0.65h-0.65zM639.09 381.48h0.65v0.65h-0.65zM650.81 384.48h0.65v0.65h-0.65zM634.02 391.17h0.65v0.65h-0.65zM636.52 386.64h0.65v0.65h-0.65zM648.89 381.53h0.65v0.65h-0.65zM651 388.33h0.65v0.65h-0.65zM637.06 384.55h0.65v0.65h-0.65zM645.37 386.41h0.65v0.65h-0.65zM630.51 388.91h0.65v0.65h-0.65zM635.74 387.71h0.65v0.65h-0.65zM650.75 382.47h0.65v0.65h-0.65zM638.27 380.11h0.65v0.65h-0.65zM647.09 391.94h0.65v0.65h-0.65zM647.23 387.03h0.65v0.65h-0.65zM643.29 379.04h0.65v0.65h-0.65zM647.12 385.38h0.65v0.65h-0.65zM639.65 386.47h0.65v0.65h-0.65zM651.78 389.26h0.65v0.65h-0.65zM644.52 386.58h0.65v0.65h-0.65zM642.56 383.04h0.65v0.65h-0.65zM636.89 387.68h0.65v0.65h-0.65zM641.69 391.2h0.65v0.65h-0.65zM654.08 383.3h0.65v0.65h-0.65zM648.83 388.07h0.65v0.65h-0.65zM637.01 391.61h0.65v0.65h-0.65zM662.55 380.97h0.65v0.65h-0.65zM647.81 387.37h0.65v0.65h-0.65zM654.44 383.94h0.65v0.65h-0.65zM646.41 383.71h0.65v0.65h-0.65zM653.06 387.72h0.65v0.65h-0.65zM647.92 386.62h0.65v0.65h-0.65zM643.27 389.05h0.65v0.65h-0.65zM638.24 392.28h0.65v0.65h-0.65zM635.62 392.3h0.65v0.65h-0.65zM636.82 388.02h0.65v0.65h-0.65zM634.4 388.51h0.65v0.65h-0.65zM647.25 385.02h0.65v0.65h-0.65zM642.95 393.19h0.65v0.65h-0.65zM659.64 386.29h0.65v0.65h-0.65zM649.19 389.58h0.65v0.65h-0.65zM648.94 387.5h0.65v0.65h-0.65zM644.08 389.48h0.65v0.65h-0.65zM647.22 388.02h0.65v0.65h-0.65zM653.51 386.13h0.65v0.65h-0.65zM641.1 383.66h0.65v0.65h-0.65zM636.54 393.36h0.65v0.65h-0.65zM650.06 384.33h0.65v0.65h-0.65zM649.79 389.14h0.65v0.65h-0.65zM637.5 380.6h0.65v0.65h-0.65zM654.8 392.66h0.65v0.65h-0.65zM634 387.47h0.65v0.65h-0.65zM634.13 384.66h0.65v0.65h-0.65zM630.95 389.35h0.65v0.65h-0.65zM639.77 388.82h0.65v0.65h-0.65zM643.01 389.94h0.65v0.65h-0.65zM632.12 396.34h0.65v0.65h-0.65zM636.98 387.17h0.65v0.65h-0.65zM634.49 388.84h0.65v0.65h-0.65zM639.12 389.49h0.65v0.65h-0.65zM638.12 381.08h0.65v0.65h-0.65zM639.55 380.16h0.65v0.65h-0.65zM639.01 388.32h0.65v0.65h-0.65zM640.03 385.58h0.65v0.65h-0.65zM638.77 378.74h0.65v0.65h-0.65zM642.63 384.63h0.65v0.65h-0.65zM641.41 382.89h0.65v0.65h-0.65zM657.67 391.71h0.65v0.65h-0.65zM640.63 387.38h0.65v0.65h-0.65zM634.01 388.86h0.65v0.65h-0.65zM645.9 385.99h0.65v0.65h-0.65zM644.56 384.52h0.65v0.65h-0.65zM645.33 387.89h0.65v0.65h-0.65zM638.57 380.26h0.65v0.65h-0.65zM643.41 383.8h0.65v0.65h-0.65zM637.97 382.88h0.65v0.65h-0.65zM637.26 389.56h0.65v0.65h-0.65zM647.04 385.03h0.65v0.65h-0.65zM643.22 388.61h0.65v0.65h-0.65zM641.65 385.88h0.65v0.65h-0.65zM632.66 384.98h0.65v0.65h-0.65zM640.81 386.9h0.65v0.65h-0.65zM635.45 391.13h0.65v0.65h-0.65zM637.21 380.77h0.65v0.65h-0.65zM629.09 393.44h0.65v0.65h-0.65zM652.25 386.55h0.65v0.65h-0.65zM641.71 388.22h0.65v0.65h-0.65zM633.08 385.95h0.65v0.65h-0.65zM647.85 394.04h0.65v0.65h-0.65zM638.32 384.89h0.65v0.65h-0.65zM637.87 391.26h0.65v0.65h-0.65zM643.32 385.49h0.65v0.65h-0.65zM642.57 390.77h0.65v0.65h-0.65zM649.85 383.3h0.65v0.65h-0.65zM635.22 388.85h0.65v0.65h-0.65zM639.03 388.41h0.65v0.65h-0.65zM644.15 388.46h0.65v0.65h-0.65zM647.95 386.11h0.65v0.65h-0.65zM633.92 384.81h0.65v0.65h-0.65zM645.49 388.71h0.65v0.65h-0.65zM650.35 389.07h0.65v0.65h-0.65zM649.46 391.58h0.65v0.65h-0.65zM644.31 386.17h0.65v0.65h-0.65zM651.48 382.17h0.65v0.65h-0.65zM648.11 390.94h0.65v0.65h-0.65zM639.24 389h0.65v0.65h-0.65zM633.15 394.74h0.65v0.65h-0.65zM636.92 389.14h0.65v0.65h-0.65zM652.43 392.72h0.65v0.65h-0.65zM640.71 389.38h0.65v0.65h-0.65zM642.03 394.27h0.65v0.65h-0.65zM647.4 389.52h0.65v0.65h-0.65zM638.79 384.26h0.65v0.65h-0.65zM633.54 378.37h0.65v0.65h-0.65zM651.37 393.09h0.65v0.65h-0.65zM628.6 385.11h0.65v0.65h-0.65zM644.44 388.05h0.65v0.65h-0.65zM647.02 384.96h0.65v0.65h-0.65zM646.51 384.77h0.65v0.65h-0.65zM652.03 380.71h0.65v0.65h-0.65zM649.53 394.14h0.65v0.65h-0.65zM631.03 384.44h0.65v0.65h-0.65zM644.72 391.73h0.65v0.65h-0.65zM638.53 386.85h0.65v0.65h-0.65zM632.02 397.79h0.65v0.65h-0.65zM641.67 396.32h0.65v0.65h-0.65zM637.69 388.33h0.65v0.65h-0.65zM637.54 381.55h0.65v0.65h-0.65zM637.86 388.27h0.65v0.65h-0.65zM641.13 384.54h0.65v0.65h-0.65zM640.8 395.7h0.65v0.65h-0.65zM639.48 391h0.65v0.65h-0.65zM647.84 385.67h0.65v0.65h-0.65zM652.29 388.47h0.65v0.65h-0.65zM636.35 380.79h0.65v0.65h-0.65zM652.07 385.95h0.65v0.65h-0.65zM638.78 380.52h0.65v0.65h-0.65zM659.78 388.61h0.65v0.65h-0.65zM646.3 388.66h0.65v0.65h-0.65zM650.99 392.41h0.65v0.65h-0.65zM651.45 384.71h0.65v0.65h-0.65zM645.64 387.21h0.65v0.65h-0.65zM646.28 388.81h0.65v0.65h-0.65zM648.58 395.6h0.65v0.65h-0.65zM639.16 386.47h0.65v0.65h-0.65zM649.47 386.36h0.65v0.65h-0.65zM644.91 387.11h0.65v0.65h-0.65zM636.85 390.88h0.65v0.65h-0.65zM644.44 381.49h0.65v0.65h-0.65zM653.5 384.93h0.65v0.65h-0.65zM649.58 384.03h0.65v0.65h-0.65zM640.36 388.61h0.65v0.65h-0.65zM643.01 384.57h0.65v0.65h-0.65zM637.61 389.12h0.65v0.65h-0.65zM638.69 391.42h0.65v0.65h-0.65zM640.49 387.73h0.65v0.65h-0.65zM641.22 387.8h0.65v0.65h-0.65zM639.92 385.95h0.65v0.65h-0.65zM642.37 390.88h0.65v0.65h-0.65zM647.08 387.49h0.65v0.65h-0.65zM638.01 388.66h0.65v0.65h-0.65zM635.63 384.98h0.65v0.65h-0.65zM640.17 384.56h0.65v0.65h-0.65zM640.31 385.85h0.65v0.65h-0.65zM646.9 385.44h0.65v0.65h-0.65zM654.75 394.24h0.65v0.65h-0.65zM640.2 386.57h0.65v0.65h-0.65zM645 388.49h0.65v0.65h-0.65zM638.11 385.39h0.65v0.65h-0.65zM628.46 383.19h0.65v0.65h-0.65zM645.91 383.53h0.65v0.65h-0.65zM634.22 382.97h0.65v0.65h-0.65zM652.19 382.67h0.65v0.65h-0.65zM658.89 386.46h0.65v0.65h-0.65zM639.03 382.91h0.65v0.65h-0.65zM649.72 380.02h0.65v0.65h-0.65zM634.75 391.11h0.65v0.65h-0.65zM650.25 383.25h0.65v0.65h-0.65zM640.69 388.07h0.65v0.65h-0.65zM640.88 383.51h0.65v0.65h-0.65zM643.66 388.24h0.65v0.65h-0.65zM649.72 380.25h0.65v0.65h-0.65zM644.55 389.51h0.65v0.65h-0.65zM637.59 390.62h0.65v0.65h-0.65zM646.53 387.56h0.65v0.65h-0.65zM650.91 387.48h0.65v0.65h-0.65zM638.99 383.57h0.65v0.65h-0.65zM643.98 385.45h0.65v0.65h-0.65zM640.51 383.6h0.65v0.65h-0.65zM638 381.39h0.65v0.65h-0.65zM654.22 386.34h0.65v0.65h-0.65zM641.47 388.36h0.65v0.65h-0.65zM645.9 378.87h0.65v0.65h-0.65zM636.48 385.74h0.65v0.65h-0.65zM637.58 385.1h0.65v0.65h-0.65zM652.61 382.69h0.65v0.65h-0.65zM643.38 387.61h0.65v0.65h-0.65zM645.89 390.94h0.65v0.65h-0.65zM635.01 381.4h0.65v0.65h-0.65zM637.31 383.26h0.65v0.65h-0.65zM638 392.75h0.65v0.65h-0.65zM643.42 385.08h0.65v0.65h-0.65zM650.15 385.61h0.65v0.65h-0.65zM642.88 389.26h0.65v0.65h-0.65zM639.26 381.39h0.65v0.65h-0.65zM646.85 385.24h0.65v0.65h-0.65zM631.21 388.04h0.65v0.65h-0.65zM639.94 392.01h0.65v0.65h-0.65zM647.22 386.26h0.65v0.65h-0.65zM640.42 377.73h0.65v0.65h-0.65zM632.78 384.07h0.65v0.65h-0.65zM641.85 394h0.65v0.65h-0.65zM642.65 387.06h0.65v0.65h-0.65zM653.37 383.87h0.65v0.65h-0.65zM647.14 386.33h0.65v0.65h-0.65zM626.39 384.88h0.65v0.65h-0.65zM633.95 389.21h0.65v0.65h-0.65zM641.01 377.75h0.65v0.65h-0.65zM646.12 386.25h0.65v0.65h-0.65zM641.49 392.25h0.65v0.65h-0.65zM640.8 380.55h0.65v0.65h-0.65zM651.78 382.33h0.65v0.65h-0.65zM641.23 382.86h0.65v0.65h-0.65zM636.95 390.94h0.65v0.65h-0.65zM634.21 389.86h0.65v0.65h-0.65zM648.27 390.11h0.65v0.65h-0.65zM640.46 392.96h0.65v0.65h-0.65zM642.87 385.66h0.65v0.65h-0.65zM635.5 380.81h0.65v0.65h-0.65zM650.73 386.49h0.65v0.65h-0.65zM641.21 383.52h0.65v0.65h-0.65zM646.13 388.68h0.65v0.65h-0.65zM653.85 382.89h0.65v0.65h-0.65zM644.44 391.06h0.65v0.65h-0.65zM641.75 389.05h0.65v0.65h-0.65zM636.81 382.97h0.65v0.65h-0.65zM643.7 386.07h0.65v0.65h-0.65zM652.51 387h0.65v0.65h-0.65zM638.62 383.8h0.65v0.65h-0.65zM642.77 378.48h0.65v0.65h-0.65zM645.21 386.33h0.65v0.65h-0.65zM646.19 387.84h0.65v0.65h-0.65zM644.83 391.61h0.65v0.65h-0.65zM659.6 385.29h0.65v0.65h-0.65zM645.48 385.98h0.65v0.65h-0.65zM650.4 389.04h0.65v0.65h-0.65zM653.46 381.22h0.65v0.65h-0.65zM651.28 382.03h0.65v0.65h-0.65zM626.08 386.82h0.65v0.65h-0.65zM636.14 382.7h0.65v0.65h-0.65zM637.11 384.04h0.65v0.65h-0.65zM658.95 392.35h0.65v0.65h-0.65zM639.54 384.14h0.65v0.65h-0.65zM640.62 386.65h0.65v0.65h-0.65zM627.68 391.39h0.65v0.65h-0.65zM647.72 389.64h0.65v0.65h-0.65zM646.88 392.51h0.65v0.65h-0.65zM650.25 389.2h0.65v0.65h-0.65zM640.43 383.32h0.65v0.65h-0.65zM641.65 378.26h0.65v0.65h-0.65zM651.29 389.97h0.65v0.65h-0.65zM640.44 379.16h0.65v0.65h-0.65zM649.29 379.13h0.65v0.65h-0.65zM645.58 393.54h0.65v0.65h-0.65zM637.94 388.49h0.65v0.65h-0.65zM640.29 383.91h0.65v0.65h-0.65zM645.73 381.17h0.65v0.65h-0.65zM643.6 385.76h0.65v0.65h-0.65zM654.11 384.5h0.65v0.65h-0.65zM650.49 387.31h0.65v0.65h-0.65zM639.99 388.64h0.65v0.65h-0.65zM654.39 395.52h0.65v0.65h-0.65zM642.52 386.38h0.65v0.65h-0.65zM654.52 386.75h0.65v0.65h-0.65zM646.63 382.57h0.65v0.65h-0.65zM642.93 383.48h0.65v0.65h-0.65zM632.25 392.6h0.65v0.65h-0.65zM645.03 377.98h0.65v0.65h-0.65zM635.74 386.74h0.65v0.65h-0.65zM648.52 387.55h0.65v0.65h-0.65zM643.84 382.47h0.65v0.65h-0.65zM635.86 386.12h0.65v0.65h-0.65zM636.01 396.51h0.65v0.65h-0.65zM645.27 386h0.65v0.65h-0.65zM652.78 385.71h0.65v0.65h-0.65zM636.43 384.59h0.65v0.65h-0.65zM636.99 388.92h0.65v0.65h-0.65zM635.63 387.41h0.65v0.65h-0.65zM640.91 379.32h0.65v0.65h-0.65zM648.23 384.87h0.65v0.65h-0.65zM650.65 390.89h0.65v0.65h-0.65zM640.64 384.34h0.65v0.65h-0.65zM629.63 385.11h0.65v0.65h-0.65zM643.18 387.11h0.65v0.65h-0.65zM642.26 381.45h0.65v0.65h-0.65zM651.9 385.43h0.65v0.65h-0.65zM647.65 395.83h0.65v0.65h-0.65zM662.67 384.68h0.65v0.65h-0.65zM631.72 382.91h0.65v0.65h-0.65zM645.62 388.87h0.65v0.65h-0.65zM638.51 386.17h0.65v0.65h-0.65zM645.45 382.27h0.65v0.65h-0.65zM627.31 388.23h0.65v0.65h-0.65zM636.46 388.1h0.65v0.65h-0.65zM638.82 383.29h0.65v0.65h-0.65zM644.16 384.66h0.65v0.65h-0.65zM639.21 385.6h0.65v0.65h-0.65zM642.79 385.95h0.65v0.65h-0.65zM637.03 390.83h0.65v0.65h-0.65zM638.6 386.22h0.65v0.65h-0.65zM657.47 379.98h0.65v0.65h-0.65zM651.79 387.46h0.65v0.65h-0.65zM633.2 393.86h0.65v0.65h-0.65zM632.2 393.73h0.65v0.65h-0.65zM641.79 384.3h0.65v0.65h-0.65zM647.03 385.92h0.65v0.65h-0.65zM633.52 380.2h0.65v0.65h-0.65zM645.87 386.43h0.65v0.65h-0.65zM636.74 389.9h0.65v0.65h-0.65zM648.52 397.54h0.65v0.65h-0.65zM643.98 386.42h0.65v0.65h-0.65zM636.11 389.18h0.65v0.65h-0.65zM642.44 384.21h0.65v0.65h-0.65zM648.28 383.02h0.65v0.65h-0.65zM631.09 388.75h0.65v0.65h-0.65zM643.85 391.28h0.65v0.65h-0.65zM652.07 393.05h0.65v0.65h-0.65zM644.98 388.69h0.65v0.65h-0.65zM642.47 382.6h0.65v0.65h-0.65zM647.32 386.27h0.65v0.65h-0.65zM639.28 382.84h0.65v0.65h-0.65zM648.2 390h0.65v0.65h-0.65zM661.81 389.8h0.65v0.65h-0.65zM639.4 385.49h0.65v0.65h-0.65zM633.11 388.47h0.65v0.65h-0.65zM642.58 384.35h0.65v0.65h-0.65zM626.17 388.56h0.65v0.65h-0.65zM645.85 383.11h0.65v0.65h-0.65zM646.91 388.55h0.65v0.65h-0.65zM643.08 384.66h0.65v0.65h-0.65zM643.21 386.94h0.65v0.65h-0.65zM630.55 392.72h0.65v0.65h-0.65zM638.34 385.3h0.65v0.65h-0.65zM662.53 388.05h0.65v0.65h-0.65zM635.67 389.04h0.65v0.65h-0.65zM643.27 392.08h0.65v0.65h-0.65zM650.93 384.48h0.65v0.65h-0.65zM632.02 393.06h0.65v0.65h-0.65zM650.31 388.34h0.65v0.65h-0.65zM648.72 384.02h0.65v0.65h-0.65zM635.71 393.33h0.65v0.65h-0.65zM636.34 381.38h0.65v0.65h-0.65zM637.93 387.61h0.65v0.65h-0.65zM629.51 382.46h0.65v0.65h-0.65zM637.68 389.19h0.65v0.65h-0.65zM646.99 384.56h0.65v0.65h-0.65zM646.74 390.19h0.65v0.65h-0.65zM650.18 384h0.65v0.65h-0.65zM641.36 389.72h0.65v0.65h-0.65zM627.6 388.66h0.65v0.65h-0.65zM647.87 391.35h0.65v0.65h-0.65zM657.08 385.41h0.65v0.65h-0.65zM621.66 383.18h0.65v0.65h-0.65zM641.64 387.87h0.65v0.65h-0.65zM639.73 389.69h0.65v0.65h-0.65zM647.36 385.16h0.65v0.65h-0.65zM647.79 388.88h0.65v0.65h-0.65zM627.87 388.91h0.65v0.65h-0.65zM641.66 389.96h0.65v0.65h-0.65zM643.06 389.19h0.65v0.65h-0.65zM653.12 387.25h0.65v0.65h-0.65zM641.38 390.07h0.65v0.65h-0.65zM641.34 384.34h0.65v0.65h-0.65zM644.68 387.82h0.65v0.65h-0.65zM651.1 383.27h0.65v0.65h-0.65zM641.76 386.82h0.65v0.65h-0.65zM640.05 385.84h0.65v0.65h-0.65zM638.31 389.01h0.65v0.65h-0.65zM650.4 393.9h0.65v0.65h-0.65zM647 390.16h0.65v0.65h-0.65zM647.07 388.62h0.65v0.65h-0.65zM650.24 384.75h0.65v0.65h-0.65zM646.32 388.13h0.65v0.65h-0.65zM650.73 388.53h0.65v0.65h-0.65zM641.46 383.73h0.65v0.65h-0.65zM647.37 387.88h0.65v0.65h-0.65zM655.59 385.83h0.65v0.65h-0.65zM639.69 386.38h0.65v0.65h-0.65zM643 386.73h0.65v0.65h-0.65zM641.7 387.74h0.65v0.65h-0.65zM634.66 382.29h0.65v0.65h-0.65zM642.53 390.22h0.65v0.65h-0.65zM644.38 389.82h0.65v0.65h-0.65zM646.09 385.85h0.65v0.65h-0.65zM655.64 392.3h0.65v0.65h-0.65zM647.36 379.38h0.65v0.65h-0.65zM650.7 388.26h0.65v0.65h-0.65zM648.75 390.53h0.65v0.65h-0.65zM650.91 385.11h0.65v0.65h-0.65zM650.11 385.61h0.65v0.65h-0.65zM638.54 385.12h0.65v0.65h-0.65zM643.08 386.55h0.65v0.65h-0.65zM648.67 387.15h0.65v0.65h-0.65zM652.17 384.2h0.65v0.65h-0.65zM640.28 385.29h0.65v0.65h-0.65zM647.66 392.54h0.65v0.65h-0.65zM643.71 385.65h0.65v0.65h-0.65zM652.25 385.18h0.65v0.65h-0.65zM639.88 397.75h0.65v0.65h-0.65zM635.02 382.23h0.65v0.65h-0.65zM638.55 384.32h0.65v0.65h-0.65zM651.17 381.56h0.65v0.65h-0.65zM648.1 389.63h0.65v0.65h-0.65zM633.67 382.31h0.65v0.65h-0.65zM654.84 380.23h0.65v0.65h-0.65zM641.93 388.17h0.65v0.65h-0.65zM640.86 388.26h0.65v0.65h-0.65zM647.8 385.03h0.65v0.65h-0.65zM637.86 388.93h0.65v0.65h-0.65zM642.47 390.53h0.65v0.65h-0.65zM644.44 387.27h0.65v0.65h-0.65zM659.85 384.44h0.65v0.65h-0.65zM643.82 390.21h0.65v0.65h-0.65zM637.59 385.74h0.65v0.65h-0.65zM640.99 385.28h0.65v0.65h-0.65zM655.81 383.25h0.65v0.65h-0.65zM640.78 389.2h0.65v0.65h-0.65zM659.65 382.5h0.65v0.65h-0.65zM645.26 387.97h0.65v0.65h-0.65zM636.36 390.2h0.65v0.65h-0.65zM642.62 380.87h0.65v0.65h-0.65zM636.91 380.19h0.65v0.65h-0.65zM644.36 385.46h0.65v0.65h-0.65zM641.59 386.55h0.65v0.65h-0.65zM631.46 389.1h0.65v0.65h-0.65zM646.29 386.64h0.65v0.65h-0.65zM642.21 387.65h0.65v0.65h-0.65zM638.85 388.66h0.65v0.65h-0.65zM643.37 387.25h0.65v0.65h-0.65zM640.83 389.24h0.65v0.65h-0.65zM639.24 386.9h0.65v0.65h-0.65zM655.23 385.23h0.65v0.65h-0.65zM637.36 390.77h0.65v0.65h-0.65zM651.67 393.07h0.65v0.65h-0.65zM650.64 379.97h0.65v0.65h-0.65zM646.86 389.75h0.65v0.65h-0.65zM642.27 391.18h0.65v0.65h-0.65zM631.45 392.64h0.65v0.65h-0.65zM632.44 390.49h0.65v0.65h-0.65zM645.25 382.05h0.65v0.65h-0.65zM651.42 388.59h0.65v0.65h-0.65zM662.21 387.82h0.65v0.65h-0.65zM644.91 386.51h0.65v0.65h-0.65zM642.31 392.42h0.65v0.65h-0.65zM643.22 386.26h0.65v0.65h-0.65zM635.6 389.67h0.65v0.65h-0.65zM637.06 397.36h0.65v0.65h-0.65zM639.01 389.25h0.65v0.65h-0.65zM653.93 380.01h0.65v0.65h-0.65zM645.62 384.07h0.65v0.65h-0.65zM647.51 383.82h0.65v0.65h-0.65zM644.08 390.32h0.65v0.65h-0.65zM647.07 380.82h0.65v0.65h-0.65zM644.49 381.83h0.65v0.65h-0.65zM630.33 388.15h0.65v0.65h-0.65zM647.83 388.21h0.65v0.65h-0.65zM641.6 378.57h0.65v0.65h-0.65zM637.38 382.1h0.65v0.65h-0.65zM647.21 390.92h0.65v0.65h-0.65zM646.89 385.27h0.65v0.65h-0.65zM637.31 377.95h0.65v0.65h-0.65zM637.82 384.68h0.65v0.65h-0.65zM643 386.22h0.65v0.65h-0.65zM650.68 382.63h0.65v0.65h-0.65zM651.28 387.27h0.65v0.65h-0.65zM642.56 391.93h0.65v0.65h-0.65zM646.09 387.53h0.65v0.65h-0.65zM645.98 385.18h0.65v0.65h-0.65zM639.97 388.48h0.65v0.65h-0.65zM637.86 382.88h0.65v0.65h-0.65zM633.27 381.44h0.65v0.65h-0.65zM646.22 391.47h0.65v0.65h-0.65zM646.06 383.24h0.65v0.65h-0.65zM639.46 388.63h0.65v0.65h-0.65zM638.13 391.11h0.65v0.65h-0.65zM656.87 381.9h0.65v0.65h-0.65zM645.4 394.37h0.65v0.65h-0.65zM641.89 383.03h0.65v0.65h-0.65zM639.1 384.42h0.65v0.65h-0.65zM652.55 379.12h0.65v0.65h-0.65zM639.89 381.56h0.65v0.65h-0.65zM638.61 384.94h0.65v0.65h-0.65zM645.1 391.02h0.65v0.65h-0.65zM647 392.42h0.65v0.65h-0.65zM638.32 383.99h0.65v0.65h-0.65zM642 383.8h0.65v0.65h-0.65zM643.61 384.79h0.65v0.65h-0.65zM649.29 389.71h0.65v0.65h-0.65zM651.26 394.72h0.65v0.65h-0.65zM627.82 395.98h0.65v0.65h-0.65zM653.23 387.19h0.65v0.65h-0.65zM652.61 387.47h0.65v0.65h-0.65zM638.23 380.71h0.65v0.65h-0.65zM643.58 382.02h0.65v0.65h-0.65zM636.28 385.8h0.65v0.65h-0.65zM648.81 386.81h0.65v0.65h-0.65zM643.62 386.96h0.65v0.65h-0.65zM639.74 389.09h0.65v0.65h-0.65zM646.34 381.19h0.65v0.65h-0.65zM637.99 385.15h0.65v0.65h-0.65zM645.72 386.35h0.65v0.65h-0.65zM643.04 393.57h0.65v0.65h-0.65zM637.38 395.6h0.65v0.65h-0.65zM655.2 388.64h0.65v0.65h-0.65zM641.47 383.81h0.65v0.65h-0.65zM637.3 386.13h0.65v0.65h-0.65zM653.57 385.48h0.65v0.65h-0.65zM630.58 387h0.65v0.65h-0.65zM653.42 384.74h0.65v0.65h-0.65zM642.37 384.31h0.65v0.65h-0.65zM637.07 387.13h0.65v0.65h-0.65zM636.47 391.97h0.65v0.65h-0.65zM645.79 379.95h0.65v0.65h-0.65zM640.86 380.15h0.65v0.65h-0.65zM644.48 387.79h0.65v0.65h-0.65zM651.29 386.03h0.65v0.65h-0.65zM626.65 392.6h0.65v0.65h-0.65zM640.17 384.56h0.65v0.65h-0.65zM643 385.12h0.65v0.65h-0.65zM636.76 386.61h0.65v0.65h-0.65zM630.83 385.87h0.65v0.65h-0.65zM641.14 386.16h0.65v0.65h-0.65zM635.86 391.52h0.65v0.65h-0.65zM643.23 386.76h0.65v0.65h-0.65zM635.97 385.64h0.65v0.65h-0.65zM630.54 382.43h0.65v0.65h-0.65zM643.9 384.7h0.65v0.65h-0.65zM635.98 390.23h0.65v0.65h-0.65zM627.97 392.49h0.65v0.65h-0.65zM635.11 392.19h0.65v0.65h-0.65zM634.5 383.5h0.65v0.65h-0.65zM646.76 383.19h0.65v0.65h-0.65zM647.82 385.49h0.65v0.65h-0.65zM638.21 387.02h0.65v0.65h-0.65zM653.7 385.68h0.65v0.65h-0.65zM642.49 380.73h0.65v0.65h-0.65zM638.34 382.46h0.65v0.65h-0.65zM639.69 385.03h0.65v0.65h-0.65zM633.27 383.44h0.65v0.65h-0.65zM629.17 385h0.65v0.65h-0.65zM645.26 382.9h0.65v0.65h-0.65zM642.68 391.99h0.65v0.65h-0.65zM650.46 383.71h0.65v0.65h-0.65zM649.61 393.52h0.65v0.65h-0.65zM641.19 385.02h0.65v0.65h-0.65zM651.46 388.8h0.65v0.65h-0.65zM655.92 383.83h0.65v0.65h-0.65zM650.06 383.07h0.65v0.65h-0.65zM651.23 382.53h0.65v0.65h-0.65zM640.15 386.63h0.65v0.65h-0.65zM625.41 389.36h0.65v0.65h-0.65zM644.66 381.3h0.65v0.65h-0.65zM636.73 380.01h0.65v0.65h-0.65zM641.74 392.46h0.65v0.65h-0.65zM639.41 391.27h0.65v0.65h-0.65zM652.97 387.53h0.65v0.65h-0.65zM649.01 382.19h0.65v0.65h-0.65zM635.48 382.14h0.65v0.65h-0.65zM642.16 386.85h0.65v0.65h-0.65zM638.42 391.84h0.65v0.65h-0.65zM637.9 388.63h0.65v0.65h-0.65zM645.08 383.54h0.65v0.65h-0.65zM648.72 389.49h0.65v0.65h-0.65zM638.3 387.86h0.65v0.65h-0.65zM642.85 382.78h0.65v0.65h-0.65zM639.33 389.53h0.65v0.65h-0.65zM635.02 384.93h0.65v0.65h-0.65zM642.57 390.83h0.65v0.65h-0.65zM644.9 379.47h0.65v0.65h-0.65zM639.78 390.54h0.65v0.65h-0.65zM627.94 382.04h0.65v0.65h-0.65zM652.47 383.93h0.65v0.65h-0.65zM642.01 389.83h0.65v0.65h-0.65zM643.28 386.65h0.65v0.65h-0.65zM638.46 383.17h0.65v0.65h-0.65zM643.38 387.62h0.65v0.65h-0.65zM648.22 390.87h0.65v0.65h-0.65zM638.9 383.64h0.65v0.65h-0.65zM647.6 382.46h0.65v0.65h-0.65zM643.81 386.77h0.65v0.65h-0.65zM657.98 385.18h0.65v0.65h-0.65zM640.97 386.8h0.65v0.65h-0.65zM637.51 380.42h0.65v0.65h-0.65zM643.71 389.45h0.65v0.65h-0.65zM644.42 383.69h0.65v0.65h-0.65zM644.44 383.33h0.65v0.65h-0.65zM644.03 392.23h0.65v0.65h-0.65zM654 388.12h0.65v0.65h-0.65zM645.86 385.66h0.65v0.65h-0.65zM642.2 386.79h0.65v0.65h-0.65zM647.73 380.48h0.65v0.65h-0.65zM655.46 382.9h0.65v0.65h-0.65zM653.71 386.97h0.65v0.65h-0.65zM647.61 382.02h0.65v0.65h-0.65zM644.13 389.22h0.65v0.65h-0.65zM640.94 384.35h0.65v0.65h-0.65zM657.08 388.76h0.65v0.65h-0.65zM634.28 389.45h0.65v0.65h-0.65zM648.85 389.48h0.65v0.65h-0.65zM632.16 393.06h0.65v0.65h-0.65zM651.36 392.95h0.65v0.65h-0.65zM649.88 392.27h0.65v0.65h-0.65zM640.37 387.4h0.65v0.65h-0.65zM643.85 383.19h0.65v0.65h-0.65zM655.23 384h0.65v0.65h-0.65zM640.3 379.19h0.65v0.65h-0.65zM641.31 386.24h0.65v0.65h-0.65zM645.33 387.11h0.65v0.65h-0.65zM642.35 393.94h0.65v0.65h-0.65zM640.72 382.36h0.65v0.65h-0.65zM634.27 390.61h0.65v0.65h-0.65zM633.88 392.63h0.65v0.65h-0.65zM639.58 384.63h0.65v0.65h-0.65zM644.14 384.7h0.65v0.65h-0.65zM637.2 382.42h0.65v0.65h-0.65zM648.93 389.71h0.65v0.65h-0.65zM644.55 381.37h0.65v0.65h-0.65zM647.42 388.47h0.65v0.65h-0.65zM637.12 392.71h0.65v0.65h-0.65zM657.03 386.51h0.65v0.65h-0.65zM650.33 381.28h0.65v0.65h-0.65zM644.23 385.75h0.65v0.65h-0.65zM628.75 385.81h0.65v0.65h-0.65zM654 381.16h0.65v0.65h-0.65zM638.27 386.11h0.65v0.65h-0.65zM648.71 389.92h0.65v0.65h-0.65zM634.05 394.8h0.65v0.65h-0.65zM643.88 383.27h0.65v0.65h-0.65zM638.64 383.33h0.65v0.65h-0.65zM647.29 387.34h0.65v0.65h-0.65zM650.64 383.9h0.65v0.65h-0.65zM640.56 383.58h0.65v0.65h-0.65zM640.96 385.21h0.65v0.65h-0.65zM641.44 387.5h0.65v0.65h-0.65zM655.86 381.56h0.65v0.65h-0.65zM634.28 386.47h0.65v0.65h-0.65zM648.97 382.04h0.65v0.65h-0.65zM650.82 389.43h0.65v0.65h-0.65zM636.68 389.26h0.65v0.65h-0.65zM636.87 383.91h0.65v0.65h-0.65zM642.54 391.44h0.65v0.65h-0.65zM652.44 383.73h0.65v0.65h-0.65zM642.52 379.39h0.65v0.65h-0.65zM641.29 385.54h0.65v0.65h-0.65zM639.25 387.41h0.65v0.65h-0.65zM633.47 381.4h0.65v0.65h-0.65zM643.83 384.8h0.65v0.65h-0.65zM656.21 388.34h0.65v0.65h-0.65zM647.15 384.33h0.65v0.65h-0.65zM643.4 386.05h0.65v0.65h-0.65zM622.32 387.71h0.65v0.65h-0.65zM636.58 388.17h0.65v0.65h-0.65zM644.77 382.4h0.65v0.65h-0.65zM633.93 388.12h0.65v0.65h-0.65zM644.76 382.69h0.65v0.65h-0.65zM639.96 384.13h0.65v0.65h-0.65zM642.52 387.81h0.65v0.65h-0.65zM637.96 386.77h0.65v0.65h-0.65zM630.15 384.47h0.65v0.65h-0.65zM643.8 384.37h0.65v0.65h-0.65zM638.82 383.76h0.65v0.65h-0.65zM635.9 385.48h0.65v0.65h-0.65zM641.98 387.04h0.65v0.65h-0.65zM637.48 381.7h0.65v0.65h-0.65zM631.12 388.52h0.65v0.65h-0.65zM644.59 387.46h0.65v0.65h-0.65zM635.64 390.88h0.65v0.65h-0.65zM640.55 380.31h0.65v0.65h-0.65zM636.84 388.06h0.65v0.65h-0.65zM628.79 384.23h0.65v0.65h-0.65zM643.29 384.19h0.65v0.65h-0.65zM647.77 386.99h0.65v0.65h-0.65zM632.63 389.25h0.65v0.65h-0.65zM630.17 391.13h0.65v0.65h-0.65zM645.83 381.78h0.65v0.65h-0.65zM640.33 389.42h0.65v0.65h-0.65zM630.95 383.61h0.65v0.65h-0.65zM632.6 390.95h0.65v0.65h-0.65zM647.35 392.61h0.65v0.65h-0.65zM639.55 385.08h0.65v0.65h-0.65zM643.62 383.44h0.65v0.65h-0.65zM648.87 386.64h0.65v0.65h-0.65zM646.55 383.96h0.65v0.65h-0.65zM639.22 390.38h0.65v0.65h-0.65zM644.9 382.82h0.65v0.65h-0.65zM647.65 383.5h0.65v0.65h-0.65zM636.8 389.09h0.65v0.65h-0.65zM643.31 383.51h0.65v0.65h-0.65zM639.77 391.81h0.65v0.65h-0.65zM643.21 377.99h0.65v0.65h-0.65zM636.11 390.15h0.65v0.65h-0.65zM645 386.03h0.65v0.65h-0.65zM645.07 382.23h0.65v0.65h-0.65zM643.07 386.26h0.65v0.65h-0.65zM646.48 388.08h0.65v0.65h-0.65zM637.52 391.09h0.65v0.65h-0.65zM638.51 383.1h0.65v0.65h-0.65zM639.92 381h0.65v0.65h-0.65zM628.88 387.81h0.65v0.65h-0.65zM645.22 382.48h0.65v0.65h-0.65zM632.16 382.11h0.65v0.65h-0.65zM636.8 387.09h0.65v0.65h-0.65zM648.29 386.97h0.65v0.65h-0.65zM642.78 389.61h0.65v0.65h-0.65zM646.71 386.51h0.65v0.65h-0.65zM647.96 385.83h0.65v0.65h-0.65zM642.39 386.5h0.65v0.65h-0.65zM653.68 380.81h0.65v0.65h-0.65zM640.98 386.94h0.65v0.65h-0.65zM650.84 391.45h0.65v0.65h-0.65zM645.13 389.22h0.65v0.65h-0.65zM638.95 378.14h0.65v0.65h-0.65zM651.47 386.4h0.65v0.65h-0.65zM650.84 384.74h0.65v0.65h-0.65zM608.94 386.15h0.65v0.65h-0.65zM628.23 381.3h0.65v0.65h-0.65zM603.48 384.06h0.65v0.65h-0.65zM618.69 385.41h0.65v0.65h-0.65zM637.89 379.72h0.65v0.65h-0.65zM634.7 391.84h0.65v0.65h-0.65zM640.73 390.24h0.65v0.65h-0.65zM626.79 384.71h0.65v0.65h-0.65zM626 385.45h0.65v0.65h-0.65zM630.87 384.07h0.65v0.65h-0.65zM630.52 386.42h0.65v0.65h-0.65zM617.76 382.86h0.65v0.65h-0.65zM611.71 395.48h0.65v0.65h-0.65zM651.32 386.72h0.65v0.65h-0.65zM627.96 377.99h0.65v0.65h-0.65zM601.05 385.56h0.65v0.65h-0.65zM642.77 389.44h0.65v0.65h-0.65zM647.1 393.48h0.65v0.65h-0.65zM635.38 383.79h0.65v0.65h-0.65zM623.43 381.77h0.65v0.65h-0.65zM642.53 382.78h0.65v0.65h-0.65zM625 383.82h0.65v0.65h-0.65zM631.27 390.2h0.65v0.65h-0.65zM651.18 381.7h0.65v0.65h-0.65zM628.19 381.08h0.65v0.65h-0.65zM627.17 380.58h0.65v0.65h-0.65zM641.88 381.65h0.65v0.65h-0.65zM667.61 387.44h0.65v0.65h-0.65zM622.72 387.63h0.65v0.65h-0.65zM649.85 380.31h0.65v0.65h-0.65zM661.43 384.68h0.65v0.65h-0.65zM652.5 389.43h0.65v0.65h-0.65zM634.34 392.85h0.65v0.65h-0.65zM625.8 379.2h0.65v0.65h-0.65zM634.39 391.79h0.65v0.65h-0.65zM651.98 385.98h0.65v0.65h-0.65zM633.1 385.96h0.65v0.65h-0.65zM652.9 388.85h0.65v0.65h-0.65zM628.83 389.79h0.65v0.65h-0.65zM627.26 380.46h0.65v0.65h-0.65zM629.28 387.18h0.65v0.65h-0.65zM635.75 388.24h0.65v0.65h-0.65zM614.63 388.87h0.65v0.65h-0.65zM635.43 386.06h0.65v0.65h-0.65zM620.75 384.26h0.65v0.65h-0.65zM633.68 386.79h0.65v0.65h-0.65zM627.04 386.37h0.65v0.65h-0.65zM623.96 387.47h0.65v0.65h-0.65zM608.93 378.77h0.65v0.65h-0.65zM620.94 388.65h0.65v0.65h-0.65zM621.85 386.92h0.65v0.65h-0.65zM620.8 391.48h0.65v0.65h-0.65zM623.49 385.37h0.65v0.65h-0.65zM648.85 390.74h0.65v0.65h-0.65zM636.11 381.49h0.65v0.65h-0.65zM641.53 386.5h0.65v0.65h-0.65zM616.39 383.35h0.65v0.65h-0.65zM632.29 387.94h0.65v0.65h-0.65zM608.43 386.56h0.65v0.65h-0.65zM637.85 387.79h0.65v0.65h-0.65zM656.17 383.49h0.65v0.65h-0.65zM628.34 380.26h0.65v0.65h-0.65zM621.15 386.19h0.65v0.65h-0.65zM626.32 382.96h0.65v0.65h-0.65zM625.86 391.78h0.65v0.65h-0.65zM634.34 391.9h0.65v0.65h-0.65zM602.66 390.28h0.65v0.65h-0.65zM630.91 388.88h0.65v0.65h-0.65zM648.33 386.13h0.65v0.65h-0.65zM628.55 386.03h0.65v0.65h-0.65zM613.05 389.58h0.65v0.65h-0.65zM624.64 385.08h0.65v0.65h-0.65zM633.58 379.11h0.65v0.65h-0.65zM628.95 390.5h0.65v0.65h-0.65zM624.29 387.38h0.65v0.65h-0.65zM623.26 392.57h0.65v0.65h-0.65zM654.06 389.35h0.65v0.65h-0.65zM620.4 392.97h0.65v0.65h-0.65zM653.9 387.83h0.65v0.65h-0.65zM605.7 383.85h0.65v0.65h-0.65zM640.11 379.38h0.65v0.65h-0.65zM621.72 386.29h0.65v0.65h-0.65zM629.27 379.12h0.65v0.65h-0.65zM622.89 384.28h0.65v0.65h-0.65zM614.43 391.42h0.65v0.65h-0.65zM653.04 394.41h0.65v0.65h-0.65zM623.91 386.05h0.65v0.65h-0.65zM638.43 393.78h0.65v0.65h-0.65zM607.9 390.53h0.65v0.65h-0.65zM628.82 396.28h0.65v0.65h-0.65zM637.25 387.97h0.65v0.65h-0.65zM647.25 391.88h0.65v0.65h-0.65zM651.61 392.98h0.65v0.65h-0.65zM642.06 383.93h0.65v0.65h-0.65zM605.06 382.03h0.65v0.65h-0.65zM635.78 383.64h0.65v0.65h-0.65zM643.51 380.12h0.65v0.65h-0.65zM619.94 390.08h0.65v0.65h-0.65zM629.59 379.15h0.65v0.65h-0.65zM640.14 397.34h0.65v0.65h-0.65zM639.58 380.25h0.65v0.65h-0.65zM637.64 382.79h0.65v0.65h-0.65zM631.47 381.03h0.65v0.65h-0.65zM637.22 385.73h0.65v0.65h-0.65zM608.28 385.58h0.65v0.65h-0.65zM644.03 388.81h0.65v0.65h-0.65zM625.57 392.12h0.65v0.65h-0.65zM625.07 382.77h0.65v0.65h-0.65zM623.8 390.2h0.65v0.65h-0.65zM614.07 381.56h0.65v0.65h-0.65zM624.88 389.37h0.65v0.65h-0.65zM624.43 392.57h0.65v0.65h-0.65zM614.85 384.74h0.65v0.65h-0.65zM625.86 394.64h0.65v0.65h-0.65zM622.06 385.33h0.65v0.65h-0.65zM594.74 387.37h0.65v0.65h-0.65zM630.33 385.38h0.65v0.65h-0.65zM629.37 383.36h0.65v0.65h-0.65zM629.38 386.28h0.65v0.65h-0.65zM623.45 387.68h0.65v0.65h-0.65zM612.64 382.21h0.65v0.65h-0.65zM636.5 389.34h0.65v0.65h-0.65zM634.37 385.94h0.65v0.65h-0.65zM616.24 380.09h0.65v0.65h-0.65zM616.62 383.48h0.65v0.65h-0.65zM627.05 380.08h0.65v0.65h-0.65zM627.2 396.39h0.65v0.65h-0.65zM622.65 392.93h0.65v0.65h-0.65zM612.45 385.01h0.65v0.65h-0.65zM591.12 392.06h0.65v0.65h-0.65zM598.75 388.79h0.65v0.65h-0.65zM627.95 389.12h0.65v0.65h-0.65zM630.91 386.8h0.65v0.65h-0.65zM630.65 393.21h0.65v0.65h-0.65zM626.68 390.51h0.65v0.65h-0.65zM616.15 384.92h0.65v0.65h-0.65zM631.3 386.38h0.65v0.65h-0.65zM607.4 383.24h0.65v0.65h-0.65zM627.47 392.17h0.65v0.65h-0.65zM631.84 391.43h0.65v0.65h-0.65zM620.4 382.78h0.65v0.65h-0.65zM647.95 390.01h0.65v0.65h-0.65zM623.34 396.46h0.65v0.65h-0.65zM652.1 382.25h0.65v0.65h-0.65zM600.66 390.93h0.65v0.65h-0.65zM637.03 387.14h0.65v0.65h-0.65zM638.28 391.6h0.65v0.65h-0.65zM621.93 390.59h0.65v0.65h-0.65zM606.53 377.91h0.65v0.65h-0.65zM641.35 383.18h0.65v0.65h-0.65zM640.19 379.31h0.65v0.65h-0.65zM630.27 383.32h0.65v0.65h-0.65zM622.1 383.17h0.65v0.65h-0.65zM651.37 389.39h0.65v0.65h-0.65zM631.13 387.34h0.65v0.65h-0.65zM646.27 385.15h0.65v0.65h-0.65zM609.83 387.44h0.65v0.65h-0.65zM637.62 386.52h0.65v0.65h-0.65zM635.8 391.2h0.65v0.65h-0.65zM636.75 386.91h0.65v0.65h-0.65zM651.87 386.05h0.65v0.65h-0.65zM630.07 386.36h0.65v0.65h-0.65zM644.05 392.52h0.65v0.65h-0.65zM620.77 383.05h0.65v0.65h-0.65zM652.96 387.38h0.65v0.65h-0.65zM634.49 381.8h0.65v0.65h-0.65zM649.71 380.56h0.65v0.65h-0.65zM646.83 386.52h0.65v0.65h-0.65zM633.3 382.51h0.65v0.65h-0.65zM636.66 381.06h0.65v0.65h-0.65zM638.56 389.42h0.65v0.65h-0.65zM638.89 383.03h0.65v0.65h-0.65zM607.5 380.35h0.65v0.65h-0.65zM609.21 386.77h0.65v0.65h-0.65zM629.49 387.07h0.65v0.65h-0.65zM665.23 385.04h0.65v0.65h-0.65zM617.93 385.4h0.65v0.65h-0.65zM619.78 387.19h0.65v0.65h-0.65zM622.87 383h0.65v0.65h-0.65zM613.68 394.82h0.65v0.65h-0.65zM647.66 394.05h0.65v0.65h-0.65zM631.43 393.47h0.65v0.65h-0.65zM628.26 390.96h0.65v0.65h-0.65zM626.94 383.57h0.65v0.65h-0.65zM625.53 385.92h0.65v0.65h-0.65zM626.68 382.27h0.65v0.65h-0.65zM617.29 383.11h0.65v0.65h-0.65zM592.62 379.85h0.65v0.65h-0.65zM653.27 386.07h0.65v0.65h-0.65zM647.3 379.6h0.65v0.65h-0.65zM631.34 387.54h0.65v0.65h-0.65zM642.92 386.17h0.65v0.65h-0.65zM608.36 387.13h0.65v0.65h-0.65zM639.84 381.46h0.65v0.65h-0.65zM617.19 391.58h0.65v0.65h-0.65zM619.34 380.68h0.65v0.65h-0.65zM644.82 388.09h0.65v0.65h-0.65zM626.46 384.63h0.65v0.65h-0.65zM642.23 385.38h0.65v0.65h-0.65zM615.49 385.58h0.65v0.65h-0.65zM634.83 379.9h0.65v0.65h-0.65zM632.1 387.09h0.65v0.65h-0.65zM618.15 383.38h0.65v0.65h-0.65zM620.89 380.96h0.65v0.65h-0.65zM605.27 383.66h0.65v0.65h-0.65zM635.68 382.35h0.65v0.65h-0.65zM631.88 389.97h0.65v0.65h-0.65zM620.56 388.99h0.65v0.65h-0.65zM628.41 386.01h0.65v0.65h-0.65zM623.99 385.12h0.65v0.65h-0.65zM642.03 397.08h0.65v0.65h-0.65zM639.14 383.15h0.65v0.65h-0.65zM621.71 387.54h0.65v0.65h-0.65zM640.96 394.71h0.65v0.65h-0.65zM610.6 387.45h0.65v0.65h-0.65zM643.29 386.62h0.65v0.65h-0.65zM624.14 382.6h0.65v0.65h-0.65zM629.95 387.72h0.65v0.65h-0.65zM614.91 384.98h0.65v0.65h-0.65zM619.43 383.82h0.65v0.65h-0.65zM611.97 383.38h0.65v0.65h-0.65zM618.9 378.51h0.65v0.65h-0.65zM613.2 386.5h0.65v0.65h-0.65zM649.67 389.88h0.65v0.65h-0.65zM604.89 388.42h0.65v0.65h-0.65zM625.93 379.76h0.65v0.65h-0.65zM647.08 386.4h0.65v0.65h-0.65zM663.15 385.25h0.65v0.65h-0.65zM624.57 395.79h0.65v0.65h-0.65zM652.91 382.66h0.65v0.65h-0.65zM634.97 382.87h0.65v0.65h-0.65zM626.33 386.66h0.65v0.65h-0.65zM617.2 382.75h0.65v0.65h-0.65zM635.5 393.38h0.65v0.65h-0.65zM656.46 388.55h0.65v0.65h-0.65zM621.55 387.45h0.65v0.65h-0.65zM630.92 388.48h0.65v0.65h-0.65zM623.86 392.35h0.65v0.65h-0.65zM651.13 395.62h0.65v0.65h-0.65zM648.57 379.27h0.65v0.65h-0.65zM646.76 386.44h0.65v0.65h-0.65zM644.83 387.87h0.65v0.65h-0.65zM618.25 386.57h0.65v0.65h-0.65zM635.82 383.94h0.65v0.65h-0.65zM619.13 390.79h0.65v0.65h-0.65zM636.4 393.02h0.65v0.65h-0.65zM643.61 388.49h0.65v0.65h-0.65zM646.27 383.6h0.65v0.65h-0.65zM639.74 390.7h0.65v0.65h-0.65zM631.85 391.07h0.65v0.65h-0.65zM614.97 380.35h0.65v0.65h-0.65zM637.92 382.65h0.65v0.65h-0.65zM606.16 380.86h0.65v0.65h-0.65zM648.87 385.12h0.65v0.65h-0.65zM622.99 384.12h0.65v0.65h-0.65zM655.96 381.49h0.65v0.65h-0.65zM613.75 382.78h0.65v0.65h-0.65zM620.87 397.31h0.65v0.65h-0.65zM622.27 383.54h0.65v0.65h-0.65zM642.21 385.66h0.65v0.65h-0.65zM655.92 393.79h0.65v0.65h-0.65zM627.01 389.25h0.65v0.65h-0.65zM665.04 385.83h0.65v0.65h-0.65zM608.24 387.79h0.65v0.65h-0.65zM640.82 387.49h0.65v0.65h-0.65zM621.83 392.26h0.65v0.65h-0.65zM665.27 391.89h0.65v0.65h-0.65zM630.4 380.62h0.65v0.65h-0.65zM624.62 384.57h0.65v0.65h-0.65zM608.49 389.36h0.65v0.65h-0.65zM613.64 383.91h0.65v0.65h-0.65zM619.83 395.91h0.65v0.65h-0.65zM621.94 380.61h0.65v0.65h-0.65zM631.57 382.56h0.65v0.65h-0.65zM648.63 390.87h0.65v0.65h-0.65zM645.79 379.65h0.65v0.65h-0.65zM622.28 380.17h0.65v0.65h-0.65zM623.73 387.32h0.65v0.65h-0.65zM638.5 379.74h0.65v0.65h-0.65zM613.15 388.19h0.65v0.65h-0.65zM625.07 379.95h0.65v0.65h-0.65zM625.87 390.51h0.65v0.65h-0.65zM611.42 382.23h0.65v0.65h-0.65zM635.63 378.54h0.65v0.65h-0.65zM640.75 392.02h0.65v0.65h-0.65zM645.12 388.08h0.65v0.65h-0.65zM643.69 388.39h0.65v0.65h-0.65zM631.43 387.73h0.65v0.65h-0.65zM621.8 383.42h0.65v0.65h-0.65zM634.12 384.63h0.65v0.65h-0.65zM639.02 385.45h0.65v0.65h-0.65zM625.28 382.89h0.65v0.65h-0.65zM621.77 381.02h0.65v0.65h-0.65zM620.38 391.98h0.65v0.65h-0.65zM610.64 379.73h0.65v0.65h-0.65zM626.93 388.64h0.65v0.65h-0.65zM628.5 384.51h0.65v0.65h-0.65zM629.9 391.62h0.65v0.65h-0.65zM625.51 384.95h0.65v0.65h-0.65zM630.82 384.1h0.65v0.65h-0.65zM648.92 383.41h0.65v0.65h-0.65zM614.63 384.84h0.65v0.65h-0.65zM646.86 390.72h0.65v0.65h-0.65zM619.42 389.47h0.65v0.65h-0.65zM608.05 377.74h0.65v0.65h-0.65zM625.44 385.75h0.65v0.65h-0.65zM609.1 383.07h0.65v0.65h-0.65zM624.98 382.47h0.65v0.65h-0.65zM625.64 383.66h0.65v0.65h-0.65zM612.26 388.69h0.65v0.65h-0.65zM623.08 385.33h0.65v0.65h-0.65zM640.14 378.33h0.65v0.65h-0.65zM633.22 384.49h0.65v0.65h-0.65zM641.98 385.12h0.65v0.65h-0.65zM628.57 393.46h0.65v0.65h-0.65zM618.77 379.75h0.65v0.65h-0.65zM603.98 389.49h0.65v0.65h-0.65zM634.41 392.53h0.65v0.65h-0.65zM623.97 380.8h0.65v0.65h-0.65zM655.65 388.64h0.65v0.65h-0.65zM621.35 383.55h0.65v0.65h-0.65zM629.47 385.72h0.65v0.65h-0.65zM638.78 385.98h0.65v0.65h-0.65zM648.4 385.79h0.65v0.65h-0.65zM641.37 381.87h0.65v0.65h-0.65zM622.53 383.37h0.65v0.65h-0.65zM592.64 393.56h0.65v0.65h-0.65zM648.97 383.69h0.65v0.65h-0.65zM633.65 383.96h0.65v0.65h-0.65zM625.49 393.36h0.65v0.65h-0.65zM608.39 382.56h0.65v0.65h-0.65zM650.26 384.21h0.65v0.65h-0.65zM643.63 390.43h0.65v0.65h-0.65zM629.92 384.98h0.65v0.65h-0.65zM646.08 385.11h0.65v0.65h-0.65zM635.69 391.49h0.65v0.65h-0.65zM615.36 392.02h0.65v0.65h-0.65zM659.11 383.83h0.65v0.65h-0.65zM629.49 389.83h0.65v0.65h-0.65zM618.95 393.47h0.65v0.65h-0.65zM631.86 382.33h0.65v0.65h-0.65zM609.66 395.43h0.65v0.65h-0.65zM623.96 382.78h0.65v0.65h-0.65zM632.09 381.37h0.65v0.65h-0.65zM655.57 384.54h0.65v0.65h-0.65zM645.01 377.84h0.65v0.65h-0.65zM633.47 386.89h0.65v0.65h-0.65zM659.57 388.62h0.65v0.65h-0.65zM635.59 390.41h0.65v0.65h-0.65zM633.67 383.34h0.65v0.65h-0.65zM604.76 383.77h0.65v0.65h-0.65zM597.65 378.19h0.65v0.65h-0.65zM660.11 381.38h0.65v0.65h-0.65zM631.13 385.96h0.65v0.65h-0.65zM603.05 394.96h0.65v0.65h-0.65zM646.74 385.35h0.65v0.65h-0.65zM627.37 386.81h0.65v0.65h-0.65zM609.92 380.82h0.65v0.65h-0.65zM633.39 381.94h0.65v0.65h-0.65zM626.55 388.56h0.65v0.65h-0.65zM634.4 385.63h0.65v0.65h-0.65zM631.58 393.57h0.65v0.65h-0.65zM637.22 385.69h0.65v0.65h-0.65zM648.5 384.39h0.65v0.65h-0.65zM617.55 386.74h0.65v0.65h-0.65zM627.52 395.18h0.65v0.65h-0.65zM664.41 384.85h0.65v0.65h-0.65zM612.24 383.51h0.65v0.65h-0.65zM651.56 386.58h0.65v0.65h-0.65zM650.67 378.2h0.65v0.65h-0.65zM629.68 385.54h0.65v0.65h-0.65zM650.01 388.59h0.65v0.65h-0.65zM633.25 383.46h0.65v0.65h-0.65zM661.54 384.77h0.65v0.65h-0.65zM622.56 383.06h0.65v0.65h-0.65zM641.49 387.42h0.65v0.65h-0.65zM639.71 386.91h0.65v0.65h-0.65zM629.5 387.08h0.65v0.65h-0.65zM634.68 383.95h0.65v0.65h-0.65zM647.32 387.96h0.65v0.65h-0.65zM619.92 391.75h0.65v0.65h-0.65zM639.42 393.16h0.65v0.65h-0.65zM606.15 390.34h0.65v0.65h-0.65zM649 393.44h0.65v0.65h-0.65zM641.77 382.13h0.65v0.65h-0.65zM621.43 384.45h0.65v0.65h-0.65zM621.31 390.19h0.65v0.65h-0.65zM641.09 394.99h0.65v0.65h-0.65zM625.92 379.1h0.65v0.65h-0.65zM629.21 384.38h0.65v0.65h-0.65zM635.27 389.78h0.65v0.65h-0.65zM612.5 388.95h0.65v0.65h-0.65zM610.11 387.08h0.65v0.65h-0.65zM626.85 386.23h0.65v0.65h-0.65zM658.31 388.15h0.65v0.65h-0.65zM611.34 388.83h0.65v0.65h-0.65zM629.72 392.55h0.65v0.65h-0.65zM605.97 392.34h0.65v0.65h-0.65zM625.29 385.99h0.65v0.65h-0.65zM621.3 384.08h0.65v0.65h-0.65zM643.32 387.21h0.65v0.65h-0.65zM636.22 381.54h0.65v0.65h-0.65zM632.08 384.52h0.65v0.65h-0.65zM649.39 378.64h0.65v0.65h-0.65zM621.31 386.12h0.65v0.65h-0.65zM627.87 388.73h0.65v0.65h-0.65zM629.91 394.46h0.65v0.65h-0.65zM617.13 392.66h0.65v0.65h-0.65zM647.28 384.98h0.65v0.65h-0.65zM625.38 389.65h0.65v0.65h-0.65zM648.3 378.42h0.65v0.65h-0.65zM618.98 386.22h0.65v0.65h-0.65zM626.65 388.38h0.65v0.65h-0.65zM618.34 392.6h0.65v0.65h-0.65zM636.73 387.27h0.65v0.65h-0.65zM638.27 386.37h0.65v0.65h-0.65zM639.15 379.55h0.65v0.65h-0.65zM634.82 391.25h0.65v0.65h-0.65zM639.08 382.68h0.65v0.65h-0.65zM625.93 378.2h0.65v0.65h-0.65zM639.51 393.02h0.65v0.65h-0.65zM631.88 387.33h0.65v0.65h-0.65zM639.14 380.31h0.65v0.65h-0.65zM613.5 379.9h0.65v0.65h-0.65zM635.39 384.53h0.65v0.65h-0.65zM639.78 379.71h0.65v0.65h-0.65zM651.69 378.52h0.65v0.65h-0.65zM636.49 391.68h0.65v0.65h-0.65zM621.87 379.15h0.65v0.65h-0.65zM629.57 382.34h0.65v0.65h-0.65zM629.4 377.85h0.65v0.65h-0.65zM648.68 385.56h0.65v0.65h-0.65zM620.82 389.56h0.65v0.65h-0.65zM639.28 386.71h0.65v0.65h-0.65zM624.86 381.83h0.65v0.65h-0.65zM638.73 390.01h0.65v0.65h-0.65zM607.34 384.17h0.65v0.65h-0.65zM626.07 387.66h0.65v0.65h-0.65zM639.47 387.6h0.65v0.65h-0.65zM640.61 385.41h0.65v0.65h-0.65zM668.08 380.87h0.65v0.65h-0.65zM629.78 386.91h0.65v0.65h-0.65zM639.11 387.83h0.65v0.65h-0.65zM632.11 392.17h0.65v0.65h-0.65zM614.52 384.92h0.65v0.65h-0.65zM629.49 388.72h0.65v0.65h-0.65zM669.19 386.24h0.65v0.65h-0.65zM634.17 386.94h0.65v0.65h-0.65zM634.18 388.96h0.65v0.65h-0.65zM628.69 386.62h0.65v0.65h-0.65z" fill="#000" opacity="0.8"/>
<rect x="588.6" y="323.4" width="94.1" height="75.1" stroke="#888" stroke-width="0.7" fill="none"/>
<line x1="629.5" y1="323.4" x2="629.5" y2="398.5" stroke="#333" stroke-width="0.8"/>
<line x1="588.6" y1="376.3" x2="682.7" y2="376.3" stroke="#222" stroke-width="1.1"/>
<line x1="587.4" y1="394.5" x2="588.6" y2="394.5" stroke="#999" stroke-width="0.4"/>
<line x1="587.4" y1="391" x2="588.6" y2="391" stroke="#999" stroke-width="0.4"/>
<line x1="587.4" y1="387.5" x2="588.6" y2="387.5" stroke="#999" stroke-width="0.4"/>
<line x1="587.4" y1="384" x2="588.6" y2="384" stroke="#999" stroke-width="0.4"/>
<line x1="587.4" y1="380.5" x2="588.6" y2="380.5" stroke="#999" stroke-width="0.4"/>
<line x1="587.4" y1="377" x2="588.6" y2="377" stroke="#999" stroke-width="0.4"/>
<line x1="587.4" y1="372.28" x2="588.6" y2="372.28" stroke="#999" stroke-width="0.4"/>
<line x1="587.4" y1="368.78" x2="588.6" y2="368.78" stroke="#999" stroke-width="0.4"/>
<line x1="587.4" y1="365.28" x2="588.6" y2="365.28" stroke="#999" stroke-width="0.4"/>
<line x1="587.4" y1="361.78" x2="588.6" y2="361.78" stroke="#999" stroke-width="0.4"/>
<line x1="587.4" y1="358.28" x2="588.6" y2="358.28" stroke="#999" stroke-width="0.4"/>
<line x1="587.4" y1="354.78" x2="588.6" y2="354.78" stroke="#999" stroke-width="0.4"/>
<line x1="587.4" y1="350.06" x2="588.6" y2="350.06" stroke="#999" stroke-width="0.4"/>
<line x1="587.4" y1="346.56" x2="588.6" y2="346.56" stroke="#999" stroke-width="0.4"/>
<line x1="587.4" y1="343.06" x2="588.6" y2="343.06" stroke="#999" stroke-width="0.4"/>
<line x1="587.4" y1="339.56" x2="588.6" y2="339.56" stroke="#999" stroke-width="0.4"/>
<line x1="587.4" y1="336.06" x2="588.6" y2="336.06" stroke="#999" stroke-width="0.4"/>
<line x1="587.4" y1="332.56" x2="588.6" y2="332.56" stroke="#999" stroke-width="0.4"/>
<line x1="587.4" y1="327.84" x2="588.6" y2="327.84" stroke="#999" stroke-width="0.4"/>
<line x1="587.4" y1="324.34" x2="588.6" y2="324.34" stroke="#999" stroke-width="0.4"/>
<line x1="587.4" y1="320.84" x2="588.6" y2="320.84" stroke="#999" stroke-width="0.4"/>
<line x1="587.4" y1="317.34" x2="588.6" y2="317.34" stroke="#999" stroke-width="0.4"/>
<line x1="587.4" y1="313.84" x2="588.6" y2="313.84" stroke="#999" stroke-width="0.4"/>
<line x1="587.4" y1="310.34" x2="588.6" y2="310.34" stroke="#999" stroke-width="0.4"/>
<text x="582.3" y="325.9" font-size="2.8" stroke="#888" stroke-width="0.2" fill="#888">10</text>
<text x="582.3" y="344.4" font-size="2.8" stroke="#888" stroke-width="0.2" fill="#888">10</text>
<text x="582.3" y="362.9" font-size="2.8" stroke="#888" stroke-width="0.2" fill="#888">10</text>
<text x="582.3" y="382.4" font-size="2.8" stroke="#888" stroke-width="0.2" fill="#888">10</text>
<text x="609.6" y="402.7" font-size="2.8" stroke="#888" stroke-width="0.2" fill="#888">10</text>
<text x="632.1" y="402.7" font-size="2.8" stroke="#888" stroke-width="0.2" fill="#888">10</text>
<text x="655.8" y="402.7" font-size="2.8" stroke="#888" stroke-width="0.2" fill="#888">10</text>
<text x="679.1" y="402.7" font-size="2.8" stroke="#888" stroke-width="0.2" fill="#888">10</text>
<text x="3.6" y="427" font-size="17">g</text>
<line x1="38.4" y1="448.2" x2="38.4" y2="564.5" stroke="#7a7a7a" stroke-width="1"/>
<line x1="33.2" y1="564.5" x2="38.4" y2="564.5" stroke="#7a7a7a" stroke-width="1"/>
<text x="31" y="567.54" font-size="8.8" stroke="#111" stroke-width="0.2" text-anchor="end">0</text>
<line x1="33.2" y1="535.42" x2="38.4" y2="535.42" stroke="#7a7a7a" stroke-width="1"/>
<text x="31" y="538.46" font-size="8.8" stroke="#111" stroke-width="0.2" text-anchor="end">5</text>
<line x1="33.2" y1="506.35" x2="38.4" y2="506.35" stroke="#7a7a7a" stroke-width="1"/>
<text x="31" y="509.39" font-size="8.8" stroke="#111" stroke-width="0.2" text-anchor="end">10</text>
<line x1="33.2" y1="477.27" x2="38.4" y2="477.27" stroke="#7a7a7a" stroke-width="1"/>
<text x="31" y="480.31" font-size="8.8" stroke="#111" stroke-width="0.2" text-anchor="end">15</text>
<line x1="33.2" y1="448.2" x2="38.4" y2="448.2" stroke="#7a7a7a" stroke-width="1"/>
<text x="31" y="451.24" font-size="8.8" stroke="#111" stroke-width="0.2" text-anchor="end">20</text>
<line x1="38.4" y1="564.5" x2="127" y2="564.5" stroke="#7a7a7a" stroke-width="1"/>
<line x1="63.5" y1="564.5" x2="63.5" y2="569.5" stroke="#7a7a7a" stroke-width="1"/>
<line x1="101.4" y1="564.5" x2="101.4" y2="569.5" stroke="#7a7a7a" stroke-width="1"/>
<text x="64.1" y="577.3" font-size="8.7" stroke="#ff0000" stroke-width="0.2" text-anchor="middle" fill="#ff0000" textLength="16.2" lengthAdjust="spacingAndGlyphs">Ly B</text>
<text x="101" y="577.3" font-size="8.7" stroke="#ff0000" stroke-width="0.2" text-anchor="middle" fill="#ff0000" textLength="28.9" lengthAdjust="spacingAndGlyphs">Plasma</text>
<text x="100.9" y="588.6" font-size="8.7" stroke="#ff0000" stroke-width="0.2" text-anchor="middle" fill="#ff0000" textLength="18" lengthAdjust="spacingAndGlyphs">cells</text>
<line x1="61.7" y1="591.8" x2="105" y2="591.8" stroke="#aaa" stroke-width="1.3"/>
<text x="82.6" y="606" font-size="8.7" stroke="#ff0000" stroke-width="0.2" text-anchor="middle" fill="#ff0000" textLength="25.2" lengthAdjust="spacingAndGlyphs">Sepsis</text>
<text transform="translate(10.2,566) rotate(-90)" font-size="9" stroke="#111" stroke-width="0.2" textLength="117.1" lengthAdjust="spacingAndGlyphs">BLIMP1 expression in cells (MFI)</text>
<text x="58.8" y="455.1" font-size="9" stroke="#111" stroke-width="0.2" textLength="43.7" lengthAdjust="spacingAndGlyphs">p = 0.0002</text>
<path d="M60 466.9V459.5H101.8V466.9" stroke="#4a4a4a" stroke-width="0.9" fill="none"/>
<line x1="101.5" y1="473.2" x2="101.5" y2="480.5" stroke="#ff6e6e" stroke-width="0.95"/>
<line x1="95.2" y1="473.2" x2="107.8" y2="473.2" stroke="#ff6e6e" stroke-width="0.95"/>
<line x1="101.5" y1="496.7" x2="101.5" y2="502" stroke="#ff6e6e" stroke-width="0.95"/>
<line x1="95.2" y1="502" x2="107.8" y2="502" stroke="#ff6e6e" stroke-width="0.95"/>
<rect x="89.45" y="480.5" width="24.1" height="16.2" stroke="#ff6e6e" stroke-width="0.95" fill="none"/>
<line x1="89.45" y1="485.2" x2="113.55" y2="485.2" stroke="#ff6e6e" stroke-width="0.95"/>
<line x1="63.4" y1="541.3" x2="63.4" y2="545" stroke="#ff6e6e" stroke-width="0.95"/>
<line x1="57.3" y1="545" x2="69.5" y2="545" stroke="#ff6e6e" stroke-width="0.95"/>
<rect x="51.6" y="537.1" width="23.6" height="4.2" stroke="#ff6e6e" stroke-width="0.95" fill="none"/>
<line x1="51.6" y1="539.5" x2="75.2" y2="539.5" stroke="#ff6e6e" stroke-width="0.95"/>
<g fill="#ff0000"><circle cx="101.4" cy="473.2" r="2.2"/><circle cx="101.4" cy="478.4" r="2.2"/><circle cx="90.9" cy="485.6" r="2.2"/><circle cx="97.6" cy="484.5" r="2.2"/><circle cx="105" cy="485.6" r="2.2"/><circle cx="111.9" cy="485.6" r="2.2"/><circle cx="97.6" cy="502" r="2.2"/><circle cx="104.6" cy="502" r="2.2"/><circle cx="52.7" cy="537.7" r="2.2"/><circle cx="57.3" cy="539.8" r="2.2"/><circle cx="61.5" cy="538.7" r="2.2"/><circle cx="65.7" cy="538.7" r="2.2"/><circle cx="69.5" cy="538.7" r="2.2"/><circle cx="74.1" cy="537.1" r="2.2"/><circle cx="65.7" cy="543" r="2.2"/><circle cx="61.1" cy="545" r="2.2"/></g>
<text x="164.3" y="430.9" font-size="17">h</text>
<line x1="200.4" y1="439.6" x2="200.4" y2="558.6" stroke="#7a7a7a" stroke-width="1"/>
<line x1="195.2" y1="558.6" x2="200.4" y2="558.6" stroke="#7a7a7a" stroke-width="1"/>
<text x="193.6" y="561.64" font-size="8.8" stroke="#111" stroke-width="0.2" text-anchor="end">0</text>
<line x1="195.2" y1="519" x2="200.4" y2="519" stroke="#7a7a7a" stroke-width="1"/>
<text x="193.6" y="522.04" font-size="8.8" stroke="#111" stroke-width="0.2" text-anchor="end">20</text>
<line x1="195.2" y1="479.4" x2="200.4" y2="479.4" stroke="#7a7a7a" stroke-width="1"/>
<text x="193.6" y="482.44" font-size="8.8" stroke="#111" stroke-width="0.2" text-anchor="end">40</text>
<line x1="195.2" y1="439.8" x2="200.4" y2="439.8" stroke="#7a7a7a" stroke-width="1"/>
<text x="193.6" y="442.84" font-size="8.8" stroke="#111" stroke-width="0.2" text-anchor="end">60</text>
<line x1="200.4" y1="558.6" x2="334.5" y2="558.6" stroke="#7a7a7a" stroke-width="1"/>
<line x1="221.5" y1="558.6" x2="221.5" y2="563.4" stroke="#7a7a7a" stroke-width="1"/>
<line x1="252.3" y1="558.6" x2="252.3" y2="563.4" stroke="#7a7a7a" stroke-width="1"/>
<line x1="282.8" y1="558.6" x2="282.8" y2="563.4" stroke="#7a7a7a" stroke-width="1"/>
<line x1="313.4" y1="558.6" x2="313.4" y2="563.4" stroke="#7a7a7a" stroke-width="1"/>
<text x="143.8" y="575.2" font-size="8.8" stroke="#111" stroke-width="0.2" textLength="61.9" lengthAdjust="spacingAndGlyphs">T Lymphocytes</text>
<text x="138.5" y="590.1" font-size="8.8" stroke="#111" stroke-width="0.2" textLength="73.9" lengthAdjust="spacingAndGlyphs">α-CD2/CD3/CD28</text>
<text x="151.1" y="604.7" font-size="8.8" stroke="#ff0000" stroke-width="0.2" fill="#ff0000" textLength="50.4" lengthAdjust="spacingAndGlyphs">Plasma cells</text>
<text x="162.7" y="618.4" font-size="8.8" stroke="#ff0000" stroke-width="0.2" fill="#ff0000" textLength="26" lengthAdjust="spacingAndGlyphs">B cells</text>
<line x1="218.7" y1="572.4" x2="222.5" y2="572.4" stroke="#111" stroke-width="0.8"/>
<line x1="220.6" y1="570.5" x2="220.6" y2="574.3" stroke="#111" stroke-width="0.8"/>
<line x1="250.5" y1="572.4" x2="254.3" y2="572.4" stroke="#111" stroke-width="0.8"/>
<line x1="252.4" y1="570.5" x2="252.4" y2="574.3" stroke="#111" stroke-width="0.8"/>
<line x1="280.5" y1="572.4" x2="284.3" y2="572.4" stroke="#111" stroke-width="0.8"/>
<line x1="282.4" y1="570.5" x2="282.4" y2="574.3" stroke="#111" stroke-width="0.8"/>
<line x1="311.8" y1="572.4" x2="315.6" y2="572.4" stroke="#111" stroke-width="0.8"/>
<line x1="313.7" y1="570.5" x2="313.7" y2="574.3" stroke="#111" stroke-width="0.8"/>
<line x1="219.4" y1="586.4" x2="221.8" y2="586.4" stroke="#111" stroke-width="0.8"/>
<line x1="250.5" y1="586.4" x2="254.3" y2="586.4" stroke="#111" stroke-width="0.8"/>
<line x1="252.4" y1="584.5" x2="252.4" y2="588.3" stroke="#111" stroke-width="0.8"/>
<line x1="280.5" y1="586.4" x2="284.3" y2="586.4" stroke="#111" stroke-width="0.8"/>
<line x1="282.4" y1="584.5" x2="282.4" y2="588.3" stroke="#111" stroke-width="0.8"/>
<line x1="311.8" y1="586.4" x2="315.6" y2="586.4" stroke="#111" stroke-width="0.8"/>
<line x1="313.7" y1="584.5" x2="313.7" y2="588.3" stroke="#111" stroke-width="0.8"/>
<line x1="219.4" y1="601.4" x2="221.8" y2="601.4" stroke="#ff0000" stroke-width="0.8"/>
<line x1="251.2" y1="601.4" x2="253.6" y2="601.4" stroke="#ff0000" stroke-width="0.8"/>
<line x1="280.5" y1="601.4" x2="284.3" y2="601.4" stroke="#ff0000" stroke-width="0.8"/>
<line x1="282.4" y1="599.5" x2="282.4" y2="603.3" stroke="#ff0000" stroke-width="0.8"/>
<line x1="312.5" y1="601.4" x2="314.9" y2="601.4" stroke="#ff0000" stroke-width="0.8"/>
<line x1="219.4" y1="615.4" x2="221.8" y2="615.4" stroke="#ff0000" stroke-width="0.8"/>
<line x1="251.2" y1="615.4" x2="253.6" y2="615.4" stroke="#ff0000" stroke-width="0.8"/>
<line x1="281.2" y1="615.4" x2="283.6" y2="615.4" stroke="#ff0000" stroke-width="0.8"/>
<line x1="311.8" y1="615.4" x2="315.6" y2="615.4" stroke="#ff0000" stroke-width="0.8"/>
<line x1="313.7" y1="613.5" x2="313.7" y2="617.3" stroke="#ff0000" stroke-width="0.8"/>
<text transform="translate(171.2,538.6) rotate(-90)" font-size="9" stroke="#111" stroke-width="0.2" textLength="79.4" lengthAdjust="spacingAndGlyphs">% proliferating T cells</text>
<text x="207.4" y="456.7" font-size="9" stroke="#111" stroke-width="0.2" textLength="43.7" lengthAdjust="spacingAndGlyphs">p = 0.0078</text>
<path d="M213.1 468V460.5H248.8V465.7" stroke="#4a4a4a" stroke-width="0.9" fill="none"/>
<text x="247" y="437.4" font-size="9" stroke="#111" stroke-width="0.2" textLength="43.7" lengthAdjust="spacingAndGlyphs">p = 0.0078</text>
<path d="M251.1 449.4V442H286.6V449.4" stroke="#4a4a4a" stroke-width="0.9" fill="none"/>
<text x="273" y="469.6" font-size="9" stroke="#111" stroke-width="0.2" textLength="43.7" lengthAdjust="spacingAndGlyphs">p = 0.0313</text>
<path d="M278.2 480V472.5H313.3V480" stroke="#4a4a4a" stroke-width="0.9" fill="none"/>
<line x1="211.5" y1="558.7" x2="231.5" y2="558.7" stroke="#000" stroke-width="0.8"/>
<g fill="none" stroke="#000" stroke-width="0.75"><ellipse cx="212.9" cy="558.7" rx="1.5" ry="1.75"/><ellipse cx="214.6" cy="558.7" rx="1.5" ry="1.75"/><ellipse cx="216.3" cy="558.7" rx="1.5" ry="1.75"/><ellipse cx="218" cy="558.7" rx="1.5" ry="1.75"/><ellipse cx="219.7" cy="558.7" rx="1.5" ry="1.75"/><ellipse cx="221.4" cy="558.7" rx="1.5" ry="1.75"/><ellipse cx="223.1" cy="558.7" rx="1.5" ry="1.75"/><ellipse cx="224.8" cy="558.7" rx="1.5" ry="1.75"/><ellipse cx="226.5" cy="558.7" rx="1.5" ry="1.75"/><ellipse cx="228.2" cy="558.7" rx="1.5" ry="1.75"/><ellipse cx="229.9" cy="558.7" rx="1.5" ry="1.75"/></g>
<line x1="252.35" y1="466.4" x2="252.35" y2="473.2" stroke="#333" stroke-width="0.85"/>
<line x1="248.25" y1="466.4" x2="256.45" y2="466.4" stroke="#333" stroke-width="0.85"/>
<rect x="243" y="473.2" width="18.7" height="20.1" stroke="#333" stroke-width="0.85" fill="none"/>
<line x1="243" y1="482.7" x2="261.7" y2="482.7" stroke="#333" stroke-width="0.85"/>
<g fill="#fff" stroke="#222" stroke-width="0.75"><ellipse cx="252.2" cy="466.4" rx="2.1" ry="1.7"/><ellipse cx="247.7" cy="473" rx="2.1" ry="1.7"/><ellipse cx="256.1" cy="473" rx="2.1" ry="1.7"/><ellipse cx="247.7" cy="482" rx="2.1" ry="1.7"/><ellipse cx="256.1" cy="483.4" rx="2.1" ry="1.7"/><ellipse cx="244.1" cy="495.1" rx="2.1" ry="1.7"/><ellipse cx="252.2" cy="492.9" rx="2.1" ry="1.7"/><ellipse cx="260.1" cy="494" rx="2.1" ry="1.7"/></g>
<line x1="283" y1="504.6" x2="283" y2="527.9" stroke="#ff6e6e" stroke-width="0.95"/>
<line x1="278.9" y1="504.6" x2="287.1" y2="504.6" stroke="#ff6e6e" stroke-width="0.95"/>
<line x1="283" y1="544.2" x2="283" y2="558.5" stroke="#ff6e6e" stroke-width="0.95"/>
<line x1="278.9" y1="558.5" x2="287.1" y2="558.5" stroke="#ff6e6e" stroke-width="0.95"/>
<rect x="273.7" y="527.9" width="18.6" height="16.3" stroke="#ff6e6e" stroke-width="0.95" fill="none"/>
<line x1="273.7" y1="541.5" x2="292.3" y2="541.5" stroke="#ff6e6e" stroke-width="0.95"/>
<rect x="304.7" y="482.7" width="19.2" height="14.7" stroke="#ff6e6e" stroke-width="0.95" fill="none"/>
<line x1="304.7" y1="492.4" x2="323.9" y2="492.4" stroke="#ff6e6e" stroke-width="0.95"/>
<g fill="#ff0000"><circle cx="282.8" cy="504.6" r="2.2"/><circle cx="291.1" cy="525.7" r="2.2"/><circle cx="282.8" cy="529" r="2.2"/><circle cx="274.6" cy="541.5" r="2.2"/><circle cx="282.8" cy="540.4" r="2.2"/><circle cx="291.1" cy="542.2" r="2.2"/><circle cx="282.8" cy="546.7" r="2.2"/><circle cx="282.8" cy="558.5" r="2.2"/><circle cx="313.3" cy="457.1" r="2.2"/><circle cx="305.4" cy="490.1" r="2.2"/><circle cx="313.3" cy="492.4" r="2.2"/><circle cx="321.7" cy="492" r="2.2"/><circle cx="305.4" cy="496.9" r="2.2"/><circle cx="321.7" cy="495.6" r="2.2"/></g>
<text x="378.4" y="430.3" font-size="17">i</text>
<line x1="429.4" y1="439.6" x2="429.4" y2="558.3" stroke="#7a7a7a" stroke-width="1"/>
<line x1="424.2" y1="558.3" x2="429.4" y2="558.3" stroke="#7a7a7a" stroke-width="1"/>
<text x="423" y="561.34" font-size="8.8" stroke="#111" stroke-width="0.2" text-anchor="end">0</text>
<line x1="424.2" y1="528.69" x2="429.4" y2="528.69" stroke="#7a7a7a" stroke-width="1"/>
<text x="423" y="531.73" font-size="8.8" stroke="#111" stroke-width="0.2" text-anchor="end" textLength="22.4" lengthAdjust="spacingAndGlyphs">5 000</text>
<line x1="424.2" y1="499.08" x2="429.4" y2="499.08" stroke="#7a7a7a" stroke-width="1"/>
<text x="423" y="502.12" font-size="8.8" stroke="#111" stroke-width="0.2" text-anchor="end" textLength="28" lengthAdjust="spacingAndGlyphs">10 000</text>
<line x1="424.2" y1="469.47" x2="429.4" y2="469.47" stroke="#7a7a7a" stroke-width="1"/>
<text x="423" y="472.51" font-size="8.8" stroke="#111" stroke-width="0.2" text-anchor="end" textLength="28" lengthAdjust="spacingAndGlyphs">15 000</text>
<line x1="424.2" y1="439.86" x2="429.4" y2="439.86" stroke="#7a7a7a" stroke-width="1"/>
<text x="423" y="442.9" font-size="8.8" stroke="#111" stroke-width="0.2" text-anchor="end" textLength="28" lengthAdjust="spacingAndGlyphs">20 000</text>
<line x1="429.4" y1="558.3" x2="559.3" y2="558.3" stroke="#7a7a7a" stroke-width="1"/>
<line x1="450.1" y1="558.3" x2="450.1" y2="563.1" stroke="#7a7a7a" stroke-width="1"/>
<line x1="480.6" y1="558.3" x2="480.6" y2="563.1" stroke="#7a7a7a" stroke-width="1"/>
<line x1="511.1" y1="558.3" x2="511.1" y2="563.1" stroke="#7a7a7a" stroke-width="1"/>
<line x1="541.7" y1="558.3" x2="541.7" y2="563.1" stroke="#7a7a7a" stroke-width="1"/>
<text x="372.3" y="575.2" font-size="8.8" stroke="#111" stroke-width="0.2" textLength="61.9" lengthAdjust="spacingAndGlyphs">T Lymphocytes</text>
<text x="367" y="590.1" font-size="8.8" stroke="#111" stroke-width="0.2" textLength="73.9" lengthAdjust="spacingAndGlyphs">α-CD2/CD3/CD28</text>
<text x="379.6" y="604.7" font-size="8.8" stroke="#ff0000" stroke-width="0.2" fill="#ff0000" textLength="50.4" lengthAdjust="spacingAndGlyphs">Plasma cells</text>
<text x="391.2" y="618.4" font-size="8.8" stroke="#ff0000" stroke-width="0.2" fill="#ff0000" textLength="26" lengthAdjust="spacingAndGlyphs">B cells</text>
<line x1="448" y1="572.4" x2="451.8" y2="572.4" stroke="#111" stroke-width="0.8"/>
<line x1="449.9" y1="570.5" x2="449.9" y2="574.3" stroke="#111" stroke-width="0.8"/>
<line x1="477.8" y1="572.4" x2="481.6" y2="572.4" stroke="#111" stroke-width="0.8"/>
<line x1="479.7" y1="570.5" x2="479.7" y2="574.3" stroke="#111" stroke-width="0.8"/>
<line x1="509.3" y1="572.4" x2="513.1" y2="572.4" stroke="#111" stroke-width="0.8"/>
<line x1="511.2" y1="570.5" x2="511.2" y2="574.3" stroke="#111" stroke-width="0.8"/>
<line x1="539.7" y1="572.4" x2="543.5" y2="572.4" stroke="#111" stroke-width="0.8"/>
<line x1="541.6" y1="570.5" x2="541.6" y2="574.3" stroke="#111" stroke-width="0.8"/>
<line x1="448.7" y1="586.4" x2="451.1" y2="586.4" stroke="#111" stroke-width="0.8"/>
<line x1="477.8" y1="586.4" x2="481.6" y2="586.4" stroke="#111" stroke-width="0.8"/>
<line x1="479.7" y1="584.5" x2="479.7" y2="588.3" stroke="#111" stroke-width="0.8"/>
<line x1="509.3" y1="586.4" x2="513.1" y2="586.4" stroke="#111" stroke-width="0.8"/>
<line x1="511.2" y1="584.5" x2="511.2" y2="588.3" stroke="#111" stroke-width="0.8"/>
<line x1="539.7" y1="586.4" x2="543.5" y2="586.4" stroke="#111" stroke-width="0.8"/>
<line x1="541.6" y1="584.5" x2="541.6" y2="588.3" stroke="#111" stroke-width="0.8"/>
<line x1="448.7" y1="601.4" x2="451.1" y2="601.4" stroke="#ff0000" stroke-width="0.8"/>
<line x1="478.5" y1="601.4" x2="480.9" y2="601.4" stroke="#ff0000" stroke-width="0.8"/>
<line x1="509.3" y1="601.4" x2="513.1" y2="601.4" stroke="#ff0000" stroke-width="0.8"/>
<line x1="511.2" y1="599.5" x2="511.2" y2="603.3" stroke="#ff0000" stroke-width="0.8"/>
<line x1="540.4" y1="601.4" x2="542.8" y2="601.4" stroke="#ff0000" stroke-width="0.8"/>
<line x1="448.7" y1="615.4" x2="451.1" y2="615.4" stroke="#ff0000" stroke-width="0.8"/>
<line x1="478.5" y1="615.4" x2="480.9" y2="615.4" stroke="#ff0000" stroke-width="0.8"/>
<line x1="510" y1="615.4" x2="512.4" y2="615.4" stroke="#ff0000" stroke-width="0.8"/>
<line x1="539.7" y1="615.4" x2="543.5" y2="615.4" stroke="#ff0000" stroke-width="0.8"/>
<line x1="541.6" y1="613.5" x2="541.6" y2="617.3" stroke="#ff0000" stroke-width="0.8"/>
<text transform="translate(382.7,550.9) rotate(-90)" font-size="9.2" stroke="#111" stroke-width="0.2" textLength="107" lengthAdjust="spacingAndGlyphs">IFNg in supernatant (pg/mL)</text>
<text x="445.3" y="459.4" font-size="9" stroke="#111" stroke-width="0.2" textLength="38.1" lengthAdjust="spacingAndGlyphs">p = 0.001</text>
<path d="M447.5 470.3V462.7H482.8V470.3" stroke="#4a4a4a" stroke-width="0.9" fill="none"/>
<text x="475.6" y="484.5" font-size="9" stroke="#111" stroke-width="0.2" textLength="43.6" lengthAdjust="spacingAndGlyphs">p = 0.0098</text>
<path d="M479.5 495V487.8H515.1V495" stroke="#4a4a4a" stroke-width="0.9" fill="none"/>
<line x1="440" y1="557.6" x2="460" y2="557.6" stroke="#000" stroke-width="0.8"/>
<g fill="none" stroke="#000" stroke-width="0.75"><ellipse cx="441.4" cy="557.6" rx="1.5" ry="1.75"/><ellipse cx="443.1" cy="557.6" rx="1.5" ry="1.75"/><ellipse cx="444.8" cy="557.6" rx="1.5" ry="1.75"/><ellipse cx="446.5" cy="557.6" rx="1.5" ry="1.75"/><ellipse cx="448.2" cy="557.6" rx="1.5" ry="1.75"/><ellipse cx="449.9" cy="557.6" rx="1.5" ry="1.75"/><ellipse cx="451.6" cy="557.6" rx="1.5" ry="1.75"/><ellipse cx="453.3" cy="557.6" rx="1.5" ry="1.75"/><ellipse cx="455" cy="557.6" rx="1.5" ry="1.75"/><ellipse cx="456.7" cy="557.6" rx="1.5" ry="1.75"/><ellipse cx="458.4" cy="557.6" rx="1.5" ry="1.75"/></g>
<line x1="480.7" y1="502.3" x2="480.7" y2="505.2" stroke="#333" stroke-width="0.85"/>
<line x1="476" y1="502.3" x2="485.4" y2="502.3" stroke="#333" stroke-width="0.85"/>
<line x1="480.7" y1="538.1" x2="480.7" y2="548.5" stroke="#333" stroke-width="0.85"/>
<line x1="476" y1="548.5" x2="485.4" y2="548.5" stroke="#333" stroke-width="0.85"/>
<rect x="471.5" y="505.2" width="18.4" height="32.9" stroke="#333" stroke-width="0.85" fill="none"/>
<line x1="471.5" y1="532.1" x2="489.9" y2="532.1" stroke="#333" stroke-width="0.85"/>
<g fill="#fff" stroke="#222" stroke-width="0.75"><ellipse cx="480.6" cy="446.8" rx="2.1" ry="1.7"/><ellipse cx="472.2" cy="502.3" rx="2.1" ry="1.7"/><ellipse cx="480.4" cy="504.7" rx="2.1" ry="1.7"/><ellipse cx="480.4" cy="517.8" rx="2.1" ry="1.7"/><ellipse cx="472.2" cy="531.6" rx="2.1" ry="1.7"/><ellipse cx="480.4" cy="532.6" rx="2.1" ry="1.7"/><ellipse cx="488.7" cy="531.4" rx="2.1" ry="1.7"/><ellipse cx="472.5" cy="536.5" rx="2.1" ry="1.7"/><ellipse cx="488.7" cy="538.8" rx="2.1" ry="1.7"/><ellipse cx="480.4" cy="540.1" rx="2.1" ry="1.7"/><ellipse cx="480.4" cy="548.5" rx="2.1" ry="1.7"/></g>
<rect x="501.8" y="545.6" width="19.2" height="10.9" stroke="#ff6e6e" stroke-width="0.95" fill="none"/>
<line x1="501.8" y1="553.2" x2="521" y2="553.2" stroke="#ff6e6e" stroke-width="0.95"/>
<line x1="541.4" y1="531.4" x2="541.4" y2="534.2" stroke="#ff6e6e" stroke-width="0.95"/>
<line x1="537.4" y1="531.4" x2="545.4" y2="531.4" stroke="#ff6e6e" stroke-width="0.95"/>
<line x1="541.4" y1="539" x2="541.4" y2="543.4" stroke="#ff6e6e" stroke-width="0.95"/>
<line x1="537.4" y1="543.4" x2="545.4" y2="543.4" stroke="#ff6e6e" stroke-width="0.95"/>
<rect x="531.8" y="534.2" width="19.2" height="4.8" stroke="#ff6e6e" stroke-width="0.95" fill="none"/>
<line x1="531.8" y1="536.7" x2="551" y2="536.7" stroke="#ff6e6e" stroke-width="0.95"/>
<g fill="#ff0000"><circle cx="511.8" cy="516.1" r="2.2"/><circle cx="511" cy="544.5" r="2.2"/><circle cx="509" cy="547.1" r="2.2"/><circle cx="503.5" cy="548.8" r="2.2"/><circle cx="503.5" cy="552.5" r="2.2"/><circle cx="509" cy="552.5" r="2.2"/><circle cx="514.8" cy="552.5" r="2.2"/><circle cx="520.3" cy="549.5" r="2.2"/><circle cx="503.5" cy="556.5" r="2.2"/><circle cx="509" cy="556.5" r="2.2"/><circle cx="514.8" cy="556.5" r="2.2"/><circle cx="520.3" cy="555.4" r="2.2"/><circle cx="515" cy="546.5" r="2.2"/><circle cx="541.7" cy="532" r="2.2"/><circle cx="533" cy="536.2" r="2.2"/><circle cx="541.7" cy="537.3" r="2.2"/><circle cx="549.3" cy="537.3" r="2.2"/><circle cx="541.7" cy="543.4" r="2.2"/></g>
</svg></body></html>
